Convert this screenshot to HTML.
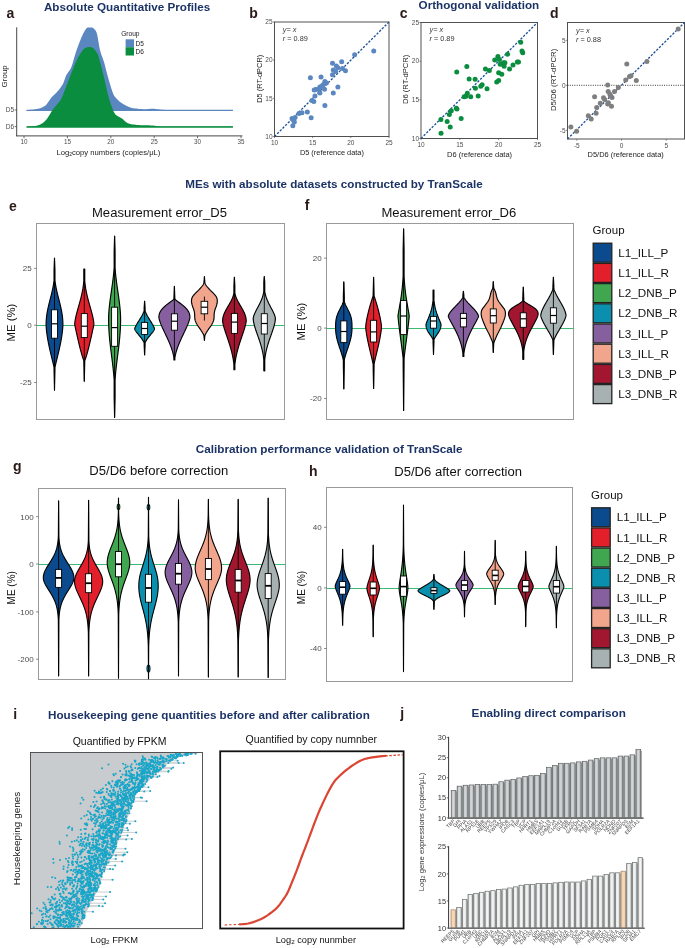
<!DOCTYPE html><html><head><meta charset="utf-8"><style>html,body{margin:0;padding:0;background:#fff;}svg{display:block;font-family:"Liberation Sans", sans-serif;will-change:transform;}</style></head><body><svg width="685" height="948" viewBox="0 0 685 948" font-family='"Liberation Sans", sans-serif'>
<rect x="0.00" y="0.00" width="685.00" height="948.00" fill="#fff" stroke="none" stroke-width="1"/>
<text x="43.90" y="11.00" font-size="11.65" fill="#1c3366" font-weight="bold" textLength="166.40" lengthAdjust="spacingAndGlyphs">Absolute Quantitative Profiles</text>
<text x="6.40" y="18.20" font-size="14.00" fill="#2a1a18" font-weight="bold">a</text>
<polygon points="26.60,110.10 27.51,110.01 28.74,109.92 30.21,109.80 31.83,109.66 33.51,109.50 35.16,109.30 36.68,109.07 38.00,108.80 39.14,108.50 40.19,108.20 41.18,107.86 42.11,107.49 42.99,107.07 43.84,106.59 44.68,106.04 45.50,105.40 46.30,104.64 47.05,103.75 47.77,102.77 48.46,101.74 49.14,100.70 49.82,99.66 50.50,98.69 51.20,97.80 51.91,97.01 52.62,96.29 53.34,95.61 54.05,94.95 54.76,94.29 55.48,93.61 56.19,92.89 56.90,92.10 57.63,91.25 58.37,90.38 59.12,89.47 59.87,88.54 60.60,87.57 61.31,86.58 61.98,85.55 62.60,84.50 63.16,83.39 63.66,82.21 64.12,80.99 64.56,79.75 64.99,78.51 65.42,77.29 65.89,76.11 66.40,75.00 66.95,74.01 67.53,73.14 68.13,72.34 68.74,71.55 69.36,70.72 69.98,69.78 70.60,68.70 71.20,67.40 71.79,65.87 72.36,64.15 72.93,62.29 73.49,60.33 74.07,58.30 74.66,56.26 75.27,54.24 75.90,52.30 76.57,50.36 77.28,48.35 78.01,46.32 78.75,44.29 79.49,42.32 80.22,40.44 80.93,38.68 81.60,37.10 82.25,35.66 82.88,34.31 83.50,33.05 84.11,31.91 84.69,30.87 85.25,29.95 85.79,29.16 86.30,28.50 86.77,28.01 87.20,27.70 87.60,27.54 87.98,27.49 88.34,27.50 88.71,27.55 89.10,27.60 89.50,27.60 89.92,27.55 90.35,27.49 90.78,27.44 91.21,27.41 91.65,27.43 92.10,27.53 92.55,27.71 93.00,28.00 93.46,28.35 93.94,28.71 94.43,29.13 94.92,29.63 95.41,30.26 95.89,31.06 96.35,32.06 96.80,33.30 97.22,34.87 97.62,36.78 98.01,38.93 98.39,41.23 98.77,43.58 99.16,45.89 99.57,48.06 100.00,50.00 100.47,51.74 100.98,53.38 101.50,54.93 102.04,56.42 102.57,57.85 103.08,59.25 103.56,60.63 104.00,62.00 104.39,63.33 104.73,64.58 105.04,65.79 105.33,66.97 105.62,68.15 105.92,69.37 106.24,70.64 106.60,72.00 107.00,73.47 107.42,75.03 107.87,76.66 108.32,78.31 108.78,79.96 109.24,81.56 109.68,83.09 110.10,84.50 110.50,85.82 110.89,87.11 111.27,88.34 111.65,89.51 112.02,90.62 112.38,91.66 112.74,92.62 113.10,93.50 113.43,94.25 113.72,94.88 113.99,95.41 114.26,95.88 114.55,96.31 114.89,96.76 115.30,97.24 115.80,97.80 116.38,98.43 117.02,99.10 117.72,99.79 118.47,100.49 119.27,101.20 120.11,101.89 120.99,102.57 121.90,103.20 122.87,103.82 123.91,104.44 125.01,105.06 126.14,105.66 127.29,106.22 128.44,106.74 129.59,107.21 130.70,107.60 131.81,107.92 132.93,108.17 134.06,108.36 135.19,108.51 136.30,108.62 137.37,108.72 138.41,108.81 139.40,108.90 140.33,108.99 141.20,109.06 142.03,109.12 142.84,109.16 143.62,109.19 144.41,109.20 145.19,109.21 146.00,109.20 146.82,109.17 147.66,109.11 148.49,109.02 149.32,108.93 150.14,108.84 150.95,108.77 151.74,108.72 152.50,108.70 153.24,108.72 153.95,108.78 154.64,108.85 155.31,108.94 155.98,109.03 156.65,109.13 157.32,109.22 158.00,109.30 158.65,109.37 159.23,109.44 159.80,109.51 160.38,109.57 161.00,109.64 161.70,109.70 162.53,109.75 163.50,109.80 164.33,109.84 164.87,109.88 165.33,109.91 165.97,109.93 167.03,109.95 168.72,109.97 171.30,109.99 175.00,110.00 180.41,110.01 187.57,110.01 195.86,110.01 204.67,110.01 213.39,110.01 221.41,110.00 228.12,110.00 232.90,110.00 232.9,110.9 26.6,110.9" fill="#5b87c1"/>
<line x1="26.60" y1="110.30" x2="232.90" y2="110.30" stroke="#5b87c1" stroke-width="1.3"/>
<polygon points="26.60,126.60 27.51,126.52 28.74,126.45 30.21,126.36 31.83,126.24 33.51,126.09 35.16,125.89 36.68,125.63 38.00,125.30 39.12,124.92 40.15,124.52 41.09,124.08 41.99,123.58 42.85,123.00 43.71,122.33 44.58,121.53 45.50,120.60 46.45,119.48 47.39,118.18 48.34,116.73 49.29,115.20 50.25,113.63 51.20,112.07 52.15,110.58 53.10,109.20 54.07,107.93 55.07,106.74 56.07,105.58 57.08,104.45 58.06,103.32 59.00,102.16 59.88,100.97 60.70,99.70 61.42,98.40 62.05,97.12 62.63,95.81 63.16,94.47 63.69,93.08 64.24,91.60 64.83,90.01 65.50,88.30 66.25,86.41 67.04,84.33 67.88,82.13 68.74,79.86 69.61,77.58 70.47,75.33 71.31,73.19 72.10,71.20 72.86,69.33 73.59,67.52 74.30,65.76 75.01,64.07 75.70,62.44 76.40,60.89 77.09,59.40 77.80,58.00 78.52,56.66 79.25,55.38 79.98,54.16 80.71,53.02 81.44,51.96 82.15,51.00 82.84,50.14 83.50,49.40 84.13,48.79 84.74,48.30 85.33,47.93 85.91,47.65 86.47,47.44 87.04,47.30 87.61,47.19 88.20,47.10 88.80,47.03 89.40,47.00 90.00,47.01 90.60,47.08 91.20,47.21 91.80,47.41 92.40,47.71 93.00,48.10 93.61,48.61 94.24,49.23 94.88,49.94 95.51,50.73 96.12,51.56 96.70,52.44 97.23,53.32 97.70,54.20 98.10,55.08 98.44,56.00 98.73,56.94 98.99,57.91 99.23,58.90 99.47,59.91 99.72,60.95 100.00,62.00 100.30,63.06 100.60,64.12 100.90,65.19 101.21,66.29 101.52,67.42 101.84,68.61 102.16,69.87 102.50,71.20 102.85,72.63 103.21,74.15 103.59,75.75 103.97,77.39 104.35,79.06 104.74,80.73 105.12,82.38 105.50,84.00 105.88,85.61 106.25,87.24 106.62,88.88 107.00,90.51 107.38,92.12 107.75,93.68 108.12,95.18 108.50,96.60 108.87,97.94 109.23,99.20 109.59,100.41 109.95,101.57 110.32,102.70 110.69,103.81 111.09,104.90 111.50,106.00 111.92,107.11 112.33,108.23 112.74,109.33 113.17,110.42 113.63,111.46 114.13,112.45 114.69,113.37 115.30,114.20 115.99,114.92 116.75,115.53 117.57,116.07 118.43,116.55 119.30,117.01 120.18,117.47 121.06,117.96 121.90,118.50 122.70,119.11 123.45,119.78 124.19,120.47 124.93,121.17 125.71,121.84 126.55,122.47 127.47,123.03 128.50,123.50 129.69,123.87 131.02,124.17 132.46,124.41 133.95,124.60 135.44,124.75 136.88,124.88 138.21,124.99 139.40,125.10 140.43,125.19 141.35,125.25 142.19,125.28 142.98,125.29 143.72,125.29 144.46,125.28 145.21,125.28 146.00,125.30 146.82,125.32 147.66,125.34 148.49,125.35 149.32,125.37 150.14,125.39 150.95,125.41 151.74,125.45 152.50,125.50 153.22,125.57 153.89,125.65 154.54,125.74 155.17,125.84 155.82,125.94 156.49,126.03 157.21,126.12 158.00,126.20 158.85,126.27 159.73,126.33 160.66,126.39 161.61,126.44 162.60,126.49 163.61,126.54 164.65,126.57 165.70,126.60 166.45,126.62 166.77,126.63 166.93,126.63 167.21,126.62 167.88,126.62 169.22,126.61 171.50,126.60 175.00,126.60 180.31,126.60 187.41,126.60 195.70,126.60 204.53,126.60 213.29,126.60 221.36,126.60 228.10,126.60 232.90,126.60 232.9,127.4 26.6,127.4" fill="#0a8d3e"/>
<line x1="26.60" y1="126.90" x2="232.90" y2="126.90" stroke="#0a8d3e" stroke-width="1.3"/>
<line x1="16.70" y1="27.30" x2="16.70" y2="136.20" stroke="#333" stroke-width="0.9"/>
<line x1="16.20" y1="135.90" x2="242.40" y2="135.90" stroke="#333" stroke-width="0.9"/>
<line x1="24.00" y1="136.00" x2="24.00" y2="138.20" stroke="#333" stroke-width="0.7"/>
<text x="24.00" y="144.30" font-size="6.30" fill="#4d4d4d" text-anchor="middle">10</text>
<line x1="67.40" y1="136.00" x2="67.40" y2="138.20" stroke="#333" stroke-width="0.7"/>
<text x="67.40" y="144.30" font-size="6.30" fill="#4d4d4d" text-anchor="middle">15</text>
<line x1="110.80" y1="136.00" x2="110.80" y2="138.20" stroke="#333" stroke-width="0.7"/>
<text x="110.80" y="144.30" font-size="6.30" fill="#4d4d4d" text-anchor="middle">20</text>
<line x1="154.20" y1="136.00" x2="154.20" y2="138.20" stroke="#333" stroke-width="0.7"/>
<text x="154.20" y="144.30" font-size="6.30" fill="#4d4d4d" text-anchor="middle">25</text>
<line x1="197.60" y1="136.00" x2="197.60" y2="138.20" stroke="#333" stroke-width="0.7"/>
<text x="197.60" y="144.30" font-size="6.30" fill="#4d4d4d" text-anchor="middle">30</text>
<line x1="241.00" y1="136.00" x2="241.00" y2="138.20" stroke="#333" stroke-width="0.7"/>
<text x="241.00" y="144.30" font-size="6.30" fill="#4d4d4d" text-anchor="middle">35</text>
<line x1="14.60" y1="110.00" x2="16.70" y2="110.00" stroke="#333" stroke-width="0.7"/>
<text x="14.00" y="112.20" font-size="6.50" fill="#4d4d4d" text-anchor="end">D5</text>
<line x1="14.60" y1="126.60" x2="16.70" y2="126.60" stroke="#333" stroke-width="0.7"/>
<text x="14.00" y="128.80" font-size="6.50" fill="#4d4d4d" text-anchor="end">D6</text>
<text x="6.60" y="76.30" font-size="8.00" fill="#222" text-anchor="middle" transform="rotate(-90 6.60 76.30)">Group</text>
<text x="56.4" y="154.6" font-size="7.6" fill="#222" textLength="104" lengthAdjust="spacingAndGlyphs">Log<tspan font-size="5" dy="1.5">2</tspan><tspan dy="-1.5">copy numbers (copies/μL)</tspan></text>
<text x="121.20" y="35.80" font-size="6.60" fill="#222">Group</text>
<rect x="125.60" y="39.30" width="8.40" height="7.90" fill="#5b87c1" stroke="none" stroke-width="1"/>
<rect x="125.60" y="47.20" width="8.40" height="8.30" fill="#0a8d3e" stroke="none" stroke-width="1"/>
<text x="135.50" y="45.70" font-size="6.50" fill="#222">D5</text>
<text x="135.50" y="54.00" font-size="6.50" fill="#222">D6</text>
<rect x="274.50" y="22.00" width="114.50" height="114.50" fill="#fff" stroke="#505050" stroke-width="1.0"/>
<line x1="274.50" y1="136.50" x2="274.50" y2="138.10" stroke="#555" stroke-width="0.7"/>
<text x="274.50" y="145.00" font-size="6.50" fill="#4d4d4d" text-anchor="middle">10</text>
<line x1="312.67" y1="136.50" x2="312.67" y2="138.10" stroke="#555" stroke-width="0.7"/>
<text x="312.67" y="145.00" font-size="6.50" fill="#4d4d4d" text-anchor="middle">15</text>
<line x1="350.83" y1="136.50" x2="350.83" y2="138.10" stroke="#555" stroke-width="0.7"/>
<text x="350.83" y="145.00" font-size="6.50" fill="#4d4d4d" text-anchor="middle">20</text>
<line x1="389.00" y1="136.50" x2="389.00" y2="138.10" stroke="#555" stroke-width="0.7"/>
<text x="389.00" y="145.00" font-size="6.50" fill="#4d4d4d" text-anchor="middle">25</text>
<line x1="272.90" y1="136.50" x2="274.50" y2="136.50" stroke="#555" stroke-width="0.7"/>
<text x="272.60" y="138.75" font-size="6.50" fill="#4d4d4d" text-anchor="end">10</text>
<line x1="272.90" y1="98.33" x2="274.50" y2="98.33" stroke="#555" stroke-width="0.7"/>
<text x="272.60" y="100.58" font-size="6.50" fill="#4d4d4d" text-anchor="end">15</text>
<line x1="272.90" y1="60.17" x2="274.50" y2="60.17" stroke="#555" stroke-width="0.7"/>
<text x="272.60" y="62.42" font-size="6.50" fill="#4d4d4d" text-anchor="end">20</text>
<line x1="272.90" y1="22.00" x2="274.50" y2="22.00" stroke="#555" stroke-width="0.7"/>
<text x="272.60" y="24.25" font-size="6.50" fill="#4d4d4d" text-anchor="end">25</text>
<line x1="274.50" y1="136.50" x2="389.00" y2="22.00" stroke="#164d94" stroke-width="1.3" stroke-dasharray="2.3,1.5"/>
<circle cx="373.73" cy="51.01" r="2.5" fill="#5b87c1"/>
<circle cx="354.65" cy="54.82" r="2.5" fill="#5b87c1"/>
<circle cx="341.67" cy="61.69" r="2.5" fill="#5b87c1"/>
<circle cx="332.51" cy="63.22" r="2.5" fill="#5b87c1"/>
<circle cx="336.33" cy="65.89" r="2.5" fill="#5b87c1"/>
<circle cx="337.86" cy="67.80" r="2.5" fill="#5b87c1"/>
<circle cx="333.28" cy="70.09" r="2.5" fill="#5b87c1"/>
<circle cx="335.57" cy="71.62" r="2.5" fill="#5b87c1"/>
<circle cx="342.44" cy="68.56" r="2.5" fill="#5b87c1"/>
<circle cx="345.49" cy="70.85" r="2.5" fill="#5b87c1"/>
<circle cx="332.51" cy="74.67" r="2.5" fill="#5b87c1"/>
<circle cx="310.38" cy="77.72" r="2.5" fill="#5b87c1"/>
<circle cx="321.06" cy="76.96" r="2.5" fill="#5b87c1"/>
<circle cx="324.88" cy="81.54" r="2.5" fill="#5b87c1"/>
<circle cx="323.35" cy="84.59" r="2.5" fill="#5b87c1"/>
<circle cx="319.92" cy="86.88" r="2.5" fill="#5b87c1"/>
<circle cx="318.01" cy="89.17" r="2.5" fill="#5b87c1"/>
<circle cx="314.19" cy="89.94" r="2.5" fill="#5b87c1"/>
<circle cx="315.72" cy="89.56" r="2.5" fill="#5b87c1"/>
<circle cx="324.50" cy="89.17" r="2.5" fill="#5b87c1"/>
<circle cx="337.86" cy="86.88" r="2.5" fill="#5b87c1"/>
<circle cx="319.92" cy="92.99" r="2.5" fill="#5b87c1"/>
<circle cx="333.28" cy="92.99" r="2.5" fill="#5b87c1"/>
<circle cx="314.96" cy="96.04" r="2.5" fill="#5b87c1"/>
<circle cx="311.90" cy="100.62" r="2.5" fill="#5b87c1"/>
<circle cx="313.81" cy="101.39" r="2.5" fill="#5b87c1"/>
<circle cx="324.88" cy="105.58" r="2.5" fill="#5b87c1"/>
<circle cx="307.32" cy="112.07" r="2.5" fill="#5b87c1"/>
<circle cx="301.98" cy="112.84" r="2.5" fill="#5b87c1"/>
<circle cx="298.93" cy="113.60" r="2.5" fill="#5b87c1"/>
<circle cx="295.11" cy="117.42" r="2.5" fill="#5b87c1"/>
<circle cx="292.06" cy="118.56" r="2.5" fill="#5b87c1"/>
<circle cx="293.58" cy="120.47" r="2.5" fill="#5b87c1"/>
<circle cx="294.35" cy="122.00" r="2.5" fill="#5b87c1"/>
<circle cx="292.82" cy="125.81" r="2.5" fill="#5b87c1"/>
<circle cx="311.14" cy="117.80" r="2.5" fill="#5b87c1"/>
<circle cx="326.41" cy="83.07" r="2.5" fill="#5b87c1"/>
<circle cx="321.83" cy="86.12" r="2.5" fill="#5b87c1"/>
<text x="282.80" y="32.00" font-size="7.30" fill="#333" font-style="italic">y= x</text>
<text x="282.8" y="40.8" font-size="7.3" fill="#333"><tspan font-style="italic">r</tspan> = 0.89</text>
<text x="249.30" y="17.80" font-size="14.00" fill="#2a1a18" font-weight="bold">b</text>
<text x="261.70" y="78.80" font-size="7.35" fill="#222" text-anchor="middle" textLength="48.10" lengthAdjust="spacingAndGlyphs" transform="rotate(-90 261.70 78.80)">D5 (RT-dPCR)</text>
<text x="331.90" y="154.90" font-size="7.40" fill="#222" text-anchor="middle" textLength="64.00" lengthAdjust="spacingAndGlyphs">D5 (reference data)</text>
<rect x="421.00" y="22.50" width="116.50" height="116.00" fill="#fff" stroke="#505050" stroke-width="1.0"/>
<line x1="421.00" y1="138.50" x2="421.00" y2="140.10" stroke="#555" stroke-width="0.7"/>
<text x="421.00" y="147.00" font-size="6.50" fill="#4d4d4d" text-anchor="middle">10</text>
<line x1="459.83" y1="138.50" x2="459.83" y2="140.10" stroke="#555" stroke-width="0.7"/>
<text x="459.83" y="147.00" font-size="6.50" fill="#4d4d4d" text-anchor="middle">15</text>
<line x1="498.67" y1="138.50" x2="498.67" y2="140.10" stroke="#555" stroke-width="0.7"/>
<text x="498.67" y="147.00" font-size="6.50" fill="#4d4d4d" text-anchor="middle">20</text>
<line x1="537.50" y1="138.50" x2="537.50" y2="140.10" stroke="#555" stroke-width="0.7"/>
<text x="537.50" y="147.00" font-size="6.50" fill="#4d4d4d" text-anchor="middle">25</text>
<line x1="419.40" y1="138.50" x2="421.00" y2="138.50" stroke="#555" stroke-width="0.7"/>
<text x="419.10" y="140.75" font-size="6.50" fill="#4d4d4d" text-anchor="end">10</text>
<line x1="419.40" y1="99.83" x2="421.00" y2="99.83" stroke="#555" stroke-width="0.7"/>
<text x="419.10" y="102.08" font-size="6.50" fill="#4d4d4d" text-anchor="end">15</text>
<line x1="419.40" y1="61.17" x2="421.00" y2="61.17" stroke="#555" stroke-width="0.7"/>
<text x="419.10" y="63.42" font-size="6.50" fill="#4d4d4d" text-anchor="end">20</text>
<line x1="419.40" y1="22.50" x2="421.00" y2="22.50" stroke="#555" stroke-width="0.7"/>
<text x="419.10" y="24.75" font-size="6.50" fill="#4d4d4d" text-anchor="end">25</text>
<line x1="421.00" y1="138.50" x2="537.50" y2="22.50" stroke="#164d94" stroke-width="1.3" stroke-dasharray="2.3,1.5"/>
<circle cx="520.72" cy="42.14" r="2.5" fill="#0a8d3e"/>
<circle cx="522.74" cy="52.66" r="2.5" fill="#0a8d3e"/>
<circle cx="521.97" cy="51.11" r="2.5" fill="#0a8d3e"/>
<circle cx="507.60" cy="54.21" r="2.5" fill="#0a8d3e"/>
<circle cx="497.89" cy="56.53" r="2.5" fill="#0a8d3e"/>
<circle cx="494.78" cy="60.01" r="2.5" fill="#0a8d3e"/>
<circle cx="499.44" cy="59.62" r="2.5" fill="#0a8d3e"/>
<circle cx="503.33" cy="62.71" r="2.5" fill="#0a8d3e"/>
<circle cx="500.22" cy="64.26" r="2.5" fill="#0a8d3e"/>
<circle cx="504.10" cy="66.19" r="2.5" fill="#0a8d3e"/>
<circle cx="513.03" cy="65.03" r="2.5" fill="#0a8d3e"/>
<circle cx="518.47" cy="61.94" r="2.5" fill="#0a8d3e"/>
<circle cx="517.31" cy="61.94" r="2.5" fill="#0a8d3e"/>
<circle cx="509.54" cy="68.90" r="2.5" fill="#0a8d3e"/>
<circle cx="485.46" cy="68.90" r="2.5" fill="#0a8d3e"/>
<circle cx="489.35" cy="70.45" r="2.5" fill="#0a8d3e"/>
<circle cx="466.82" cy="66.58" r="2.5" fill="#0a8d3e"/>
<circle cx="456.73" cy="71.99" r="2.5" fill="#0a8d3e"/>
<circle cx="498.67" cy="72.77" r="2.5" fill="#0a8d3e"/>
<circle cx="501.77" cy="74.31" r="2.5" fill="#0a8d3e"/>
<circle cx="469.15" cy="78.95" r="2.5" fill="#0a8d3e"/>
<circle cx="475.13" cy="79.19" r="2.5" fill="#0a8d3e"/>
<circle cx="498.67" cy="80.50" r="2.5" fill="#0a8d3e"/>
<circle cx="496.73" cy="82.05" r="2.5" fill="#0a8d3e"/>
<circle cx="482.12" cy="84.68" r="2.5" fill="#0a8d3e"/>
<circle cx="480.80" cy="86.15" r="2.5" fill="#0a8d3e"/>
<circle cx="475.37" cy="88.23" r="2.5" fill="#0a8d3e"/>
<circle cx="487.02" cy="88.77" r="2.5" fill="#0a8d3e"/>
<circle cx="467.29" cy="93.34" r="2.5" fill="#0a8d3e"/>
<circle cx="466.05" cy="96.20" r="2.5" fill="#0a8d3e"/>
<circle cx="464.18" cy="96.66" r="2.5" fill="#0a8d3e"/>
<circle cx="470.71" cy="96.66" r="2.5" fill="#0a8d3e"/>
<circle cx="478.16" cy="95.97" r="2.5" fill="#0a8d3e"/>
<circle cx="456.34" cy="108.34" r="2.5" fill="#0a8d3e"/>
<circle cx="456.96" cy="109.11" r="2.5" fill="#0a8d3e"/>
<circle cx="451.29" cy="110.66" r="2.5" fill="#0a8d3e"/>
<circle cx="449.35" cy="114.53" r="2.5" fill="#0a8d3e"/>
<circle cx="461.15" cy="118.39" r="2.5" fill="#0a8d3e"/>
<circle cx="440.88" cy="119.55" r="2.5" fill="#0a8d3e"/>
<circle cx="447.17" cy="121.49" r="2.5" fill="#0a8d3e"/>
<circle cx="450.20" cy="126.90" r="2.5" fill="#0a8d3e"/>
<circle cx="441.04" cy="133.24" r="2.5" fill="#0a8d3e"/>
<circle cx="504.88" cy="62.71" r="2.5" fill="#0a8d3e"/>
<text x="429.50" y="32.00" font-size="7.30" fill="#333" font-style="italic">y= x</text>
<text x="429.5" y="40.8" font-size="7.3" fill="#333"><tspan font-style="italic">r</tspan> = 0.89</text>
<text x="399.80" y="18.10" font-size="14.00" fill="#2a1a18" font-weight="bold">c</text>
<text x="407.60" y="79.40" font-size="7.35" fill="#222" text-anchor="middle" textLength="49.30" lengthAdjust="spacingAndGlyphs" transform="rotate(-90 407.60 79.40)">D6 (RT-dPCR)</text>
<text x="479.60" y="157.00" font-size="7.40" fill="#222" text-anchor="middle" textLength="65.00" lengthAdjust="spacingAndGlyphs">D6 (reference data)</text>
<text x="418.60" y="8.60" font-size="11.67" fill="#1c3366" font-weight="bold" textLength="120.60" lengthAdjust="spacingAndGlyphs">Orthogonal validation</text>
<rect x="567.50" y="22.50" width="117.00" height="116.50" fill="#fff" stroke="#505050" stroke-width="1.0"/>
<line x1="576.80" y1="139.00" x2="576.80" y2="140.60" stroke="#555" stroke-width="0.7"/>
<text x="576.80" y="147.50" font-size="6.50" fill="#4d4d4d" text-anchor="middle">-5</text>
<line x1="565.90" y1="130.30" x2="567.50" y2="130.30" stroke="#555" stroke-width="0.7"/>
<text x="565.60" y="132.55" font-size="6.50" fill="#4d4d4d" text-anchor="end">-5</text>
<line x1="621.50" y1="139.00" x2="621.50" y2="140.60" stroke="#555" stroke-width="0.7"/>
<text x="621.50" y="147.50" font-size="6.50" fill="#4d4d4d" text-anchor="middle">0</text>
<line x1="565.90" y1="85.30" x2="567.50" y2="85.30" stroke="#555" stroke-width="0.7"/>
<text x="565.60" y="87.55" font-size="6.50" fill="#4d4d4d" text-anchor="end">0</text>
<line x1="666.20" y1="139.00" x2="666.20" y2="140.60" stroke="#555" stroke-width="0.7"/>
<text x="666.20" y="147.50" font-size="6.50" fill="#4d4d4d" text-anchor="middle">5</text>
<line x1="565.90" y1="40.30" x2="567.50" y2="40.30" stroke="#555" stroke-width="0.7"/>
<text x="565.60" y="42.55" font-size="6.50" fill="#4d4d4d" text-anchor="end">5</text>
<line x1="567.50" y1="85.30" x2="684.50" y2="85.30" stroke="#222" stroke-width="0.9" stroke-dasharray="1,1.3"/>
<line x1="567.50" y1="139.00" x2="684.50" y2="22.50" stroke="#164d94" stroke-width="1.3" stroke-dasharray="2.3,1.5"/>
<circle cx="678.20" cy="29.00" r="2.5" fill="#7f7f7f"/>
<circle cx="626.80" cy="64.10" r="2.5" fill="#7f7f7f"/>
<circle cx="646.90" cy="61.40" r="2.5" fill="#7f7f7f"/>
<circle cx="631.00" cy="75.80" r="2.5" fill="#7f7f7f"/>
<circle cx="625.70" cy="80.00" r="2.5" fill="#7f7f7f"/>
<circle cx="636.30" cy="80.40" r="2.5" fill="#7f7f7f"/>
<circle cx="607.70" cy="85.10" r="2.5" fill="#7f7f7f"/>
<circle cx="618.30" cy="87.40" r="2.5" fill="#7f7f7f"/>
<circle cx="614.50" cy="91.40" r="2.5" fill="#7f7f7f"/>
<circle cx="608.20" cy="91.40" r="2.5" fill="#7f7f7f"/>
<circle cx="609.90" cy="94.20" r="2.5" fill="#7f7f7f"/>
<circle cx="612.00" cy="97.40" r="2.5" fill="#7f7f7f"/>
<circle cx="594.60" cy="96.70" r="2.5" fill="#7f7f7f"/>
<circle cx="603.50" cy="97.80" r="2.5" fill="#7f7f7f"/>
<circle cx="604.60" cy="99.50" r="2.5" fill="#7f7f7f"/>
<circle cx="608.40" cy="102.70" r="2.5" fill="#7f7f7f"/>
<circle cx="600.30" cy="103.30" r="2.5" fill="#7f7f7f"/>
<circle cx="607.70" cy="104.10" r="2.5" fill="#7f7f7f"/>
<circle cx="611.50" cy="106.30" r="2.5" fill="#7f7f7f"/>
<circle cx="596.70" cy="107.50" r="2.5" fill="#7f7f7f"/>
<circle cx="596.10" cy="113.30" r="2.5" fill="#7f7f7f"/>
<circle cx="588.30" cy="115.80" r="2.5" fill="#7f7f7f"/>
<circle cx="591.20" cy="119.00" r="2.5" fill="#7f7f7f"/>
<circle cx="570.90" cy="127.00" r="2.5" fill="#7f7f7f"/>
<circle cx="576.60" cy="131.20" r="2.5" fill="#7f7f7f"/>
<circle cx="629.50" cy="76.50" r="2.5" fill="#7f7f7f"/>
<circle cx="610.50" cy="96.00" r="2.5" fill="#7f7f7f"/>
<text x="576.00" y="33.30" font-size="7.30" fill="#333" font-style="italic">y= x</text>
<text x="576.0" y="42.2" font-size="7.3" fill="#333"><tspan font-style="italic">r</tspan> = 0.88</text>
<text x="549.90" y="18.00" font-size="14.00" fill="#2a1a18" font-weight="bold">d</text>
<text x="556.10" y="79.90" font-size="7.50" fill="#222" text-anchor="middle" textLength="62.40" lengthAdjust="spacingAndGlyphs" transform="rotate(-90 556.10 79.90)">D5/D6 (RT-dPCR)</text>
<text x="625.70" y="157.00" font-size="7.45" fill="#222" text-anchor="middle" textLength="76.20" lengthAdjust="spacingAndGlyphs">D5/D6 (reference data)</text>
<text x="185.30" y="187.90" font-size="11.63" fill="#1c3366" font-weight="bold" textLength="297.40" lengthAdjust="spacingAndGlyphs">MEs with absolute datasets constructed by TranScale</text>
<rect x="36.50" y="223.50" width="248.00" height="196.00" fill="#fff" stroke="#9a9a9a" stroke-width="1.0"/>
<line x1="36.50" y1="325.50" x2="285.00" y2="325.50" stroke="#3cb975" stroke-width="1.0"/>
<line x1="34.10" y1="268.40" x2="36.50" y2="268.40" stroke="#555" stroke-width="0.7"/>
<text x="31.60" y="271.20" font-size="8.00" fill="#4d4d4d" text-anchor="end">25</text>
<line x1="34.10" y1="325.20" x2="36.50" y2="325.20" stroke="#555" stroke-width="0.7"/>
<text x="31.60" y="328.00" font-size="8.00" fill="#4d4d4d" text-anchor="end">0</text>
<line x1="34.10" y1="382.50" x2="36.50" y2="382.50" stroke="#555" stroke-width="0.7"/>
<text x="31.60" y="385.30" font-size="8.00" fill="#4d4d4d" text-anchor="end">-25</text>
<polygon points="54.50,258.10 54.53,258.76 54.55,259.42 54.58,260.08 54.60,260.74 54.63,261.41 54.66,262.07 54.68,262.73 54.71,263.39 54.73,264.05 54.76,264.71 54.78,265.37 54.81,266.03 54.84,266.69 54.86,267.35 54.89,268.02 54.91,268.68 54.94,269.34 54.95,270.00 54.95,270.66 54.95,271.32 54.95,271.98 54.95,272.64 54.95,273.30 54.95,273.96 54.95,274.62 54.95,275.29 54.95,275.95 54.95,276.61 54.95,277.27 54.95,277.93 54.95,278.59 54.95,279.25 54.95,279.91 54.98,280.57 55.06,281.24 55.14,281.90 55.22,282.56 55.32,283.22 55.41,283.88 55.52,284.54 55.63,285.20 55.74,285.86 55.86,286.52 55.98,287.18 56.11,287.85 56.24,288.51 56.38,289.17 56.52,289.83 56.67,290.49 56.82,291.15 56.97,291.81 57.12,292.47 57.28,293.13 57.44,293.79 57.60,294.46 57.77,295.12 57.93,295.78 58.10,296.44 58.27,297.10 58.44,297.76 58.61,298.42 58.78,299.08 58.95,299.74 59.12,300.40 59.28,301.07 59.45,301.73 59.62,302.39 59.78,303.05 59.95,303.71 60.11,304.37 60.27,305.03 60.42,305.69 60.58,306.35 60.73,307.01 60.87,307.68 61.02,308.34 61.16,309.00 61.29,309.66 61.42,310.32 61.55,310.98 61.67,311.64 61.79,312.30 61.90,312.96 62.01,313.62 62.11,314.29 62.21,314.95 62.30,315.61 62.38,316.27 62.46,316.93 62.53,317.59 62.60,318.25 62.66,318.91 62.71,319.57 62.76,320.23 62.80,320.89 62.83,321.56 62.86,322.22 62.88,322.88 62.89,323.54 62.90,324.20 62.90,324.86 62.88,325.52 62.85,326.18 62.81,326.84 62.77,327.50 62.72,328.17 62.67,328.83 62.61,329.49 62.54,330.15 62.47,330.81 62.40,331.47 62.32,332.13 62.24,332.79 62.15,333.45 62.07,334.12 61.97,334.78 61.88,335.44 61.78,336.10 61.67,336.76 61.57,337.42 61.46,338.08 61.35,338.74 61.23,339.40 61.11,340.06 60.99,340.73 60.87,341.39 60.75,342.05 60.62,342.71 60.49,343.37 60.36,344.03 60.22,344.69 60.09,345.35 59.95,346.01 59.81,346.67 59.66,347.34 59.52,348.00 59.37,348.66 59.22,349.32 59.08,349.98 58.92,350.64 58.77,351.30 58.62,351.96 58.46,352.62 58.31,353.28 58.15,353.95 57.99,354.61 57.83,355.27 57.67,355.93 57.51,356.59 57.35,357.25 57.19,357.91 57.03,358.57 56.87,359.23 56.70,359.89 56.54,360.56 56.38,361.22 56.22,361.88 56.06,362.54 55.90,363.20 55.74,363.86 55.59,364.52 55.43,365.18 55.28,365.84 55.13,366.50 54.99,367.17 54.95,367.83 54.95,368.49 54.95,369.15 54.95,369.81 54.94,370.47 54.92,371.13 54.91,371.79 54.89,372.45 54.88,373.11 54.86,373.77 54.85,374.44 54.83,375.10 54.82,375.76 54.81,376.42 54.79,377.08 54.78,377.74 54.76,378.40 54.75,379.06 54.73,379.72 54.72,380.38 54.70,381.05 54.69,381.71 54.67,382.37 54.66,383.03 54.65,383.69 54.63,384.35 54.62,385.01 54.60,385.67 54.59,386.33 54.57,387.00 54.56,387.66 54.54,388.32 54.53,388.98 54.51,389.64 54.50,390.30 54.50,390.30 54.49,389.64 54.47,388.98 54.46,388.32 54.44,387.66 54.43,387.00 54.41,386.33 54.40,385.67 54.38,385.01 54.37,384.35 54.35,383.69 54.34,383.03 54.33,382.37 54.31,381.71 54.30,381.05 54.28,380.38 54.27,379.72 54.25,379.06 54.24,378.40 54.22,377.74 54.21,377.08 54.19,376.42 54.18,375.76 54.17,375.10 54.15,374.44 54.14,373.77 54.12,373.11 54.11,372.45 54.09,371.79 54.08,371.13 54.06,370.47 54.05,369.81 54.05,369.15 54.05,368.49 54.05,367.83 54.01,367.17 53.87,366.50 53.72,365.84 53.57,365.18 53.41,364.52 53.26,363.86 53.10,363.20 52.94,362.54 52.78,361.88 52.62,361.22 52.46,360.56 52.30,359.89 52.13,359.23 51.97,358.57 51.81,357.91 51.65,357.25 51.49,356.59 51.33,355.93 51.17,355.27 51.01,354.61 50.85,353.95 50.69,353.28 50.54,352.62 50.38,351.96 50.23,351.30 50.08,350.64 49.92,349.98 49.78,349.32 49.63,348.66 49.48,348.00 49.34,347.34 49.19,346.67 49.05,346.01 48.91,345.35 48.78,344.69 48.64,344.03 48.51,343.37 48.38,342.71 48.25,342.05 48.13,341.39 48.01,340.73 47.89,340.06 47.77,339.40 47.65,338.74 47.54,338.08 47.43,337.42 47.33,336.76 47.22,336.10 47.12,335.44 47.03,334.78 46.93,334.12 46.85,333.45 46.76,332.79 46.68,332.13 46.60,331.47 46.53,330.81 46.46,330.15 46.39,329.49 46.33,328.83 46.28,328.17 46.23,327.50 46.19,326.84 46.15,326.18 46.12,325.52 46.10,324.86 46.10,324.20 46.11,323.54 46.12,322.88 46.14,322.22 46.17,321.56 46.20,320.89 46.24,320.23 46.29,319.57 46.34,318.91 46.40,318.25 46.47,317.59 46.54,316.93 46.62,316.27 46.70,315.61 46.79,314.95 46.89,314.29 46.99,313.62 47.10,312.96 47.21,312.30 47.33,311.64 47.45,310.98 47.58,310.32 47.71,309.66 47.84,309.00 47.98,308.34 48.13,307.68 48.27,307.01 48.42,306.35 48.58,305.69 48.73,305.03 48.89,304.37 49.05,303.71 49.22,303.05 49.38,302.39 49.55,301.73 49.72,301.07 49.88,300.40 50.05,299.74 50.22,299.08 50.39,298.42 50.56,297.76 50.73,297.10 50.90,296.44 51.07,295.78 51.23,295.12 51.40,294.46 51.56,293.79 51.72,293.13 51.88,292.47 52.03,291.81 52.18,291.15 52.33,290.49 52.48,289.83 52.62,289.17 52.76,288.51 52.89,287.85 53.02,287.18 53.14,286.52 53.26,285.86 53.37,285.20 53.48,284.54 53.59,283.88 53.68,283.22 53.78,282.56 53.86,281.90 53.94,281.24 54.02,280.57 54.05,279.91 54.05,279.25 54.05,278.59 54.05,277.93 54.05,277.27 54.05,276.61 54.05,275.95 54.05,275.29 54.05,274.62 54.05,273.96 54.05,273.30 54.05,272.64 54.05,271.98 54.05,271.32 54.05,270.66 54.05,270.00 54.06,269.34 54.09,268.68 54.11,268.02 54.14,267.35 54.16,266.69 54.19,266.03 54.22,265.37 54.24,264.71 54.27,264.05 54.29,263.39 54.32,262.73 54.34,262.07 54.37,261.41 54.40,260.74 54.42,260.08 54.45,259.42 54.47,258.76 54.50,258.10" fill="#0b4a8c" stroke="#000" stroke-width="1.15" stroke-linejoin="round"/>
<line x1="54.50" y1="258.10" x2="54.50" y2="390.30" stroke="#000" stroke-width="0.9"/>
<rect x="51.50" y="309.80" width="6.00" height="28.40" fill="#fff" stroke="#000" stroke-width="0.9"/>
<line x1="51.50" y1="323.80" x2="57.50" y2="323.80" stroke="#000" stroke-width="1.2"/>
<polygon points="84.75,269.10 84.75,269.66 84.75,270.22 84.75,270.78 84.75,271.34 84.75,271.91 84.75,272.47 84.75,273.03 84.75,273.59 84.75,274.15 84.75,274.71 84.75,275.27 84.75,275.83 84.75,276.39 84.75,276.95 84.75,277.52 84.75,278.08 84.75,278.64 84.75,279.20 84.75,279.76 84.75,280.32 84.76,280.88 84.81,281.44 84.86,282.00 84.92,282.56 84.98,283.12 85.04,283.69 85.10,284.25 85.17,284.81 85.24,285.37 85.32,285.93 85.40,286.49 85.48,287.05 85.57,287.61 85.65,288.17 85.75,288.74 85.84,289.30 85.94,289.86 86.04,290.42 86.15,290.98 86.26,291.54 86.37,292.10 86.48,292.66 86.60,293.22 86.72,293.78 86.84,294.35 86.97,294.91 87.10,295.47 87.23,296.03 87.36,296.59 87.50,297.15 87.64,297.71 87.78,298.27 87.92,298.83 88.07,299.39 88.21,299.96 88.36,300.52 88.51,301.08 88.67,301.64 88.82,302.20 88.98,302.76 89.13,303.32 89.29,303.88 89.45,304.44 89.61,305.00 89.77,305.56 89.93,306.13 90.09,306.69 90.25,307.25 90.41,307.81 90.56,308.37 90.72,308.93 90.88,309.49 91.04,310.05 91.19,310.61 91.35,311.18 91.50,311.74 91.65,312.30 91.80,312.86 91.95,313.42 92.09,313.98 92.24,314.54 92.38,315.10 92.51,315.66 92.64,316.22 92.77,316.79 92.89,317.35 93.01,317.91 93.13,318.47 93.24,319.03 93.34,319.59 93.44,320.15 93.53,320.71 93.61,321.27 93.69,321.83 93.75,322.39 93.81,322.96 93.86,323.52 93.89,324.08 93.87,324.64 93.75,325.20 93.64,325.76 93.52,326.32 93.40,326.88 93.28,327.44 93.16,328.00 93.04,328.57 92.92,329.13 92.80,329.69 92.68,330.25 92.56,330.81 92.44,331.37 92.32,331.93 92.20,332.49 92.07,333.05 91.95,333.62 91.83,334.18 91.70,334.74 91.58,335.30 91.45,335.86 91.33,336.42 91.20,336.98 91.07,337.54 90.95,338.10 90.82,338.66 90.69,339.23 90.56,339.79 90.43,340.35 90.30,340.91 90.17,341.47 90.03,342.03 89.90,342.59 89.77,343.15 89.63,343.71 89.50,344.27 89.36,344.84 89.22,345.40 89.09,345.96 88.95,346.52 88.81,347.08 88.66,347.64 88.52,348.20 88.38,348.76 88.23,349.32 88.09,349.88 87.94,350.44 87.79,351.01 87.64,351.57 87.48,352.13 87.33,352.69 87.17,353.25 87.01,353.81 86.85,354.37 86.69,354.93 86.52,355.49 86.35,356.06 86.18,356.62 86.00,357.18 85.82,357.74 85.63,358.30 85.44,358.86 85.23,359.42 85.02,359.98 84.78,360.54 84.75,361.10 84.74,361.67 84.73,362.23 84.72,362.79 84.71,363.35 84.69,363.91 84.68,364.47 84.67,365.03 84.66,365.59 84.64,366.15 84.63,366.71 84.62,367.27 84.60,367.84 84.59,368.40 84.58,368.96 84.57,369.52 84.55,370.08 84.54,370.64 84.53,371.20 84.52,371.76 84.50,372.32 84.49,372.88 84.48,373.45 84.47,374.01 84.45,374.57 84.44,375.13 84.43,375.69 84.41,376.25 84.40,376.81 84.39,377.37 84.38,377.93 84.36,378.50 84.35,379.06 84.34,379.62 84.33,380.18 84.31,380.74 84.30,381.30 84.30,381.30 84.29,380.74 84.27,380.18 84.26,379.62 84.25,379.06 84.24,378.50 84.22,377.93 84.21,377.37 84.20,376.81 84.19,376.25 84.17,375.69 84.16,375.13 84.15,374.57 84.13,374.01 84.12,373.45 84.11,372.88 84.10,372.32 84.08,371.76 84.07,371.20 84.06,370.64 84.05,370.08 84.03,369.52 84.02,368.96 84.01,368.40 84.00,367.84 83.98,367.27 83.97,366.71 83.96,366.15 83.94,365.59 83.93,365.03 83.92,364.47 83.91,363.91 83.89,363.35 83.88,362.79 83.87,362.23 83.86,361.67 83.85,361.10 83.82,360.54 83.58,359.98 83.37,359.42 83.16,358.86 82.97,358.30 82.78,357.74 82.60,357.18 82.42,356.62 82.25,356.06 82.08,355.49 81.91,354.93 81.75,354.37 81.59,353.81 81.43,353.25 81.27,352.69 81.12,352.13 80.96,351.57 80.81,351.01 80.66,350.44 80.51,349.88 80.37,349.32 80.22,348.76 80.08,348.20 79.94,347.64 79.79,347.08 79.65,346.52 79.51,345.96 79.38,345.40 79.24,344.84 79.10,344.27 78.97,343.71 78.83,343.15 78.70,342.59 78.57,342.03 78.43,341.47 78.30,340.91 78.17,340.35 78.04,339.79 77.91,339.23 77.78,338.66 77.65,338.10 77.53,337.54 77.40,336.98 77.27,336.42 77.15,335.86 77.02,335.30 76.90,334.74 76.77,334.18 76.65,333.62 76.53,333.05 76.40,332.49 76.28,331.93 76.16,331.37 76.04,330.81 75.92,330.25 75.80,329.69 75.68,329.13 75.56,328.57 75.44,328.00 75.32,327.44 75.20,326.88 75.08,326.32 74.96,325.76 74.85,325.20 74.73,324.64 74.71,324.08 74.74,323.52 74.79,322.96 74.85,322.39 74.91,321.83 74.99,321.27 75.07,320.71 75.16,320.15 75.26,319.59 75.36,319.03 75.47,318.47 75.59,317.91 75.71,317.35 75.83,316.79 75.96,316.22 76.09,315.66 76.22,315.10 76.36,314.54 76.51,313.98 76.65,313.42 76.80,312.86 76.95,312.30 77.10,311.74 77.25,311.18 77.41,310.61 77.56,310.05 77.72,309.49 77.88,308.93 78.04,308.37 78.19,307.81 78.35,307.25 78.51,306.69 78.67,306.13 78.83,305.56 78.99,305.00 79.15,304.44 79.31,303.88 79.47,303.32 79.62,302.76 79.78,302.20 79.93,301.64 80.09,301.08 80.24,300.52 80.39,299.96 80.53,299.39 80.68,298.83 80.82,298.27 80.96,297.71 81.10,297.15 81.24,296.59 81.37,296.03 81.50,295.47 81.63,294.91 81.76,294.35 81.88,293.78 82.00,293.22 82.12,292.66 82.23,292.10 82.34,291.54 82.45,290.98 82.56,290.42 82.66,289.86 82.76,289.30 82.85,288.74 82.95,288.17 83.03,287.61 83.12,287.05 83.20,286.49 83.28,285.93 83.36,285.37 83.43,284.81 83.50,284.25 83.56,283.69 83.62,283.12 83.68,282.56 83.74,282.00 83.79,281.44 83.84,280.88 83.85,280.32 83.85,279.76 83.85,279.20 83.85,278.64 83.85,278.08 83.85,277.52 83.85,276.95 83.85,276.39 83.85,275.83 83.85,275.27 83.85,274.71 83.85,274.15 83.85,273.59 83.85,273.03 83.85,272.47 83.85,271.91 83.85,271.34 83.85,270.78 83.85,270.22 83.85,269.66 83.85,269.10" fill="#e21f2b" stroke="#000" stroke-width="1.15" stroke-linejoin="round"/>
<line x1="84.30" y1="269.10" x2="84.30" y2="381.30" stroke="#000" stroke-width="0.9"/>
<rect x="81.30" y="313.60" width="6.00" height="24.00" fill="#fff" stroke="#000" stroke-width="0.9"/>
<line x1="81.30" y1="326.20" x2="87.30" y2="326.20" stroke="#000" stroke-width="1.2"/>
<polygon points="114.60,236.00 114.63,236.91 114.65,237.81 114.68,238.72 114.71,239.63 114.74,240.53 114.76,241.44 114.79,242.35 114.82,243.26 114.84,244.16 114.87,245.07 114.90,245.98 114.92,246.88 114.95,247.79 114.98,248.70 115.01,249.60 115.03,250.51 115.05,251.42 115.05,252.33 115.05,253.23 115.05,254.14 115.05,255.05 115.05,255.95 115.05,256.86 115.05,257.77 115.05,258.68 115.05,259.58 115.05,260.49 115.05,261.40 115.05,262.30 115.05,263.21 115.05,264.12 115.05,265.02 115.05,265.93 115.05,266.84 115.05,267.75 115.12,268.65 115.18,269.56 115.26,270.47 115.33,271.37 115.41,272.28 115.50,273.19 115.59,274.09 115.68,275.00 115.78,275.91 115.88,276.81 115.98,277.72 116.09,278.63 116.20,279.54 116.31,280.44 116.43,281.35 116.55,282.26 116.67,283.16 116.79,284.07 116.92,284.98 117.04,285.88 117.17,286.79 117.30,287.70 117.43,288.61 117.56,289.51 117.69,290.42 117.83,291.33 117.96,292.23 118.09,293.14 118.22,294.05 118.35,294.95 118.48,295.86 118.61,296.77 118.74,297.68 118.86,298.58 118.98,299.49 119.11,300.40 119.22,301.30 119.34,302.21 119.45,303.12 119.56,304.02 119.66,304.93 119.76,305.84 119.86,306.75 119.95,307.65 120.04,308.56 120.12,309.47 120.20,310.37 120.27,311.28 120.34,312.19 120.40,313.09 120.45,314.00 120.49,314.91 120.53,315.82 120.56,316.72 120.59,317.63 120.60,318.54 120.60,319.44 120.60,320.35 120.59,321.26 120.57,322.16 120.56,323.07 120.53,323.98 120.51,324.89 120.48,325.79 120.44,326.70 120.40,327.61 120.36,328.51 120.31,329.42 120.26,330.33 120.20,331.24 120.14,332.14 120.08,333.05 120.01,333.96 119.94,334.86 119.87,335.77 119.79,336.68 119.71,337.58 119.63,338.49 119.54,339.40 119.45,340.30 119.36,341.21 119.26,342.12 119.17,343.03 119.07,343.93 118.97,344.84 118.86,345.75 118.75,346.65 118.65,347.56 118.54,348.47 118.43,349.38 118.31,350.28 118.20,351.19 118.09,352.10 117.97,353.00 117.86,353.91 117.74,354.82 117.63,355.72 117.51,356.63 117.39,357.54 117.28,358.44 117.16,359.35 117.05,360.26 116.94,361.17 116.82,362.07 116.71,362.98 116.60,363.89 116.50,364.79 116.39,365.70 116.29,366.61 116.18,367.51 116.08,368.42 115.99,369.33 115.89,370.24 115.80,371.14 115.71,372.05 115.62,372.96 115.54,373.86 115.46,374.77 115.38,375.68 115.31,376.58 115.24,377.49 115.17,378.40 115.11,379.31 115.05,380.21 115.05,381.12 115.05,382.03 115.05,382.93 115.05,383.84 115.05,384.75 115.05,385.65 115.05,386.56 115.05,387.47 115.05,388.38 115.05,389.28 115.05,390.19 115.05,391.10 115.05,392.00 115.05,392.91 115.05,393.82 115.05,394.73 115.05,395.63 115.05,396.54 115.05,397.45 115.04,398.35 115.02,399.26 115.00,400.17 114.98,401.07 114.95,401.98 114.93,402.89 114.91,403.79 114.89,404.70 114.87,405.61 114.85,406.52 114.83,407.42 114.81,408.33 114.79,409.24 114.77,410.14 114.75,411.05 114.73,411.96 114.70,412.86 114.68,413.77 114.66,414.68 114.64,415.59 114.62,416.49 114.60,417.40 114.60,417.40 114.58,416.49 114.56,415.59 114.54,414.68 114.52,413.77 114.50,412.86 114.47,411.96 114.45,411.05 114.43,410.14 114.41,409.24 114.39,408.33 114.37,407.42 114.35,406.52 114.33,405.61 114.31,404.70 114.29,403.79 114.27,402.89 114.25,401.98 114.22,401.07 114.20,400.17 114.18,399.26 114.16,398.35 114.15,397.45 114.15,396.54 114.15,395.63 114.15,394.73 114.15,393.82 114.15,392.91 114.15,392.00 114.15,391.10 114.15,390.19 114.15,389.28 114.15,388.38 114.15,387.47 114.15,386.56 114.15,385.65 114.15,384.75 114.15,383.84 114.15,382.93 114.15,382.03 114.15,381.12 114.15,380.21 114.09,379.31 114.03,378.40 113.96,377.49 113.89,376.58 113.82,375.68 113.74,374.77 113.66,373.86 113.58,372.96 113.49,372.05 113.40,371.14 113.31,370.24 113.21,369.33 113.12,368.42 113.02,367.51 112.91,366.61 112.81,365.70 112.70,364.79 112.60,363.89 112.49,362.98 112.38,362.07 112.26,361.17 112.15,360.26 112.04,359.35 111.92,358.44 111.81,357.54 111.69,356.63 111.57,355.72 111.46,354.82 111.34,353.91 111.23,353.00 111.11,352.10 111.00,351.19 110.89,350.28 110.77,349.38 110.66,348.47 110.55,347.56 110.45,346.65 110.34,345.75 110.23,344.84 110.13,343.93 110.03,343.03 109.94,342.12 109.84,341.21 109.75,340.30 109.66,339.40 109.57,338.49 109.49,337.58 109.41,336.68 109.33,335.77 109.26,334.86 109.19,333.96 109.12,333.05 109.06,332.14 109.00,331.24 108.94,330.33 108.89,329.42 108.84,328.51 108.80,327.61 108.76,326.70 108.72,325.79 108.69,324.89 108.67,323.98 108.64,323.07 108.63,322.16 108.61,321.26 108.60,320.35 108.60,319.44 108.60,318.54 108.61,317.63 108.64,316.72 108.67,315.82 108.71,314.91 108.75,314.00 108.80,313.09 108.86,312.19 108.93,311.28 109.00,310.37 109.08,309.47 109.16,308.56 109.25,307.65 109.34,306.75 109.44,305.84 109.54,304.93 109.64,304.02 109.75,303.12 109.86,302.21 109.98,301.30 110.09,300.40 110.22,299.49 110.34,298.58 110.46,297.68 110.59,296.77 110.72,295.86 110.85,294.95 110.98,294.05 111.11,293.14 111.24,292.23 111.37,291.33 111.51,290.42 111.64,289.51 111.77,288.61 111.90,287.70 112.03,286.79 112.16,285.88 112.28,284.98 112.41,284.07 112.53,283.16 112.65,282.26 112.77,281.35 112.89,280.44 113.00,279.54 113.11,278.63 113.22,277.72 113.32,276.81 113.42,275.91 113.52,275.00 113.61,274.09 113.70,273.19 113.79,272.28 113.87,271.37 113.94,270.47 114.02,269.56 114.08,268.65 114.15,267.75 114.15,266.84 114.15,265.93 114.15,265.02 114.15,264.12 114.15,263.21 114.15,262.30 114.15,261.40 114.15,260.49 114.15,259.58 114.15,258.68 114.15,257.77 114.15,256.86 114.15,255.95 114.15,255.05 114.15,254.14 114.15,253.23 114.15,252.33 114.15,251.42 114.17,250.51 114.19,249.60 114.22,248.70 114.25,247.79 114.28,246.88 114.30,245.98 114.33,245.07 114.36,244.16 114.38,243.26 114.41,242.35 114.44,241.44 114.46,240.53 114.49,239.63 114.52,238.72 114.55,237.81 114.57,236.91 114.60,236.00" fill="#40a64f" stroke="#000" stroke-width="1.15" stroke-linejoin="round"/>
<line x1="114.60" y1="236.00" x2="114.60" y2="417.40" stroke="#000" stroke-width="0.9"/>
<rect x="111.60" y="307.20" width="6.00" height="39.10" fill="#fff" stroke="#000" stroke-width="0.9"/>
<line x1="111.60" y1="327.60" x2="117.60" y2="327.60" stroke="#000" stroke-width="1.2"/>
<polygon points="144.60,301.20 144.62,301.47 144.64,301.74 144.65,302.01 144.67,302.27 144.69,302.54 144.71,302.81 144.73,303.08 144.75,303.35 144.76,303.62 144.78,303.88 144.80,304.15 144.82,304.42 144.84,304.69 144.86,304.96 144.87,305.23 144.89,305.50 144.91,305.76 144.93,306.03 144.95,306.30 144.97,306.57 144.98,306.84 145.00,307.11 145.02,307.38 145.04,307.64 145.05,307.91 145.05,308.18 145.05,308.45 145.05,308.72 145.05,308.99 145.05,309.25 145.05,309.52 145.05,309.79 145.05,310.06 145.05,310.33 145.06,310.60 145.13,310.87 145.22,311.13 145.31,311.40 145.40,311.67 145.50,311.94 145.60,312.21 145.71,312.48 145.82,312.75 145.93,313.01 146.05,313.28 146.17,313.55 146.30,313.82 146.43,314.09 146.56,314.36 146.69,314.62 146.83,314.89 146.97,315.16 147.11,315.43 147.26,315.70 147.41,315.97 147.56,316.24 147.71,316.50 147.86,316.77 148.02,317.04 148.18,317.31 148.34,317.58 148.50,317.85 148.66,318.12 148.82,318.38 148.99,318.65 149.15,318.92 149.32,319.19 149.49,319.46 149.66,319.73 149.83,320.00 150.00,320.26 150.17,320.53 150.34,320.80 150.50,321.07 150.67,321.34 150.84,321.61 151.01,321.87 151.18,322.14 151.35,322.41 151.51,322.68 151.68,322.95 151.84,323.22 152.01,323.49 152.17,323.75 152.33,324.02 152.48,324.29 152.64,324.56 152.79,324.83 152.94,325.10 153.09,325.37 153.23,325.63 153.37,325.90 153.51,326.17 153.64,326.44 153.76,326.71 153.89,326.98 154.00,327.24 154.11,327.51 154.21,327.78 154.30,328.05 154.38,328.32 154.45,328.59 154.50,328.86 154.46,329.12 154.37,329.39 154.25,329.66 154.12,329.93 153.98,330.20 153.83,330.47 153.66,330.74 153.49,331.00 153.31,331.27 153.13,331.54 152.94,331.81 152.74,332.08 152.54,332.35 152.33,332.61 152.12,332.88 151.91,333.15 151.70,333.42 151.48,333.69 151.26,333.96 151.04,334.23 150.82,334.49 150.60,334.76 150.38,335.03 150.15,335.30 149.93,335.57 149.71,335.84 149.49,336.10 149.27,336.37 149.05,336.64 148.83,336.91 148.62,337.18 148.41,337.45 148.20,337.72 147.99,337.98 147.79,338.25 147.59,338.52 147.39,338.79 147.20,339.06 147.01,339.33 146.82,339.60 146.64,339.86 146.47,340.13 146.30,340.40 146.14,340.67 145.98,340.94 145.83,341.21 145.68,341.47 145.55,341.74 145.42,342.01 145.29,342.28 145.18,342.55 145.07,342.82 145.05,343.09 145.05,343.35 145.05,343.62 145.05,343.89 145.05,344.16 145.05,344.43 145.05,344.70 145.05,344.97 145.04,345.23 145.03,345.50 145.02,345.77 145.00,346.04 144.99,346.31 144.98,346.58 144.97,346.84 144.95,347.11 144.94,347.38 144.93,347.65 144.92,347.92 144.91,348.19 144.89,348.46 144.88,348.72 144.87,348.99 144.86,349.26 144.84,349.53 144.83,349.80 144.82,350.07 144.81,350.34 144.80,350.60 144.78,350.87 144.77,351.14 144.76,351.41 144.75,351.68 144.73,351.95 144.72,352.21 144.71,352.48 144.70,352.75 144.69,353.02 144.67,353.29 144.66,353.56 144.65,353.83 144.64,354.09 144.62,354.36 144.61,354.63 144.60,354.90 144.60,354.90 144.59,354.63 144.58,354.36 144.56,354.09 144.55,353.83 144.54,353.56 144.53,353.29 144.51,353.02 144.50,352.75 144.49,352.48 144.48,352.21 144.47,351.95 144.45,351.68 144.44,351.41 144.43,351.14 144.42,350.87 144.40,350.60 144.39,350.34 144.38,350.07 144.37,349.80 144.36,349.53 144.34,349.26 144.33,348.99 144.32,348.72 144.31,348.46 144.29,348.19 144.28,347.92 144.27,347.65 144.26,347.38 144.25,347.11 144.23,346.84 144.22,346.58 144.21,346.31 144.20,346.04 144.18,345.77 144.17,345.50 144.16,345.23 144.15,344.97 144.15,344.70 144.15,344.43 144.15,344.16 144.15,343.89 144.15,343.62 144.15,343.35 144.15,343.09 144.13,342.82 144.02,342.55 143.91,342.28 143.78,342.01 143.65,341.74 143.52,341.47 143.37,341.21 143.22,340.94 143.06,340.67 142.90,340.40 142.73,340.13 142.56,339.86 142.38,339.60 142.19,339.33 142.00,339.06 141.81,338.79 141.61,338.52 141.41,338.25 141.21,337.98 141.00,337.72 140.79,337.45 140.58,337.18 140.37,336.91 140.15,336.64 139.93,336.37 139.71,336.10 139.49,335.84 139.27,335.57 139.05,335.30 138.82,335.03 138.60,334.76 138.38,334.49 138.16,334.23 137.94,333.96 137.72,333.69 137.50,333.42 137.29,333.15 137.08,332.88 136.87,332.61 136.66,332.35 136.46,332.08 136.26,331.81 136.07,331.54 135.89,331.27 135.71,331.00 135.54,330.74 135.37,330.47 135.22,330.20 135.08,329.93 134.95,329.66 134.83,329.39 134.74,329.12 134.70,328.86 134.75,328.59 134.82,328.32 134.90,328.05 134.99,327.78 135.09,327.51 135.20,327.24 135.31,326.98 135.44,326.71 135.56,326.44 135.69,326.17 135.83,325.90 135.97,325.63 136.11,325.37 136.26,325.10 136.41,324.83 136.56,324.56 136.72,324.29 136.87,324.02 137.03,323.75 137.19,323.49 137.36,323.22 137.52,322.95 137.69,322.68 137.85,322.41 138.02,322.14 138.19,321.87 138.36,321.61 138.53,321.34 138.70,321.07 138.86,320.80 139.03,320.53 139.20,320.26 139.37,320.00 139.54,319.73 139.71,319.46 139.88,319.19 140.05,318.92 140.21,318.65 140.38,318.38 140.54,318.12 140.70,317.85 140.86,317.58 141.02,317.31 141.18,317.04 141.34,316.77 141.49,316.50 141.64,316.24 141.79,315.97 141.94,315.70 142.09,315.43 142.23,315.16 142.37,314.89 142.51,314.62 142.64,314.36 142.77,314.09 142.90,313.82 143.03,313.55 143.15,313.28 143.27,313.01 143.38,312.75 143.49,312.48 143.60,312.21 143.70,311.94 143.80,311.67 143.89,311.40 143.98,311.13 144.07,310.87 144.14,310.60 144.15,310.33 144.15,310.06 144.15,309.79 144.15,309.52 144.15,309.25 144.15,308.99 144.15,308.72 144.15,308.45 144.15,308.18 144.15,307.91 144.16,307.64 144.18,307.38 144.20,307.11 144.22,306.84 144.23,306.57 144.25,306.30 144.27,306.03 144.29,305.76 144.31,305.50 144.33,305.23 144.34,304.96 144.36,304.69 144.38,304.42 144.40,304.15 144.42,303.88 144.44,303.62 144.45,303.35 144.47,303.08 144.49,302.81 144.51,302.54 144.53,302.27 144.55,302.01 144.56,301.74 144.58,301.47 144.60,301.20" fill="#0a90ae" stroke="#000" stroke-width="1.15" stroke-linejoin="round"/>
<line x1="144.60" y1="301.20" x2="144.60" y2="354.90" stroke="#000" stroke-width="0.9"/>
<rect x="141.60" y="322.40" width="6.00" height="12.10" fill="#fff" stroke="#000" stroke-width="0.9"/>
<line x1="141.60" y1="328.50" x2="147.60" y2="328.50" stroke="#000" stroke-width="1.2"/>
<polygon points="174.40,286.40 174.41,286.77 174.43,287.13 174.44,287.50 174.46,287.87 174.47,288.24 174.48,288.60 174.50,288.97 174.51,289.34 174.52,289.71 174.54,290.07 174.55,290.44 174.57,290.81 174.58,291.18 174.59,291.54 174.61,291.91 174.62,292.28 174.63,292.65 174.65,293.01 174.66,293.38 174.68,293.75 174.69,294.12 174.70,294.48 174.72,294.85 174.73,295.22 174.74,295.59 174.76,295.95 174.77,296.32 174.79,296.69 174.80,297.06 174.81,297.42 174.83,297.79 174.84,298.16 174.85,298.53 174.85,298.89 175.04,299.26 175.42,299.63 175.84,300.00 176.29,300.36 176.75,300.73 177.23,301.10 177.72,301.47 178.22,301.83 178.71,302.20 179.21,302.57 179.71,302.94 180.20,303.30 180.69,303.67 181.18,304.04 181.65,304.41 182.12,304.77 182.58,305.14 183.03,305.51 183.46,305.88 183.89,306.25 184.30,306.61 184.70,306.98 185.09,307.35 185.46,307.71 185.82,308.08 186.16,308.45 186.49,308.82 186.80,309.19 187.10,309.55 187.38,309.92 187.64,310.29 187.89,310.65 188.13,311.02 188.35,311.39 188.55,311.76 188.74,312.12 188.91,312.49 189.07,312.86 189.21,313.23 189.34,313.59 189.45,313.96 189.55,314.33 189.64,314.70 189.71,315.06 189.77,315.43 189.82,315.80 189.85,316.17 189.88,316.53 189.89,316.90 189.90,317.27 189.89,317.64 189.84,318.00 189.78,318.37 189.70,318.74 189.62,319.11 189.53,319.47 189.43,319.84 189.32,320.21 189.21,320.58 189.09,320.94 188.97,321.31 188.84,321.68 188.72,322.05 188.58,322.41 188.45,322.78 188.31,323.15 188.16,323.52 188.02,323.88 187.87,324.25 187.72,324.62 187.57,324.99 187.41,325.35 187.26,325.72 187.10,326.09 186.94,326.46 186.77,326.82 186.61,327.19 186.45,327.56 186.28,327.93 186.11,328.29 185.94,328.66 185.77,329.03 185.60,329.40 185.43,329.76 185.26,330.13 185.09,330.50 184.92,330.87 184.74,331.23 184.57,331.60 184.39,331.97 184.22,332.34 184.04,332.70 183.87,333.07 183.69,333.44 183.52,333.81 183.35,334.17 183.17,334.54 183.00,334.91 182.82,335.28 182.65,335.64 182.48,336.01 182.30,336.38 182.13,336.75 181.96,337.12 181.79,337.48 181.62,337.85 181.45,338.22 181.28,338.58 181.11,338.95 180.95,339.32 180.78,339.69 180.61,340.05 180.45,340.42 180.29,340.79 180.13,341.16 179.97,341.52 179.81,341.89 179.65,342.26 179.49,342.63 179.34,343.00 179.19,343.36 179.04,343.73 178.89,344.10 178.74,344.46 178.59,344.83 178.45,345.20 178.30,345.57 178.16,345.93 178.02,346.30 177.89,346.67 177.75,347.04 177.62,347.40 177.49,347.77 177.36,348.14 177.23,348.51 177.10,348.88 176.98,349.24 176.86,349.61 176.74,349.98 176.63,350.34 176.52,350.71 176.41,351.08 176.30,351.45 176.19,351.81 176.09,352.18 175.99,352.55 175.89,352.92 175.80,353.28 175.70,353.65 175.61,354.02 175.53,354.39 175.44,354.75 175.36,355.12 175.28,355.49 175.21,355.86 175.14,356.22 175.07,356.59 175.00,356.96 174.94,357.33 174.88,357.69 174.85,358.06 174.85,358.43 174.85,358.80 174.85,359.16 174.85,359.53 174.85,359.90 173.95,359.90 173.95,359.53 173.95,359.16 173.95,358.80 173.95,358.43 173.95,358.06 173.92,357.69 173.86,357.33 173.80,356.96 173.73,356.59 173.66,356.22 173.59,355.86 173.52,355.49 173.44,355.12 173.36,354.75 173.27,354.39 173.19,354.02 173.10,353.65 173.00,353.28 172.91,352.92 172.81,352.55 172.71,352.18 172.61,351.81 172.50,351.45 172.39,351.08 172.28,350.71 172.17,350.34 172.06,349.98 171.94,349.61 171.82,349.24 171.70,348.88 171.57,348.51 171.44,348.14 171.31,347.77 171.18,347.40 171.05,347.04 170.91,346.67 170.78,346.30 170.64,345.93 170.50,345.57 170.35,345.20 170.21,344.83 170.06,344.46 169.91,344.10 169.76,343.73 169.61,343.36 169.46,343.00 169.31,342.63 169.15,342.26 168.99,341.89 168.83,341.52 168.67,341.16 168.51,340.79 168.35,340.42 168.19,340.05 168.02,339.69 167.85,339.32 167.69,338.95 167.52,338.58 167.35,338.22 167.18,337.85 167.01,337.48 166.84,337.12 166.67,336.75 166.50,336.38 166.32,336.01 166.15,335.64 165.98,335.28 165.80,334.91 165.63,334.54 165.45,334.17 165.28,333.81 165.11,333.44 164.93,333.07 164.76,332.70 164.58,332.34 164.41,331.97 164.23,331.60 164.06,331.23 163.88,330.87 163.71,330.50 163.54,330.13 163.37,329.76 163.20,329.40 163.03,329.03 162.86,328.66 162.69,328.29 162.52,327.93 162.35,327.56 162.19,327.19 162.03,326.82 161.86,326.46 161.70,326.09 161.54,325.72 161.39,325.35 161.23,324.99 161.08,324.62 160.93,324.25 160.78,323.88 160.64,323.52 160.49,323.15 160.35,322.78 160.22,322.41 160.08,322.05 159.96,321.68 159.83,321.31 159.71,320.94 159.59,320.58 159.48,320.21 159.37,319.84 159.27,319.47 159.18,319.11 159.10,318.74 159.02,318.37 158.96,318.00 158.91,317.64 158.90,317.27 158.91,316.90 158.92,316.53 158.95,316.17 158.98,315.80 159.03,315.43 159.09,315.06 159.16,314.70 159.25,314.33 159.35,313.96 159.46,313.59 159.59,313.23 159.73,312.86 159.89,312.49 160.06,312.12 160.25,311.76 160.45,311.39 160.67,311.02 160.91,310.65 161.16,310.29 161.42,309.92 161.70,309.55 162.00,309.19 162.31,308.82 162.64,308.45 162.98,308.08 163.34,307.71 163.71,307.35 164.10,306.98 164.50,306.61 164.91,306.25 165.34,305.88 165.77,305.51 166.22,305.14 166.68,304.77 167.15,304.41 167.62,304.04 168.11,303.67 168.60,303.30 169.09,302.94 169.59,302.57 170.09,302.20 170.58,301.83 171.08,301.47 171.57,301.10 172.05,300.73 172.51,300.36 172.96,300.00 173.38,299.63 173.76,299.26 173.95,298.89 173.95,298.53 173.96,298.16 173.97,297.79 173.99,297.42 174.00,297.06 174.01,296.69 174.03,296.32 174.04,295.95 174.06,295.59 174.07,295.22 174.08,294.85 174.10,294.48 174.11,294.12 174.12,293.75 174.14,293.38 174.15,293.01 174.17,292.65 174.18,292.28 174.19,291.91 174.21,291.54 174.22,291.18 174.23,290.81 174.25,290.44 174.26,290.07 174.28,289.71 174.29,289.34 174.30,288.97 174.32,288.60 174.33,288.24 174.34,287.87 174.36,287.50 174.37,287.13 174.39,286.77 174.40,286.40" fill="#86609e" stroke="#000" stroke-width="1.15" stroke-linejoin="round"/>
<line x1="174.40" y1="286.40" x2="174.40" y2="359.90" stroke="#000" stroke-width="0.9"/>
<rect x="171.40" y="313.80" width="6.00" height="16.40" fill="#fff" stroke="#000" stroke-width="0.9"/>
<line x1="171.40" y1="321.20" x2="177.40" y2="321.20" stroke="#000" stroke-width="1.2"/>
<polygon points="204.40,276.60 204.43,276.92 204.45,277.24 204.48,277.56 204.51,277.88 204.53,278.20 204.56,278.52 204.59,278.84 204.61,279.16 204.64,279.48 204.67,279.80 204.69,280.11 204.72,280.43 204.75,280.75 204.77,281.07 204.80,281.39 204.83,281.71 204.85,282.03 204.85,282.35 204.89,282.67 204.98,282.99 205.07,283.31 205.18,283.63 205.30,283.95 205.44,284.27 205.60,284.59 205.79,284.91 205.99,285.23 206.22,285.55 206.46,285.87 206.71,286.19 206.97,286.50 207.23,286.82 207.51,287.14 207.78,287.46 208.06,287.78 208.35,288.10 208.63,288.42 208.92,288.74 209.21,289.06 209.51,289.38 209.80,289.70 210.11,290.02 210.41,290.34 210.73,290.66 211.06,290.98 211.39,291.30 211.72,291.62 212.06,291.94 212.39,292.26 212.72,292.58 213.04,292.89 213.34,293.21 213.64,293.53 213.93,293.85 214.21,294.17 214.49,294.49 214.78,294.81 215.05,295.13 215.32,295.45 215.57,295.77 215.81,296.09 216.03,296.41 216.24,296.73 216.41,297.05 216.58,297.37 216.71,297.69 216.84,298.01 216.94,298.33 217.03,298.65 217.10,298.97 217.16,299.28 217.21,299.60 217.25,299.92 217.27,300.24 217.29,300.56 217.30,300.88 217.30,301.20 217.30,301.52 217.28,301.84 217.25,302.16 217.21,302.48 217.16,302.80 217.11,303.12 217.04,303.44 216.97,303.76 216.89,304.08 216.81,304.40 216.73,304.72 216.64,305.04 216.55,305.36 216.46,305.67 216.37,305.99 216.27,306.31 216.16,306.63 216.04,306.95 215.92,307.27 215.79,307.59 215.66,307.91 215.53,308.23 215.40,308.55 215.28,308.87 215.17,309.19 215.06,309.51 214.97,309.83 214.88,310.15 214.80,310.47 214.72,310.79 214.65,311.11 214.58,311.43 214.51,311.75 214.45,312.06 214.39,312.38 214.34,312.70 214.28,313.02 214.24,313.34 214.19,313.66 214.16,313.98 214.14,314.30 214.13,314.62 214.13,314.94 214.13,315.26 214.14,315.58 214.13,315.90 214.12,316.22 214.10,316.54 214.08,316.86 214.06,317.18 214.04,317.50 214.03,317.82 214.00,318.13 213.98,318.45 213.95,318.77 213.91,319.09 213.85,319.41 213.80,319.73 213.72,320.05 213.63,320.37 213.53,320.69 213.42,321.01 213.30,321.33 213.17,321.65 213.03,321.97 212.89,322.29 212.74,322.61 212.58,322.93 212.42,323.25 212.26,323.57 212.08,323.89 211.91,324.21 211.73,324.52 211.55,324.84 211.36,325.16 211.16,325.48 210.96,325.80 210.75,326.12 210.53,326.44 210.30,326.76 210.07,327.08 209.84,327.40 209.61,327.72 209.38,328.04 209.14,328.36 208.91,328.68 208.68,329.00 208.46,329.32 208.24,329.64 208.03,329.96 207.83,330.28 207.62,330.60 207.42,330.92 207.22,331.23 207.02,331.55 206.82,331.87 206.63,332.19 206.43,332.51 206.24,332.83 206.06,333.15 205.87,333.47 205.70,333.79 205.53,334.11 205.37,334.43 205.21,334.75 205.07,335.07 204.93,335.39 204.85,335.71 204.84,336.03 204.81,336.35 204.78,336.67 204.74,336.99 204.71,337.31 204.68,337.62 204.65,337.94 204.62,338.26 204.59,338.58 204.56,338.90 204.53,339.22 204.49,339.54 204.46,339.86 204.43,340.18 204.40,340.50 204.40,340.50 204.37,340.18 204.34,339.86 204.31,339.54 204.27,339.22 204.24,338.90 204.21,338.58 204.18,338.26 204.15,337.94 204.12,337.62 204.09,337.31 204.06,336.99 204.02,336.67 203.99,336.35 203.96,336.03 203.95,335.71 203.87,335.39 203.73,335.07 203.59,334.75 203.43,334.43 203.27,334.11 203.10,333.79 202.93,333.47 202.74,333.15 202.56,332.83 202.37,332.51 202.17,332.19 201.98,331.87 201.78,331.55 201.58,331.23 201.38,330.92 201.18,330.60 200.97,330.28 200.77,329.96 200.56,329.64 200.34,329.32 200.12,329.00 199.89,328.68 199.66,328.36 199.42,328.04 199.19,327.72 198.96,327.40 198.73,327.08 198.50,326.76 198.27,326.44 198.05,326.12 197.84,325.80 197.64,325.48 197.44,325.16 197.25,324.84 197.07,324.52 196.89,324.21 196.72,323.89 196.54,323.57 196.38,323.25 196.22,322.93 196.06,322.61 195.91,322.29 195.77,321.97 195.63,321.65 195.50,321.33 195.38,321.01 195.27,320.69 195.17,320.37 195.08,320.05 195.00,319.73 194.95,319.41 194.89,319.09 194.85,318.77 194.82,318.45 194.80,318.13 194.77,317.82 194.76,317.50 194.74,317.18 194.72,316.86 194.70,316.54 194.68,316.22 194.67,315.90 194.66,315.58 194.67,315.26 194.67,314.94 194.67,314.62 194.66,314.30 194.64,313.98 194.61,313.66 194.56,313.34 194.52,313.02 194.46,312.70 194.41,312.38 194.35,312.06 194.29,311.75 194.22,311.43 194.15,311.11 194.08,310.79 194.00,310.47 193.92,310.15 193.83,309.83 193.74,309.51 193.63,309.19 193.52,308.87 193.40,308.55 193.27,308.23 193.14,307.91 193.01,307.59 192.88,307.27 192.76,306.95 192.64,306.63 192.53,306.31 192.43,305.99 192.34,305.67 192.25,305.36 192.16,305.04 192.07,304.72 191.99,304.40 191.91,304.08 191.83,303.76 191.76,303.44 191.69,303.12 191.64,302.80 191.59,302.48 191.55,302.16 191.52,301.84 191.50,301.52 191.50,301.20 191.50,300.88 191.51,300.56 191.53,300.24 191.55,299.92 191.59,299.60 191.64,299.28 191.70,298.97 191.77,298.65 191.86,298.33 191.96,298.01 192.09,297.69 192.22,297.37 192.39,297.05 192.56,296.73 192.77,296.41 192.99,296.09 193.23,295.77 193.48,295.45 193.75,295.13 194.02,294.81 194.31,294.49 194.59,294.17 194.87,293.85 195.16,293.53 195.46,293.21 195.76,292.89 196.08,292.58 196.41,292.26 196.74,291.94 197.08,291.62 197.41,291.30 197.74,290.98 198.07,290.66 198.39,290.34 198.69,290.02 199.00,289.70 199.29,289.38 199.59,289.06 199.88,288.74 200.17,288.42 200.45,288.10 200.74,287.78 201.02,287.46 201.29,287.14 201.57,286.82 201.83,286.50 202.09,286.19 202.34,285.87 202.58,285.55 202.81,285.23 203.01,284.91 203.20,284.59 203.36,284.27 203.50,283.95 203.62,283.63 203.73,283.31 203.82,282.99 203.91,282.67 203.95,282.35 203.95,282.03 203.97,281.71 204.00,281.39 204.03,281.07 204.05,280.75 204.08,280.43 204.11,280.11 204.13,279.80 204.16,279.48 204.19,279.16 204.21,278.84 204.24,278.52 204.27,278.20 204.29,277.88 204.32,277.56 204.35,277.24 204.37,276.92 204.40,276.60" fill="#f0a58c" stroke="#000" stroke-width="1.15" stroke-linejoin="round"/>
<line x1="204.40" y1="296.60" x2="204.40" y2="320.60" stroke="#000" stroke-width="0.9"/>
<rect x="201.10" y="301.30" width="6.60" height="12.50" fill="#fff" stroke="#000" stroke-width="0.9"/>
<line x1="201.10" y1="307.20" x2="207.70" y2="307.20" stroke="#000" stroke-width="1.2"/>
<polygon points="234.40,277.20 234.42,277.66 234.45,278.12 234.47,278.59 234.50,279.05 234.52,279.51 234.54,279.97 234.57,280.44 234.59,280.90 234.62,281.36 234.64,281.82 234.66,282.29 234.69,282.75 234.71,283.21 234.74,283.68 234.76,284.14 234.78,284.60 234.81,285.06 234.83,285.52 234.85,285.99 234.85,286.45 234.85,286.91 234.85,287.38 234.85,287.84 234.85,288.30 234.85,288.76 234.85,289.22 234.85,289.69 234.85,290.15 234.85,290.61 234.85,291.07 234.85,291.54 234.85,292.00 234.85,292.46 234.85,292.93 234.94,293.39 235.04,293.85 235.15,294.31 235.27,294.77 235.40,295.24 235.54,295.70 235.69,296.16 235.84,296.62 236.01,297.09 236.19,297.55 236.37,298.01 236.57,298.47 236.77,298.94 236.98,299.40 237.20,299.86 237.43,300.32 237.66,300.79 237.90,301.25 238.15,301.71 238.40,302.18 238.65,302.64 238.91,303.10 239.17,303.56 239.44,304.02 239.71,304.49 239.98,304.95 240.25,305.41 240.52,305.88 240.80,306.34 241.07,306.80 241.34,307.26 241.61,307.72 241.87,308.19 242.14,308.65 242.40,309.11 242.65,309.57 242.90,310.04 243.15,310.50 243.39,310.96 243.62,311.43 243.84,311.89 244.06,312.35 244.27,312.81 244.47,313.27 244.66,313.74 244.84,314.20 245.01,314.66 245.18,315.12 245.33,315.59 245.47,316.05 245.60,316.51 245.71,316.97 245.82,317.44 245.91,317.90 245.99,318.36 246.06,318.82 246.11,319.29 246.15,319.75 246.18,320.21 246.20,320.68 246.19,321.14 246.15,321.60 246.08,322.06 246.01,322.52 245.92,322.99 245.83,323.45 245.73,323.91 245.63,324.38 245.52,324.84 245.40,325.30 245.28,325.76 245.16,326.22 245.03,326.69 244.90,327.15 244.76,327.61 244.63,328.07 244.49,328.54 244.34,329.00 244.20,329.46 244.06,329.93 243.91,330.39 243.76,330.85 243.61,331.31 243.46,331.77 243.30,332.24 243.15,332.70 243.00,333.16 242.84,333.62 242.68,334.09 242.53,334.55 242.37,335.01 242.21,335.47 242.06,335.94 241.90,336.40 241.74,336.86 241.59,337.32 241.43,337.79 241.27,338.25 241.12,338.71 240.96,339.18 240.80,339.64 240.65,340.10 240.50,340.56 240.34,341.02 240.19,341.49 240.04,341.95 239.89,342.41 239.74,342.88 239.59,343.34 239.45,343.80 239.30,344.26 239.16,344.73 239.01,345.19 238.87,345.65 238.73,346.11 238.60,346.57 238.46,347.04 238.32,347.50 238.19,347.96 238.06,348.42 237.93,348.89 237.80,349.35 237.68,349.81 237.55,350.27 237.43,350.74 237.31,351.20 237.19,351.66 237.08,352.12 236.97,352.59 236.85,353.05 236.75,353.51 236.64,353.98 236.54,354.44 236.43,354.90 236.33,355.36 236.24,355.82 236.14,356.29 236.05,356.75 235.96,357.21 235.87,357.67 235.79,358.14 235.71,358.60 235.63,359.06 235.55,359.52 235.47,359.99 235.40,360.45 235.33,360.91 235.26,361.38 235.20,361.84 235.14,362.30 235.08,362.76 235.02,363.23 234.97,363.69 234.92,364.15 234.87,364.61 234.85,365.07 234.85,365.54 234.85,366.00 234.85,366.46 234.85,366.92 234.85,367.39 234.85,367.85 234.85,368.31 234.85,368.77 234.85,369.24 234.85,369.70 233.95,369.70 233.95,369.24 233.95,368.77 233.95,368.31 233.95,367.85 233.95,367.39 233.95,366.92 233.95,366.46 233.95,366.00 233.95,365.54 233.95,365.07 233.93,364.61 233.88,364.15 233.83,363.69 233.78,363.23 233.72,362.76 233.66,362.30 233.60,361.84 233.54,361.38 233.47,360.91 233.40,360.45 233.33,359.99 233.25,359.52 233.17,359.06 233.09,358.60 233.01,358.14 232.93,357.67 232.84,357.21 232.75,356.75 232.66,356.29 232.56,355.82 232.47,355.36 232.37,354.90 232.26,354.44 232.16,353.98 232.05,353.51 231.95,353.05 231.83,352.59 231.72,352.12 231.61,351.66 231.49,351.20 231.37,350.74 231.25,350.27 231.12,349.81 231.00,349.35 230.87,348.89 230.74,348.42 230.61,347.96 230.48,347.50 230.34,347.04 230.20,346.57 230.07,346.11 229.93,345.65 229.79,345.19 229.64,344.73 229.50,344.26 229.35,343.80 229.21,343.34 229.06,342.88 228.91,342.41 228.76,341.95 228.61,341.49 228.46,341.02 228.30,340.56 228.15,340.10 228.00,339.64 227.84,339.18 227.68,338.71 227.53,338.25 227.37,337.79 227.21,337.32 227.06,336.86 226.90,336.40 226.74,335.94 226.59,335.47 226.43,335.01 226.27,334.55 226.12,334.09 225.96,333.62 225.80,333.16 225.65,332.70 225.50,332.24 225.34,331.77 225.19,331.31 225.04,330.85 224.89,330.39 224.74,329.93 224.60,329.46 224.46,329.00 224.31,328.54 224.17,328.07 224.04,327.61 223.90,327.15 223.77,326.69 223.64,326.22 223.52,325.76 223.40,325.30 223.28,324.84 223.17,324.38 223.07,323.91 222.97,323.45 222.88,322.99 222.79,322.52 222.72,322.06 222.65,321.60 222.61,321.14 222.60,320.68 222.62,320.21 222.65,319.75 222.69,319.29 222.74,318.82 222.81,318.36 222.89,317.90 222.98,317.44 223.09,316.97 223.20,316.51 223.33,316.05 223.47,315.59 223.62,315.12 223.79,314.66 223.96,314.20 224.14,313.74 224.33,313.27 224.53,312.81 224.74,312.35 224.96,311.89 225.18,311.43 225.41,310.96 225.65,310.50 225.90,310.04 226.15,309.57 226.40,309.11 226.66,308.65 226.93,308.19 227.19,307.72 227.46,307.26 227.73,306.80 228.00,306.34 228.28,305.88 228.55,305.41 228.82,304.95 229.09,304.49 229.36,304.02 229.63,303.56 229.89,303.10 230.15,302.64 230.40,302.18 230.65,301.71 230.90,301.25 231.14,300.79 231.37,300.32 231.60,299.86 231.82,299.40 232.03,298.94 232.23,298.47 232.43,298.01 232.61,297.55 232.79,297.09 232.96,296.62 233.11,296.16 233.26,295.70 233.40,295.24 233.53,294.77 233.65,294.31 233.76,293.85 233.86,293.39 233.95,292.93 233.95,292.46 233.95,292.00 233.95,291.54 233.95,291.07 233.95,290.61 233.95,290.15 233.95,289.69 233.95,289.22 233.95,288.76 233.95,288.30 233.95,287.84 233.95,287.38 233.95,286.91 233.95,286.45 233.95,285.99 233.97,285.52 233.99,285.06 234.02,284.60 234.04,284.14 234.06,283.68 234.09,283.21 234.11,282.75 234.14,282.29 234.16,281.82 234.18,281.36 234.21,280.90 234.23,280.44 234.26,279.97 234.28,279.51 234.30,279.05 234.33,278.59 234.35,278.12 234.38,277.66 234.40,277.20" fill="#a2172f" stroke="#000" stroke-width="1.15" stroke-linejoin="round"/>
<line x1="234.40" y1="277.20" x2="234.40" y2="369.70" stroke="#000" stroke-width="0.9"/>
<rect x="231.40" y="313.40" width="6.00" height="20.00" fill="#fff" stroke="#000" stroke-width="0.9"/>
<line x1="231.40" y1="322.10" x2="237.40" y2="322.10" stroke="#000" stroke-width="1.2"/>
<polygon points="264.30,276.60 264.34,277.07 264.38,277.54 264.41,278.01 264.45,278.48 264.49,278.96 264.53,279.43 264.57,279.90 264.61,280.37 264.64,280.84 264.68,281.31 264.72,281.78 264.75,282.25 264.75,282.72 264.75,283.19 264.75,283.67 264.75,284.14 264.75,284.61 264.75,285.08 264.75,285.55 264.75,286.02 264.75,286.49 264.75,286.96 264.75,287.43 264.75,287.90 264.75,288.38 264.75,288.85 264.75,289.32 264.75,289.79 264.75,290.26 264.75,290.73 264.75,291.20 264.82,291.67 264.89,292.14 264.98,292.61 265.07,293.09 265.17,293.56 265.27,294.03 265.38,294.50 265.50,294.97 265.63,295.44 265.76,295.91 265.90,296.38 266.05,296.85 266.20,297.32 266.36,297.80 266.53,298.27 266.71,298.74 266.89,299.21 267.08,299.68 267.27,300.15 267.47,300.62 267.68,301.09 267.89,301.56 268.10,302.03 268.32,302.50 268.55,302.98 268.78,303.45 269.01,303.92 269.25,304.39 269.49,304.86 269.74,305.33 269.98,305.80 270.23,306.27 270.48,306.74 270.73,307.22 270.98,307.69 271.23,308.16 271.49,308.63 271.73,309.10 271.98,309.57 272.23,310.04 272.47,310.51 272.71,310.98 272.95,311.45 273.18,311.93 273.40,312.40 273.62,312.87 273.84,313.34 274.04,313.81 274.24,314.28 274.42,314.75 274.60,315.22 274.76,315.69 274.91,316.16 275.05,316.63 275.17,317.11 275.27,317.58 275.34,318.05 275.39,318.52 275.39,318.99 275.36,319.46 275.32,319.93 275.26,320.40 275.20,320.87 275.13,321.35 275.05,321.82 274.96,322.29 274.86,322.76 274.76,323.23 274.65,323.70 274.54,324.17 274.42,324.64 274.30,325.11 274.17,325.58 274.04,326.06 273.91,326.53 273.77,327.00 273.63,327.47 273.48,327.94 273.34,328.41 273.19,328.88 273.03,329.35 272.88,329.82 272.72,330.29 272.56,330.76 272.40,331.24 272.24,331.71 272.08,332.18 271.91,332.65 271.75,333.12 271.58,333.59 271.42,334.06 271.25,334.53 271.08,335.00 270.92,335.48 270.75,335.95 270.58,336.42 270.42,336.89 270.25,337.36 270.09,337.83 269.92,338.30 269.76,338.77 269.60,339.24 269.43,339.71 269.27,340.19 269.12,340.66 268.96,341.13 268.80,341.60 268.65,342.07 268.50,342.54 268.35,343.01 268.20,343.48 268.06,343.95 267.91,344.42 267.77,344.89 267.63,345.37 267.50,345.84 267.36,346.31 267.23,346.78 267.10,347.25 266.98,347.72 266.85,348.19 266.73,348.66 266.62,349.13 266.50,349.61 266.39,350.08 266.28,350.55 266.18,351.02 266.07,351.49 265.97,351.96 265.88,352.43 265.78,352.90 265.69,353.37 265.61,353.84 265.52,354.31 265.44,354.79 265.37,355.26 265.29,355.73 265.22,356.20 265.15,356.67 265.09,357.14 265.02,357.61 264.97,358.08 264.91,358.55 264.86,359.02 264.81,359.50 264.76,359.97 264.75,360.44 264.75,360.91 264.75,361.38 264.75,361.85 264.75,362.32 264.75,362.79 264.75,363.26 264.75,363.74 264.75,364.21 264.75,364.68 264.75,365.15 264.75,365.62 264.75,366.09 264.75,366.56 264.75,367.03 264.75,367.50 264.75,367.97 264.75,368.44 264.75,368.92 264.75,369.39 264.75,369.86 264.75,370.33 264.75,370.80 263.85,370.80 263.85,370.33 263.85,369.86 263.85,369.39 263.85,368.92 263.85,368.44 263.85,367.97 263.85,367.50 263.85,367.03 263.85,366.56 263.85,366.09 263.85,365.62 263.85,365.15 263.85,364.68 263.85,364.21 263.85,363.74 263.85,363.26 263.85,362.79 263.85,362.32 263.85,361.85 263.85,361.38 263.85,360.91 263.85,360.44 263.84,359.97 263.79,359.50 263.74,359.02 263.69,358.55 263.63,358.08 263.58,357.61 263.51,357.14 263.45,356.67 263.38,356.20 263.31,355.73 263.23,355.26 263.16,354.79 263.08,354.31 262.99,353.84 262.91,353.37 262.82,352.90 262.72,352.43 262.63,351.96 262.53,351.49 262.42,351.02 262.32,350.55 262.21,350.08 262.10,349.61 261.98,349.13 261.87,348.66 261.75,348.19 261.62,347.72 261.50,347.25 261.37,346.78 261.24,346.31 261.10,345.84 260.97,345.37 260.83,344.89 260.69,344.42 260.54,343.95 260.40,343.48 260.25,343.01 260.10,342.54 259.95,342.07 259.80,341.60 259.64,341.13 259.48,340.66 259.33,340.19 259.17,339.71 259.00,339.24 258.84,338.77 258.68,338.30 258.51,337.83 258.35,337.36 258.18,336.89 258.02,336.42 257.85,335.95 257.68,335.48 257.52,335.00 257.35,334.53 257.18,334.06 257.02,333.59 256.85,333.12 256.69,332.65 256.52,332.18 256.36,331.71 256.20,331.24 256.04,330.76 255.88,330.29 255.72,329.82 255.57,329.35 255.41,328.88 255.26,328.41 255.12,327.94 254.97,327.47 254.83,327.00 254.69,326.53 254.56,326.06 254.43,325.58 254.30,325.11 254.18,324.64 254.06,324.17 253.95,323.70 253.84,323.23 253.74,322.76 253.64,322.29 253.55,321.82 253.47,321.35 253.40,320.87 253.34,320.40 253.28,319.93 253.24,319.46 253.21,318.99 253.21,318.52 253.26,318.05 253.33,317.58 253.43,317.11 253.55,316.63 253.69,316.16 253.84,315.69 254.00,315.22 254.18,314.75 254.36,314.28 254.56,313.81 254.76,313.34 254.98,312.87 255.20,312.40 255.42,311.93 255.65,311.45 255.89,310.98 256.13,310.51 256.37,310.04 256.62,309.57 256.87,309.10 257.11,308.63 257.37,308.16 257.62,307.69 257.87,307.22 258.12,306.74 258.37,306.27 258.62,305.80 258.86,305.33 259.11,304.86 259.35,304.39 259.59,303.92 259.82,303.45 260.05,302.98 260.28,302.50 260.50,302.03 260.71,301.56 260.92,301.09 261.13,300.62 261.33,300.15 261.52,299.68 261.71,299.21 261.89,298.74 262.07,298.27 262.24,297.80 262.40,297.32 262.55,296.85 262.70,296.38 262.84,295.91 262.97,295.44 263.10,294.97 263.22,294.50 263.33,294.03 263.43,293.56 263.53,293.09 263.62,292.61 263.71,292.14 263.78,291.67 263.85,291.20 263.85,290.73 263.85,290.26 263.85,289.79 263.85,289.32 263.85,288.85 263.85,288.38 263.85,287.90 263.85,287.43 263.85,286.96 263.85,286.49 263.85,286.02 263.85,285.55 263.85,285.08 263.85,284.61 263.85,284.14 263.85,283.67 263.85,283.19 263.85,282.72 263.85,282.25 263.88,281.78 263.92,281.31 263.96,280.84 263.99,280.37 264.03,279.90 264.07,279.43 264.11,278.96 264.15,278.48 264.19,278.01 264.22,277.54 264.26,277.07 264.30,276.60" fill="#a7b1b1" stroke="#000" stroke-width="1.15" stroke-linejoin="round"/>
<line x1="264.30" y1="276.60" x2="264.30" y2="370.80" stroke="#000" stroke-width="0.9"/>
<rect x="261.30" y="313.70" width="6.00" height="20.30" fill="#fff" stroke="#000" stroke-width="0.9"/>
<line x1="261.30" y1="323.50" x2="267.30" y2="323.50" stroke="#000" stroke-width="1.2"/>
<text x="92.00" y="217.10" font-size="13.05" fill="#111" textLength="134.90" lengthAdjust="spacingAndGlyphs">Measurement error_D5</text>
<text x="9.10" y="210.50" font-size="14.00" fill="#2a1a18" font-weight="bold">e</text>
<text x="15.40" y="322.60" font-size="11.70" fill="#111" text-anchor="middle" textLength="37.80" lengthAdjust="spacingAndGlyphs" transform="rotate(-90 15.40 322.60)">ME (%)</text>
<rect x="326.50" y="223.50" width="247.00" height="196.00" fill="#fff" stroke="#9a9a9a" stroke-width="1.0"/>
<line x1="326.50" y1="328.50" x2="573.50" y2="328.50" stroke="#3cb975" stroke-width="1.0"/>
<line x1="324.10" y1="258.10" x2="326.50" y2="258.10" stroke="#555" stroke-width="0.7"/>
<text x="321.60" y="260.90" font-size="8.00" fill="#4d4d4d" text-anchor="end">20</text>
<line x1="324.10" y1="328.10" x2="326.50" y2="328.10" stroke="#555" stroke-width="0.7"/>
<text x="321.60" y="330.90" font-size="8.00" fill="#4d4d4d" text-anchor="end">0</text>
<line x1="324.10" y1="398.50" x2="326.50" y2="398.50" stroke="#555" stroke-width="0.7"/>
<text x="321.60" y="401.30" font-size="8.00" fill="#4d4d4d" text-anchor="end">-20</text>
<polygon points="343.80,281.90 343.82,282.44 343.83,282.97 343.85,283.51 343.87,284.04 343.88,284.58 343.90,285.11 343.92,285.65 343.93,286.18 343.95,286.72 343.97,287.25 343.99,287.79 344.00,288.33 344.02,288.86 344.04,289.40 344.05,289.93 344.07,290.47 344.09,291.00 344.10,291.54 344.12,292.07 344.14,292.61 344.15,293.15 344.17,293.68 344.19,294.22 344.20,294.75 344.22,295.29 344.24,295.82 344.25,296.36 344.25,296.89 344.25,297.43 344.25,297.96 344.25,298.50 344.25,299.04 344.25,299.57 344.25,300.11 344.25,300.64 344.25,301.18 344.37,301.71 344.53,302.25 344.70,302.78 344.89,303.32 345.10,303.86 345.32,304.39 345.56,304.93 345.81,305.46 346.06,306.00 346.33,306.53 346.60,307.07 346.88,307.60 347.16,308.14 347.44,308.67 347.72,309.21 347.99,309.75 348.27,310.28 348.53,310.82 348.80,311.35 349.05,311.89 349.30,312.42 349.53,312.96 349.76,313.49 349.98,314.03 350.18,314.57 350.37,315.10 350.56,315.64 350.72,316.17 350.88,316.71 351.03,317.24 351.16,317.78 351.28,318.31 351.39,318.85 351.49,319.38 351.58,319.92 351.65,320.46 351.72,320.99 351.78,321.53 351.83,322.06 351.87,322.60 351.91,323.13 351.93,323.67 351.96,324.20 351.97,324.74 351.98,325.28 351.99,325.81 352.00,326.35 352.00,326.88 352.00,327.42 352.00,327.95 352.00,328.49 351.99,329.02 351.97,329.56 351.95,330.09 351.92,330.63 351.88,331.17 351.84,331.70 351.79,332.24 351.73,332.77 351.66,333.31 351.59,333.84 351.52,334.38 351.44,334.91 351.35,335.45 351.25,335.99 351.15,336.52 351.04,337.06 350.93,337.59 350.81,338.13 350.69,338.66 350.56,339.20 350.43,339.73 350.29,340.27 350.15,340.81 350.00,341.34 349.85,341.88 349.69,342.41 349.53,342.95 349.37,343.48 349.21,344.02 349.04,344.55 348.86,345.09 348.69,345.62 348.51,346.16 348.34,346.70 348.16,347.23 347.98,347.77 347.79,348.30 347.61,348.84 347.43,349.37 347.24,349.91 347.06,350.44 346.88,350.98 346.70,351.51 346.52,352.05 346.34,352.59 346.17,353.12 346.00,353.66 345.83,354.19 345.66,354.73 345.50,355.26 345.34,355.80 345.19,356.33 345.04,356.87 344.90,357.41 344.76,357.94 344.64,358.48 344.51,359.01 344.40,359.55 344.29,360.08 344.25,360.62 344.25,361.15 344.25,361.69 344.25,362.23 344.25,362.76 344.25,363.30 344.25,363.83 344.25,364.37 344.25,364.90 344.24,365.44 344.23,365.97 344.22,366.51 344.21,367.04 344.20,367.58 344.19,368.12 344.18,368.65 344.17,369.19 344.16,369.72 344.15,370.26 344.14,370.79 344.13,371.33 344.12,371.86 344.11,372.40 344.10,372.94 344.09,373.47 344.08,374.01 344.07,374.54 344.06,375.08 344.05,375.61 344.04,376.15 344.03,376.68 344.02,377.22 344.01,377.75 344.00,378.29 343.99,378.83 343.98,379.36 343.97,379.90 343.96,380.43 343.95,380.97 343.94,381.50 343.93,382.04 343.92,382.57 343.91,383.11 343.90,383.64 343.89,384.18 343.88,384.72 343.87,385.25 343.86,385.79 343.85,386.32 343.84,386.86 343.83,387.39 343.82,387.93 343.81,388.46 343.80,389.00 343.80,389.00 343.79,388.46 343.78,387.93 343.77,387.39 343.76,386.86 343.75,386.32 343.74,385.79 343.73,385.25 343.72,384.72 343.71,384.18 343.70,383.64 343.69,383.11 343.68,382.57 343.67,382.04 343.66,381.50 343.65,380.97 343.64,380.43 343.63,379.90 343.62,379.36 343.61,378.83 343.60,378.29 343.59,377.75 343.58,377.22 343.57,376.68 343.56,376.15 343.55,375.61 343.54,375.08 343.53,374.54 343.52,374.01 343.51,373.47 343.50,372.94 343.49,372.40 343.48,371.86 343.47,371.33 343.46,370.79 343.45,370.26 343.44,369.72 343.43,369.19 343.42,368.65 343.41,368.12 343.40,367.58 343.39,367.04 343.38,366.51 343.37,365.97 343.36,365.44 343.35,364.90 343.35,364.37 343.35,363.83 343.35,363.30 343.35,362.76 343.35,362.23 343.35,361.69 343.35,361.15 343.35,360.62 343.31,360.08 343.20,359.55 343.09,359.01 342.96,358.48 342.84,357.94 342.70,357.41 342.56,356.87 342.41,356.33 342.26,355.80 342.10,355.26 341.94,354.73 341.77,354.19 341.60,353.66 341.43,353.12 341.26,352.59 341.08,352.05 340.90,351.51 340.72,350.98 340.54,350.44 340.36,349.91 340.17,349.37 339.99,348.84 339.81,348.30 339.62,347.77 339.44,347.23 339.26,346.70 339.09,346.16 338.91,345.62 338.74,345.09 338.56,344.55 338.39,344.02 338.23,343.48 338.07,342.95 337.91,342.41 337.75,341.88 337.60,341.34 337.45,340.81 337.31,340.27 337.17,339.73 337.04,339.20 336.91,338.66 336.79,338.13 336.67,337.59 336.56,337.06 336.45,336.52 336.35,335.99 336.25,335.45 336.16,334.91 336.08,334.38 336.01,333.84 335.94,333.31 335.87,332.77 335.81,332.24 335.76,331.70 335.72,331.17 335.68,330.63 335.65,330.09 335.63,329.56 335.61,329.02 335.60,328.49 335.60,327.95 335.60,327.42 335.60,326.88 335.60,326.35 335.61,325.81 335.62,325.28 335.63,324.74 335.64,324.20 335.67,323.67 335.69,323.13 335.73,322.60 335.77,322.06 335.82,321.53 335.88,320.99 335.95,320.46 336.02,319.92 336.11,319.38 336.21,318.85 336.32,318.31 336.44,317.78 336.57,317.24 336.72,316.71 336.88,316.17 337.04,315.64 337.23,315.10 337.42,314.57 337.62,314.03 337.84,313.49 338.07,312.96 338.30,312.42 338.55,311.89 338.80,311.35 339.07,310.82 339.33,310.28 339.61,309.75 339.88,309.21 340.16,308.67 340.44,308.14 340.72,307.60 341.00,307.07 341.27,306.53 341.54,306.00 341.79,305.46 342.04,304.93 342.28,304.39 342.50,303.86 342.71,303.32 342.90,302.78 343.07,302.25 343.23,301.71 343.35,301.18 343.35,300.64 343.35,300.11 343.35,299.57 343.35,299.04 343.35,298.50 343.35,297.96 343.35,297.43 343.35,296.89 343.35,296.36 343.36,295.82 343.38,295.29 343.40,294.75 343.41,294.22 343.43,293.68 343.45,293.15 343.46,292.61 343.48,292.07 343.50,291.54 343.51,291.00 343.53,290.47 343.55,289.93 343.56,289.40 343.58,288.86 343.60,288.33 343.61,287.79 343.63,287.25 343.65,286.72 343.67,286.18 343.68,285.65 343.70,285.11 343.72,284.58 343.73,284.04 343.75,283.51 343.77,282.97 343.78,282.44 343.80,281.90" fill="#0b4a8c" stroke="#000" stroke-width="1.15" stroke-linejoin="round"/>
<line x1="343.80" y1="281.90" x2="343.80" y2="389.00" stroke="#000" stroke-width="0.9"/>
<rect x="340.80" y="320.90" width="6.00" height="21.70" fill="#fff" stroke="#000" stroke-width="0.9"/>
<line x1="340.80" y1="331.50" x2="346.80" y2="331.50" stroke="#000" stroke-width="1.2"/>
<polygon points="373.60,277.30 373.61,277.86 373.63,278.41 373.64,278.97 373.66,279.52 373.67,280.08 373.69,280.63 373.70,281.19 373.72,281.74 373.73,282.30 373.75,282.86 373.76,283.41 373.77,283.97 373.79,284.52 373.80,285.08 373.82,285.63 373.83,286.19 373.85,286.74 373.86,287.30 373.88,287.85 373.89,288.41 373.91,288.97 373.92,289.52 373.94,290.08 373.95,290.63 373.96,291.19 373.98,291.74 373.99,292.30 374.01,292.85 374.02,293.41 374.04,293.97 374.05,294.52 374.05,295.08 374.05,295.63 374.18,296.19 374.37,296.74 374.55,297.30 374.73,297.85 374.91,298.41 375.09,298.96 375.27,299.52 375.44,300.08 375.62,300.63 375.79,301.19 375.96,301.74 376.13,302.30 376.30,302.85 376.46,303.41 376.63,303.96 376.79,304.52 376.96,305.07 377.12,305.63 377.27,306.19 377.43,306.74 377.59,307.30 377.74,307.85 377.89,308.41 378.04,308.96 378.19,309.52 378.34,310.07 378.48,310.63 378.62,311.19 378.76,311.74 378.90,312.30 379.04,312.85 379.17,313.41 379.30,313.96 379.43,314.52 379.56,315.07 379.69,315.63 379.81,316.19 379.93,316.74 380.05,317.30 380.16,317.85 380.28,318.41 380.38,318.96 380.49,319.52 380.59,320.07 380.69,320.63 380.79,321.18 380.88,321.74 380.97,322.30 381.06,322.85 381.14,323.41 381.21,323.96 381.28,324.52 381.35,325.07 381.41,325.63 381.45,326.18 381.49,326.74 381.49,327.30 381.46,327.85 381.41,328.41 381.36,328.96 381.30,329.52 381.24,330.07 381.17,330.63 381.10,331.18 381.02,331.74 380.94,332.29 380.86,332.85 380.77,333.41 380.68,333.96 380.59,334.52 380.50,335.07 380.40,335.63 380.30,336.18 380.20,336.74 380.10,337.29 379.99,337.85 379.89,338.40 379.78,338.96 379.67,339.52 379.55,340.07 379.44,340.63 379.32,341.18 379.21,341.74 379.09,342.29 378.97,342.85 378.85,343.40 378.73,343.96 378.61,344.52 378.48,345.07 378.36,345.63 378.23,346.18 378.10,346.74 377.98,347.29 377.85,347.85 377.72,348.40 377.59,348.96 377.46,349.51 377.33,350.07 377.20,350.63 377.07,351.18 376.93,351.74 376.80,352.29 376.67,352.85 376.53,353.40 376.40,353.96 376.27,354.51 376.14,355.07 376.00,355.63 375.87,356.18 375.74,356.74 375.61,357.29 375.47,357.85 375.34,358.40 375.21,358.96 375.08,359.51 374.95,360.07 374.83,360.62 374.70,361.18 374.58,361.74 374.45,362.29 374.33,362.85 374.22,363.40 374.10,363.96 374.05,364.51 374.05,365.07 374.05,365.62 374.05,366.18 374.05,366.74 374.04,367.29 374.03,367.85 374.02,368.40 374.01,368.96 373.99,369.51 373.98,370.07 373.97,370.62 373.96,371.18 373.95,371.73 373.94,372.29 373.92,372.85 373.91,373.40 373.90,373.96 373.89,374.51 373.88,375.07 373.87,375.62 373.86,376.18 373.84,376.73 373.83,377.29 373.82,377.85 373.81,378.40 373.80,378.96 373.79,379.51 373.77,380.07 373.76,380.62 373.75,381.18 373.74,381.73 373.73,382.29 373.72,382.84 373.70,383.40 373.69,383.96 373.68,384.51 373.67,385.07 373.66,385.62 373.65,386.18 373.63,386.73 373.62,387.29 373.61,387.84 373.60,388.40 373.60,388.40 373.59,387.84 373.58,387.29 373.57,386.73 373.55,386.18 373.54,385.62 373.53,385.07 373.52,384.51 373.51,383.96 373.50,383.40 373.48,382.84 373.47,382.29 373.46,381.73 373.45,381.18 373.44,380.62 373.43,380.07 373.41,379.51 373.40,378.96 373.39,378.40 373.38,377.85 373.37,377.29 373.36,376.73 373.34,376.18 373.33,375.62 373.32,375.07 373.31,374.51 373.30,373.96 373.29,373.40 373.28,372.85 373.26,372.29 373.25,371.73 373.24,371.18 373.23,370.62 373.22,370.07 373.21,369.51 373.19,368.96 373.18,368.40 373.17,367.85 373.16,367.29 373.15,366.74 373.15,366.18 373.15,365.62 373.15,365.07 373.15,364.51 373.10,363.96 372.98,363.40 372.87,362.85 372.75,362.29 372.62,361.74 372.50,361.18 372.37,360.62 372.25,360.07 372.12,359.51 371.99,358.96 371.86,358.40 371.73,357.85 371.59,357.29 371.46,356.74 371.33,356.18 371.20,355.63 371.06,355.07 370.93,354.51 370.80,353.96 370.67,353.40 370.53,352.85 370.40,352.29 370.27,351.74 370.13,351.18 370.00,350.63 369.87,350.07 369.74,349.51 369.61,348.96 369.48,348.40 369.35,347.85 369.22,347.29 369.10,346.74 368.97,346.18 368.84,345.63 368.72,345.07 368.59,344.52 368.47,343.96 368.35,343.40 368.23,342.85 368.11,342.29 367.99,341.74 367.88,341.18 367.76,340.63 367.65,340.07 367.53,339.52 367.42,338.96 367.31,338.40 367.21,337.85 367.10,337.29 367.00,336.74 366.90,336.18 366.80,335.63 366.70,335.07 366.61,334.52 366.52,333.96 366.43,333.41 366.34,332.85 366.26,332.29 366.18,331.74 366.10,331.18 366.03,330.63 365.96,330.07 365.90,329.52 365.84,328.96 365.79,328.41 365.74,327.85 365.71,327.30 365.71,326.74 365.75,326.18 365.79,325.63 365.85,325.07 365.92,324.52 365.99,323.96 366.06,323.41 366.14,322.85 366.23,322.30 366.32,321.74 366.41,321.18 366.51,320.63 366.61,320.07 366.71,319.52 366.82,318.96 366.92,318.41 367.04,317.85 367.15,317.30 367.27,316.74 367.39,316.19 367.51,315.63 367.64,315.07 367.77,314.52 367.90,313.96 368.03,313.41 368.16,312.85 368.30,312.30 368.44,311.74 368.58,311.19 368.72,310.63 368.86,310.07 369.01,309.52 369.16,308.96 369.31,308.41 369.46,307.85 369.61,307.30 369.77,306.74 369.93,306.19 370.08,305.63 370.24,305.07 370.41,304.52 370.57,303.96 370.74,303.41 370.90,302.85 371.07,302.30 371.24,301.74 371.41,301.19 371.58,300.63 371.76,300.08 371.93,299.52 372.11,298.96 372.29,298.41 372.47,297.85 372.65,297.30 372.83,296.74 373.02,296.19 373.15,295.63 373.15,295.08 373.15,294.52 373.16,293.97 373.18,293.41 373.19,292.85 373.21,292.30 373.22,291.74 373.24,291.19 373.25,290.63 373.26,290.08 373.28,289.52 373.29,288.97 373.31,288.41 373.32,287.85 373.34,287.30 373.35,286.74 373.37,286.19 373.38,285.63 373.40,285.08 373.41,284.52 373.43,283.97 373.44,283.41 373.45,282.86 373.47,282.30 373.48,281.74 373.50,281.19 373.51,280.63 373.53,280.08 373.54,279.52 373.56,278.97 373.57,278.41 373.59,277.86 373.60,277.30" fill="#e21f2b" stroke="#000" stroke-width="1.15" stroke-linejoin="round"/>
<line x1="373.60" y1="277.30" x2="373.60" y2="388.40" stroke="#000" stroke-width="0.9"/>
<rect x="370.60" y="320.30" width="6.00" height="21.70" fill="#fff" stroke="#000" stroke-width="0.9"/>
<line x1="370.60" y1="331.90" x2="376.60" y2="331.90" stroke="#000" stroke-width="1.2"/>
<polygon points="403.60,228.80 403.62,229.71 403.64,230.62 403.66,231.53 403.68,232.43 403.70,233.34 403.72,234.25 403.74,235.16 403.76,236.07 403.78,236.98 403.80,237.89 403.82,238.79 403.83,239.70 403.85,240.61 403.87,241.52 403.89,242.43 403.91,243.34 403.93,244.24 403.95,245.15 403.97,246.06 403.99,246.97 404.01,247.88 404.03,248.79 404.05,249.70 404.05,250.60 404.05,251.51 404.05,252.42 404.05,253.33 404.05,254.24 404.05,255.15 404.05,256.06 404.05,256.96 404.05,257.87 404.05,258.78 404.05,259.69 404.05,260.60 404.05,261.51 404.05,262.41 404.05,263.32 404.05,264.23 404.05,265.14 404.05,266.05 404.05,266.96 404.05,267.87 404.05,268.77 404.05,269.68 404.05,270.59 404.05,271.50 404.05,272.41 404.05,273.32 404.05,274.23 404.05,275.13 404.05,276.04 404.10,276.95 404.15,277.86 404.21,278.77 404.27,279.68 404.33,280.58 404.39,281.49 404.46,282.40 404.54,283.31 404.61,284.22 404.69,285.13 404.78,286.04 404.87,286.94 404.96,287.85 405.05,288.76 405.15,289.67 405.26,290.58 405.36,291.49 405.48,292.39 405.59,293.30 405.71,294.21 405.83,295.12 405.96,296.03 406.09,296.94 406.22,297.85 406.36,298.75 406.50,299.66 406.64,300.57 406.79,301.48 406.93,302.39 407.09,303.30 407.24,304.21 407.40,305.11 407.55,306.02 407.71,306.93 407.87,307.84 408.04,308.75 408.20,309.66 408.36,310.56 408.52,311.47 408.67,312.38 408.82,313.29 408.97,314.20 409.10,315.11 409.20,316.02 409.14,316.92 409.06,317.83 408.98,318.74 408.89,319.65 408.80,320.56 408.70,321.47 408.60,322.38 408.50,323.28 408.39,324.19 408.29,325.10 408.18,326.01 408.07,326.92 407.95,327.83 407.84,328.74 407.73,329.64 407.61,330.55 407.50,331.46 407.38,332.37 407.26,333.28 407.14,334.19 407.03,335.09 406.91,336.00 406.79,336.91 406.67,337.82 406.55,338.73 406.43,339.64 406.31,340.55 406.19,341.45 406.07,342.36 405.95,343.27 405.83,344.18 405.71,345.09 405.59,346.00 405.47,346.91 405.35,347.81 405.24,348.72 405.12,349.63 405.00,350.54 404.89,351.45 404.78,352.36 404.66,353.26 404.55,354.17 404.44,355.08 404.34,355.99 404.23,356.90 404.13,357.81 404.05,358.72 404.05,359.62 404.05,360.53 404.05,361.44 404.05,362.35 404.05,363.26 404.04,364.17 404.03,365.08 404.03,365.98 404.02,366.89 404.01,367.80 404.00,368.71 403.99,369.62 403.98,370.53 403.97,371.43 403.96,372.34 403.96,373.25 403.95,374.16 403.94,375.07 403.93,375.98 403.92,376.89 403.91,377.79 403.90,378.70 403.90,379.61 403.89,380.52 403.88,381.43 403.87,382.34 403.86,383.25 403.85,384.15 403.84,385.06 403.83,385.97 403.83,386.88 403.82,387.79 403.81,388.70 403.80,389.60 403.79,390.51 403.78,391.42 403.77,392.33 403.76,393.24 403.76,394.15 403.75,395.06 403.74,395.96 403.73,396.87 403.72,397.78 403.71,398.69 403.70,399.60 403.70,400.51 403.69,401.42 403.68,402.32 403.67,403.23 403.66,404.14 403.65,405.05 403.64,405.96 403.63,406.87 403.63,407.77 403.62,408.68 403.61,409.59 403.60,410.50 403.60,410.50 403.59,409.59 403.58,408.68 403.57,407.77 403.57,406.87 403.56,405.96 403.55,405.05 403.54,404.14 403.53,403.23 403.52,402.32 403.51,401.42 403.50,400.51 403.50,399.60 403.49,398.69 403.48,397.78 403.47,396.87 403.46,395.96 403.45,395.06 403.44,394.15 403.44,393.24 403.43,392.33 403.42,391.42 403.41,390.51 403.40,389.60 403.39,388.70 403.38,387.79 403.37,386.88 403.37,385.97 403.36,385.06 403.35,384.15 403.34,383.25 403.33,382.34 403.32,381.43 403.31,380.52 403.30,379.61 403.30,378.70 403.29,377.79 403.28,376.89 403.27,375.98 403.26,375.07 403.25,374.16 403.24,373.25 403.24,372.34 403.23,371.43 403.22,370.53 403.21,369.62 403.20,368.71 403.19,367.80 403.18,366.89 403.17,365.98 403.17,365.08 403.16,364.17 403.15,363.26 403.15,362.35 403.15,361.44 403.15,360.53 403.15,359.62 403.15,358.72 403.07,357.81 402.97,356.90 402.86,355.99 402.76,355.08 402.65,354.17 402.54,353.26 402.42,352.36 402.31,351.45 402.20,350.54 402.08,349.63 401.96,348.72 401.85,347.81 401.73,346.91 401.61,346.00 401.49,345.09 401.37,344.18 401.25,343.27 401.13,342.36 401.01,341.45 400.89,340.55 400.77,339.64 400.65,338.73 400.53,337.82 400.41,336.91 400.29,336.00 400.17,335.09 400.06,334.19 399.94,333.28 399.82,332.37 399.70,331.46 399.59,330.55 399.47,329.64 399.36,328.74 399.25,327.83 399.13,326.92 399.02,326.01 398.91,325.10 398.81,324.19 398.70,323.28 398.60,322.38 398.50,321.47 398.40,320.56 398.31,319.65 398.22,318.74 398.14,317.83 398.06,316.92 398.00,316.02 398.10,315.11 398.23,314.20 398.38,313.29 398.53,312.38 398.68,311.47 398.84,310.56 399.00,309.66 399.16,308.75 399.33,307.84 399.49,306.93 399.65,306.02 399.80,305.11 399.96,304.21 400.11,303.30 400.27,302.39 400.41,301.48 400.56,300.57 400.70,299.66 400.84,298.75 400.98,297.85 401.11,296.94 401.24,296.03 401.37,295.12 401.49,294.21 401.61,293.30 401.72,292.39 401.84,291.49 401.94,290.58 402.05,289.67 402.15,288.76 402.24,287.85 402.33,286.94 402.42,286.04 402.51,285.13 402.59,284.22 402.66,283.31 402.74,282.40 402.81,281.49 402.87,280.58 402.93,279.68 402.99,278.77 403.05,277.86 403.10,276.95 403.15,276.04 403.15,275.13 403.15,274.23 403.15,273.32 403.15,272.41 403.15,271.50 403.15,270.59 403.15,269.68 403.15,268.77 403.15,267.87 403.15,266.96 403.15,266.05 403.15,265.14 403.15,264.23 403.15,263.32 403.15,262.41 403.15,261.51 403.15,260.60 403.15,259.69 403.15,258.78 403.15,257.87 403.15,256.96 403.15,256.06 403.15,255.15 403.15,254.24 403.15,253.33 403.15,252.42 403.15,251.51 403.15,250.60 403.15,249.70 403.17,248.79 403.19,247.88 403.21,246.97 403.23,246.06 403.25,245.15 403.27,244.24 403.29,243.34 403.31,242.43 403.33,241.52 403.35,240.61 403.37,239.70 403.38,238.79 403.40,237.89 403.42,236.98 403.44,236.07 403.46,235.16 403.48,234.25 403.50,233.34 403.52,232.43 403.54,231.53 403.56,230.62 403.58,229.71 403.60,228.80" fill="#40a64f" stroke="#000" stroke-width="1.15" stroke-linejoin="round"/>
<line x1="403.60" y1="228.80" x2="403.60" y2="410.50" stroke="#000" stroke-width="0.9"/>
<rect x="400.60" y="300.50" width="6.00" height="34.10" fill="#fff" stroke="#000" stroke-width="0.9"/>
<line x1="400.60" y1="316.00" x2="406.60" y2="316.00" stroke="#000" stroke-width="1.2"/>
<polygon points="433.95,290.10 433.95,290.42 433.95,290.74 433.95,291.07 433.95,291.39 433.95,291.71 433.95,292.03 433.95,292.35 433.95,292.68 433.95,293.00 433.95,293.32 433.95,293.64 433.95,293.96 433.95,294.29 433.95,294.61 433.95,294.93 433.95,295.25 433.95,295.57 433.95,295.90 433.95,296.22 433.95,296.54 433.95,296.86 433.95,297.18 433.95,297.51 433.95,297.83 433.95,298.15 433.95,298.47 433.95,298.79 433.95,299.12 433.95,299.44 433.95,299.76 433.95,300.08 433.97,300.40 434.01,300.73 434.04,301.05 434.08,301.37 434.12,301.69 434.16,302.01 434.20,302.34 434.25,302.66 434.29,302.98 434.34,303.30 434.39,303.62 434.44,303.95 434.50,304.27 434.55,304.59 434.61,304.91 434.67,305.23 434.73,305.56 434.79,305.88 434.85,306.20 434.92,306.52 434.99,306.84 435.06,307.17 435.13,307.49 435.21,307.81 435.28,308.13 435.36,308.45 435.44,308.78 435.52,309.10 435.61,309.42 435.69,309.74 435.78,310.06 435.87,310.39 435.96,310.71 436.06,311.03 436.15,311.35 436.25,311.67 436.35,312.00 436.45,312.32 436.56,312.64 436.66,312.96 436.77,313.28 436.88,313.61 436.99,313.93 437.11,314.25 437.22,314.57 437.34,314.89 437.46,315.22 437.58,315.54 437.70,315.86 437.82,316.18 437.95,316.50 438.07,316.83 438.20,317.15 438.33,317.47 438.46,317.79 438.59,318.11 438.72,318.44 438.85,318.76 438.98,319.08 439.12,319.40 439.25,319.72 439.39,320.05 439.52,320.37 439.66,320.69 439.79,321.01 439.92,321.33 440.06,321.66 440.19,321.98 440.32,322.30 440.44,322.62 440.57,322.94 440.68,323.27 440.80,323.59 440.90,323.91 440.99,324.23 441.00,324.55 440.99,324.88 440.98,325.20 440.96,325.52 440.94,325.84 440.90,326.16 440.86,326.49 440.81,326.81 440.75,327.13 440.68,327.45 440.60,327.77 440.52,328.10 440.42,328.42 440.31,328.74 440.19,329.06 440.07,329.38 439.93,329.71 439.79,330.03 439.64,330.35 439.47,330.67 439.31,330.99 439.13,331.32 438.94,331.64 438.75,331.96 438.55,332.28 438.35,332.60 438.14,332.93 437.93,333.25 437.71,333.57 437.49,333.89 437.26,334.21 437.04,334.54 436.81,334.86 436.58,335.18 436.36,335.50 436.14,335.82 435.92,336.15 435.70,336.47 435.49,336.79 435.28,337.11 435.08,337.43 434.89,337.76 434.71,338.08 434.54,338.40 434.37,338.72 434.22,339.04 434.09,339.37 433.96,339.69 433.95,340.01 433.95,340.33 433.95,340.65 433.95,340.98 433.95,341.30 433.95,341.62 433.95,341.94 433.95,342.26 433.94,342.59 433.93,342.91 433.92,343.23 433.91,343.55 433.90,343.87 433.88,344.20 433.87,344.52 433.86,344.84 433.85,345.16 433.84,345.48 433.82,345.81 433.81,346.13 433.80,346.45 433.79,346.77 433.78,347.09 433.76,347.42 433.75,347.74 433.74,348.06 433.73,348.38 433.72,348.70 433.70,349.03 433.69,349.35 433.68,349.67 433.67,349.99 433.66,350.31 433.64,350.64 433.63,350.96 433.62,351.28 433.61,351.60 433.60,351.92 433.58,352.25 433.57,352.57 433.56,352.89 433.55,353.21 433.54,353.53 433.52,353.86 433.51,354.18 433.50,354.50 433.50,354.50 433.49,354.18 433.48,353.86 433.46,353.53 433.45,353.21 433.44,352.89 433.43,352.57 433.42,352.25 433.40,351.92 433.39,351.60 433.38,351.28 433.37,350.96 433.36,350.64 433.34,350.31 433.33,349.99 433.32,349.67 433.31,349.35 433.30,349.03 433.28,348.70 433.27,348.38 433.26,348.06 433.25,347.74 433.24,347.42 433.22,347.09 433.21,346.77 433.20,346.45 433.19,346.13 433.18,345.81 433.16,345.48 433.15,345.16 433.14,344.84 433.13,344.52 433.12,344.20 433.10,343.87 433.09,343.55 433.08,343.23 433.07,342.91 433.06,342.59 433.05,342.26 433.05,341.94 433.05,341.62 433.05,341.30 433.05,340.98 433.05,340.65 433.05,340.33 433.05,340.01 433.04,339.69 432.91,339.37 432.78,339.04 432.63,338.72 432.46,338.40 432.29,338.08 432.11,337.76 431.92,337.43 431.72,337.11 431.51,336.79 431.30,336.47 431.08,336.15 430.86,335.82 430.64,335.50 430.42,335.18 430.19,334.86 429.96,334.54 429.74,334.21 429.51,333.89 429.29,333.57 429.07,333.25 428.86,332.93 428.65,332.60 428.45,332.28 428.25,331.96 428.06,331.64 427.87,331.32 427.69,330.99 427.53,330.67 427.36,330.35 427.21,330.03 427.07,329.71 426.93,329.38 426.81,329.06 426.69,328.74 426.58,328.42 426.48,328.10 426.40,327.77 426.32,327.45 426.25,327.13 426.19,326.81 426.14,326.49 426.10,326.16 426.06,325.84 426.04,325.52 426.02,325.20 426.01,324.88 426.00,324.55 426.01,324.23 426.10,323.91 426.20,323.59 426.32,323.27 426.43,322.94 426.56,322.62 426.68,322.30 426.81,321.98 426.94,321.66 427.08,321.33 427.21,321.01 427.34,320.69 427.48,320.37 427.61,320.05 427.75,319.72 427.88,319.40 428.02,319.08 428.15,318.76 428.28,318.44 428.41,318.11 428.54,317.79 428.67,317.47 428.80,317.15 428.93,316.83 429.05,316.50 429.18,316.18 429.30,315.86 429.42,315.54 429.54,315.22 429.66,314.89 429.78,314.57 429.89,314.25 430.01,313.93 430.12,313.61 430.23,313.28 430.34,312.96 430.44,312.64 430.55,312.32 430.65,312.00 430.75,311.67 430.85,311.35 430.94,311.03 431.04,310.71 431.13,310.39 431.22,310.06 431.31,309.74 431.39,309.42 431.48,309.10 431.56,308.78 431.64,308.45 431.72,308.13 431.79,307.81 431.87,307.49 431.94,307.17 432.01,306.84 432.08,306.52 432.15,306.20 432.21,305.88 432.27,305.56 432.33,305.23 432.39,304.91 432.45,304.59 432.50,304.27 432.56,303.95 432.61,303.62 432.66,303.30 432.71,302.98 432.75,302.66 432.80,302.34 432.84,302.01 432.88,301.69 432.92,301.37 432.96,301.05 432.99,300.73 433.03,300.40 433.05,300.08 433.05,299.76 433.05,299.44 433.05,299.12 433.05,298.79 433.05,298.47 433.05,298.15 433.05,297.83 433.05,297.51 433.05,297.18 433.05,296.86 433.05,296.54 433.05,296.22 433.05,295.90 433.05,295.57 433.05,295.25 433.05,294.93 433.05,294.61 433.05,294.29 433.05,293.96 433.05,293.64 433.05,293.32 433.05,293.00 433.05,292.68 433.05,292.35 433.05,292.03 433.05,291.71 433.05,291.39 433.05,291.07 433.05,290.74 433.05,290.42 433.05,290.10" fill="#0a90ae" stroke="#000" stroke-width="1.15" stroke-linejoin="round"/>
<line x1="433.50" y1="290.10" x2="433.50" y2="354.50" stroke="#000" stroke-width="0.9"/>
<rect x="430.50" y="316.40" width="6.00" height="11.80" fill="#fff" stroke="#000" stroke-width="0.9"/>
<line x1="430.50" y1="321.00" x2="436.50" y2="321.00" stroke="#000" stroke-width="1.2"/>
<polygon points="463.40,291.40 463.44,291.73 463.48,292.05 463.52,292.38 463.56,292.70 463.60,293.03 463.64,293.35 463.68,293.68 463.72,294.00 463.77,294.33 463.81,294.65 463.85,294.98 463.85,295.31 463.85,295.63 463.85,295.96 463.85,296.28 463.85,296.61 463.85,296.93 463.98,297.26 464.13,297.58 464.29,297.91 464.47,298.24 464.67,298.56 464.87,298.89 465.08,299.21 465.31,299.54 465.54,299.86 465.78,300.19 466.03,300.51 466.29,300.84 466.56,301.16 466.83,301.49 467.11,301.82 467.39,302.14 467.68,302.47 467.98,302.79 468.27,303.12 468.58,303.44 468.88,303.77 469.19,304.09 469.50,304.42 469.82,304.75 470.13,305.07 470.45,305.40 470.76,305.72 471.08,306.05 471.40,306.37 471.71,306.70 472.03,307.02 472.34,307.35 472.65,307.67 472.96,308.00 473.27,308.33 473.57,308.65 473.87,308.98 474.17,309.30 474.46,309.63 474.75,309.95 475.03,310.28 475.30,310.60 475.57,310.93 475.83,311.26 476.09,311.58 476.34,311.91 476.57,312.23 476.80,312.56 477.02,312.88 477.23,313.21 477.43,313.53 477.61,313.86 477.79,314.19 477.94,314.51 478.09,314.84 478.22,315.16 478.33,315.49 478.41,315.81 478.48,316.14 478.49,316.46 478.38,316.79 478.26,317.11 478.12,317.44 477.98,317.77 477.83,318.09 477.68,318.42 477.52,318.74 477.36,319.07 477.19,319.39 477.02,319.72 476.85,320.04 476.68,320.37 476.51,320.69 476.34,321.02 476.16,321.35 475.99,321.67 475.81,322.00 475.63,322.32 475.45,322.65 475.27,322.97 475.10,323.30 474.92,323.62 474.74,323.95 474.56,324.28 474.38,324.60 474.20,324.93 474.03,325.25 473.85,325.58 473.67,325.90 473.50,326.23 473.32,326.55 473.15,326.88 472.97,327.20 472.80,327.53 472.63,327.86 472.46,328.18 472.29,328.51 472.12,328.83 471.95,329.16 471.78,329.48 471.61,329.81 471.45,330.13 471.28,330.46 471.12,330.79 470.96,331.11 470.80,331.44 470.64,331.76 470.48,332.09 470.33,332.41 470.17,332.74 470.02,333.06 469.87,333.39 469.72,333.71 469.57,334.04 469.42,334.37 469.27,334.69 469.13,335.02 468.99,335.34 468.84,335.67 468.71,335.99 468.57,336.32 468.43,336.64 468.30,336.97 468.16,337.30 468.03,337.62 467.90,337.95 467.78,338.27 467.65,338.60 467.53,338.92 467.40,339.25 467.28,339.57 467.16,339.90 467.05,340.23 466.93,340.55 466.82,340.88 466.71,341.20 466.60,341.53 466.49,341.85 466.39,342.18 466.28,342.50 466.18,342.83 466.08,343.15 465.98,343.48 465.89,343.81 465.79,344.13 465.70,344.46 465.61,344.78 465.52,345.11 465.43,345.43 465.35,345.76 465.27,346.08 465.18,346.41 465.11,346.74 465.03,347.06 464.95,347.39 464.88,347.71 464.81,348.04 464.74,348.36 464.67,348.69 464.61,349.01 464.54,349.34 464.48,349.66 464.42,349.99 464.36,350.32 464.31,350.64 464.25,350.97 464.20,351.29 464.15,351.62 464.10,351.94 464.05,352.27 464.01,352.59 463.96,352.92 463.92,353.25 463.88,353.57 463.85,353.90 463.85,354.22 463.85,354.55 463.85,354.87 463.85,355.20 463.85,355.52 463.85,355.85 463.85,356.17 463.85,356.50 462.95,356.50 462.95,356.17 462.95,355.85 462.95,355.52 462.95,355.20 462.95,354.87 462.95,354.55 462.95,354.22 462.95,353.90 462.92,353.57 462.88,353.25 462.84,352.92 462.79,352.59 462.75,352.27 462.70,351.94 462.65,351.62 462.60,351.29 462.55,350.97 462.49,350.64 462.44,350.32 462.38,349.99 462.32,349.66 462.26,349.34 462.19,349.01 462.13,348.69 462.06,348.36 461.99,348.04 461.92,347.71 461.85,347.39 461.77,347.06 461.69,346.74 461.62,346.41 461.53,346.08 461.45,345.76 461.37,345.43 461.28,345.11 461.19,344.78 461.10,344.46 461.01,344.13 460.91,343.81 460.82,343.48 460.72,343.15 460.62,342.83 460.52,342.50 460.41,342.18 460.31,341.85 460.20,341.53 460.09,341.20 459.98,340.88 459.87,340.55 459.75,340.23 459.64,339.90 459.52,339.57 459.40,339.25 459.27,338.92 459.15,338.60 459.02,338.27 458.90,337.95 458.77,337.62 458.64,337.30 458.50,336.97 458.37,336.64 458.23,336.32 458.09,335.99 457.96,335.67 457.81,335.34 457.67,335.02 457.53,334.69 457.38,334.37 457.23,334.04 457.08,333.71 456.93,333.39 456.78,333.06 456.63,332.74 456.47,332.41 456.32,332.09 456.16,331.76 456.00,331.44 455.84,331.11 455.68,330.79 455.52,330.46 455.35,330.13 455.19,329.81 455.02,329.48 454.85,329.16 454.68,328.83 454.51,328.51 454.34,328.18 454.17,327.86 454.00,327.53 453.83,327.20 453.65,326.88 453.48,326.55 453.30,326.23 453.13,325.90 452.95,325.58 452.77,325.25 452.60,324.93 452.42,324.60 452.24,324.28 452.06,323.95 451.88,323.62 451.70,323.30 451.53,322.97 451.35,322.65 451.17,322.32 450.99,322.00 450.81,321.67 450.64,321.35 450.46,321.02 450.29,320.69 450.12,320.37 449.95,320.04 449.78,319.72 449.61,319.39 449.44,319.07 449.28,318.74 449.12,318.42 448.97,318.09 448.82,317.77 448.68,317.44 448.54,317.11 448.42,316.79 448.31,316.46 448.32,316.14 448.39,315.81 448.47,315.49 448.58,315.16 448.71,314.84 448.86,314.51 449.01,314.19 449.19,313.86 449.37,313.53 449.57,313.21 449.78,312.88 450.00,312.56 450.23,312.23 450.46,311.91 450.71,311.58 450.97,311.26 451.23,310.93 451.50,310.60 451.77,310.28 452.05,309.95 452.34,309.63 452.63,309.30 452.93,308.98 453.23,308.65 453.53,308.33 453.84,308.00 454.15,307.67 454.46,307.35 454.77,307.02 455.09,306.70 455.40,306.37 455.72,306.05 456.04,305.72 456.35,305.40 456.67,305.07 456.98,304.75 457.30,304.42 457.61,304.09 457.92,303.77 458.22,303.44 458.53,303.12 458.82,302.79 459.12,302.47 459.41,302.14 459.69,301.82 459.97,301.49 460.24,301.16 460.51,300.84 460.77,300.51 461.02,300.19 461.26,299.86 461.49,299.54 461.72,299.21 461.93,298.89 462.13,298.56 462.33,298.24 462.51,297.91 462.67,297.58 462.82,297.26 462.95,296.93 462.95,296.61 462.95,296.28 462.95,295.96 462.95,295.63 462.95,295.31 462.95,294.98 462.99,294.65 463.03,294.33 463.08,294.00 463.12,293.68 463.16,293.35 463.20,293.03 463.24,292.70 463.28,292.38 463.32,292.05 463.36,291.73 463.40,291.40" fill="#86609e" stroke="#000" stroke-width="1.15" stroke-linejoin="round"/>
<line x1="463.40" y1="291.40" x2="463.40" y2="356.50" stroke="#000" stroke-width="0.9"/>
<rect x="460.40" y="313.40" width="6.00" height="13.50" fill="#fff" stroke="#000" stroke-width="0.9"/>
<line x1="460.40" y1="318.40" x2="466.40" y2="318.40" stroke="#000" stroke-width="1.2"/>
<polygon points="493.30,281.60 493.32,281.95 493.35,282.31 493.37,282.66 493.40,283.02 493.42,283.37 493.45,283.73 493.47,284.08 493.50,284.44 493.52,284.79 493.55,285.15 493.57,285.50 493.59,285.85 493.62,286.21 493.64,286.56 493.67,286.92 493.69,287.27 493.72,287.63 493.74,287.98 493.91,288.34 494.07,288.69 494.24,289.04 494.41,289.40 494.57,289.75 494.73,290.11 494.88,290.46 495.02,290.82 495.17,291.17 495.30,291.53 495.42,291.88 495.54,292.24 495.64,292.59 495.74,292.94 495.83,293.30 495.92,293.65 496.00,294.01 496.09,294.36 496.17,294.72 496.25,295.07 496.33,295.43 496.41,295.78 496.50,296.13 496.59,296.49 496.67,296.84 496.78,297.20 496.88,297.55 496.99,297.91 497.10,298.26 497.24,298.62 497.37,298.97 497.51,299.33 497.69,299.68 497.87,300.03 498.06,300.39 498.27,300.74 498.49,301.10 498.71,301.45 498.95,301.81 499.20,302.16 499.44,302.52 499.70,302.87 499.96,303.22 500.22,303.58 500.49,303.93 500.75,304.29 501.00,304.64 501.26,305.00 501.51,305.35 501.77,305.71 502.03,306.06 502.31,306.42 502.59,306.77 502.88,307.12 503.17,307.48 503.44,307.83 503.72,308.19 503.97,308.54 504.21,308.90 504.41,309.25 504.60,309.61 504.76,309.96 504.90,310.31 505.02,310.67 505.12,311.02 505.21,311.38 505.28,311.73 505.34,312.09 505.37,312.44 505.41,312.80 505.42,313.15 505.43,313.50 505.42,313.86 505.41,314.21 505.38,314.57 505.35,314.92 505.31,315.28 505.25,315.63 505.19,315.99 505.12,316.34 505.03,316.70 504.94,317.05 504.84,317.40 504.74,317.76 504.63,318.11 504.52,318.47 504.40,318.82 504.28,319.18 504.16,319.53 504.03,319.89 503.90,320.24 503.77,320.60 503.64,320.95 503.50,321.30 503.36,321.66 503.22,322.01 503.08,322.37 502.93,322.72 502.78,323.08 502.63,323.43 502.48,323.79 502.33,324.14 502.18,324.49 502.03,324.85 501.87,325.20 501.72,325.56 501.56,325.91 501.40,326.27 501.24,326.62 501.08,326.98 500.92,327.33 500.76,327.69 500.59,328.04 500.42,328.39 500.25,328.75 500.07,329.10 499.89,329.46 499.71,329.81 499.53,330.17 499.34,330.52 499.16,330.88 498.97,331.23 498.78,331.58 498.60,331.94 498.41,332.29 498.23,332.65 498.04,333.00 497.87,333.36 497.69,333.71 497.52,334.07 497.35,334.42 497.18,334.77 497.02,335.13 496.86,335.48 496.70,335.84 496.54,336.19 496.38,336.55 496.22,336.90 496.07,337.26 495.91,337.61 495.76,337.97 495.61,338.32 495.46,338.67 495.31,339.03 495.16,339.38 495.01,339.74 494.86,340.09 494.72,340.45 494.58,340.80 494.45,341.16 494.32,341.51 494.19,341.87 494.07,342.22 493.95,342.57 493.83,342.93 493.75,343.28 493.73,343.64 493.72,343.99 493.70,344.35 493.68,344.70 493.66,345.06 493.65,345.41 493.63,345.76 493.61,346.12 493.59,346.47 493.58,346.83 493.56,347.18 493.54,347.54 493.53,347.89 493.51,348.25 493.49,348.60 493.47,348.95 493.46,349.31 493.44,349.66 493.42,350.02 493.40,350.37 493.39,350.73 493.37,351.08 493.35,351.44 493.33,351.79 493.32,352.15 493.30,352.50 493.30,352.50 493.28,352.15 493.27,351.79 493.25,351.44 493.23,351.08 493.21,350.73 493.20,350.37 493.18,350.02 493.16,349.66 493.14,349.31 493.13,348.95 493.11,348.60 493.09,348.25 493.07,347.89 493.06,347.54 493.04,347.18 493.02,346.83 493.01,346.47 492.99,346.12 492.97,345.76 492.95,345.41 492.94,345.06 492.92,344.70 492.90,344.35 492.88,343.99 492.87,343.64 492.85,343.28 492.77,342.93 492.65,342.57 492.53,342.22 492.41,341.87 492.28,341.51 492.15,341.16 492.02,340.80 491.88,340.45 491.74,340.09 491.59,339.74 491.44,339.38 491.29,339.03 491.14,338.67 490.99,338.32 490.84,337.97 490.69,337.61 490.53,337.26 490.38,336.90 490.22,336.55 490.06,336.19 489.90,335.84 489.74,335.48 489.58,335.13 489.42,334.77 489.25,334.42 489.08,334.07 488.91,333.71 488.73,333.36 488.56,333.00 488.37,332.65 488.19,332.29 488.00,331.94 487.82,331.58 487.63,331.23 487.44,330.88 487.26,330.52 487.07,330.17 486.89,329.81 486.71,329.46 486.53,329.10 486.35,328.75 486.18,328.39 486.01,328.04 485.84,327.69 485.68,327.33 485.52,326.98 485.36,326.62 485.20,326.27 485.04,325.91 484.88,325.56 484.73,325.20 484.57,324.85 484.42,324.49 484.27,324.14 484.12,323.79 483.97,323.43 483.82,323.08 483.67,322.72 483.52,322.37 483.38,322.01 483.24,321.66 483.10,321.30 482.96,320.95 482.83,320.60 482.70,320.24 482.57,319.89 482.44,319.53 482.32,319.18 482.20,318.82 482.08,318.47 481.97,318.11 481.86,317.76 481.76,317.40 481.66,317.05 481.57,316.70 481.48,316.34 481.41,315.99 481.35,315.63 481.29,315.28 481.25,314.92 481.22,314.57 481.19,314.21 481.18,313.86 481.17,313.50 481.18,313.15 481.19,312.80 481.23,312.44 481.26,312.09 481.32,311.73 481.39,311.38 481.48,311.02 481.58,310.67 481.70,310.31 481.84,309.96 482.00,309.61 482.19,309.25 482.39,308.90 482.63,308.54 482.88,308.19 483.16,307.83 483.43,307.48 483.72,307.12 484.01,306.77 484.29,306.42 484.57,306.06 484.83,305.71 485.09,305.35 485.34,305.00 485.60,304.64 485.85,304.29 486.11,303.93 486.38,303.58 486.64,303.22 486.90,302.87 487.16,302.52 487.40,302.16 487.65,301.81 487.89,301.45 488.11,301.10 488.33,300.74 488.54,300.39 488.73,300.03 488.91,299.68 489.09,299.33 489.23,298.97 489.36,298.62 489.50,298.26 489.61,297.91 489.72,297.55 489.82,297.20 489.93,296.84 490.01,296.49 490.10,296.13 490.19,295.78 490.27,295.43 490.35,295.07 490.43,294.72 490.51,294.36 490.60,294.01 490.68,293.65 490.77,293.30 490.86,292.94 490.96,292.59 491.06,292.24 491.18,291.88 491.30,291.53 491.43,291.17 491.58,290.82 491.72,290.46 491.87,290.11 492.03,289.75 492.19,289.40 492.36,289.04 492.53,288.69 492.69,288.34 492.86,287.98 492.88,287.63 492.91,287.27 492.93,286.92 492.96,286.56 492.98,286.21 493.01,285.85 493.03,285.50 493.05,285.15 493.08,284.79 493.10,284.44 493.13,284.08 493.15,283.73 493.18,283.37 493.20,283.02 493.23,282.66 493.25,282.31 493.28,281.95 493.30,281.60" fill="#f0a58c" stroke="#000" stroke-width="1.15" stroke-linejoin="round"/>
<line x1="493.30" y1="281.60" x2="493.30" y2="352.50" stroke="#000" stroke-width="0.9"/>
<rect x="490.30" y="308.90" width="6.00" height="14.10" fill="#fff" stroke="#000" stroke-width="0.9"/>
<line x1="490.30" y1="315.70" x2="496.30" y2="315.70" stroke="#000" stroke-width="1.2"/>
<polygon points="523.30,287.00 523.31,287.36 523.33,287.72 523.34,288.08 523.36,288.45 523.37,288.81 523.39,289.17 523.40,289.53 523.42,289.89 523.43,290.25 523.45,290.62 523.46,290.98 523.48,291.34 523.49,291.70 523.51,292.06 523.52,292.42 523.54,292.78 523.55,293.15 523.57,293.51 523.58,293.87 523.60,294.23 523.61,294.59 523.63,294.95 523.64,295.31 523.66,295.68 523.67,296.04 523.69,296.40 523.70,296.76 523.72,297.12 523.73,297.48 523.75,297.85 523.75,298.21 523.75,298.57 523.75,298.93 523.75,299.29 523.75,299.65 523.75,300.01 523.76,300.38 523.98,300.74 524.25,301.10 524.56,301.46 524.93,301.82 525.33,302.18 525.79,302.54 526.27,302.91 526.80,303.27 527.35,303.63 527.92,303.99 528.52,304.35 529.13,304.71 529.74,305.07 530.36,305.44 530.97,305.80 531.58,306.16 532.17,306.52 532.75,306.88 533.31,307.24 533.84,307.61 534.35,307.97 534.83,308.33 535.28,308.69 535.69,309.05 536.07,309.41 536.42,309.77 536.73,310.14 537.00,310.50 537.24,310.86 537.45,311.22 537.62,311.58 537.76,311.94 537.88,312.31 537.96,312.67 538.03,313.03 538.07,313.39 538.09,313.75 538.10,314.11 538.09,314.47 538.04,314.84 537.96,315.20 537.86,315.56 537.75,315.92 537.62,316.28 537.49,316.64 537.35,317.00 537.21,317.37 537.05,317.73 536.90,318.09 536.73,318.45 536.57,318.81 536.40,319.17 536.22,319.54 536.04,319.90 535.86,320.26 535.68,320.62 535.49,320.98 535.30,321.34 535.11,321.70 534.92,322.07 534.73,322.43 534.53,322.79 534.34,323.15 534.14,323.51 533.94,323.87 533.75,324.23 533.55,324.60 533.35,324.96 533.15,325.32 532.95,325.68 532.76,326.04 532.56,326.40 532.36,326.76 532.16,327.13 531.97,327.49 531.77,327.85 531.58,328.21 531.39,328.57 531.20,328.93 531.01,329.30 530.82,329.66 530.63,330.02 530.44,330.38 530.26,330.74 530.08,331.10 529.90,331.46 529.72,331.83 529.54,332.19 529.37,332.55 529.19,332.91 529.02,333.27 528.85,333.63 528.69,334.00 528.52,334.36 528.36,334.72 528.20,335.08 528.04,335.44 527.89,335.80 527.74,336.16 527.59,336.53 527.44,336.89 527.30,337.25 527.15,337.61 527.02,337.97 526.88,338.33 526.74,338.69 526.61,339.06 526.49,339.42 526.36,339.78 526.24,340.14 526.12,340.50 526.00,340.86 525.88,341.23 525.77,341.59 525.66,341.95 525.56,342.31 525.45,342.67 525.35,343.03 525.26,343.39 525.16,343.76 525.07,344.12 524.98,344.48 524.89,344.84 524.81,345.20 524.73,345.56 524.65,345.92 524.57,346.29 524.50,346.65 524.43,347.01 524.36,347.37 524.30,347.73 524.23,348.09 524.17,348.46 524.12,348.82 524.06,349.18 524.01,349.54 523.96,349.90 523.91,350.26 523.86,350.62 523.82,350.99 523.78,351.35 523.75,351.71 523.75,352.07 523.75,352.43 523.75,352.79 523.75,353.15 523.75,353.52 523.75,353.88 523.75,354.24 523.75,354.60 523.75,354.96 523.75,355.32 523.75,355.69 523.75,356.05 523.75,356.41 523.75,356.77 523.75,357.13 523.75,357.49 523.75,357.85 523.75,358.22 523.75,358.58 523.75,358.94 523.75,359.30 522.85,359.30 522.85,358.94 522.85,358.58 522.85,358.22 522.85,357.85 522.85,357.49 522.85,357.13 522.85,356.77 522.85,356.41 522.85,356.05 522.85,355.69 522.85,355.32 522.85,354.96 522.85,354.60 522.85,354.24 522.85,353.88 522.85,353.52 522.85,353.15 522.85,352.79 522.85,352.43 522.85,352.07 522.85,351.71 522.82,351.35 522.78,350.99 522.74,350.62 522.69,350.26 522.64,349.90 522.59,349.54 522.54,349.18 522.48,348.82 522.43,348.46 522.37,348.09 522.30,347.73 522.24,347.37 522.17,347.01 522.10,346.65 522.03,346.29 521.95,345.92 521.87,345.56 521.79,345.20 521.71,344.84 521.62,344.48 521.53,344.12 521.44,343.76 521.34,343.39 521.25,343.03 521.15,342.67 521.04,342.31 520.94,341.95 520.83,341.59 520.72,341.23 520.60,340.86 520.48,340.50 520.36,340.14 520.24,339.78 520.11,339.42 519.99,339.06 519.86,338.69 519.72,338.33 519.58,337.97 519.45,337.61 519.30,337.25 519.16,336.89 519.01,336.53 518.86,336.16 518.71,335.80 518.56,335.44 518.40,335.08 518.24,334.72 518.08,334.36 517.91,334.00 517.75,333.63 517.58,333.27 517.41,332.91 517.23,332.55 517.06,332.19 516.88,331.83 516.70,331.46 516.52,331.10 516.34,330.74 516.16,330.38 515.97,330.02 515.78,329.66 515.59,329.30 515.40,328.93 515.21,328.57 515.02,328.21 514.83,327.85 514.63,327.49 514.44,327.13 514.24,326.76 514.04,326.40 513.84,326.04 513.65,325.68 513.45,325.32 513.25,324.96 513.05,324.60 512.85,324.23 512.66,323.87 512.46,323.51 512.26,323.15 512.07,322.79 511.87,322.43 511.68,322.07 511.49,321.70 511.30,321.34 511.11,320.98 510.92,320.62 510.74,320.26 510.56,319.90 510.38,319.54 510.20,319.17 510.03,318.81 509.87,318.45 509.70,318.09 509.55,317.73 509.39,317.37 509.25,317.00 509.11,316.64 508.98,316.28 508.85,315.92 508.74,315.56 508.64,315.20 508.56,314.84 508.51,314.47 508.50,314.11 508.51,313.75 508.53,313.39 508.57,313.03 508.64,312.67 508.72,312.31 508.84,311.94 508.98,311.58 509.15,311.22 509.36,310.86 509.60,310.50 509.87,310.14 510.18,309.77 510.53,309.41 510.91,309.05 511.32,308.69 511.77,308.33 512.25,307.97 512.76,307.61 513.29,307.24 513.85,306.88 514.43,306.52 515.02,306.16 515.63,305.80 516.24,305.44 516.86,305.07 517.47,304.71 518.08,304.35 518.68,303.99 519.25,303.63 519.80,303.27 520.33,302.91 520.81,302.54 521.27,302.18 521.67,301.82 522.04,301.46 522.35,301.10 522.62,300.74 522.84,300.38 522.85,300.01 522.85,299.65 522.85,299.29 522.85,298.93 522.85,298.57 522.85,298.21 522.85,297.85 522.87,297.48 522.88,297.12 522.90,296.76 522.91,296.40 522.93,296.04 522.94,295.68 522.96,295.31 522.97,294.95 522.99,294.59 523.00,294.23 523.02,293.87 523.03,293.51 523.05,293.15 523.06,292.78 523.08,292.42 523.09,292.06 523.11,291.70 523.12,291.34 523.14,290.98 523.15,290.62 523.17,290.25 523.18,289.89 523.20,289.53 523.21,289.17 523.23,288.81 523.24,288.45 523.26,288.08 523.27,287.72 523.29,287.36 523.30,287.00" fill="#a2172f" stroke="#000" stroke-width="1.15" stroke-linejoin="round"/>
<line x1="523.30" y1="287.00" x2="523.30" y2="359.30" stroke="#000" stroke-width="0.9"/>
<rect x="520.30" y="312.80" width="6.00" height="14.50" fill="#fff" stroke="#000" stroke-width="0.9"/>
<line x1="520.30" y1="318.80" x2="526.30" y2="318.80" stroke="#000" stroke-width="1.2"/>
<polygon points="553.40,277.20 553.42,277.59 553.44,277.97 553.46,278.36 553.48,278.74 553.50,279.13 553.53,279.52 553.55,279.90 553.57,280.29 553.59,280.67 553.61,281.06 553.63,281.45 553.65,281.83 553.67,282.22 553.69,282.60 553.71,282.99 553.73,283.38 553.76,283.76 553.78,284.15 553.80,284.53 553.82,284.92 553.84,285.31 553.85,285.69 553.85,286.08 553.85,286.46 553.85,286.85 553.85,287.24 553.85,287.62 553.85,288.01 553.85,288.39 553.91,288.78 554.02,289.17 554.14,289.55 554.26,289.94 554.39,290.32 554.53,290.71 554.68,291.10 554.83,291.48 554.99,291.87 555.15,292.25 555.32,292.64 555.50,293.03 555.68,293.41 555.86,293.80 556.05,294.18 556.24,294.57 556.44,294.96 556.64,295.34 556.84,295.73 557.05,296.11 557.26,296.50 557.47,296.89 557.68,297.27 557.90,297.66 558.11,298.04 558.33,298.43 558.55,298.82 558.77,299.20 559.00,299.59 559.22,299.97 559.44,300.36 559.67,300.75 559.89,301.13 560.11,301.52 560.34,301.90 560.56,302.29 560.78,302.68 561.00,303.06 561.22,303.45 561.44,303.83 561.66,304.22 561.87,304.61 562.08,304.99 562.29,305.38 562.50,305.76 562.70,306.15 562.91,306.54 563.10,306.92 563.30,307.31 563.49,307.69 563.68,308.08 563.86,308.47 564.04,308.85 564.21,309.24 564.38,309.62 564.54,310.01 564.70,310.40 564.85,310.78 564.99,311.17 565.13,311.55 565.26,311.94 565.38,312.33 565.50,312.71 565.60,313.10 565.70,313.48 565.79,313.87 565.86,314.26 565.92,314.64 565.97,315.03 566.00,315.41 565.97,315.80 565.89,316.19 565.80,316.57 565.70,316.96 565.58,317.34 565.45,317.73 565.32,318.12 565.17,318.50 565.02,318.89 564.86,319.27 564.70,319.66 564.53,320.05 564.36,320.43 564.18,320.82 564.00,321.20 563.81,321.59 563.62,321.98 563.42,322.36 563.23,322.75 563.02,323.13 562.82,323.52 562.61,323.91 562.41,324.29 562.19,324.68 561.98,325.06 561.77,325.45 561.55,325.84 561.33,326.22 561.11,326.61 560.89,326.99 560.67,327.38 560.44,327.77 560.22,328.15 559.99,328.54 559.77,328.92 559.54,329.31 559.32,329.70 559.09,330.08 558.87,330.47 558.64,330.85 558.42,331.24 558.19,331.63 557.97,332.01 557.75,332.40 557.53,332.78 557.31,333.17 557.09,333.56 556.87,333.94 556.66,334.33 556.45,334.71 556.24,335.10 556.03,335.49 555.83,335.87 555.63,336.26 555.43,336.64 555.24,337.03 555.05,337.42 554.86,337.80 554.69,338.19 554.51,338.57 554.35,338.96 554.19,339.35 554.03,339.73 553.89,340.12 553.85,340.50 553.85,340.89 553.85,341.28 553.85,341.66 553.85,342.05 553.83,342.43 553.82,342.82 553.81,343.21 553.79,343.59 553.78,343.98 553.76,344.36 553.75,344.75 553.74,345.14 553.72,345.52 553.71,345.91 553.69,346.29 553.68,346.68 553.67,347.07 553.65,347.45 553.64,347.84 553.62,348.22 553.61,348.61 553.60,349.00 553.58,349.38 553.57,349.77 553.55,350.15 553.54,350.54 553.53,350.93 553.51,351.31 553.50,351.70 553.48,352.08 553.47,352.47 553.46,352.86 553.44,353.24 553.43,353.63 553.41,354.01 553.40,354.40 553.40,354.40 553.39,354.01 553.37,353.63 553.36,353.24 553.34,352.86 553.33,352.47 553.32,352.08 553.30,351.70 553.29,351.31 553.27,350.93 553.26,350.54 553.25,350.15 553.23,349.77 553.22,349.38 553.20,349.00 553.19,348.61 553.18,348.22 553.16,347.84 553.15,347.45 553.13,347.07 553.12,346.68 553.11,346.29 553.09,345.91 553.08,345.52 553.06,345.14 553.05,344.75 553.04,344.36 553.02,343.98 553.01,343.59 552.99,343.21 552.98,342.82 552.97,342.43 552.95,342.05 552.95,341.66 552.95,341.28 552.95,340.89 552.95,340.50 552.91,340.12 552.77,339.73 552.61,339.35 552.45,338.96 552.29,338.57 552.11,338.19 551.94,337.80 551.75,337.42 551.56,337.03 551.37,336.64 551.17,336.26 550.97,335.87 550.77,335.49 550.56,335.10 550.35,334.71 550.14,334.33 549.93,333.94 549.71,333.56 549.49,333.17 549.27,332.78 549.05,332.40 548.83,332.01 548.61,331.63 548.38,331.24 548.16,330.85 547.93,330.47 547.71,330.08 547.48,329.70 547.26,329.31 547.03,328.92 546.81,328.54 546.58,328.15 546.36,327.77 546.13,327.38 545.91,326.99 545.69,326.61 545.47,326.22 545.25,325.84 545.03,325.45 544.82,325.06 544.61,324.68 544.39,324.29 544.19,323.91 543.98,323.52 543.78,323.13 543.57,322.75 543.38,322.36 543.18,321.98 542.99,321.59 542.80,321.20 542.62,320.82 542.44,320.43 542.27,320.05 542.10,319.66 541.94,319.27 541.78,318.89 541.63,318.50 541.48,318.12 541.35,317.73 541.22,317.34 541.10,316.96 541.00,316.57 540.91,316.19 540.83,315.80 540.80,315.41 540.83,315.03 540.88,314.64 540.94,314.26 541.01,313.87 541.10,313.48 541.20,313.10 541.30,312.71 541.42,312.33 541.54,311.94 541.67,311.55 541.81,311.17 541.95,310.78 542.10,310.40 542.26,310.01 542.42,309.62 542.59,309.24 542.76,308.85 542.94,308.47 543.12,308.08 543.31,307.69 543.50,307.31 543.70,306.92 543.89,306.54 544.10,306.15 544.30,305.76 544.51,305.38 544.72,304.99 544.93,304.61 545.14,304.22 545.36,303.83 545.58,303.45 545.80,303.06 546.02,302.68 546.24,302.29 546.46,301.90 546.69,301.52 546.91,301.13 547.13,300.75 547.36,300.36 547.58,299.97 547.80,299.59 548.03,299.20 548.25,298.82 548.47,298.43 548.69,298.04 548.90,297.66 549.12,297.27 549.33,296.89 549.54,296.50 549.75,296.11 549.96,295.73 550.16,295.34 550.36,294.96 550.56,294.57 550.75,294.18 550.94,293.80 551.12,293.41 551.30,293.03 551.48,292.64 551.65,292.25 551.81,291.87 551.97,291.48 552.12,291.10 552.27,290.71 552.41,290.32 552.54,289.94 552.66,289.55 552.78,289.17 552.89,288.78 552.95,288.39 552.95,288.01 552.95,287.62 552.95,287.24 552.95,286.85 552.95,286.46 552.95,286.08 552.95,285.69 552.96,285.31 552.98,284.92 553.00,284.53 553.02,284.15 553.04,283.76 553.07,283.38 553.09,282.99 553.11,282.60 553.13,282.22 553.15,281.83 553.17,281.45 553.19,281.06 553.21,280.67 553.23,280.29 553.25,279.90 553.27,279.52 553.30,279.13 553.32,278.74 553.34,278.36 553.36,277.97 553.38,277.59 553.40,277.20" fill="#a7b1b1" stroke="#000" stroke-width="1.15" stroke-linejoin="round"/>
<line x1="553.40" y1="277.20" x2="553.40" y2="354.40" stroke="#000" stroke-width="0.9"/>
<rect x="550.40" y="307.80" width="6.00" height="15.40" fill="#fff" stroke="#000" stroke-width="0.9"/>
<line x1="550.40" y1="315.50" x2="556.40" y2="315.50" stroke="#000" stroke-width="1.2"/>
<text x="381.40" y="217.10" font-size="13.05" fill="#111" textLength="134.90" lengthAdjust="spacingAndGlyphs">Measurement error_D6</text>
<text x="304.80" y="210.30" font-size="14.00" fill="#2a1a18" font-weight="bold">f</text>
<text x="304.90" y="321.50" font-size="11.70" fill="#111" text-anchor="middle" textLength="37.80" lengthAdjust="spacingAndGlyphs" transform="rotate(-90 304.90 321.50)">ME (%)</text>
<text x="592.60" y="233.70" font-size="11.50" fill="#111">Group</text>
<rect x="593.20" y="243.20" width="18.60" height="19.00" fill="#0b4a8c" stroke="#222" stroke-width="1.3"/>
<text x="618.30" y="256.80" font-size="11.70" fill="#111">L1_ILL_P</text>
<rect x="593.20" y="263.40" width="18.60" height="19.00" fill="#e21f2b" stroke="#222" stroke-width="1.3"/>
<text x="618.30" y="277.00" font-size="11.70" fill="#111">L1_ILL_R</text>
<rect x="593.20" y="283.60" width="18.60" height="19.00" fill="#40a64f" stroke="#222" stroke-width="1.3"/>
<text x="618.30" y="297.20" font-size="11.70" fill="#111">L2_DNB_P</text>
<rect x="593.20" y="303.80" width="18.60" height="19.00" fill="#0a90ae" stroke="#222" stroke-width="1.3"/>
<text x="618.30" y="317.40" font-size="11.70" fill="#111">L2_DNB_R</text>
<rect x="593.20" y="324.00" width="18.60" height="19.00" fill="#86609e" stroke="#222" stroke-width="1.3"/>
<text x="618.30" y="337.60" font-size="11.70" fill="#111">L3_ILL_P</text>
<rect x="593.20" y="344.20" width="18.60" height="19.00" fill="#f0a58c" stroke="#222" stroke-width="1.3"/>
<text x="618.30" y="357.80" font-size="11.70" fill="#111">L3_ILL_R</text>
<rect x="593.20" y="364.40" width="18.60" height="19.00" fill="#a2172f" stroke="#222" stroke-width="1.3"/>
<text x="618.30" y="378.00" font-size="11.70" fill="#111">L3_DNB_P</text>
<rect x="593.20" y="384.60" width="18.60" height="19.00" fill="#a7b1b1" stroke="#222" stroke-width="1.3"/>
<text x="618.30" y="398.20" font-size="11.70" fill="#111">L3_DNB_R</text>
<text x="195.80" y="453.30" font-size="11.71" fill="#1c3366" font-weight="bold" textLength="266.80" lengthAdjust="spacingAndGlyphs">Calibration performance validation of TranScale</text>
<rect x="38.50" y="488.50" width="247.00" height="191.00" fill="#fff" stroke="#9a9a9a" stroke-width="1.0"/>
<line x1="38.50" y1="564.50" x2="286.00" y2="564.50" stroke="#3cb975" stroke-width="1.0"/>
<line x1="36.10" y1="516.70" x2="38.50" y2="516.70" stroke="#555" stroke-width="0.7"/>
<text x="33.60" y="519.50" font-size="8.00" fill="#4d4d4d" text-anchor="end">100</text>
<line x1="36.10" y1="564.00" x2="38.50" y2="564.00" stroke="#555" stroke-width="0.7"/>
<text x="33.60" y="566.80" font-size="8.00" fill="#4d4d4d" text-anchor="end">0</text>
<line x1="36.10" y1="611.90" x2="38.50" y2="611.90" stroke="#555" stroke-width="0.7"/>
<text x="33.60" y="614.70" font-size="8.00" fill="#4d4d4d" text-anchor="end">-100</text>
<line x1="36.10" y1="659.20" x2="38.50" y2="659.20" stroke="#555" stroke-width="0.7"/>
<text x="33.60" y="662.00" font-size="8.00" fill="#4d4d4d" text-anchor="end">-200</text>
<polygon points="58.60,500.80 58.61,501.68 58.61,502.55 58.62,503.43 58.62,504.30 58.63,505.18 58.64,506.06 58.64,506.93 58.65,507.81 58.65,508.68 58.66,509.56 58.67,510.44 58.67,511.31 58.68,512.19 58.69,513.06 58.69,513.94 58.70,514.82 58.70,515.69 58.71,516.57 58.72,517.44 58.72,518.32 58.73,519.20 58.73,520.07 58.74,520.95 58.75,521.82 58.75,522.70 58.76,523.58 58.76,524.45 58.77,525.33 58.78,526.20 58.78,527.08 58.79,527.96 58.79,528.83 58.80,529.71 58.81,530.58 58.81,531.46 58.82,532.34 58.83,533.21 58.83,534.09 58.84,534.96 58.84,535.84 58.87,536.72 58.92,537.59 58.98,538.47 59.05,539.34 59.13,540.22 59.21,541.10 59.31,541.97 59.43,542.85 59.56,543.72 59.70,544.60 59.86,545.48 60.04,546.35 60.24,547.23 60.46,548.10 60.70,548.98 60.97,549.86 61.25,550.73 61.57,551.61 61.90,552.48 62.26,553.36 62.65,554.24 63.06,555.11 63.49,555.99 63.95,556.86 64.43,557.74 64.93,558.62 65.45,559.49 65.98,560.37 66.52,561.24 67.07,562.12 67.63,563.00 68.19,563.87 68.75,564.75 69.30,565.62 69.84,566.50 70.36,567.38 70.87,568.25 71.35,569.13 71.80,570.00 72.21,570.88 72.59,571.76 72.92,572.63 73.22,573.51 73.46,574.38 73.65,575.26 73.79,576.14 73.87,577.01 73.90,577.89 73.84,578.76 73.70,579.64 73.49,580.52 73.21,581.39 72.89,582.27 72.51,583.14 72.09,584.02 71.64,584.90 71.15,585.77 70.64,586.65 70.11,587.52 69.57,588.40 69.02,589.28 68.46,590.15 67.91,591.03 67.35,591.90 66.81,592.78 66.27,593.66 65.75,594.53 65.24,595.41 64.75,596.28 64.28,597.16 63.83,598.04 63.40,598.91 62.99,599.79 62.61,600.66 62.25,601.54 61.91,602.42 61.60,603.29 61.30,604.17 61.03,605.04 60.78,605.92 60.56,606.80 60.35,607.67 60.15,608.55 59.98,609.42 59.82,610.30 59.68,611.18 59.55,612.05 59.43,612.93 59.33,613.80 59.24,614.68 59.16,615.56 59.08,616.43 59.02,617.31 58.96,618.18 58.91,619.06 58.87,619.94 58.86,620.81 58.85,621.69 58.85,622.56 58.85,623.44 58.84,624.32 58.84,625.19 58.83,626.07 58.83,626.94 58.82,627.82 58.82,628.70 58.82,629.57 58.81,630.45 58.81,631.32 58.80,632.20 58.80,633.08 58.80,633.95 58.79,634.83 58.79,635.70 58.78,636.58 58.78,637.46 58.78,638.33 58.77,639.21 58.77,640.08 58.76,640.96 58.76,641.84 58.76,642.71 58.75,643.59 58.75,644.46 58.74,645.34 58.74,646.22 58.73,647.09 58.73,647.97 58.73,648.84 58.72,649.72 58.72,650.60 58.71,651.47 58.71,652.35 58.71,653.22 58.70,654.10 58.70,654.98 58.69,655.85 58.69,656.73 58.69,657.60 58.68,658.48 58.68,659.36 58.67,660.23 58.67,661.11 58.67,661.98 58.66,662.86 58.66,663.74 58.65,664.61 58.65,665.49 58.64,666.36 58.64,667.24 58.64,668.12 58.63,668.99 58.63,669.87 58.62,670.74 58.62,671.62 58.62,672.50 58.61,673.37 58.61,674.25 58.60,675.12 58.60,676.00 58.60,676.00 58.60,675.12 58.59,674.25 58.59,673.37 58.58,672.50 58.58,671.62 58.58,670.74 58.57,669.87 58.57,668.99 58.56,668.12 58.56,667.24 58.56,666.36 58.55,665.49 58.55,664.61 58.54,663.74 58.54,662.86 58.53,661.98 58.53,661.11 58.53,660.23 58.52,659.36 58.52,658.48 58.51,657.60 58.51,656.73 58.51,655.85 58.50,654.98 58.50,654.10 58.49,653.22 58.49,652.35 58.49,651.47 58.48,650.60 58.48,649.72 58.47,648.84 58.47,647.97 58.47,647.09 58.46,646.22 58.46,645.34 58.45,644.46 58.45,643.59 58.44,642.71 58.44,641.84 58.44,640.96 58.43,640.08 58.43,639.21 58.42,638.33 58.42,637.46 58.42,636.58 58.41,635.70 58.41,634.83 58.40,633.95 58.40,633.08 58.40,632.20 58.39,631.32 58.39,630.45 58.38,629.57 58.38,628.70 58.38,627.82 58.37,626.94 58.37,626.07 58.36,625.19 58.36,624.32 58.35,623.44 58.35,622.56 58.35,621.69 58.34,620.81 58.33,619.94 58.29,619.06 58.24,618.18 58.18,617.31 58.12,616.43 58.04,615.56 57.96,614.68 57.87,613.80 57.77,612.93 57.65,612.05 57.52,611.18 57.38,610.30 57.22,609.42 57.05,608.55 56.85,607.67 56.64,606.80 56.42,605.92 56.17,605.04 55.90,604.17 55.60,603.29 55.29,602.42 54.95,601.54 54.59,600.66 54.21,599.79 53.80,598.91 53.37,598.04 52.92,597.16 52.45,596.28 51.96,595.41 51.45,594.53 50.93,593.66 50.39,592.78 49.85,591.90 49.29,591.03 48.74,590.15 48.18,589.28 47.63,588.40 47.09,587.52 46.56,586.65 46.05,585.77 45.56,584.90 45.11,584.02 44.69,583.14 44.31,582.27 43.99,581.39 43.71,580.52 43.50,579.64 43.36,578.76 43.30,577.89 43.33,577.01 43.41,576.14 43.55,575.26 43.74,574.38 43.98,573.51 44.28,572.63 44.61,571.76 44.99,570.88 45.40,570.00 45.85,569.13 46.33,568.25 46.84,567.38 47.36,566.50 47.90,565.62 48.45,564.75 49.01,563.87 49.57,563.00 50.13,562.12 50.68,561.24 51.22,560.37 51.75,559.49 52.27,558.62 52.77,557.74 53.25,556.86 53.71,555.99 54.14,555.11 54.55,554.24 54.94,553.36 55.30,552.48 55.63,551.61 55.95,550.73 56.23,549.86 56.50,548.98 56.74,548.10 56.96,547.23 57.16,546.35 57.34,545.48 57.50,544.60 57.64,543.72 57.77,542.85 57.89,541.97 57.99,541.10 58.07,540.22 58.15,539.34 58.22,538.47 58.28,537.59 58.33,536.72 58.36,535.84 58.36,534.96 58.37,534.09 58.37,533.21 58.38,532.34 58.39,531.46 58.39,530.58 58.40,529.71 58.41,528.83 58.41,527.96 58.42,527.08 58.42,526.20 58.43,525.33 58.44,524.45 58.44,523.58 58.45,522.70 58.45,521.82 58.46,520.95 58.47,520.07 58.47,519.20 58.48,518.32 58.48,517.44 58.49,516.57 58.50,515.69 58.50,514.82 58.51,513.94 58.51,513.06 58.52,512.19 58.53,511.31 58.53,510.44 58.54,509.56 58.55,508.68 58.55,507.81 58.56,506.93 58.56,506.06 58.57,505.18 58.58,504.30 58.58,503.43 58.59,502.55 58.59,501.68 58.60,500.80" fill="#0b4a8c" stroke="#000" stroke-width="1.1" stroke-linejoin="round"/>
<line x1="58.60" y1="500.80" x2="58.60" y2="676.00" stroke="#000" stroke-width="0.9"/>
<rect x="55.60" y="569.40" width="6.00" height="18.00" fill="#fff" stroke="#000" stroke-width="0.9"/>
<line x1="55.60" y1="577.90" x2="61.60" y2="577.90" stroke="#000" stroke-width="1.8"/>
<polygon points="88.60,500.20 88.61,501.08 88.61,501.96 88.62,502.84 88.62,503.72 88.63,504.59 88.63,505.47 88.64,506.35 88.64,507.23 88.65,508.11 88.65,508.99 88.66,509.87 88.67,510.75 88.67,511.63 88.68,512.51 88.68,513.38 88.69,514.26 88.69,515.14 88.70,516.02 88.70,516.90 88.71,517.78 88.72,518.66 88.72,519.54 88.73,520.42 88.73,521.30 88.74,522.17 88.74,523.05 88.75,523.93 88.75,524.81 88.76,525.69 88.76,526.57 88.77,527.45 88.78,528.33 88.78,529.21 88.79,530.09 88.79,530.97 88.80,531.84 88.80,532.72 88.81,533.60 88.81,534.48 88.82,535.36 88.82,536.24 88.83,537.12 88.84,538.00 88.84,538.88 88.85,539.75 88.86,540.63 88.91,541.51 88.96,542.39 89.02,543.27 89.10,544.15 89.18,545.03 89.28,545.91 89.38,546.79 89.50,547.67 89.64,548.54 89.79,549.42 89.96,550.30 90.15,551.18 90.35,552.06 90.58,552.94 90.83,553.82 91.10,554.70 91.39,555.58 91.71,556.46 92.05,557.34 92.41,558.21 92.79,559.09 93.20,559.97 93.63,560.85 94.08,561.73 94.54,562.61 95.02,563.49 95.51,564.37 96.02,565.25 96.53,566.12 97.05,567.00 97.56,567.88 98.08,568.76 98.59,569.64 99.08,570.52 99.56,571.40 100.02,572.28 100.46,573.16 100.87,574.04 101.24,574.91 101.58,575.79 101.88,576.67 102.14,577.55 102.35,578.43 102.51,579.31 102.62,580.19 102.69,581.07 102.70,581.95 102.64,582.83 102.53,583.70 102.38,584.58 102.19,585.46 101.96,586.34 101.70,587.22 101.41,588.10 101.10,588.98 100.76,589.86 100.40,590.74 100.03,591.62 99.64,592.50 99.24,593.37 98.83,594.25 98.41,595.13 97.99,596.01 97.56,596.89 97.14,597.77 96.72,598.65 96.31,599.53 95.90,600.41 95.49,601.28 95.10,602.16 94.72,603.04 94.34,603.92 93.98,604.80 93.63,605.68 93.30,606.56 92.98,607.44 92.67,608.32 92.37,609.20 92.10,610.08 91.83,610.95 91.58,611.83 91.34,612.71 91.12,613.59 90.91,614.47 90.72,615.35 90.54,616.23 90.37,617.11 90.21,617.99 90.06,618.87 89.93,619.74 89.80,620.62 89.68,621.50 89.58,622.38 89.48,623.26 89.39,624.14 89.31,625.02 89.24,625.90 89.17,626.78 89.11,627.65 89.05,628.53 89.00,629.41 88.96,630.29 88.92,631.17 88.88,632.05 88.85,632.93 88.84,633.81 88.83,634.69 88.83,635.57 88.82,636.44 88.82,637.32 88.81,638.20 88.81,639.08 88.80,639.96 88.80,640.84 88.79,641.72 88.79,642.60 88.78,643.48 88.78,644.36 88.77,645.24 88.77,646.11 88.76,646.99 88.76,647.87 88.75,648.75 88.75,649.63 88.74,650.51 88.74,651.39 88.73,652.27 88.73,653.15 88.72,654.02 88.72,654.90 88.71,655.78 88.71,656.66 88.70,657.54 88.70,658.42 88.69,659.30 88.69,660.18 88.68,661.06 88.68,661.94 88.67,662.82 88.67,663.69 88.66,664.57 88.66,665.45 88.65,666.33 88.65,667.21 88.64,668.09 88.64,668.97 88.63,669.85 88.63,670.73 88.62,671.61 88.62,672.48 88.61,673.36 88.61,674.24 88.60,675.12 88.60,676.00 88.60,676.00 88.60,675.12 88.59,674.24 88.59,673.36 88.58,672.48 88.58,671.61 88.57,670.73 88.57,669.85 88.56,668.97 88.56,668.09 88.55,667.21 88.55,666.33 88.54,665.45 88.54,664.57 88.53,663.69 88.53,662.82 88.52,661.94 88.52,661.06 88.51,660.18 88.51,659.30 88.50,658.42 88.50,657.54 88.49,656.66 88.49,655.78 88.48,654.90 88.48,654.02 88.47,653.15 88.47,652.27 88.46,651.39 88.46,650.51 88.45,649.63 88.45,648.75 88.44,647.87 88.44,646.99 88.43,646.11 88.43,645.24 88.42,644.36 88.42,643.48 88.41,642.60 88.41,641.72 88.40,640.84 88.40,639.96 88.39,639.08 88.39,638.20 88.38,637.32 88.38,636.44 88.37,635.57 88.37,634.69 88.36,633.81 88.35,632.93 88.32,632.05 88.28,631.17 88.24,630.29 88.20,629.41 88.15,628.53 88.09,627.65 88.03,626.78 87.96,625.90 87.89,625.02 87.81,624.14 87.72,623.26 87.62,622.38 87.52,621.50 87.40,620.62 87.27,619.74 87.14,618.87 86.99,617.99 86.83,617.11 86.66,616.23 86.48,615.35 86.29,614.47 86.08,613.59 85.86,612.71 85.62,611.83 85.37,610.95 85.10,610.08 84.83,609.20 84.53,608.32 84.22,607.44 83.90,606.56 83.57,605.68 83.22,604.80 82.86,603.92 82.48,603.04 82.10,602.16 81.71,601.28 81.30,600.41 80.89,599.53 80.48,598.65 80.06,597.77 79.64,596.89 79.21,596.01 78.79,595.13 78.37,594.25 77.96,593.37 77.56,592.50 77.17,591.62 76.80,590.74 76.44,589.86 76.10,588.98 75.79,588.10 75.50,587.22 75.24,586.34 75.01,585.46 74.82,584.58 74.67,583.70 74.56,582.83 74.50,581.95 74.51,581.07 74.58,580.19 74.69,579.31 74.85,578.43 75.06,577.55 75.32,576.67 75.62,575.79 75.96,574.91 76.33,574.04 76.74,573.16 77.18,572.28 77.64,571.40 78.12,570.52 78.61,569.64 79.12,568.76 79.64,567.88 80.15,567.00 80.67,566.12 81.18,565.25 81.69,564.37 82.18,563.49 82.66,562.61 83.12,561.73 83.57,560.85 84.00,559.97 84.41,559.09 84.79,558.21 85.15,557.34 85.49,556.46 85.81,555.58 86.10,554.70 86.37,553.82 86.62,552.94 86.85,552.06 87.05,551.18 87.24,550.30 87.41,549.42 87.56,548.54 87.70,547.67 87.82,546.79 87.92,545.91 88.02,545.03 88.10,544.15 88.18,543.27 88.24,542.39 88.29,541.51 88.34,540.63 88.35,539.75 88.36,538.88 88.36,538.00 88.37,537.12 88.38,536.24 88.38,535.36 88.39,534.48 88.39,533.60 88.40,532.72 88.40,531.84 88.41,530.97 88.41,530.09 88.42,529.21 88.42,528.33 88.43,527.45 88.44,526.57 88.44,525.69 88.45,524.81 88.45,523.93 88.46,523.05 88.46,522.17 88.47,521.30 88.47,520.42 88.48,519.54 88.48,518.66 88.49,517.78 88.50,516.90 88.50,516.02 88.51,515.14 88.51,514.26 88.52,513.38 88.52,512.51 88.53,511.63 88.53,510.75 88.54,509.87 88.55,508.99 88.55,508.11 88.56,507.23 88.56,506.35 88.57,505.47 88.57,504.59 88.58,503.72 88.58,502.84 88.59,501.96 88.59,501.08 88.60,500.20" fill="#e21f2b" stroke="#000" stroke-width="1.1" stroke-linejoin="round"/>
<line x1="88.60" y1="500.20" x2="88.60" y2="676.00" stroke="#000" stroke-width="0.9"/>
<rect x="85.60" y="573.70" width="6.00" height="19.00" fill="#fff" stroke="#000" stroke-width="0.9"/>
<line x1="85.60" y1="583.20" x2="91.60" y2="583.20" stroke="#000" stroke-width="1.8"/>
<polygon points="118.51,498.10 118.51,499.00 118.52,499.90 118.53,500.80 118.54,501.70 118.55,502.60 118.56,503.50 118.57,504.40 118.58,505.30 118.59,506.20 118.60,507.11 118.61,508.01 118.62,508.91 118.63,509.81 118.64,510.71 118.65,511.61 118.66,512.51 118.68,513.41 118.71,514.31 118.74,515.21 118.78,516.11 118.82,517.01 118.87,517.91 118.92,518.81 118.98,519.71 119.05,520.61 119.12,521.51 119.20,522.41 119.29,523.31 119.39,524.21 119.50,525.12 119.62,526.02 119.75,526.92 119.90,527.82 120.05,528.72 120.22,529.62 120.40,530.52 120.59,531.42 120.80,532.32 121.02,533.22 121.26,534.12 121.51,535.02 121.77,535.92 122.04,536.82 122.33,537.72 122.63,538.62 122.94,539.52 123.27,540.42 123.60,541.32 123.94,542.22 124.28,543.12 124.63,544.03 124.99,544.93 125.35,545.83 125.70,546.73 126.06,547.63 126.41,548.53 126.76,549.43 127.09,550.33 127.42,551.23 127.73,552.13 128.03,553.03 128.31,553.93 128.57,554.83 128.82,555.73 129.03,556.63 129.23,557.53 129.39,558.43 129.53,559.33 129.65,560.23 129.73,561.13 129.78,562.04 129.80,562.94 129.78,563.84 129.71,564.74 129.61,565.64 129.48,566.54 129.31,567.44 129.12,568.34 128.90,569.24 128.67,570.14 128.41,571.04 128.13,571.94 127.85,572.84 127.54,573.74 127.23,574.64 126.91,575.54 126.59,576.44 126.26,577.34 125.92,578.24 125.59,579.14 125.26,580.05 124.92,580.95 124.60,581.85 124.27,582.75 123.96,583.65 123.65,584.55 123.35,585.45 123.05,586.35 122.77,587.25 122.50,588.15 122.23,589.05 121.98,589.95 121.74,590.85 121.51,591.75 121.29,592.65 121.08,593.55 120.88,594.45 120.70,595.35 120.52,596.25 120.35,597.16 120.20,598.06 120.06,598.96 119.92,599.86 119.80,600.76 119.68,601.66 119.57,602.56 119.47,603.46 119.38,604.36 119.30,605.26 119.22,606.16 119.15,607.06 119.08,607.96 119.02,608.86 118.97,609.76 118.92,610.66 118.87,611.56 118.83,612.46 118.80,613.36 118.76,614.26 118.75,615.17 118.75,616.07 118.74,616.97 118.74,617.87 118.74,618.77 118.73,619.67 118.73,620.57 118.73,621.47 118.72,622.37 118.72,623.27 118.72,624.17 118.71,625.07 118.71,625.97 118.71,626.87 118.70,627.77 118.70,628.67 118.69,629.57 118.69,630.47 118.69,631.37 118.68,632.27 118.68,633.18 118.68,634.08 118.67,634.98 118.67,635.88 118.67,636.78 118.66,637.68 118.66,638.58 118.65,639.48 118.65,640.38 118.65,641.28 118.64,642.18 118.64,643.08 118.64,643.98 118.63,644.88 118.63,645.78 118.63,646.68 118.62,647.58 118.62,648.48 118.62,649.38 118.61,650.28 118.61,651.19 118.60,652.09 118.60,652.99 118.60,653.89 118.59,654.79 118.59,655.69 118.59,656.59 118.58,657.49 118.58,658.39 118.58,659.29 118.57,660.19 118.57,661.09 118.56,661.99 118.56,662.89 118.56,663.79 118.55,664.69 118.55,665.59 118.55,666.49 118.54,667.39 118.54,668.29 118.54,669.20 118.53,670.10 118.53,671.00 118.53,671.90 118.52,672.80 118.52,673.70 118.51,674.60 118.51,675.50 118.51,676.40 118.50,677.30 118.50,678.20 118.50,678.20 118.50,677.30 118.49,676.40 118.49,675.50 118.49,674.60 118.48,673.70 118.48,672.80 118.47,671.90 118.47,671.00 118.47,670.10 118.46,669.20 118.46,668.29 118.46,667.39 118.45,666.49 118.45,665.59 118.45,664.69 118.44,663.79 118.44,662.89 118.44,661.99 118.43,661.09 118.43,660.19 118.42,659.29 118.42,658.39 118.42,657.49 118.41,656.59 118.41,655.69 118.41,654.79 118.40,653.89 118.40,652.99 118.40,652.09 118.39,651.19 118.39,650.28 118.38,649.38 118.38,648.48 118.38,647.58 118.37,646.68 118.37,645.78 118.37,644.88 118.36,643.98 118.36,643.08 118.36,642.18 118.35,641.28 118.35,640.38 118.35,639.48 118.34,638.58 118.34,637.68 118.33,636.78 118.33,635.88 118.33,634.98 118.32,634.08 118.32,633.18 118.32,632.27 118.31,631.37 118.31,630.47 118.31,629.57 118.30,628.67 118.30,627.77 118.29,626.87 118.29,625.97 118.29,625.07 118.28,624.17 118.28,623.27 118.28,622.37 118.27,621.47 118.27,620.57 118.27,619.67 118.26,618.77 118.26,617.87 118.26,616.97 118.25,616.07 118.25,615.17 118.24,614.26 118.20,613.36 118.17,612.46 118.13,611.56 118.08,610.66 118.03,609.76 117.98,608.86 117.92,607.96 117.85,607.06 117.78,606.16 117.70,605.26 117.62,604.36 117.53,603.46 117.43,602.56 117.32,601.66 117.20,600.76 117.08,599.86 116.94,598.96 116.80,598.06 116.65,597.16 116.48,596.25 116.30,595.35 116.12,594.45 115.92,593.55 115.71,592.65 115.49,591.75 115.26,590.85 115.02,589.95 114.77,589.05 114.50,588.15 114.23,587.25 113.95,586.35 113.65,585.45 113.35,584.55 113.04,583.65 112.73,582.75 112.40,581.85 112.08,580.95 111.74,580.05 111.41,579.14 111.08,578.24 110.74,577.34 110.41,576.44 110.09,575.54 109.77,574.64 109.46,573.74 109.15,572.84 108.87,571.94 108.59,571.04 108.33,570.14 108.10,569.24 107.88,568.34 107.69,567.44 107.52,566.54 107.39,565.64 107.29,564.74 107.22,563.84 107.20,562.94 107.22,562.04 107.27,561.13 107.35,560.23 107.47,559.33 107.61,558.43 107.77,557.53 107.97,556.63 108.18,555.73 108.43,554.83 108.69,553.93 108.97,553.03 109.27,552.13 109.58,551.23 109.91,550.33 110.24,549.43 110.59,548.53 110.94,547.63 111.30,546.73 111.65,545.83 112.01,544.93 112.37,544.03 112.72,543.12 113.06,542.22 113.40,541.32 113.73,540.42 114.06,539.52 114.37,538.62 114.67,537.72 114.96,536.82 115.23,535.92 115.49,535.02 115.74,534.12 115.98,533.22 116.20,532.32 116.41,531.42 116.60,530.52 116.78,529.62 116.95,528.72 117.10,527.82 117.25,526.92 117.38,526.02 117.50,525.12 117.61,524.21 117.71,523.31 117.80,522.41 117.88,521.51 117.95,520.61 118.02,519.71 118.08,518.81 118.13,517.91 118.18,517.01 118.22,516.11 118.26,515.21 118.29,514.31 118.32,513.41 118.34,512.51 118.35,511.61 118.36,510.71 118.37,509.81 118.38,508.91 118.39,508.01 118.40,507.11 118.41,506.20 118.42,505.30 118.43,504.40 118.44,503.50 118.45,502.60 118.46,501.70 118.47,500.80 118.48,499.90 118.49,499.00 118.49,498.10" fill="#40a64f" stroke="#000" stroke-width="1.1" stroke-linejoin="round"/>
<ellipse cx="118.50" cy="506.90" rx="1.4" ry="3.2" fill="#40a64f" stroke="#000" stroke-width="0.9"/>
<line x1="118.50" y1="498.10" x2="118.50" y2="678.20" stroke="#000" stroke-width="0.9"/>
<rect x="115.50" y="551.50" width="6.00" height="25.30" fill="#fff" stroke="#000" stroke-width="0.9"/>
<line x1="115.50" y1="564.20" x2="121.50" y2="564.20" stroke="#000" stroke-width="1.8"/>
<polygon points="148.50,497.20 148.51,498.11 148.51,499.02 148.52,499.92 148.52,500.83 148.53,501.74 148.53,502.65 148.54,503.56 148.54,504.46 148.55,505.37 148.56,506.28 148.56,507.19 148.57,508.10 148.57,509.00 148.58,509.91 148.58,510.82 148.59,511.73 148.59,512.64 148.60,513.54 148.61,514.45 148.61,515.36 148.62,516.27 148.62,517.18 148.63,518.08 148.63,518.99 148.64,519.90 148.64,520.81 148.65,521.72 148.66,522.62 148.66,523.53 148.67,524.44 148.67,525.35 148.68,526.26 148.68,527.16 148.69,528.07 148.69,528.98 148.70,529.89 148.71,530.80 148.71,531.70 148.72,532.61 148.72,533.52 148.73,534.43 148.73,535.34 148.74,536.24 148.78,537.15 148.82,538.06 148.87,538.97 148.92,539.88 148.98,540.78 149.05,541.69 149.12,542.60 149.21,543.51 149.30,544.42 149.40,545.32 149.50,546.23 149.62,547.14 149.75,548.05 149.89,548.96 150.04,549.86 150.20,550.77 150.37,551.68 150.56,552.59 150.75,553.50 150.96,554.40 151.17,555.31 151.40,556.22 151.64,557.13 151.89,558.04 152.14,558.94 152.41,559.85 152.68,560.76 152.96,561.67 153.24,562.58 153.53,563.48 153.82,564.39 154.11,565.30 154.40,566.21 154.69,567.12 154.98,568.02 155.26,568.93 155.54,569.84 155.81,570.75 156.07,571.66 156.32,572.56 156.56,573.47 156.79,574.38 157.00,575.29 157.19,576.20 157.37,577.10 157.54,578.01 157.68,578.92 157.81,579.83 157.92,580.74 158.01,581.64 158.08,582.55 158.14,583.46 158.17,584.37 158.19,585.28 158.20,586.18 158.19,587.09 158.17,588.00 158.13,588.91 158.07,589.82 158.00,590.72 157.91,591.63 157.81,592.54 157.69,593.45 157.56,594.36 157.41,595.26 157.26,596.17 157.08,597.08 156.90,597.99 156.71,598.90 156.51,599.80 156.30,600.71 156.08,601.62 155.86,602.53 155.62,603.44 155.39,604.34 155.15,605.25 154.91,606.16 154.67,607.07 154.42,607.98 154.18,608.88 153.93,609.79 153.69,610.70 153.45,611.61 153.21,612.52 152.98,613.42 152.75,614.33 152.52,615.24 152.30,616.15 152.09,617.06 151.88,617.96 151.68,618.87 151.49,619.78 151.30,620.69 151.12,621.60 150.95,622.50 150.78,623.41 150.62,624.32 150.47,625.23 150.33,626.14 150.20,627.04 150.07,627.95 149.95,628.86 149.83,629.77 149.72,630.68 149.62,631.58 149.53,632.49 149.44,633.40 149.36,634.31 149.28,635.22 149.21,636.12 149.15,637.03 149.09,637.94 149.03,638.85 148.98,639.76 148.93,640.66 148.89,641.57 148.85,642.48 148.82,643.39 148.78,644.30 148.75,645.20 148.73,646.11 148.71,647.02 148.70,647.93 148.70,648.84 148.69,649.74 148.68,650.65 148.68,651.56 148.67,652.47 148.67,653.38 148.66,654.28 148.65,655.19 148.65,656.10 148.64,657.01 148.64,657.92 148.63,658.82 148.62,659.73 148.62,660.64 148.61,661.55 148.61,662.46 148.60,663.36 148.59,664.27 148.59,665.18 148.58,666.09 148.58,667.00 148.57,667.90 148.57,668.81 148.56,669.72 148.55,670.63 148.55,671.54 148.54,672.44 148.54,673.35 148.53,674.26 148.52,675.17 148.52,676.08 148.51,676.98 148.51,677.89 148.50,678.80 148.50,678.80 148.49,677.89 148.49,676.98 148.48,676.08 148.48,675.17 148.47,674.26 148.46,673.35 148.46,672.44 148.45,671.54 148.45,670.63 148.44,669.72 148.43,668.81 148.43,667.90 148.42,667.00 148.42,666.09 148.41,665.18 148.41,664.27 148.40,663.36 148.39,662.46 148.39,661.55 148.38,660.64 148.38,659.73 148.37,658.82 148.36,657.92 148.36,657.01 148.35,656.10 148.35,655.19 148.34,654.28 148.33,653.38 148.33,652.47 148.32,651.56 148.32,650.65 148.31,649.74 148.30,648.84 148.30,647.93 148.29,647.02 148.27,646.11 148.25,645.20 148.22,644.30 148.18,643.39 148.15,642.48 148.11,641.57 148.07,640.66 148.02,639.76 147.97,638.85 147.91,637.94 147.85,637.03 147.79,636.12 147.72,635.22 147.64,634.31 147.56,633.40 147.47,632.49 147.38,631.58 147.28,630.68 147.17,629.77 147.05,628.86 146.93,627.95 146.80,627.04 146.67,626.14 146.53,625.23 146.38,624.32 146.22,623.41 146.05,622.50 145.88,621.60 145.70,620.69 145.51,619.78 145.32,618.87 145.12,617.96 144.91,617.06 144.70,616.15 144.48,615.24 144.25,614.33 144.02,613.42 143.79,612.52 143.55,611.61 143.31,610.70 143.07,609.79 142.82,608.88 142.58,607.98 142.33,607.07 142.09,606.16 141.85,605.25 141.61,604.34 141.38,603.44 141.14,602.53 140.92,601.62 140.70,600.71 140.49,599.80 140.29,598.90 140.10,597.99 139.92,597.08 139.74,596.17 139.59,595.26 139.44,594.36 139.31,593.45 139.19,592.54 139.09,591.63 139.00,590.72 138.93,589.82 138.87,588.91 138.83,588.00 138.81,587.09 138.80,586.18 138.81,585.28 138.83,584.37 138.86,583.46 138.92,582.55 138.99,581.64 139.08,580.74 139.19,579.83 139.32,578.92 139.46,578.01 139.63,577.10 139.81,576.20 140.00,575.29 140.21,574.38 140.44,573.47 140.68,572.56 140.93,571.66 141.19,570.75 141.46,569.84 141.74,568.93 142.02,568.02 142.31,567.12 142.60,566.21 142.89,565.30 143.18,564.39 143.47,563.48 143.76,562.58 144.04,561.67 144.32,560.76 144.59,559.85 144.86,558.94 145.11,558.04 145.36,557.13 145.60,556.22 145.83,555.31 146.04,554.40 146.25,553.50 146.44,552.59 146.63,551.68 146.80,550.77 146.96,549.86 147.11,548.96 147.25,548.05 147.38,547.14 147.50,546.23 147.60,545.32 147.70,544.42 147.79,543.51 147.88,542.60 147.95,541.69 148.02,540.78 148.08,539.88 148.13,538.97 148.18,538.06 148.22,537.15 148.26,536.24 148.27,535.34 148.27,534.43 148.28,533.52 148.28,532.61 148.29,531.70 148.29,530.80 148.30,529.89 148.31,528.98 148.31,528.07 148.32,527.16 148.32,526.26 148.33,525.35 148.33,524.44 148.34,523.53 148.34,522.62 148.35,521.72 148.36,520.81 148.36,519.90 148.37,518.99 148.37,518.08 148.38,517.18 148.38,516.27 148.39,515.36 148.39,514.45 148.40,513.54 148.41,512.64 148.41,511.73 148.42,510.82 148.42,509.91 148.43,509.00 148.43,508.10 148.44,507.19 148.44,506.28 148.45,505.37 148.46,504.46 148.46,503.56 148.47,502.65 148.47,501.74 148.48,500.83 148.48,499.92 148.49,499.02 148.49,498.11 148.50,497.20" fill="#0a90ae" stroke="#000" stroke-width="1.1" stroke-linejoin="round"/>
<ellipse cx="148.50" cy="507.30" rx="1.4" ry="3.2" fill="#0a90ae" stroke="#000" stroke-width="0.9"/>
<ellipse cx="148.50" cy="668.60" rx="1.6" ry="4.0" fill="#0a90ae" stroke="#000" stroke-width="0.9"/>
<line x1="148.50" y1="497.20" x2="148.50" y2="678.80" stroke="#000" stroke-width="0.9"/>
<rect x="145.50" y="574.30" width="6.00" height="27.90" fill="#fff" stroke="#000" stroke-width="0.9"/>
<line x1="145.50" y1="588.00" x2="151.50" y2="588.00" stroke="#000" stroke-width="1.8"/>
<polygon points="178.50,499.80 178.51,500.68 178.51,501.56 178.52,502.44 178.53,503.32 178.53,504.20 178.54,505.09 178.55,505.97 178.56,506.85 178.56,507.73 178.57,508.61 178.58,509.49 178.58,510.37 178.59,511.25 178.60,512.13 178.60,513.01 178.61,513.90 178.62,514.78 178.63,515.66 178.63,516.54 178.64,517.42 178.65,518.30 178.65,519.18 178.66,520.06 178.67,520.94 178.67,521.83 178.68,522.71 178.69,523.59 178.69,524.47 178.70,525.35 178.71,526.23 178.72,527.11 178.72,527.99 178.73,528.87 178.76,529.75 178.81,530.63 178.86,531.52 178.92,532.40 178.99,533.28 179.06,534.16 179.15,535.04 179.25,535.92 179.36,536.80 179.48,537.68 179.62,538.56 179.77,539.45 179.94,540.33 180.12,541.21 180.32,542.09 180.54,542.97 180.78,543.85 181.04,544.73 181.31,545.61 181.61,546.49 181.93,547.37 182.26,548.25 182.62,549.14 182.99,550.02 183.38,550.90 183.79,551.78 184.22,552.66 184.65,553.54 185.10,554.42 185.56,555.30 186.02,556.18 186.49,557.07 186.96,557.95 187.42,558.83 187.88,559.71 188.34,560.59 188.78,561.47 189.20,562.35 189.60,563.23 189.98,564.11 190.34,564.99 190.66,565.88 190.95,566.76 191.21,567.64 191.43,568.52 191.61,569.40 191.75,570.28 191.84,571.16 191.89,572.04 191.89,572.92 191.83,573.80 191.72,574.68 191.57,575.57 191.38,576.45 191.15,577.33 190.89,578.21 190.60,579.09 190.28,579.97 189.94,580.85 189.59,581.73 189.22,582.61 188.83,583.50 188.43,584.38 188.03,585.26 187.62,586.14 187.21,587.02 186.80,587.90 186.39,588.78 185.98,589.66 185.58,590.54 185.18,591.42 184.79,592.31 184.41,593.19 184.05,594.07 183.69,594.95 183.35,595.83 183.02,596.71 182.70,597.59 182.40,598.47 182.11,599.35 181.84,600.23 181.58,601.12 181.34,602.00 181.11,602.88 180.89,603.76 180.69,604.64 180.50,605.52 180.32,606.40 180.15,607.28 180.00,608.16 179.86,609.04 179.73,609.92 179.61,610.81 179.50,611.69 179.40,612.57 179.31,613.45 179.22,614.33 179.15,615.21 179.08,616.09 179.01,616.97 178.96,617.85 178.91,618.74 178.86,619.62 178.82,620.50 178.78,621.38 178.75,622.26 178.75,623.14 178.74,624.02 178.74,624.90 178.73,625.78 178.73,626.66 178.73,627.55 178.72,628.43 178.72,629.31 178.71,630.19 178.71,631.07 178.71,631.95 178.70,632.83 178.70,633.71 178.69,634.59 178.69,635.47 178.68,636.36 178.68,637.24 178.68,638.12 178.67,639.00 178.67,639.88 178.66,640.76 178.66,641.64 178.66,642.52 178.65,643.40 178.65,644.28 178.64,645.16 178.64,646.05 178.64,646.93 178.63,647.81 178.63,648.69 178.62,649.57 178.62,650.45 178.62,651.33 178.61,652.21 178.61,653.09 178.60,653.98 178.60,654.86 178.59,655.74 178.59,656.62 178.59,657.50 178.58,658.38 178.58,659.26 178.57,660.14 178.57,661.02 178.57,661.90 178.56,662.78 178.56,663.67 178.55,664.55 178.55,665.43 178.55,666.31 178.54,667.19 178.54,668.07 178.53,668.95 178.53,669.83 178.52,670.71 178.52,671.60 178.52,672.48 178.51,673.36 178.51,674.24 178.50,675.12 178.50,676.00 178.50,676.00 178.50,675.12 178.49,674.24 178.49,673.36 178.48,672.48 178.48,671.60 178.48,670.71 178.47,669.83 178.47,668.95 178.46,668.07 178.46,667.19 178.45,666.31 178.45,665.43 178.45,664.55 178.44,663.67 178.44,662.78 178.43,661.90 178.43,661.02 178.43,660.14 178.42,659.26 178.42,658.38 178.41,657.50 178.41,656.62 178.41,655.74 178.40,654.86 178.40,653.98 178.39,653.09 178.39,652.21 178.38,651.33 178.38,650.45 178.38,649.57 178.37,648.69 178.37,647.81 178.36,646.93 178.36,646.05 178.36,645.16 178.35,644.28 178.35,643.40 178.34,642.52 178.34,641.64 178.34,640.76 178.33,639.88 178.33,639.00 178.32,638.12 178.32,637.24 178.32,636.36 178.31,635.47 178.31,634.59 178.30,633.71 178.30,632.83 178.29,631.95 178.29,631.07 178.29,630.19 178.28,629.31 178.28,628.43 178.27,627.55 178.27,626.66 178.27,625.78 178.26,624.90 178.26,624.02 178.25,623.14 178.25,622.26 178.22,621.38 178.18,620.50 178.14,619.62 178.09,618.74 178.04,617.85 177.99,616.97 177.92,616.09 177.85,615.21 177.78,614.33 177.69,613.45 177.60,612.57 177.50,611.69 177.39,610.81 177.27,609.92 177.14,609.04 177.00,608.16 176.85,607.28 176.68,606.40 176.50,605.52 176.31,604.64 176.11,603.76 175.89,602.88 175.66,602.00 175.42,601.12 175.16,600.23 174.89,599.35 174.60,598.47 174.30,597.59 173.98,596.71 173.65,595.83 173.31,594.95 172.95,594.07 172.59,593.19 172.21,592.31 171.82,591.42 171.42,590.54 171.02,589.66 170.61,588.78 170.20,587.90 169.79,587.02 169.38,586.14 168.97,585.26 168.57,584.38 168.17,583.50 167.78,582.61 167.41,581.73 167.06,580.85 166.72,579.97 166.40,579.09 166.11,578.21 165.85,577.33 165.62,576.45 165.43,575.57 165.28,574.68 165.17,573.80 165.11,572.92 165.11,572.04 165.16,571.16 165.25,570.28 165.39,569.40 165.57,568.52 165.79,567.64 166.05,566.76 166.34,565.88 166.66,564.99 167.02,564.11 167.40,563.23 167.80,562.35 168.22,561.47 168.66,560.59 169.12,559.71 169.58,558.83 170.04,557.95 170.51,557.07 170.98,556.18 171.44,555.30 171.90,554.42 172.35,553.54 172.78,552.66 173.21,551.78 173.62,550.90 174.01,550.02 174.38,549.14 174.74,548.25 175.07,547.37 175.39,546.49 175.69,545.61 175.96,544.73 176.22,543.85 176.46,542.97 176.68,542.09 176.88,541.21 177.06,540.33 177.23,539.45 177.38,538.56 177.52,537.68 177.64,536.80 177.75,535.92 177.85,535.04 177.94,534.16 178.01,533.28 178.08,532.40 178.14,531.52 178.19,530.63 178.24,529.75 178.27,528.87 178.28,527.99 178.28,527.11 178.29,526.23 178.30,525.35 178.31,524.47 178.31,523.59 178.32,522.71 178.33,521.83 178.33,520.94 178.34,520.06 178.35,519.18 178.35,518.30 178.36,517.42 178.37,516.54 178.37,515.66 178.38,514.78 178.39,513.90 178.40,513.01 178.40,512.13 178.41,511.25 178.42,510.37 178.42,509.49 178.43,508.61 178.44,507.73 178.44,506.85 178.45,505.97 178.46,505.09 178.47,504.20 178.47,503.32 178.48,502.44 178.49,501.56 178.49,500.68 178.50,499.80" fill="#86609e" stroke="#000" stroke-width="1.1" stroke-linejoin="round"/>
<line x1="178.50" y1="499.80" x2="178.50" y2="676.00" stroke="#000" stroke-width="0.9"/>
<rect x="175.50" y="563.50" width="6.00" height="20.70" fill="#fff" stroke="#000" stroke-width="0.9"/>
<line x1="175.50" y1="573.70" x2="181.50" y2="573.70" stroke="#000" stroke-width="1.8"/>
<polygon points="208.41,499.40 208.41,500.29 208.42,501.18 208.43,502.07 208.44,502.95 208.45,503.84 208.46,504.73 208.47,505.62 208.48,506.51 208.49,507.40 208.50,508.28 208.51,509.17 208.52,510.06 208.52,510.95 208.53,511.84 208.54,512.73 208.55,513.62 208.56,514.50 208.58,515.39 208.61,516.28 208.64,517.17 208.68,518.06 208.72,518.95 208.77,519.84 208.82,520.72 208.87,521.61 208.94,522.50 209.01,523.39 209.08,524.28 209.17,525.17 209.26,526.05 209.37,526.94 209.48,527.83 209.61,528.72 209.74,529.61 209.89,530.50 210.04,531.39 210.22,532.27 210.40,533.16 210.60,534.05 210.81,534.94 211.03,535.83 211.27,536.72 211.52,537.61 211.79,538.49 212.07,539.38 212.36,540.27 212.67,541.16 212.99,542.05 213.33,542.94 213.67,543.83 214.03,544.71 214.39,545.60 214.76,546.49 215.14,547.38 215.53,548.27 215.92,549.16 216.31,550.04 216.70,550.93 217.09,551.82 217.48,552.71 217.86,553.60 218.24,554.49 218.60,555.38 218.95,556.26 219.29,557.15 219.61,558.04 219.92,558.93 220.20,559.82 220.46,560.71 220.70,561.60 220.92,562.48 221.10,563.37 221.26,564.26 221.39,565.15 221.49,566.04 221.56,566.93 221.59,567.81 221.60,568.70 221.54,569.59 221.44,570.48 221.30,571.37 221.13,572.26 220.92,573.15 220.69,574.03 220.42,574.92 220.13,575.81 219.83,576.70 219.50,577.59 219.16,578.48 218.80,579.37 218.44,580.25 218.06,581.14 217.68,582.03 217.29,582.92 216.91,583.81 216.52,584.70 216.13,585.58 215.75,586.47 215.37,587.36 215.00,588.25 214.64,589.14 214.28,590.03 213.93,590.92 213.60,591.80 213.27,592.69 212.96,593.58 212.66,594.47 212.37,595.36 212.09,596.25 211.83,597.13 211.58,598.02 211.34,598.91 211.11,599.80 210.90,600.69 210.70,601.58 210.51,602.47 210.34,603.35 210.17,604.24 210.02,605.13 209.88,606.02 209.74,606.91 209.62,607.80 209.51,608.69 209.40,609.57 209.31,610.46 209.22,611.35 209.14,612.24 209.06,613.13 209.00,614.02 208.93,614.90 208.88,615.79 208.83,616.68 208.78,617.57 208.74,618.46 208.70,619.35 208.67,620.24 208.65,621.12 208.64,622.01 208.64,622.90 208.64,623.79 208.63,624.68 208.63,625.57 208.63,626.46 208.62,627.34 208.62,628.23 208.61,629.12 208.61,630.01 208.61,630.90 208.60,631.79 208.60,632.67 208.59,633.56 208.59,634.45 208.59,635.34 208.58,636.23 208.58,637.12 208.57,638.01 208.57,638.89 208.57,639.78 208.56,640.67 208.56,641.56 208.55,642.45 208.55,643.34 208.55,644.23 208.54,645.11 208.54,646.00 208.53,646.89 208.53,647.78 208.53,648.67 208.52,649.56 208.52,650.45 208.51,651.33 208.51,652.22 208.51,653.11 208.50,654.00 208.50,654.89 208.49,655.78 208.49,656.66 208.49,657.55 208.48,658.44 208.48,659.33 208.48,660.22 208.47,661.11 208.47,662.00 208.46,662.88 208.46,663.77 208.46,664.66 208.45,665.55 208.45,666.44 208.44,667.33 208.44,668.22 208.44,669.10 208.43,669.99 208.43,670.88 208.42,671.77 208.42,672.66 208.42,673.55 208.41,674.43 208.41,675.32 208.40,676.21 208.40,677.10 208.40,677.10 208.40,676.21 208.39,675.32 208.39,674.43 208.38,673.55 208.38,672.66 208.38,671.77 208.37,670.88 208.37,669.99 208.36,669.10 208.36,668.22 208.36,667.33 208.35,666.44 208.35,665.55 208.34,664.66 208.34,663.77 208.34,662.88 208.33,662.00 208.33,661.11 208.32,660.22 208.32,659.33 208.32,658.44 208.31,657.55 208.31,656.66 208.31,655.78 208.30,654.89 208.30,654.00 208.29,653.11 208.29,652.22 208.29,651.33 208.28,650.45 208.28,649.56 208.27,648.67 208.27,647.78 208.27,646.89 208.26,646.00 208.26,645.11 208.25,644.23 208.25,643.34 208.25,642.45 208.24,641.56 208.24,640.67 208.23,639.78 208.23,638.89 208.23,638.01 208.22,637.12 208.22,636.23 208.21,635.34 208.21,634.45 208.21,633.56 208.20,632.67 208.20,631.79 208.19,630.90 208.19,630.01 208.19,629.12 208.18,628.23 208.18,627.34 208.17,626.46 208.17,625.57 208.17,624.68 208.16,623.79 208.16,622.90 208.16,622.01 208.15,621.12 208.13,620.24 208.10,619.35 208.06,618.46 208.02,617.57 207.97,616.68 207.92,615.79 207.87,614.90 207.80,614.02 207.74,613.13 207.66,612.24 207.58,611.35 207.49,610.46 207.40,609.57 207.29,608.69 207.18,607.80 207.06,606.91 206.92,606.02 206.78,605.13 206.63,604.24 206.46,603.35 206.29,602.47 206.10,601.58 205.90,600.69 205.69,599.80 205.46,598.91 205.22,598.02 204.97,597.13 204.71,596.25 204.43,595.36 204.14,594.47 203.84,593.58 203.53,592.69 203.20,591.80 202.87,590.92 202.52,590.03 202.16,589.14 201.80,588.25 201.43,587.36 201.05,586.47 200.67,585.58 200.28,584.70 199.89,583.81 199.51,582.92 199.12,582.03 198.74,581.14 198.36,580.25 198.00,579.37 197.64,578.48 197.30,577.59 196.97,576.70 196.67,575.81 196.38,574.92 196.11,574.03 195.88,573.15 195.67,572.26 195.50,571.37 195.36,570.48 195.26,569.59 195.20,568.70 195.21,567.81 195.24,566.93 195.31,566.04 195.41,565.15 195.54,564.26 195.70,563.37 195.88,562.48 196.10,561.60 196.34,560.71 196.60,559.82 196.88,558.93 197.19,558.04 197.51,557.15 197.85,556.26 198.20,555.38 198.56,554.49 198.94,553.60 199.32,552.71 199.71,551.82 200.10,550.93 200.49,550.04 200.88,549.16 201.27,548.27 201.66,547.38 202.04,546.49 202.41,545.60 202.77,544.71 203.13,543.83 203.47,542.94 203.81,542.05 204.13,541.16 204.44,540.27 204.73,539.38 205.01,538.49 205.28,537.61 205.53,536.72 205.77,535.83 205.99,534.94 206.20,534.05 206.40,533.16 206.58,532.27 206.76,531.39 206.91,530.50 207.06,529.61 207.19,528.72 207.32,527.83 207.43,526.94 207.54,526.05 207.63,525.17 207.72,524.28 207.79,523.39 207.86,522.50 207.93,521.61 207.98,520.72 208.03,519.84 208.08,518.95 208.12,518.06 208.16,517.17 208.19,516.28 208.22,515.39 208.24,514.50 208.25,513.62 208.26,512.73 208.27,511.84 208.28,510.95 208.28,510.06 208.29,509.17 208.30,508.28 208.31,507.40 208.32,506.51 208.33,505.62 208.34,504.73 208.35,503.84 208.36,502.95 208.37,502.07 208.38,501.18 208.39,500.29 208.39,499.40" fill="#f0a58c" stroke="#000" stroke-width="1.1" stroke-linejoin="round"/>
<line x1="208.40" y1="499.40" x2="208.40" y2="677.10" stroke="#000" stroke-width="0.9"/>
<rect x="205.40" y="558.50" width="6.00" height="21.10" fill="#fff" stroke="#000" stroke-width="0.9"/>
<line x1="205.40" y1="569.00" x2="211.40" y2="569.00" stroke="#000" stroke-width="1.8"/>
<polygon points="238.20,499.30 238.21,500.19 238.21,501.08 238.22,501.97 238.23,502.85 238.23,503.74 238.24,504.63 238.25,505.52 238.25,506.41 238.26,507.30 238.27,508.19 238.27,509.07 238.28,509.96 238.29,510.85 238.29,511.74 238.30,512.63 238.31,513.52 238.31,514.40 238.32,515.29 238.33,516.18 238.33,517.07 238.34,517.96 238.34,518.85 238.35,519.74 238.36,520.62 238.36,521.51 238.37,522.40 238.38,523.29 238.38,524.18 238.39,525.07 238.40,525.96 238.40,526.84 238.41,527.73 238.42,528.62 238.44,529.51 238.47,530.40 238.51,531.29 238.56,532.17 238.61,533.06 238.66,533.95 238.72,534.84 238.79,535.73 238.86,536.62 238.95,537.51 239.04,538.39 239.14,539.28 239.25,540.17 239.37,541.06 239.49,541.95 239.63,542.84 239.79,543.73 239.95,544.61 240.12,545.50 240.31,546.39 240.51,547.28 240.72,548.17 240.95,549.06 241.19,549.94 241.44,550.83 241.70,551.72 241.98,552.61 242.27,553.50 242.57,554.39 242.88,555.28 243.20,556.16 243.53,557.05 243.86,557.94 244.21,558.83 244.55,559.72 244.91,560.61 245.26,561.50 245.62,562.38 245.97,563.27 246.33,564.16 246.67,565.05 247.01,565.94 247.35,566.83 247.67,567.71 247.98,568.60 248.27,569.49 248.55,570.38 248.81,571.27 249.05,572.16 249.27,573.05 249.47,573.93 249.64,574.82 249.78,575.71 249.90,576.60 249.99,577.49 250.06,578.38 250.09,579.26 250.10,580.15 250.07,581.04 250.00,581.93 249.91,582.82 249.80,583.71 249.67,584.60 249.51,585.48 249.34,586.37 249.15,587.26 248.94,588.15 248.73,589.04 248.49,589.93 248.25,590.82 248.00,591.70 247.73,592.59 247.46,593.48 247.19,594.37 246.91,595.26 246.62,596.15 246.33,597.03 246.04,597.92 245.75,598.81 245.46,599.70 245.17,600.59 244.89,601.48 244.60,602.37 244.32,603.25 244.05,604.14 243.77,605.03 243.51,605.92 243.25,606.81 242.99,607.70 242.75,608.59 242.51,609.47 242.27,610.36 242.05,611.25 241.83,612.14 241.62,613.03 241.42,613.92 241.22,614.81 241.04,615.69 240.86,616.58 240.69,617.47 240.53,618.36 240.37,619.25 240.23,620.14 240.09,621.02 239.96,621.91 239.83,622.80 239.72,623.69 239.61,624.58 239.50,625.47 239.40,626.36 239.31,627.24 239.22,628.13 239.14,629.02 239.07,629.91 239.00,630.80 238.93,631.69 238.87,632.58 238.82,633.46 238.76,634.35 238.71,635.24 238.67,636.13 238.63,637.02 238.59,637.91 238.55,638.79 238.52,639.68 238.49,640.57 238.47,641.46 238.44,642.35 238.42,643.24 238.40,644.13 238.40,645.01 238.39,645.90 238.39,646.79 238.38,647.68 238.38,648.57 238.37,649.46 238.36,650.35 238.36,651.23 238.35,652.12 238.35,653.01 238.34,653.90 238.34,654.79 238.33,655.68 238.33,656.56 238.32,657.45 238.32,658.34 238.31,659.23 238.30,660.12 238.30,661.01 238.29,661.90 238.29,662.78 238.28,663.67 238.28,664.56 238.27,665.45 238.27,666.34 238.26,667.23 238.25,668.12 238.25,669.00 238.24,669.89 238.24,670.78 238.23,671.67 238.23,672.56 238.22,673.45 238.22,674.33 238.21,675.22 238.21,676.11 238.20,677.00 238.20,677.00 238.19,676.11 238.19,675.22 238.18,674.33 238.18,673.45 238.17,672.56 238.17,671.67 238.16,670.78 238.16,669.89 238.15,669.00 238.15,668.12 238.14,667.23 238.13,666.34 238.13,665.45 238.12,664.56 238.12,663.67 238.11,662.78 238.11,661.90 238.10,661.01 238.10,660.12 238.09,659.23 238.08,658.34 238.08,657.45 238.07,656.56 238.07,655.68 238.06,654.79 238.06,653.90 238.05,653.01 238.05,652.12 238.04,651.23 238.04,650.35 238.03,649.46 238.02,648.57 238.02,647.68 238.01,646.79 238.01,645.90 238.00,645.01 238.00,644.13 237.98,643.24 237.96,642.35 237.93,641.46 237.91,640.57 237.88,639.68 237.85,638.79 237.81,637.91 237.77,637.02 237.73,636.13 237.69,635.24 237.64,634.35 237.58,633.46 237.53,632.58 237.47,631.69 237.40,630.80 237.33,629.91 237.26,629.02 237.18,628.13 237.09,627.24 237.00,626.36 236.90,625.47 236.79,624.58 236.68,623.69 236.57,622.80 236.44,621.91 236.31,621.02 236.17,620.14 236.03,619.25 235.87,618.36 235.71,617.47 235.54,616.58 235.36,615.69 235.18,614.81 234.98,613.92 234.78,613.03 234.57,612.14 234.35,611.25 234.13,610.36 233.89,609.47 233.65,608.59 233.41,607.70 233.15,606.81 232.89,605.92 232.63,605.03 232.35,604.14 232.08,603.25 231.80,602.37 231.51,601.48 231.23,600.59 230.94,599.70 230.65,598.81 230.36,597.92 230.07,597.03 229.78,596.15 229.49,595.26 229.21,594.37 228.94,593.48 228.67,592.59 228.40,591.70 228.15,590.82 227.91,589.93 227.67,589.04 227.46,588.15 227.25,587.26 227.06,586.37 226.89,585.48 226.73,584.60 226.60,583.71 226.49,582.82 226.40,581.93 226.33,581.04 226.30,580.15 226.31,579.26 226.34,578.38 226.41,577.49 226.50,576.60 226.62,575.71 226.76,574.82 226.93,573.93 227.13,573.05 227.35,572.16 227.59,571.27 227.85,570.38 228.13,569.49 228.42,568.60 228.73,567.71 229.05,566.83 229.39,565.94 229.73,565.05 230.07,564.16 230.43,563.27 230.78,562.38 231.14,561.50 231.49,560.61 231.85,559.72 232.19,558.83 232.54,557.94 232.87,557.05 233.20,556.16 233.52,555.28 233.83,554.39 234.13,553.50 234.42,552.61 234.70,551.72 234.96,550.83 235.21,549.94 235.45,549.06 235.68,548.17 235.89,547.28 236.09,546.39 236.28,545.50 236.45,544.61 236.61,543.73 236.77,542.84 236.91,541.95 237.03,541.06 237.15,540.17 237.26,539.28 237.36,538.39 237.45,537.51 237.54,536.62 237.61,535.73 237.68,534.84 237.74,533.95 237.79,533.06 237.84,532.17 237.89,531.29 237.93,530.40 237.96,529.51 237.98,528.62 237.99,527.73 238.00,526.84 238.00,525.96 238.01,525.07 238.02,524.18 238.02,523.29 238.03,522.40 238.04,521.51 238.04,520.62 238.05,519.74 238.06,518.85 238.06,517.96 238.07,517.07 238.07,516.18 238.08,515.29 238.09,514.40 238.09,513.52 238.10,512.63 238.11,511.74 238.11,510.85 238.12,509.96 238.13,509.07 238.13,508.19 238.14,507.30 238.15,506.41 238.15,505.52 238.16,504.63 238.17,503.74 238.17,502.85 238.18,501.97 238.19,501.08 238.19,500.19 238.20,499.30" fill="#a2172f" stroke="#000" stroke-width="1.1" stroke-linejoin="round"/>
<line x1="238.20" y1="499.30" x2="238.20" y2="677.00" stroke="#000" stroke-width="0.9"/>
<rect x="235.20" y="569.40" width="6.00" height="22.80" fill="#fff" stroke="#000" stroke-width="0.9"/>
<line x1="235.20" y1="580.50" x2="241.20" y2="580.50" stroke="#000" stroke-width="1.8"/>
<polygon points="268.20,498.10 268.21,499.00 268.21,499.89 268.22,500.79 268.22,501.69 268.23,502.58 268.24,503.48 268.24,504.38 268.25,505.27 268.25,506.17 268.26,507.06 268.26,507.96 268.27,508.86 268.28,509.75 268.28,510.65 268.29,511.55 268.29,512.44 268.30,513.34 268.31,514.24 268.31,515.13 268.32,516.03 268.32,516.93 268.33,517.82 268.33,518.72 268.34,519.62 268.35,520.51 268.35,521.41 268.36,522.31 268.36,523.20 268.37,524.10 268.38,525.00 268.38,525.89 268.39,526.79 268.39,527.68 268.40,528.58 268.40,529.48 268.41,530.37 268.42,531.27 268.42,532.17 268.43,533.06 268.46,533.96 268.50,534.86 268.54,535.75 268.59,536.65 268.64,537.55 268.69,538.44 268.75,539.34 268.82,540.24 268.90,541.13 268.98,542.03 269.07,542.92 269.17,543.82 269.27,544.72 269.39,545.61 269.52,546.51 269.65,547.41 269.80,548.30 269.95,549.20 270.12,550.10 270.30,550.99 270.48,551.89 270.68,552.79 270.90,553.68 271.12,554.58 271.35,555.48 271.60,556.37 271.85,557.27 272.12,558.17 272.39,559.06 272.68,559.96 272.97,560.86 273.27,561.75 273.58,562.65 273.89,563.54 274.21,564.44 274.53,565.34 274.85,566.23 275.17,567.13 275.49,568.03 275.81,568.92 276.12,569.82 276.43,570.72 276.73,571.61 277.02,572.51 277.30,573.41 277.57,574.30 277.83,575.20 278.06,576.10 278.28,576.99 278.49,577.89 278.67,578.78 278.83,579.68 278.97,580.58 279.08,581.47 279.17,582.37 279.24,583.27 279.28,584.16 279.30,585.06 279.28,585.96 279.23,586.85 279.14,587.75 279.02,588.65 278.88,589.54 278.72,590.44 278.53,591.34 278.33,592.23 278.11,593.13 277.87,594.03 277.62,594.92 277.36,595.82 277.08,596.72 276.80,597.61 276.51,598.51 276.22,599.40 275.92,600.30 275.62,601.20 275.32,602.09 275.02,602.99 274.72,603.89 274.42,604.78 274.12,605.68 273.83,606.58 273.55,607.47 273.27,608.37 272.99,609.27 272.73,610.16 272.47,611.06 272.22,611.96 271.98,612.85 271.74,613.75 271.52,614.64 271.30,615.54 271.10,616.44 270.90,617.33 270.71,618.23 270.54,619.13 270.37,620.02 270.21,620.92 270.06,621.82 269.92,622.71 269.78,623.61 269.66,624.51 269.54,625.40 269.43,626.30 269.33,627.20 269.23,628.09 269.14,628.99 269.06,629.89 268.98,630.78 268.91,631.68 268.85,632.58 268.79,633.47 268.73,634.37 268.68,635.26 268.63,636.16 268.59,637.06 268.55,637.95 268.52,638.85 268.48,639.75 268.46,640.64 268.43,641.54 268.41,642.44 268.41,643.33 268.40,644.23 268.40,645.13 268.39,646.02 268.39,646.92 268.38,647.82 268.38,648.71 268.37,649.61 268.36,650.50 268.36,651.40 268.35,652.30 268.35,653.19 268.34,654.09 268.34,654.99 268.33,655.88 268.33,656.78 268.32,657.68 268.32,658.57 268.31,659.47 268.30,660.37 268.30,661.26 268.29,662.16 268.29,663.06 268.28,663.95 268.28,664.85 268.27,665.75 268.27,666.64 268.26,667.54 268.25,668.43 268.25,669.33 268.24,670.23 268.24,671.12 268.23,672.02 268.23,672.92 268.22,673.81 268.22,674.71 268.21,675.61 268.21,676.50 268.20,677.40 268.20,677.40 268.19,676.50 268.19,675.61 268.18,674.71 268.18,673.81 268.17,672.92 268.17,672.02 268.16,671.12 268.16,670.23 268.15,669.33 268.15,668.43 268.14,667.54 268.13,666.64 268.13,665.75 268.12,664.85 268.12,663.95 268.11,663.06 268.11,662.16 268.10,661.26 268.10,660.37 268.09,659.47 268.08,658.57 268.08,657.68 268.07,656.78 268.07,655.88 268.06,654.99 268.06,654.09 268.05,653.19 268.05,652.30 268.04,651.40 268.04,650.50 268.03,649.61 268.02,648.71 268.02,647.82 268.01,646.92 268.01,646.02 268.00,645.13 268.00,644.23 267.99,643.33 267.99,642.44 267.97,641.54 267.94,640.64 267.92,639.75 267.88,638.85 267.85,637.95 267.81,637.06 267.77,636.16 267.72,635.26 267.67,634.37 267.61,633.47 267.55,632.58 267.49,631.68 267.42,630.78 267.34,629.89 267.26,628.99 267.17,628.09 267.07,627.20 266.97,626.30 266.86,625.40 266.74,624.51 266.62,623.61 266.48,622.71 266.34,621.82 266.19,620.92 266.03,620.02 265.86,619.13 265.69,618.23 265.50,617.33 265.30,616.44 265.10,615.54 264.88,614.64 264.66,613.75 264.42,612.85 264.18,611.96 263.93,611.06 263.67,610.16 263.41,609.27 263.13,608.37 262.85,607.47 262.57,606.58 262.28,605.68 261.98,604.78 261.68,603.89 261.38,602.99 261.08,602.09 260.78,601.20 260.48,600.30 260.18,599.40 259.89,598.51 259.60,597.61 259.32,596.72 259.04,595.82 258.78,594.92 258.53,594.03 258.29,593.13 258.07,592.23 257.87,591.34 257.68,590.44 257.52,589.54 257.38,588.65 257.26,587.75 257.17,586.85 257.12,585.96 257.10,585.06 257.12,584.16 257.16,583.27 257.23,582.37 257.32,581.47 257.43,580.58 257.57,579.68 257.73,578.78 257.91,577.89 258.12,576.99 258.34,576.10 258.57,575.20 258.83,574.30 259.10,573.41 259.38,572.51 259.67,571.61 259.97,570.72 260.28,569.82 260.59,568.92 260.91,568.03 261.23,567.13 261.55,566.23 261.87,565.34 262.19,564.44 262.51,563.54 262.82,562.65 263.13,561.75 263.43,560.86 263.72,559.96 264.01,559.06 264.28,558.17 264.55,557.27 264.80,556.37 265.05,555.48 265.28,554.58 265.50,553.68 265.72,552.79 265.92,551.89 266.10,550.99 266.28,550.10 266.45,549.20 266.60,548.30 266.75,547.41 266.88,546.51 267.01,545.61 267.13,544.72 267.23,543.82 267.33,542.92 267.42,542.03 267.50,541.13 267.58,540.24 267.65,539.34 267.71,538.44 267.76,537.55 267.81,536.65 267.86,535.75 267.90,534.86 267.94,533.96 267.97,533.06 267.98,532.17 267.98,531.27 267.99,530.37 268.00,529.48 268.00,528.58 268.01,527.68 268.01,526.79 268.02,525.89 268.02,525.00 268.03,524.10 268.04,523.20 268.04,522.31 268.05,521.41 268.05,520.51 268.06,519.62 268.07,518.72 268.07,517.82 268.08,516.93 268.08,516.03 268.09,515.13 268.09,514.24 268.10,513.34 268.11,512.44 268.11,511.55 268.12,510.65 268.12,509.75 268.13,508.86 268.14,507.96 268.14,507.06 268.15,506.17 268.15,505.27 268.16,504.38 268.16,503.48 268.17,502.58 268.18,501.69 268.18,500.79 268.19,499.89 268.19,499.00 268.20,498.10" fill="#a7b1b1" stroke="#000" stroke-width="1.1" stroke-linejoin="round"/>
<line x1="268.20" y1="498.10" x2="268.20" y2="677.40" stroke="#000" stroke-width="0.9"/>
<rect x="265.20" y="573.60" width="6.00" height="24.90" fill="#fff" stroke="#000" stroke-width="0.9"/>
<line x1="265.20" y1="585.80" x2="271.20" y2="585.80" stroke="#000" stroke-width="1.8"/>
<text x="89.30" y="475.10" font-size="13.08" fill="#111" textLength="138.90" lengthAdjust="spacingAndGlyphs">D5/D6 before correction</text>
<text x="13.00" y="470.60" font-size="14.00" fill="#2a1a18" font-weight="bold">g</text>
<text x="14.70" y="587.80" font-size="10.30" fill="#111" text-anchor="middle" textLength="33.30" lengthAdjust="spacingAndGlyphs" transform="rotate(-90 14.70 587.80)">ME (%)</text>
<rect x="326.50" y="487.50" width="246.00" height="194.00" fill="#fff" stroke="#9a9a9a" stroke-width="1.0"/>
<line x1="326.50" y1="588.50" x2="572.50" y2="588.50" stroke="#3cb975" stroke-width="1.0"/>
<line x1="324.10" y1="527.30" x2="326.50" y2="527.30" stroke="#555" stroke-width="0.7"/>
<text x="321.60" y="530.10" font-size="8.00" fill="#4d4d4d" text-anchor="end">40</text>
<line x1="324.10" y1="587.90" x2="326.50" y2="587.90" stroke="#555" stroke-width="0.7"/>
<text x="321.60" y="590.70" font-size="8.00" fill="#4d4d4d" text-anchor="end">0</text>
<line x1="324.10" y1="648.50" x2="326.50" y2="648.50" stroke="#555" stroke-width="0.7"/>
<text x="321.60" y="651.30" font-size="8.00" fill="#4d4d4d" text-anchor="end">-40</text>
<polygon points="342.63,549.30 342.64,549.68 342.64,550.06 342.64,550.44 342.65,550.82 342.65,551.20 342.65,551.58 342.66,551.96 342.66,552.34 342.67,552.72 342.67,553.09 342.68,553.47 342.69,553.85 342.69,554.23 342.70,554.61 342.71,554.99 342.72,555.37 342.73,555.75 342.74,556.13 342.75,556.51 342.76,556.89 342.77,557.27 342.79,557.65 342.80,558.03 342.81,558.41 342.83,558.79 342.85,559.17 342.87,559.55 342.89,559.93 342.91,560.31 342.93,560.68 342.95,561.06 342.98,561.44 343.00,561.82 343.03,562.20 343.06,562.58 343.09,562.96 343.13,563.34 343.16,563.72 343.20,564.10 343.24,564.48 343.28,564.86 343.33,565.24 343.37,565.62 343.42,566.00 343.48,566.38 343.53,566.76 343.59,567.14 343.65,567.52 343.72,567.90 343.78,568.27 343.85,568.65 343.93,569.03 344.00,569.41 344.08,569.79 344.17,570.17 344.26,570.55 344.35,570.93 344.45,571.31 344.55,571.69 344.65,572.07 344.76,572.45 344.87,572.83 344.99,573.21 345.11,573.59 345.23,573.97 345.36,574.35 345.49,574.73 345.63,575.11 345.77,575.49 345.92,575.87 346.06,576.24 346.22,576.62 346.37,577.00 346.53,577.38 346.69,577.76 346.86,578.14 347.03,578.52 347.19,578.90 347.37,579.28 347.54,579.66 347.71,580.04 347.89,580.42 348.06,580.80 348.24,581.18 348.41,581.56 348.58,581.94 348.75,582.32 348.92,582.70 349.08,583.08 349.23,583.46 349.38,583.83 349.52,584.21 349.64,584.59 349.76,584.97 349.86,585.35 349.94,585.73 350.00,586.11 349.98,586.49 349.92,586.87 349.84,587.25 349.74,587.63 349.64,588.01 349.52,588.39 349.40,588.77 349.27,589.15 349.13,589.53 348.99,589.91 348.84,590.29 348.69,590.67 348.54,591.04 348.38,591.42 348.23,591.80 348.07,592.18 347.91,592.56 347.75,592.94 347.60,593.32 347.44,593.70 347.29,594.08 347.13,594.46 346.98,594.84 346.83,595.22 346.68,595.60 346.54,595.98 346.39,596.36 346.25,596.74 346.11,597.12 345.98,597.50 345.85,597.88 345.72,598.26 345.59,598.63 345.47,599.01 345.35,599.39 345.23,599.77 345.12,600.15 345.01,600.53 344.91,600.91 344.81,601.29 344.71,601.67 344.61,602.05 344.52,602.43 344.43,602.81 344.34,603.19 344.26,603.57 344.18,603.95 344.10,604.33 344.03,604.71 343.96,605.09 343.89,605.47 343.83,605.85 343.76,606.23 343.70,606.60 343.65,606.98 343.59,607.36 343.54,607.74 343.49,608.12 343.44,608.50 343.40,608.88 343.35,609.26 343.31,609.64 343.27,610.02 343.23,610.40 343.20,610.78 343.16,611.16 343.13,611.54 343.10,611.92 343.07,612.30 343.04,612.68 343.02,613.06 342.99,613.44 342.97,613.82 342.95,614.19 342.93,614.57 342.91,614.95 342.89,615.33 342.87,615.71 342.85,616.09 342.84,616.47 342.82,616.85 342.81,617.23 342.80,617.61 342.78,617.99 342.77,618.37 342.76,618.75 342.75,619.13 342.74,619.51 342.73,619.89 342.72,620.27 342.71,620.65 342.71,621.03 342.70,621.41 342.69,621.78 342.69,622.16 342.68,622.54 342.67,622.92 342.67,623.30 342.66,623.68 342.66,624.06 342.66,624.44 342.65,624.82 342.65,625.20 342.55,625.20 342.55,624.82 342.54,624.44 342.54,624.06 342.54,623.68 342.53,623.30 342.53,622.92 342.52,622.54 342.51,622.16 342.51,621.78 342.50,621.41 342.49,621.03 342.49,620.65 342.48,620.27 342.47,619.89 342.46,619.51 342.45,619.13 342.44,618.75 342.43,618.37 342.42,617.99 342.40,617.61 342.39,617.23 342.38,616.85 342.36,616.47 342.35,616.09 342.33,615.71 342.31,615.33 342.29,614.95 342.27,614.57 342.25,614.19 342.23,613.82 342.21,613.44 342.18,613.06 342.16,612.68 342.13,612.30 342.10,611.92 342.07,611.54 342.04,611.16 342.00,610.78 341.97,610.40 341.93,610.02 341.89,609.64 341.85,609.26 341.80,608.88 341.76,608.50 341.71,608.12 341.66,607.74 341.61,607.36 341.55,606.98 341.50,606.60 341.44,606.23 341.37,605.85 341.31,605.47 341.24,605.09 341.17,604.71 341.10,604.33 341.02,603.95 340.94,603.57 340.86,603.19 340.77,602.81 340.68,602.43 340.59,602.05 340.49,601.67 340.39,601.29 340.29,600.91 340.19,600.53 340.08,600.15 339.97,599.77 339.85,599.39 339.73,599.01 339.61,598.63 339.48,598.26 339.35,597.88 339.22,597.50 339.09,597.12 338.95,596.74 338.81,596.36 338.66,595.98 338.52,595.60 338.37,595.22 338.22,594.84 338.07,594.46 337.91,594.08 337.76,593.70 337.60,593.32 337.45,592.94 337.29,592.56 337.13,592.18 336.97,591.80 336.82,591.42 336.66,591.04 336.51,590.67 336.36,590.29 336.21,589.91 336.07,589.53 335.93,589.15 335.80,588.77 335.68,588.39 335.56,588.01 335.46,587.63 335.36,587.25 335.28,586.87 335.22,586.49 335.20,586.11 335.26,585.73 335.34,585.35 335.44,584.97 335.56,584.59 335.68,584.21 335.82,583.83 335.97,583.46 336.12,583.08 336.28,582.70 336.45,582.32 336.62,581.94 336.79,581.56 336.96,581.18 337.14,580.80 337.31,580.42 337.49,580.04 337.66,579.66 337.83,579.28 338.01,578.90 338.17,578.52 338.34,578.14 338.51,577.76 338.67,577.38 338.83,577.00 338.98,576.62 339.14,576.24 339.28,575.87 339.43,575.49 339.57,575.11 339.71,574.73 339.84,574.35 339.97,573.97 340.09,573.59 340.21,573.21 340.33,572.83 340.44,572.45 340.55,572.07 340.65,571.69 340.75,571.31 340.85,570.93 340.94,570.55 341.03,570.17 341.12,569.79 341.20,569.41 341.27,569.03 341.35,568.65 341.42,568.27 341.48,567.90 341.55,567.52 341.61,567.14 341.67,566.76 341.72,566.38 341.78,566.00 341.83,565.62 341.87,565.24 341.92,564.86 341.96,564.48 342.00,564.10 342.04,563.72 342.07,563.34 342.11,562.96 342.14,562.58 342.17,562.20 342.20,561.82 342.22,561.44 342.25,561.06 342.27,560.68 342.29,560.31 342.31,559.93 342.33,559.55 342.35,559.17 342.37,558.79 342.39,558.41 342.40,558.03 342.41,557.65 342.43,557.27 342.44,556.89 342.45,556.51 342.46,556.13 342.47,555.75 342.48,555.37 342.49,554.99 342.50,554.61 342.51,554.23 342.51,553.85 342.52,553.47 342.53,553.09 342.53,552.72 342.54,552.34 342.54,551.96 342.55,551.58 342.55,551.20 342.55,550.82 342.56,550.44 342.56,550.06 342.56,549.68 342.57,549.30" fill="#0b4a8c" stroke="#000" stroke-width="1.1" stroke-linejoin="round"/>
<line x1="342.60" y1="549.30" x2="342.60" y2="625.20" stroke="#000" stroke-width="0.9"/>
<rect x="339.60" y="581.50" width="6.00" height="12.70" fill="#fff" stroke="#000" stroke-width="0.9"/>
<line x1="339.60" y1="587.20" x2="345.60" y2="587.20" stroke="#000" stroke-width="1.6"/>
<polygon points="373.22,545.10 373.22,545.56 373.22,546.02 373.23,546.48 373.23,546.93 373.23,547.39 373.24,547.85 373.24,548.31 373.25,548.77 373.26,549.23 373.26,549.69 373.27,550.14 373.27,550.60 373.28,551.06 373.29,551.52 373.29,551.98 373.30,552.44 373.31,552.89 373.31,553.35 373.32,553.81 373.32,554.27 373.33,554.73 373.34,555.19 373.36,555.65 373.37,556.10 373.38,556.56 373.40,557.02 373.42,557.48 373.43,557.94 373.45,558.40 373.47,558.86 373.50,559.31 373.52,559.77 373.54,560.23 373.57,560.69 373.60,561.15 373.63,561.61 373.66,562.06 373.70,562.52 373.74,562.98 373.78,563.44 373.82,563.90 373.86,564.36 373.91,564.82 373.96,565.27 374.01,565.73 374.07,566.19 374.13,566.65 374.19,567.11 374.25,567.57 374.32,568.02 374.39,568.48 374.47,568.94 374.55,569.40 374.63,569.86 374.72,570.32 374.80,570.78 374.90,571.23 375.00,571.69 375.10,572.15 375.20,572.61 375.31,573.07 375.43,573.53 375.54,573.99 375.66,574.44 375.79,574.90 375.92,575.36 376.05,575.82 376.18,576.28 376.32,576.74 376.46,577.20 376.60,577.65 376.75,578.11 376.90,578.57 377.05,579.03 377.20,579.49 377.35,579.95 377.50,580.40 377.65,580.86 377.80,581.32 377.96,581.78 378.11,582.24 378.25,582.70 378.40,583.16 378.54,583.61 378.67,584.07 378.80,584.53 378.93,584.99 379.05,585.45 379.15,585.91 379.25,586.37 379.34,586.82 379.41,587.28 379.47,587.74 379.50,588.20 379.48,588.66 379.44,589.12 379.37,589.57 379.29,590.03 379.20,590.49 379.09,590.95 378.98,591.41 378.86,591.87 378.73,592.33 378.60,592.78 378.46,593.24 378.32,593.70 378.17,594.16 378.02,594.62 377.87,595.08 377.72,595.53 377.57,595.99 377.41,596.45 377.26,596.91 377.11,597.37 376.96,597.83 376.81,598.29 376.67,598.74 376.52,599.20 376.38,599.66 376.24,600.12 376.11,600.58 375.97,601.04 375.84,601.50 375.72,601.95 375.60,602.41 375.48,602.87 375.36,603.33 375.25,603.79 375.14,604.25 375.04,604.70 374.94,605.16 374.85,605.62 374.75,606.08 374.67,606.54 374.58,607.00 374.50,607.46 374.42,607.91 374.35,608.37 374.28,608.83 374.22,609.29 374.15,609.75 374.09,610.21 374.04,610.67 373.98,611.12 373.93,611.58 373.88,612.04 373.84,612.50 373.79,612.96 373.75,613.42 373.72,613.88 373.68,614.33 373.65,614.79 373.61,615.25 373.58,615.71 373.56,616.17 373.53,616.63 373.51,617.08 373.48,617.54 373.46,618.00 373.44,618.46 373.42,618.92 373.41,619.38 373.39,619.84 373.38,620.29 373.38,620.75 373.37,621.21 373.37,621.67 373.36,622.13 373.36,622.59 373.35,623.04 373.35,623.50 373.34,623.96 373.34,624.42 373.33,624.88 373.33,625.34 373.32,625.80 373.32,626.25 373.31,626.71 373.31,627.17 373.30,627.63 373.30,628.09 373.29,628.55 373.29,629.01 373.28,629.46 373.28,629.92 373.27,630.38 373.27,630.84 373.26,631.30 373.26,631.76 373.25,632.21 373.25,632.67 373.24,633.13 373.24,633.59 373.23,634.05 373.23,634.51 373.22,634.97 373.22,635.42 373.21,635.88 373.21,636.34 373.21,636.80 373.19,636.80 373.19,636.34 373.19,635.88 373.18,635.42 373.18,634.97 373.17,634.51 373.17,634.05 373.16,633.59 373.16,633.13 373.15,632.67 373.15,632.21 373.14,631.76 373.14,631.30 373.13,630.84 373.13,630.38 373.12,629.92 373.12,629.46 373.11,629.01 373.11,628.55 373.10,628.09 373.10,627.63 373.09,627.17 373.09,626.71 373.08,626.25 373.08,625.80 373.07,625.34 373.07,624.88 373.06,624.42 373.06,623.96 373.05,623.50 373.05,623.04 373.04,622.59 373.04,622.13 373.03,621.67 373.03,621.21 373.02,620.75 373.02,620.29 373.01,619.84 372.99,619.38 372.98,618.92 372.96,618.46 372.94,618.00 372.92,617.54 372.89,617.08 372.87,616.63 372.84,616.17 372.82,615.71 372.79,615.25 372.75,614.79 372.72,614.33 372.68,613.88 372.65,613.42 372.61,612.96 372.56,612.50 372.52,612.04 372.47,611.58 372.42,611.12 372.36,610.67 372.31,610.21 372.25,609.75 372.18,609.29 372.12,608.83 372.05,608.37 371.98,607.91 371.90,607.46 371.82,607.00 371.73,606.54 371.65,606.08 371.55,605.62 371.46,605.16 371.36,604.70 371.26,604.25 371.15,603.79 371.04,603.33 370.92,602.87 370.80,602.41 370.68,601.95 370.56,601.50 370.43,601.04 370.29,600.58 370.16,600.12 370.02,599.66 369.88,599.20 369.73,598.74 369.59,598.29 369.44,597.83 369.29,597.37 369.14,596.91 368.99,596.45 368.83,595.99 368.68,595.53 368.53,595.08 368.38,594.62 368.23,594.16 368.08,593.70 367.94,593.24 367.80,592.78 367.67,592.33 367.54,591.87 367.42,591.41 367.31,590.95 367.20,590.49 367.11,590.03 367.03,589.57 366.96,589.12 366.92,588.66 366.90,588.20 366.93,587.74 366.99,587.28 367.06,586.82 367.15,586.37 367.25,585.91 367.35,585.45 367.47,584.99 367.60,584.53 367.73,584.07 367.86,583.61 368.00,583.16 368.15,582.70 368.29,582.24 368.44,581.78 368.60,581.32 368.75,580.86 368.90,580.40 369.05,579.95 369.20,579.49 369.35,579.03 369.50,578.57 369.65,578.11 369.80,577.65 369.94,577.20 370.08,576.74 370.22,576.28 370.35,575.82 370.48,575.36 370.61,574.90 370.74,574.44 370.86,573.99 370.97,573.53 371.09,573.07 371.20,572.61 371.30,572.15 371.40,571.69 371.50,571.23 371.60,570.78 371.68,570.32 371.77,569.86 371.85,569.40 371.93,568.94 372.01,568.48 372.08,568.02 372.15,567.57 372.21,567.11 372.27,566.65 372.33,566.19 372.39,565.73 372.44,565.27 372.49,564.82 372.54,564.36 372.58,563.90 372.62,563.44 372.66,562.98 372.70,562.52 372.74,562.06 372.77,561.61 372.80,561.15 372.83,560.69 372.86,560.23 372.88,559.77 372.90,559.31 372.93,558.86 372.95,558.40 372.97,557.94 372.98,557.48 373.00,557.02 373.02,556.56 373.03,556.10 373.04,555.65 373.06,555.19 373.07,554.73 373.08,554.27 373.08,553.81 373.09,553.35 373.09,552.89 373.10,552.44 373.11,551.98 373.11,551.52 373.12,551.06 373.13,550.60 373.13,550.14 373.14,549.69 373.14,549.23 373.15,548.77 373.16,548.31 373.16,547.85 373.17,547.39 373.17,546.93 373.17,546.48 373.18,546.02 373.18,545.56 373.18,545.10" fill="#e21f2b" stroke="#000" stroke-width="1.1" stroke-linejoin="round"/>
<line x1="373.20" y1="545.10" x2="373.20" y2="636.80" stroke="#000" stroke-width="0.9"/>
<rect x="370.20" y="582.00" width="6.00" height="13.00" fill="#fff" stroke="#000" stroke-width="0.9"/>
<line x1="370.20" y1="588.30" x2="376.20" y2="588.30" stroke="#000" stroke-width="1.6"/>
<polygon points="403.50,505.00 403.50,505.83 403.51,506.67 403.51,507.50 403.52,508.33 403.52,509.17 403.53,510.00 403.53,510.83 403.54,511.66 403.54,512.50 403.54,513.33 403.55,514.16 403.55,515.00 403.56,515.83 403.56,516.66 403.57,517.50 403.57,518.33 403.58,519.16 403.58,519.99 403.58,520.83 403.59,521.66 403.59,522.49 403.60,523.33 403.60,524.16 403.61,524.99 403.61,525.83 403.62,526.66 403.62,527.49 403.63,528.32 403.63,529.16 403.63,529.99 403.64,530.82 403.64,531.66 403.65,532.49 403.65,533.32 403.66,534.15 403.66,534.99 403.67,535.82 403.67,536.65 403.67,537.49 403.68,538.32 403.68,539.15 403.69,539.99 403.69,540.82 403.70,541.65 403.70,542.49 403.71,543.32 403.71,544.15 403.71,544.98 403.72,545.82 403.74,546.65 403.77,547.48 403.79,548.32 403.82,549.15 403.85,549.98 403.88,550.82 403.92,551.65 403.95,552.48 403.99,553.31 404.03,554.15 404.08,554.98 404.13,555.81 404.18,556.65 404.24,557.48 404.29,558.31 404.36,559.14 404.42,559.98 404.49,560.81 404.57,561.64 404.64,562.48 404.72,563.31 404.81,564.14 404.90,564.98 404.99,565.81 405.09,566.64 405.19,567.48 405.30,568.31 405.41,569.14 405.52,569.97 405.64,570.81 405.76,571.64 405.88,572.47 406.00,573.31 406.13,574.14 406.26,574.97 406.39,575.81 406.52,576.64 406.65,577.47 406.78,578.30 406.90,579.14 407.03,579.97 407.15,580.80 407.27,581.64 407.38,582.47 407.49,583.30 407.59,584.13 407.68,584.97 407.76,585.80 407.83,586.63 407.88,587.47 407.90,588.30 407.87,589.13 407.80,589.97 407.72,590.80 407.62,591.63 407.50,592.47 407.37,593.30 407.24,594.13 407.10,594.96 406.95,595.80 406.80,596.63 406.65,597.46 406.49,598.30 406.34,599.13 406.19,599.96 406.04,600.80 405.89,601.63 405.75,602.46 405.61,603.29 405.47,604.13 405.34,604.96 405.21,605.79 405.09,606.63 404.98,607.46 404.87,608.29 404.77,609.12 404.67,609.96 404.57,610.79 404.49,611.62 404.41,612.46 404.33,613.29 404.26,614.12 404.19,614.96 404.13,615.79 404.07,616.62 404.02,617.46 403.97,618.29 403.93,619.12 403.89,619.95 403.85,620.79 403.81,621.62 403.78,622.45 403.75,623.29 403.74,624.12 403.73,624.95 403.73,625.79 403.72,626.62 403.72,627.45 403.72,628.28 403.71,629.12 403.71,629.95 403.70,630.78 403.70,631.62 403.70,632.45 403.69,633.28 403.69,634.12 403.68,634.95 403.68,635.78 403.67,636.61 403.67,637.45 403.67,638.28 403.66,639.11 403.66,639.95 403.65,640.78 403.65,641.61 403.65,642.45 403.64,643.28 403.64,644.11 403.63,644.94 403.63,645.78 403.62,646.61 403.62,647.44 403.62,648.28 403.61,649.11 403.61,649.94 403.60,650.77 403.60,651.61 403.60,652.44 403.59,653.27 403.59,654.11 403.58,654.94 403.58,655.77 403.57,656.61 403.57,657.44 403.57,658.27 403.56,659.11 403.56,659.94 403.55,660.77 403.55,661.60 403.55,662.44 403.54,663.27 403.54,664.10 403.53,664.94 403.53,665.77 403.52,666.60 403.52,667.44 403.52,668.27 403.51,669.10 403.51,669.93 403.50,670.77 403.50,671.60 403.50,671.60 403.50,670.77 403.49,669.93 403.49,669.10 403.48,668.27 403.48,667.44 403.48,666.60 403.47,665.77 403.47,664.94 403.46,664.10 403.46,663.27 403.45,662.44 403.45,661.60 403.45,660.77 403.44,659.94 403.44,659.11 403.43,658.27 403.43,657.44 403.43,656.61 403.42,655.77 403.42,654.94 403.41,654.11 403.41,653.27 403.40,652.44 403.40,651.61 403.40,650.77 403.39,649.94 403.39,649.11 403.38,648.28 403.38,647.44 403.38,646.61 403.37,645.78 403.37,644.94 403.36,644.11 403.36,643.28 403.35,642.45 403.35,641.61 403.35,640.78 403.34,639.95 403.34,639.11 403.33,638.28 403.33,637.45 403.33,636.61 403.32,635.78 403.32,634.95 403.31,634.12 403.31,633.28 403.30,632.45 403.30,631.62 403.30,630.78 403.29,629.95 403.29,629.12 403.28,628.28 403.28,627.45 403.28,626.62 403.27,625.79 403.27,624.95 403.26,624.12 403.25,623.29 403.22,622.45 403.19,621.62 403.15,620.79 403.11,619.95 403.07,619.12 403.03,618.29 402.98,617.46 402.93,616.62 402.87,615.79 402.81,614.96 402.74,614.12 402.67,613.29 402.59,612.46 402.51,611.62 402.43,610.79 402.33,609.96 402.23,609.12 402.13,608.29 402.02,607.46 401.91,606.63 401.79,605.79 401.66,604.96 401.53,604.13 401.39,603.29 401.25,602.46 401.11,601.63 400.96,600.80 400.81,599.96 400.66,599.13 400.51,598.30 400.35,597.46 400.20,596.63 400.05,595.80 399.90,594.96 399.76,594.13 399.63,593.30 399.50,592.47 399.38,591.63 399.28,590.80 399.20,589.97 399.13,589.13 399.10,588.30 399.12,587.47 399.17,586.63 399.24,585.80 399.32,584.97 399.41,584.13 399.51,583.30 399.62,582.47 399.73,581.64 399.85,580.80 399.97,579.97 400.10,579.14 400.22,578.30 400.35,577.47 400.48,576.64 400.61,575.81 400.74,574.97 400.87,574.14 401.00,573.31 401.12,572.47 401.24,571.64 401.36,570.81 401.48,569.97 401.59,569.14 401.70,568.31 401.81,567.48 401.91,566.64 402.01,565.81 402.10,564.98 402.19,564.14 402.28,563.31 402.36,562.48 402.43,561.64 402.51,560.81 402.58,559.98 402.64,559.14 402.71,558.31 402.76,557.48 402.82,556.65 402.87,555.81 402.92,554.98 402.97,554.15 403.01,553.31 403.05,552.48 403.08,551.65 403.12,550.82 403.15,549.98 403.18,549.15 403.21,548.32 403.23,547.48 403.26,546.65 403.28,545.82 403.29,544.98 403.29,544.15 403.29,543.32 403.30,542.49 403.30,541.65 403.31,540.82 403.31,539.99 403.32,539.15 403.32,538.32 403.33,537.49 403.33,536.65 403.33,535.82 403.34,534.99 403.34,534.15 403.35,533.32 403.35,532.49 403.36,531.66 403.36,530.82 403.37,529.99 403.37,529.16 403.37,528.32 403.38,527.49 403.38,526.66 403.39,525.83 403.39,524.99 403.40,524.16 403.40,523.33 403.41,522.49 403.41,521.66 403.42,520.83 403.42,519.99 403.42,519.16 403.43,518.33 403.43,517.50 403.44,516.66 403.44,515.83 403.45,515.00 403.45,514.16 403.46,513.33 403.46,512.50 403.46,511.66 403.47,510.83 403.47,510.00 403.48,509.17 403.48,508.33 403.49,507.50 403.49,506.67 403.50,505.83 403.50,505.00" fill="#40a64f" stroke="#000" stroke-width="1.1" stroke-linejoin="round"/>
<line x1="403.50" y1="505.00" x2="403.50" y2="671.60" stroke="#000" stroke-width="0.9"/>
<rect x="400.50" y="576.00" width="6.00" height="20.30" fill="#fff" stroke="#000" stroke-width="0.9"/>
<line x1="400.50" y1="586.60" x2="406.50" y2="586.60" stroke="#000" stroke-width="1.6"/>
<polygon points="433.90,574.40 433.92,574.57 433.93,574.75 433.95,574.92 433.97,575.10 433.98,575.27 434.00,575.45 434.02,575.62 434.04,575.80 434.05,575.98 434.07,576.15 434.09,576.32 434.10,576.50 434.12,576.67 434.14,576.85 434.15,577.02 434.17,577.20 434.19,577.38 434.20,577.55 434.20,577.73 434.20,577.90 434.20,578.07 434.20,578.25 434.20,578.42 434.20,578.60 434.20,578.77 434.26,578.95 434.35,579.12 434.45,579.30 434.56,579.48 434.68,579.65 434.81,579.82 434.95,580.00 435.09,580.17 435.24,580.35 435.40,580.52 435.57,580.70 435.75,580.88 435.93,581.05 436.12,581.23 436.32,581.40 436.53,581.57 436.74,581.75 436.95,581.92 437.18,582.10 437.41,582.27 437.65,582.45 437.89,582.62 438.13,582.80 438.39,582.98 438.64,583.15 438.90,583.32 439.17,583.50 439.44,583.67 439.71,583.85 439.99,584.02 440.27,584.20 440.56,584.38 440.84,584.55 441.13,584.73 441.43,584.90 441.72,585.07 442.02,585.25 442.31,585.42 442.61,585.60 442.91,585.77 443.21,585.95 443.52,586.12 443.82,586.30 444.12,586.48 444.42,586.65 444.72,586.82 445.01,587.00 445.31,587.17 445.60,587.35 445.89,587.52 446.18,587.70 446.47,587.88 446.75,588.05 447.02,588.23 447.29,588.40 447.56,588.57 447.81,588.75 448.06,588.92 448.31,589.10 448.54,589.27 448.76,589.45 448.97,589.62 449.17,589.80 449.35,589.98 449.52,590.15 449.66,590.32 449.77,590.50 449.80,590.67 449.76,590.85 449.70,591.02 449.61,591.20 449.50,591.38 449.36,591.55 449.21,591.73 449.04,591.90 448.85,592.07 448.64,592.25 448.42,592.42 448.18,592.60 447.93,592.77 447.66,592.95 447.39,593.12 447.10,593.30 446.79,593.48 446.48,593.65 446.16,593.82 445.84,594.00 445.50,594.17 445.16,594.35 444.81,594.52 444.46,594.70 444.10,594.88 443.74,595.05 443.38,595.23 443.02,595.40 442.66,595.57 442.29,595.75 441.93,595.92 441.57,596.10 441.21,596.27 440.86,596.45 440.51,596.62 440.16,596.80 439.82,596.98 439.48,597.15 439.15,597.32 438.83,597.50 438.52,597.67 438.21,597.85 437.91,598.02 437.63,598.20 437.35,598.38 437.08,598.55 436.82,598.73 436.57,598.90 436.34,599.07 436.11,599.25 435.90,599.42 435.69,599.60 435.50,599.77 435.32,599.95 435.16,600.12 435.00,600.30 434.86,600.48 434.73,600.65 434.61,600.82 434.50,601.00 434.40,601.17 434.31,601.35 434.23,601.52 434.20,601.70 434.20,601.88 434.20,602.05 434.20,602.23 434.20,602.40 434.20,602.57 434.20,602.75 434.20,602.92 434.20,603.10 434.20,603.27 434.20,603.45 434.20,603.62 434.20,603.80 434.20,603.98 434.19,604.15 434.18,604.32 434.17,604.50 434.16,604.67 434.15,604.85 434.14,605.02 434.13,605.20 434.12,605.38 434.11,605.55 434.10,605.73 434.09,605.90 434.08,606.07 434.07,606.25 434.06,606.42 434.05,606.60 434.04,606.77 434.03,606.95 434.02,607.12 434.01,607.30 434.01,607.48 434.00,607.65 433.99,607.82 433.98,608.00 433.97,608.17 433.96,608.35 433.95,608.52 433.94,608.70 433.93,608.88 433.92,609.05 433.91,609.23 433.90,609.40 433.90,609.40 433.89,609.23 433.88,609.05 433.87,608.88 433.86,608.70 433.85,608.52 433.84,608.35 433.83,608.17 433.82,608.00 433.81,607.82 433.80,607.65 433.79,607.48 433.79,607.30 433.78,607.12 433.77,606.95 433.76,606.77 433.75,606.60 433.74,606.42 433.73,606.25 433.72,606.07 433.71,605.90 433.70,605.73 433.69,605.55 433.68,605.38 433.67,605.20 433.66,605.02 433.65,604.85 433.64,604.67 433.63,604.50 433.62,604.32 433.61,604.15 433.60,603.98 433.60,603.80 433.60,603.62 433.60,603.45 433.60,603.27 433.60,603.10 433.60,602.92 433.60,602.75 433.60,602.57 433.60,602.40 433.60,602.23 433.60,602.05 433.60,601.88 433.60,601.70 433.57,601.52 433.49,601.35 433.40,601.17 433.30,601.00 433.19,600.82 433.07,600.65 432.94,600.48 432.80,600.30 432.64,600.12 432.48,599.95 432.30,599.77 432.11,599.60 431.90,599.42 431.69,599.25 431.46,599.07 431.23,598.90 430.98,598.73 430.72,598.55 430.45,598.38 430.17,598.20 429.89,598.02 429.59,597.85 429.28,597.67 428.97,597.50 428.65,597.32 428.32,597.15 427.98,596.98 427.64,596.80 427.29,596.62 426.94,596.45 426.59,596.27 426.23,596.10 425.87,595.92 425.51,595.75 425.14,595.57 424.78,595.40 424.42,595.23 424.06,595.05 423.70,594.88 423.34,594.70 422.99,594.52 422.64,594.35 422.30,594.17 421.96,594.00 421.64,593.82 421.32,593.65 421.01,593.48 420.70,593.30 420.41,593.12 420.14,592.95 419.87,592.77 419.62,592.60 419.38,592.42 419.16,592.25 418.95,592.07 418.76,591.90 418.59,591.73 418.44,591.55 418.30,591.38 418.19,591.20 418.10,591.02 418.04,590.85 418.00,590.67 418.03,590.50 418.14,590.32 418.28,590.15 418.45,589.98 418.63,589.80 418.83,589.62 419.04,589.45 419.26,589.27 419.49,589.10 419.74,588.92 419.99,588.75 420.24,588.57 420.51,588.40 420.78,588.23 421.05,588.05 421.33,587.88 421.62,587.70 421.91,587.52 422.20,587.35 422.49,587.17 422.79,587.00 423.08,586.82 423.38,586.65 423.68,586.48 423.98,586.30 424.28,586.12 424.59,585.95 424.89,585.77 425.19,585.60 425.49,585.42 425.78,585.25 426.08,585.07 426.37,584.90 426.67,584.73 426.96,584.55 427.24,584.38 427.53,584.20 427.81,584.02 428.09,583.85 428.36,583.67 428.63,583.50 428.90,583.32 429.16,583.15 429.41,582.98 429.67,582.80 429.91,582.62 430.15,582.45 430.39,582.27 430.62,582.10 430.85,581.92 431.06,581.75 431.27,581.57 431.48,581.40 431.68,581.23 431.87,581.05 432.05,580.88 432.23,580.70 432.40,580.52 432.56,580.35 432.71,580.17 432.85,580.00 432.99,579.82 433.12,579.65 433.24,579.48 433.35,579.30 433.45,579.12 433.54,578.95 433.60,578.77 433.60,578.60 433.60,578.42 433.60,578.25 433.60,578.07 433.60,577.90 433.60,577.73 433.60,577.55 433.61,577.38 433.63,577.20 433.65,577.02 433.66,576.85 433.68,576.67 433.70,576.50 433.71,576.32 433.73,576.15 433.75,575.98 433.76,575.80 433.78,575.62 433.80,575.45 433.82,575.27 433.83,575.10 433.85,574.92 433.87,574.75 433.88,574.57 433.90,574.40" fill="#0a90ae" stroke="#000" stroke-width="1.1" stroke-linejoin="round"/>
<line x1="433.90" y1="574.40" x2="433.90" y2="609.40" stroke="#000" stroke-width="0.9"/>
<rect x="430.90" y="587.70" width="6.00" height="5.70" fill="#fff" stroke="#000" stroke-width="0.9"/>
<line x1="430.90" y1="590.60" x2="436.90" y2="590.60" stroke="#000" stroke-width="1.6"/>
<polygon points="464.50,551.30 464.51,551.63 464.51,551.95 464.52,552.28 464.52,552.61 464.53,552.94 464.53,553.26 464.54,553.59 464.54,553.92 464.55,554.25 464.55,554.57 464.56,554.90 464.56,555.23 464.57,555.56 464.57,555.88 464.58,556.21 464.58,556.54 464.59,556.87 464.59,557.19 464.60,557.52 464.60,557.85 464.61,558.18 464.61,558.50 464.62,558.83 464.62,559.16 464.63,559.49 464.64,559.81 464.64,560.14 464.65,560.47 464.65,560.80 464.66,561.12 464.66,561.45 464.67,561.78 464.67,562.11 464.68,562.43 464.68,562.76 464.69,563.09 464.69,563.42 464.70,563.75 464.70,564.07 464.72,564.40 464.74,564.73 464.77,565.05 464.79,565.38 464.82,565.71 464.85,566.04 464.88,566.37 464.92,566.69 464.96,567.02 465.00,567.35 465.04,567.67 465.09,568.00 465.14,568.33 465.19,568.66 465.25,568.98 465.31,569.31 465.38,569.64 465.45,569.97 465.52,570.29 465.60,570.62 465.69,570.95 465.78,571.28 465.87,571.60 465.97,571.93 466.08,572.26 466.20,572.59 466.31,572.91 466.44,573.24 466.57,573.57 466.71,573.90 466.86,574.22 467.01,574.55 467.17,574.88 467.33,575.21 467.50,575.53 467.68,575.86 467.87,576.19 468.06,576.52 468.25,576.84 468.46,577.17 468.66,577.50 468.88,577.83 469.10,578.15 469.32,578.48 469.54,578.81 469.77,579.14 470.01,579.46 470.24,579.79 470.47,580.12 470.71,580.45 470.94,580.77 471.17,581.10 471.39,581.43 471.61,581.76 471.83,582.08 472.04,582.41 472.23,582.74 472.42,583.07 472.59,583.39 472.74,583.72 472.87,584.05 472.98,584.38 473.06,584.70 473.10,585.03 473.06,585.36 472.98,585.69 472.88,586.01 472.77,586.34 472.63,586.67 472.48,587.00 472.32,587.32 472.14,587.65 471.96,587.98 471.77,588.31 471.58,588.63 471.37,588.96 471.17,589.29 470.96,589.62 470.75,589.94 470.54,590.27 470.33,590.60 470.11,590.93 469.90,591.25 469.69,591.58 469.49,591.91 469.28,592.24 469.08,592.56 468.88,592.89 468.69,593.22 468.50,593.55 468.31,593.88 468.13,594.20 467.96,594.53 467.79,594.86 467.62,595.18 467.46,595.51 467.31,595.84 467.16,596.17 467.01,596.50 466.87,596.82 466.74,597.15 466.61,597.48 466.49,597.80 466.38,598.13 466.26,598.46 466.16,598.79 466.06,599.12 465.96,599.44 465.87,599.77 465.78,600.10 465.70,600.42 465.62,600.75 465.55,601.08 465.48,601.41 465.41,601.73 465.35,602.06 465.29,602.39 465.24,602.72 465.18,603.04 465.13,603.37 465.09,603.70 465.05,604.03 465.01,604.35 464.97,604.68 464.93,605.01 464.90,605.34 464.87,605.66 464.84,605.99 464.82,606.32 464.79,606.65 464.77,606.97 464.75,607.30 464.73,607.63 464.71,607.96 464.69,608.28 464.68,608.61 464.66,608.94 464.65,609.27 464.64,609.59 464.63,609.92 464.63,610.25 464.62,610.58 464.61,610.90 464.61,611.23 464.60,611.56 464.60,611.89 464.59,612.21 464.58,612.54 464.58,612.87 464.57,613.20 464.56,613.52 464.56,613.85 464.55,614.18 464.54,614.51 464.54,614.83 464.53,615.16 464.53,615.49 464.52,615.82 464.52,616.14 464.52,616.47 464.52,616.80 464.48,616.80 464.48,616.47 464.48,616.14 464.48,615.82 464.47,615.49 464.47,615.16 464.46,614.83 464.46,614.51 464.45,614.18 464.44,613.85 464.44,613.52 464.43,613.20 464.42,612.87 464.42,612.54 464.41,612.21 464.40,611.89 464.40,611.56 464.39,611.23 464.39,610.90 464.38,610.58 464.37,610.25 464.37,609.92 464.36,609.59 464.35,609.27 464.34,608.94 464.32,608.61 464.31,608.28 464.29,607.96 464.27,607.63 464.25,607.30 464.23,606.97 464.21,606.65 464.18,606.32 464.16,605.99 464.13,605.66 464.10,605.34 464.07,605.01 464.03,604.68 463.99,604.35 463.95,604.03 463.91,603.70 463.87,603.37 463.82,603.04 463.76,602.72 463.71,602.39 463.65,602.06 463.59,601.73 463.52,601.41 463.45,601.08 463.38,600.75 463.30,600.42 463.22,600.10 463.13,599.77 463.04,599.44 462.94,599.12 462.84,598.79 462.74,598.46 462.62,598.13 462.51,597.80 462.39,597.48 462.26,597.15 462.13,596.82 461.99,596.50 461.84,596.17 461.69,595.84 461.54,595.51 461.38,595.18 461.21,594.86 461.04,594.53 460.87,594.20 460.69,593.88 460.50,593.55 460.31,593.22 460.12,592.89 459.92,592.56 459.72,592.24 459.51,591.91 459.31,591.58 459.10,591.25 458.89,590.93 458.67,590.60 458.46,590.27 458.25,589.94 458.04,589.62 457.83,589.29 457.63,588.96 457.42,588.63 457.23,588.31 457.04,587.98 456.86,587.65 456.68,587.32 456.52,587.00 456.37,586.67 456.23,586.34 456.12,586.01 456.02,585.69 455.94,585.36 455.90,585.03 455.94,584.70 456.02,584.38 456.13,584.05 456.26,583.72 456.41,583.39 456.58,583.07 456.77,582.74 456.96,582.41 457.17,582.08 457.39,581.76 457.61,581.43 457.83,581.10 458.06,580.77 458.29,580.45 458.53,580.12 458.76,579.79 458.99,579.46 459.23,579.14 459.46,578.81 459.68,578.48 459.90,578.15 460.12,577.83 460.34,577.50 460.54,577.17 460.75,576.84 460.94,576.52 461.13,576.19 461.32,575.86 461.50,575.53 461.67,575.21 461.83,574.88 461.99,574.55 462.14,574.22 462.29,573.90 462.43,573.57 462.56,573.24 462.69,572.91 462.80,572.59 462.92,572.26 463.03,571.93 463.13,571.60 463.22,571.28 463.31,570.95 463.40,570.62 463.48,570.29 463.55,569.97 463.62,569.64 463.69,569.31 463.75,568.98 463.81,568.66 463.86,568.33 463.91,568.00 463.96,567.67 464.00,567.35 464.04,567.02 464.08,566.69 464.12,566.37 464.15,566.04 464.18,565.71 464.21,565.38 464.23,565.05 464.26,564.73 464.28,564.40 464.30,564.07 464.30,563.75 464.31,563.42 464.31,563.09 464.32,562.76 464.32,562.43 464.33,562.11 464.33,561.78 464.34,561.45 464.34,561.12 464.35,560.80 464.35,560.47 464.36,560.14 464.36,559.81 464.37,559.49 464.38,559.16 464.38,558.83 464.39,558.50 464.39,558.18 464.40,557.85 464.40,557.52 464.41,557.19 464.41,556.87 464.42,556.54 464.42,556.21 464.43,555.88 464.43,555.56 464.44,555.23 464.44,554.90 464.45,554.57 464.45,554.25 464.46,553.92 464.46,553.59 464.47,553.26 464.47,552.94 464.48,552.61 464.48,552.28 464.49,551.95 464.49,551.63 464.50,551.30" fill="#86609e" stroke="#000" stroke-width="1.1" stroke-linejoin="round"/>
<line x1="464.50" y1="551.30" x2="464.50" y2="616.80" stroke="#000" stroke-width="0.9"/>
<rect x="461.50" y="580.60" width="6.00" height="10.00" fill="#fff" stroke="#000" stroke-width="0.9"/>
<line x1="461.50" y1="585.00" x2="467.50" y2="585.00" stroke="#000" stroke-width="1.6"/>
<polygon points="495.20,540.40 495.21,540.72 495.21,541.04 495.22,541.36 495.22,541.68 495.23,542.00 495.23,542.32 495.24,542.64 495.24,542.96 495.25,543.28 495.25,543.61 495.26,543.93 495.26,544.25 495.27,544.57 495.27,544.89 495.28,545.21 495.28,545.53 495.29,545.85 495.29,546.17 495.30,546.49 495.30,546.81 495.31,547.13 495.31,547.45 495.32,547.77 495.32,548.09 495.33,548.41 495.33,548.73 495.34,549.05 495.34,549.37 495.35,549.69 495.35,550.01 495.36,550.34 495.36,550.66 495.37,550.98 495.37,551.30 495.38,551.62 495.38,551.94 495.39,552.26 495.39,552.58 495.40,552.90 495.40,553.22 495.41,553.54 495.43,553.86 495.45,554.18 495.48,554.50 495.50,554.82 495.53,555.14 495.57,555.46 495.60,555.78 495.64,556.10 495.68,556.42 495.73,556.75 495.77,557.07 495.83,557.39 495.88,557.71 495.94,558.03 496.01,558.35 496.08,558.67 496.15,558.99 496.23,559.31 496.31,559.63 496.40,559.95 496.49,560.27 496.59,560.59 496.70,560.91 496.81,561.23 496.93,561.55 497.06,561.87 497.19,562.19 497.33,562.51 497.47,562.84 497.62,563.16 497.78,563.48 497.94,563.80 498.11,564.12 498.29,564.44 498.47,564.76 498.66,565.08 498.86,565.40 499.06,565.72 499.26,566.04 499.47,566.36 499.69,566.68 499.91,567.00 500.13,567.32 500.35,567.64 500.58,567.96 500.80,568.28 501.03,568.60 501.25,568.92 501.48,569.25 501.70,569.57 501.92,569.89 502.13,570.21 502.33,570.53 502.53,570.85 502.72,571.17 502.90,571.49 503.06,571.81 503.22,572.13 503.35,572.45 503.47,572.77 503.57,573.09 503.64,573.41 503.69,573.73 503.69,574.05 503.64,574.37 503.57,574.69 503.47,575.01 503.36,575.33 503.23,575.65 503.09,575.98 502.94,576.30 502.79,576.62 502.62,576.94 502.45,577.26 502.27,577.58 502.08,577.90 501.89,578.22 501.70,578.54 501.51,578.86 501.31,579.18 501.12,579.50 500.92,579.82 500.73,580.14 500.53,580.46 500.34,580.78 500.14,581.10 499.96,581.42 499.77,581.74 499.58,582.07 499.40,582.39 499.23,582.71 499.05,583.03 498.88,583.35 498.72,583.67 498.56,583.99 498.40,584.31 498.25,584.63 498.10,584.95 497.96,585.27 497.82,585.59 497.69,585.91 497.56,586.23 497.44,586.55 497.32,586.87 497.21,587.19 497.10,587.51 496.99,587.83 496.89,588.15 496.80,588.48 496.70,588.80 496.62,589.12 496.53,589.44 496.45,589.76 496.38,590.08 496.31,590.40 496.24,590.72 496.17,591.04 496.11,591.36 496.05,591.68 496.00,592.00 495.95,592.32 495.90,592.64 495.85,592.96 495.81,593.28 495.77,593.60 495.73,593.92 495.69,594.24 495.66,594.56 495.62,594.88 495.59,595.21 495.57,595.53 495.54,595.85 495.51,596.17 495.49,596.49 495.47,596.81 495.45,597.13 495.43,597.45 495.41,597.77 495.40,598.09 495.38,598.41 495.37,598.73 495.35,599.05 495.34,599.37 495.33,599.69 495.32,600.01 495.31,600.33 495.30,600.65 495.29,600.97 495.29,601.29 495.28,601.62 495.27,601.94 495.27,602.26 495.26,602.58 495.26,602.90 495.25,603.22 495.25,603.54 495.24,603.86 495.24,604.18 495.24,604.50 495.16,604.50 495.16,604.18 495.16,603.86 495.15,603.54 495.15,603.22 495.14,602.90 495.14,602.58 495.13,602.26 495.13,601.94 495.12,601.62 495.11,601.29 495.11,600.97 495.10,600.65 495.09,600.33 495.08,600.01 495.07,599.69 495.06,599.37 495.05,599.05 495.03,598.73 495.02,598.41 495.00,598.09 494.99,597.77 494.97,597.45 494.95,597.13 494.93,596.81 494.91,596.49 494.89,596.17 494.86,595.85 494.83,595.53 494.81,595.21 494.78,594.88 494.74,594.56 494.71,594.24 494.67,593.92 494.63,593.60 494.59,593.28 494.55,592.96 494.50,592.64 494.45,592.32 494.40,592.00 494.35,591.68 494.29,591.36 494.23,591.04 494.16,590.72 494.09,590.40 494.02,590.08 493.95,589.76 493.87,589.44 493.78,589.12 493.70,588.80 493.60,588.48 493.51,588.15 493.41,587.83 493.30,587.51 493.19,587.19 493.08,586.87 492.96,586.55 492.84,586.23 492.71,585.91 492.58,585.59 492.44,585.27 492.30,584.95 492.15,584.63 492.00,584.31 491.84,583.99 491.68,583.67 491.52,583.35 491.35,583.03 491.17,582.71 491.00,582.39 490.82,582.07 490.63,581.74 490.44,581.42 490.26,581.10 490.06,580.78 489.87,580.46 489.67,580.14 489.48,579.82 489.28,579.50 489.09,579.18 488.89,578.86 488.70,578.54 488.51,578.22 488.32,577.90 488.13,577.58 487.95,577.26 487.78,576.94 487.61,576.62 487.46,576.30 487.31,575.98 487.17,575.65 487.04,575.33 486.93,575.01 486.83,574.69 486.76,574.37 486.71,574.05 486.71,573.73 486.76,573.41 486.83,573.09 486.93,572.77 487.05,572.45 487.18,572.13 487.34,571.81 487.50,571.49 487.68,571.17 487.87,570.85 488.07,570.53 488.27,570.21 488.48,569.89 488.70,569.57 488.92,569.25 489.15,568.92 489.37,568.60 489.60,568.28 489.82,567.96 490.05,567.64 490.27,567.32 490.49,567.00 490.71,566.68 490.93,566.36 491.14,566.04 491.34,565.72 491.54,565.40 491.74,565.08 491.93,564.76 492.11,564.44 492.29,564.12 492.46,563.80 492.62,563.48 492.78,563.16 492.93,562.84 493.07,562.51 493.21,562.19 493.34,561.87 493.47,561.55 493.59,561.23 493.70,560.91 493.81,560.59 493.91,560.27 494.00,559.95 494.09,559.63 494.17,559.31 494.25,558.99 494.32,558.67 494.39,558.35 494.46,558.03 494.52,557.71 494.57,557.39 494.63,557.07 494.67,556.75 494.72,556.42 494.76,556.10 494.80,555.78 494.83,555.46 494.87,555.14 494.90,554.82 494.92,554.50 494.95,554.18 494.97,553.86 494.99,553.54 495.00,553.22 495.00,552.90 495.01,552.58 495.01,552.26 495.02,551.94 495.02,551.62 495.03,551.30 495.03,550.98 495.04,550.66 495.04,550.34 495.05,550.01 495.05,549.69 495.06,549.37 495.06,549.05 495.07,548.73 495.07,548.41 495.08,548.09 495.08,547.77 495.09,547.45 495.09,547.13 495.10,546.81 495.10,546.49 495.11,546.17 495.11,545.85 495.12,545.53 495.12,545.21 495.13,544.89 495.13,544.57 495.14,544.25 495.14,543.93 495.15,543.61 495.15,543.28 495.16,542.96 495.16,542.64 495.17,542.32 495.17,542.00 495.18,541.68 495.18,541.36 495.19,541.04 495.19,540.72 495.20,540.40" fill="#f0a58c" stroke="#000" stroke-width="1.1" stroke-linejoin="round"/>
<line x1="495.20" y1="540.40" x2="495.20" y2="604.50" stroke="#000" stroke-width="0.9"/>
<rect x="492.20" y="570.20" width="6.00" height="10.10" fill="#fff" stroke="#000" stroke-width="0.9"/>
<line x1="492.20" y1="575.40" x2="498.20" y2="575.40" stroke="#000" stroke-width="1.6"/>
<polygon points="525.72,551.30 525.72,551.68 525.72,552.05 525.72,552.43 525.73,552.81 525.73,553.18 525.74,553.56 525.75,553.94 525.75,554.31 525.76,554.69 525.76,555.06 525.77,555.44 525.78,555.82 525.78,556.19 525.79,556.57 525.80,556.95 525.80,557.32 525.81,557.70 525.82,558.08 525.82,558.45 525.83,558.83 525.84,559.21 525.85,559.58 525.86,559.96 525.88,560.34 525.89,560.71 525.91,561.09 525.93,561.47 525.95,561.84 525.97,562.22 525.99,562.59 526.02,562.97 526.05,563.35 526.08,563.72 526.11,564.10 526.14,564.48 526.17,564.85 526.21,565.23 526.25,565.61 526.30,565.98 526.34,566.36 526.39,566.74 526.44,567.11 526.50,567.49 526.56,567.87 526.62,568.24 526.69,568.62 526.76,569.00 526.83,569.37 526.91,569.75 526.99,570.12 527.07,570.50 527.16,570.88 527.26,571.25 527.36,571.63 527.46,572.01 527.57,572.38 527.69,572.76 527.81,573.14 527.93,573.51 528.06,573.89 528.19,574.27 528.33,574.64 528.48,575.02 528.62,575.40 528.78,575.77 528.94,576.15 529.10,576.53 529.26,576.90 529.43,577.28 529.61,577.65 529.78,578.03 529.96,578.41 530.15,578.78 530.33,579.16 530.52,579.54 530.71,579.91 530.89,580.29 531.08,580.67 531.27,581.04 531.45,581.42 531.64,581.80 531.82,582.17 531.99,582.55 532.16,582.93 532.33,583.30 532.48,583.68 532.63,584.06 532.76,584.43 532.89,584.81 532.99,585.18 533.09,585.56 533.16,585.94 533.20,586.31 533.18,586.69 533.12,587.07 533.04,587.44 532.94,587.82 532.82,588.20 532.69,588.57 532.55,588.95 532.40,589.33 532.24,589.70 532.07,590.08 531.90,590.46 531.72,590.83 531.54,591.21 531.35,591.59 531.17,591.96 530.98,592.34 530.79,592.72 530.60,593.09 530.42,593.47 530.23,593.84 530.05,594.22 529.87,594.60 529.69,594.97 529.51,595.35 529.34,595.73 529.17,596.10 529.01,596.48 528.85,596.86 528.69,597.23 528.54,597.61 528.40,597.99 528.26,598.36 528.12,598.74 527.99,599.12 527.86,599.49 527.74,599.87 527.62,600.25 527.51,600.62 527.41,601.00 527.30,601.37 527.21,601.75 527.11,602.13 527.03,602.50 526.94,602.88 526.86,603.26 526.79,603.63 526.72,604.01 526.65,604.39 526.59,604.76 526.52,605.14 526.47,605.52 526.41,605.89 526.36,606.27 526.32,606.65 526.27,607.02 526.23,607.40 526.19,607.77 526.16,608.15 526.12,608.53 526.09,608.90 526.06,609.28 526.03,609.66 526.01,610.03 525.98,610.41 525.96,610.79 525.94,611.16 525.92,611.54 525.90,611.92 525.89,612.29 525.89,612.67 525.88,613.05 525.88,613.42 525.87,613.80 525.87,614.18 525.86,614.55 525.86,614.93 525.85,615.31 525.85,615.68 525.84,616.06 525.84,616.43 525.83,616.81 525.83,617.19 525.82,617.56 525.82,617.94 525.81,618.32 525.81,618.69 525.80,619.07 525.80,619.45 525.79,619.82 525.79,620.20 525.78,620.58 525.78,620.95 525.77,621.33 525.77,621.71 525.76,622.08 525.76,622.46 525.75,622.84 525.75,623.21 525.74,623.59 525.74,623.96 525.73,624.34 525.73,624.72 525.72,625.09 525.72,625.47 525.71,625.85 525.71,626.22 525.70,626.60 525.70,626.60 525.69,626.22 525.69,625.85 525.68,625.47 525.68,625.09 525.67,624.72 525.67,624.34 525.66,623.96 525.66,623.59 525.65,623.21 525.65,622.84 525.64,622.46 525.64,622.08 525.63,621.71 525.63,621.33 525.62,620.95 525.62,620.58 525.61,620.20 525.61,619.82 525.60,619.45 525.60,619.07 525.59,618.69 525.59,618.32 525.58,617.94 525.58,617.56 525.57,617.19 525.57,616.81 525.56,616.43 525.56,616.06 525.55,615.68 525.55,615.31 525.54,614.93 525.54,614.55 525.53,614.18 525.53,613.80 525.52,613.42 525.52,613.05 525.51,612.67 525.51,612.29 525.50,611.92 525.48,611.54 525.46,611.16 525.44,610.79 525.42,610.41 525.39,610.03 525.37,609.66 525.34,609.28 525.31,608.90 525.28,608.53 525.24,608.15 525.21,607.77 525.17,607.40 525.13,607.02 525.08,606.65 525.04,606.27 524.99,605.89 524.93,605.52 524.88,605.14 524.81,604.76 524.75,604.39 524.68,604.01 524.61,603.63 524.54,603.26 524.46,602.88 524.37,602.50 524.29,602.13 524.19,601.75 524.10,601.37 523.99,601.00 523.89,600.62 523.78,600.25 523.66,599.87 523.54,599.49 523.41,599.12 523.28,598.74 523.14,598.36 523.00,597.99 522.86,597.61 522.71,597.23 522.55,596.86 522.39,596.48 522.23,596.10 522.06,595.73 521.89,595.35 521.71,594.97 521.53,594.60 521.35,594.22 521.17,593.84 520.98,593.47 520.80,593.09 520.61,592.72 520.42,592.34 520.23,591.96 520.05,591.59 519.86,591.21 519.68,590.83 519.50,590.46 519.33,590.08 519.16,589.70 519.00,589.33 518.85,588.95 518.71,588.57 518.58,588.20 518.46,587.82 518.36,587.44 518.28,587.07 518.22,586.69 518.20,586.31 518.24,585.94 518.31,585.56 518.41,585.18 518.51,584.81 518.64,584.43 518.77,584.06 518.92,583.68 519.07,583.30 519.24,582.93 519.41,582.55 519.58,582.17 519.76,581.80 519.95,581.42 520.13,581.04 520.32,580.67 520.51,580.29 520.69,579.91 520.88,579.54 521.07,579.16 521.25,578.78 521.44,578.41 521.62,578.03 521.79,577.65 521.97,577.28 522.14,576.90 522.30,576.53 522.46,576.15 522.62,575.77 522.78,575.40 522.92,575.02 523.07,574.64 523.21,574.27 523.34,573.89 523.47,573.51 523.59,573.14 523.71,572.76 523.83,572.38 523.94,572.01 524.04,571.63 524.14,571.25 524.24,570.88 524.33,570.50 524.41,570.12 524.49,569.75 524.57,569.37 524.64,569.00 524.71,568.62 524.78,568.24 524.84,567.87 524.90,567.49 524.96,567.11 525.01,566.74 525.06,566.36 525.10,565.98 525.15,565.61 525.19,565.23 525.23,564.85 525.26,564.48 525.29,564.10 525.32,563.72 525.35,563.35 525.38,562.97 525.41,562.59 525.43,562.22 525.45,561.84 525.47,561.47 525.49,561.09 525.51,560.71 525.52,560.34 525.54,559.96 525.55,559.58 525.56,559.21 525.57,558.83 525.58,558.45 525.58,558.08 525.59,557.70 525.60,557.32 525.60,556.95 525.61,556.57 525.62,556.19 525.62,555.82 525.63,555.44 525.64,555.06 525.64,554.69 525.65,554.31 525.65,553.94 525.66,553.56 525.67,553.18 525.67,552.81 525.68,552.43 525.68,552.05 525.68,551.68 525.68,551.30" fill="#a2172f" stroke="#000" stroke-width="1.1" stroke-linejoin="round"/>
<line x1="525.70" y1="551.30" x2="525.70" y2="626.60" stroke="#000" stroke-width="0.9"/>
<rect x="522.50" y="580.50" width="6.40" height="11.50" fill="#fff" stroke="#000" stroke-width="0.9"/>
<line x1="522.50" y1="586.40" x2="528.90" y2="586.40" stroke="#000" stroke-width="1.6"/>
<polygon points="556.42,546.30 556.42,546.71 556.42,547.11 556.42,547.52 556.42,547.93 556.43,548.33 556.44,548.74 556.44,549.15 556.45,549.56 556.45,549.96 556.46,550.37 556.46,550.78 556.47,551.18 556.48,551.59 556.48,552.00 556.49,552.40 556.49,552.81 556.50,553.22 556.51,553.63 556.51,554.03 556.52,554.44 556.52,554.85 556.53,555.25 556.53,555.66 556.54,556.07 556.55,556.47 556.56,556.88 556.57,557.29 556.59,557.70 556.60,558.10 556.62,558.51 556.64,558.92 556.66,559.32 556.68,559.73 556.70,560.14 556.72,560.54 556.75,560.95 556.77,561.36 556.80,561.77 556.83,562.17 556.86,562.58 556.90,562.99 556.93,563.39 556.97,563.80 557.01,564.21 557.06,564.62 557.10,565.02 557.15,565.43 557.20,565.84 557.26,566.24 557.32,566.65 557.38,567.06 557.44,567.46 557.51,567.87 557.58,568.28 557.66,568.68 557.74,569.09 557.82,569.50 557.91,569.91 558.00,570.31 558.10,570.72 558.20,571.13 558.30,571.53 558.41,571.94 558.52,572.35 558.64,572.75 558.77,573.16 558.89,573.57 559.03,573.98 559.17,574.38 559.31,574.79 559.46,575.20 559.61,575.60 559.76,576.01 559.92,576.42 560.09,576.83 560.26,577.23 560.43,577.64 560.61,578.05 560.79,578.45 560.97,578.86 561.15,579.27 561.34,579.67 561.53,580.08 561.72,580.49 561.90,580.89 562.09,581.30 562.28,581.71 562.47,582.12 562.65,582.52 562.82,582.93 563.00,583.34 563.16,583.74 563.32,584.15 563.46,584.56 563.60,584.97 563.72,585.37 563.81,585.78 563.88,586.19 563.89,586.59 563.82,587.00 563.73,587.41 563.62,587.81 563.49,588.22 563.35,588.63 563.21,589.03 563.05,589.44 562.89,589.85 562.72,590.26 562.54,590.66 562.36,591.07 562.18,591.48 562.00,591.88 561.82,592.29 561.64,592.70 561.46,593.11 561.28,593.51 561.10,593.92 560.92,594.33 560.74,594.73 560.57,595.14 560.40,595.55 560.24,595.95 560.07,596.36 559.92,596.77 559.76,597.17 559.61,597.58 559.46,597.99 559.32,598.40 559.18,598.80 559.05,599.21 558.92,599.62 558.80,600.02 558.68,600.43 558.56,600.84 558.45,601.25 558.34,601.65 558.24,602.06 558.14,602.47 558.04,602.87 557.95,603.28 557.87,603.69 557.78,604.09 557.71,604.50 557.63,604.91 557.56,605.32 557.49,605.72 557.43,606.13 557.36,606.54 557.31,606.94 557.25,607.35 557.20,607.76 557.15,608.16 557.10,608.57 557.06,608.98 557.01,609.38 556.98,609.79 556.94,610.20 556.90,610.61 556.87,611.01 556.84,611.42 556.81,611.83 556.78,612.23 556.75,612.64 556.73,613.05 556.71,613.46 556.69,613.86 556.67,614.27 556.65,614.68 556.63,615.08 556.61,615.49 556.60,615.90 556.58,616.30 556.57,616.71 556.56,617.12 556.55,617.53 556.54,617.93 556.53,618.34 556.53,618.75 556.52,619.15 556.51,619.56 556.51,619.97 556.50,620.37 556.50,620.78 556.49,621.19 556.49,621.60 556.48,622.00 556.47,622.41 556.47,622.82 556.46,623.22 556.46,623.63 556.45,624.04 556.45,624.44 556.44,624.85 556.43,625.26 556.43,625.67 556.43,626.07 556.42,626.48 556.42,626.89 556.42,627.29 556.42,627.70 556.38,627.70 556.38,627.29 556.38,626.89 556.38,626.48 556.37,626.07 556.37,625.67 556.37,625.26 556.36,624.85 556.35,624.44 556.35,624.04 556.34,623.63 556.34,623.22 556.33,622.82 556.33,622.41 556.32,622.00 556.31,621.60 556.31,621.19 556.30,620.78 556.30,620.37 556.29,619.97 556.29,619.56 556.28,619.15 556.27,618.75 556.27,618.34 556.26,617.93 556.25,617.53 556.24,617.12 556.23,616.71 556.22,616.30 556.20,615.90 556.19,615.49 556.17,615.08 556.15,614.68 556.13,614.27 556.11,613.86 556.09,613.46 556.07,613.05 556.05,612.64 556.02,612.23 555.99,611.83 555.96,611.42 555.93,611.01 555.90,610.61 555.86,610.20 555.82,609.79 555.79,609.38 555.74,608.98 555.70,608.57 555.65,608.16 555.60,607.76 555.55,607.35 555.49,606.94 555.44,606.54 555.37,606.13 555.31,605.72 555.24,605.32 555.17,604.91 555.09,604.50 555.02,604.09 554.93,603.69 554.85,603.28 554.76,602.87 554.66,602.47 554.56,602.06 554.46,601.65 554.35,601.25 554.24,600.84 554.12,600.43 554.00,600.02 553.88,599.62 553.75,599.21 553.62,598.80 553.48,598.40 553.34,597.99 553.19,597.58 553.04,597.17 552.88,596.77 552.73,596.36 552.56,595.95 552.40,595.55 552.23,595.14 552.06,594.73 551.88,594.33 551.70,593.92 551.52,593.51 551.34,593.11 551.16,592.70 550.98,592.29 550.80,591.88 550.62,591.48 550.44,591.07 550.26,590.66 550.08,590.26 549.91,589.85 549.75,589.44 549.59,589.03 549.45,588.63 549.31,588.22 549.18,587.81 549.07,587.41 548.98,587.00 548.91,586.59 548.92,586.19 548.99,585.78 549.08,585.37 549.20,584.97 549.34,584.56 549.48,584.15 549.64,583.74 549.80,583.34 549.98,582.93 550.15,582.52 550.33,582.12 550.52,581.71 550.71,581.30 550.90,580.89 551.08,580.49 551.27,580.08 551.46,579.67 551.65,579.27 551.83,578.86 552.01,578.45 552.19,578.05 552.37,577.64 552.54,577.23 552.71,576.83 552.88,576.42 553.04,576.01 553.19,575.60 553.34,575.20 553.49,574.79 553.63,574.38 553.77,573.98 553.91,573.57 554.03,573.16 554.16,572.75 554.28,572.35 554.39,571.94 554.50,571.53 554.60,571.13 554.70,570.72 554.80,570.31 554.89,569.91 554.98,569.50 555.06,569.09 555.14,568.68 555.22,568.28 555.29,567.87 555.36,567.46 555.42,567.06 555.48,566.65 555.54,566.24 555.60,565.84 555.65,565.43 555.70,565.02 555.74,564.62 555.79,564.21 555.83,563.80 555.87,563.39 555.90,562.99 555.94,562.58 555.97,562.17 556.00,561.77 556.03,561.36 556.05,560.95 556.08,560.54 556.10,560.14 556.12,559.73 556.14,559.32 556.16,558.92 556.18,558.51 556.20,558.10 556.21,557.70 556.23,557.29 556.24,556.88 556.25,556.47 556.26,556.07 556.27,555.66 556.27,555.25 556.28,554.85 556.28,554.44 556.29,554.03 556.29,553.63 556.30,553.22 556.31,552.81 556.31,552.40 556.32,552.00 556.32,551.59 556.33,551.18 556.34,550.78 556.34,550.37 556.35,549.96 556.35,549.56 556.36,549.15 556.36,548.74 556.37,548.33 556.38,547.93 556.38,547.52 556.38,547.11 556.38,546.71 556.38,546.30" fill="#a7b1b1" stroke="#000" stroke-width="1.1" stroke-linejoin="round"/>
<line x1="556.40" y1="546.30" x2="556.40" y2="627.70" stroke="#000" stroke-width="0.9"/>
<rect x="553.30" y="580.50" width="6.20" height="12.60" fill="#fff" stroke="#000" stroke-width="0.9"/>
<line x1="553.30" y1="586.70" x2="559.50" y2="586.70" stroke="#000" stroke-width="1.6"/>
<text x="394.30" y="475.60" font-size="13.05" fill="#111" textLength="127.70" lengthAdjust="spacingAndGlyphs">D5/D6 after correction</text>
<text x="309.00" y="475.60" font-size="14.00" fill="#2a1a18" font-weight="bold">h</text>
<text x="304.60" y="587.50" font-size="10.30" fill="#111" text-anchor="middle" textLength="33.30" lengthAdjust="spacingAndGlyphs" transform="rotate(-90 304.60 587.50)">ME (%)</text>
<text x="591.00" y="498.80" font-size="11.50" fill="#111">Group</text>
<rect x="591.60" y="507.80" width="18.60" height="18.95" fill="#0b4a8c" stroke="#222" stroke-width="1.3"/>
<text x="616.70" y="521.38" font-size="11.70" fill="#111">L1_ILL_P</text>
<rect x="591.60" y="527.95" width="18.60" height="18.95" fill="#e21f2b" stroke="#222" stroke-width="1.3"/>
<text x="616.70" y="541.53" font-size="11.70" fill="#111">L1_ILL_R</text>
<rect x="591.60" y="548.10" width="18.60" height="18.95" fill="#40a64f" stroke="#222" stroke-width="1.3"/>
<text x="616.70" y="561.68" font-size="11.70" fill="#111">L2_DNB_P</text>
<rect x="591.60" y="568.25" width="18.60" height="18.95" fill="#0a90ae" stroke="#222" stroke-width="1.3"/>
<text x="616.70" y="581.83" font-size="11.70" fill="#111">L2_DNB_R</text>
<rect x="591.60" y="588.40" width="18.60" height="18.95" fill="#86609e" stroke="#222" stroke-width="1.3"/>
<text x="616.70" y="601.98" font-size="11.70" fill="#111">L3_ILL_P</text>
<rect x="591.60" y="608.55" width="18.60" height="18.95" fill="#f0a58c" stroke="#222" stroke-width="1.3"/>
<text x="616.70" y="622.13" font-size="11.70" fill="#111">L3_ILL_R</text>
<rect x="591.60" y="628.70" width="18.60" height="18.95" fill="#a2172f" stroke="#222" stroke-width="1.3"/>
<text x="616.70" y="642.28" font-size="11.70" fill="#111">L3_DNB_P</text>
<rect x="591.60" y="648.85" width="18.60" height="18.95" fill="#a7b1b1" stroke="#222" stroke-width="1.3"/>
<text x="616.70" y="662.43" font-size="11.70" fill="#111">L3_DNB_R</text>
<text x="13.20" y="719.00" font-size="14.00" fill="#2a1a18" font-weight="bold">i</text>
<text x="48.10" y="719.00" font-size="11.65" fill="#1c3366" font-weight="bold" textLength="321.70" lengthAdjust="spacingAndGlyphs">Housekeeping gene quantities before and after calibration</text>
<text x="72.70" y="745.40" font-size="10.48" fill="#111" textLength="93.80" lengthAdjust="spacingAndGlyphs">Quantified by FPKM</text>
<text x="245.60" y="743.10" font-size="10.51" fill="#111" textLength="131.40" lengthAdjust="spacingAndGlyphs">Quantified by copy numnber</text>
<text x="90.6" y="943.0" font-size="8.9" fill="#111" textLength="47.4" lengthAdjust="spacingAndGlyphs">Log<tspan font-size="6" dy="1">2</tspan><tspan dy="-1"> FPKM</tspan></text>
<text x="275.7" y="942.6" font-size="8.9" fill="#111" textLength="80.3" lengthAdjust="spacingAndGlyphs">Log<tspan font-size="6" dy="1">2</tspan><tspan dy="-1"> copy nunmber</tspan></text>
<text x="19.60" y="838.50" font-size="9.80" fill="#111" text-anchor="middle" textLength="93.50" lengthAdjust="spacingAndGlyphs" transform="rotate(-90 19.60 838.50)">Housekeeping genes</text>
<polygon points="30.5,752.5 202.5,752.5 201.70,752.60 197.10,753.42 190.42,754.59 183.48,755.91 178.10,757.20 175.01,758.31 173.17,759.38 171.71,760.61 169.80,762.20 167.22,764.29 164.43,766.76 161.54,769.36 158.70,771.90 155.92,774.26 153.15,776.57 150.37,778.98 147.60,781.60 144.69,784.46 141.70,787.51 138.88,790.72 136.50,794.10 134.73,797.74 133.41,801.61 132.25,805.53 131.00,809.30 129.60,812.87 128.20,816.33 126.80,819.76 125.40,823.20 124.02,826.68 122.65,830.15 121.28,833.63 119.90,837.10 118.50,840.64 117.10,844.23 115.70,847.72 114.30,851.00 112.92,853.97 111.55,856.73 110.18,859.40 108.80,862.10 107.37,864.79 105.91,867.42 104.50,870.15 103.20,873.10 102.14,876.37 101.24,879.87 100.29,883.46 99.10,887.00 97.52,890.54 95.69,894.12 93.81,897.62 92.10,900.90 90.59,903.87 89.17,906.62 87.85,909.29 86.60,912.00 85.43,914.91 84.33,917.90 83.32,920.72 82.40,923.10 81.54,925.00 80.74,926.54 80.07,927.74 79.60,928.60 30.5,928.6" fill="#c9ccce"/>
<line x1="150.0" y1="776.0" x2="159.5" y2="776.0" stroke="#c9ccce" stroke-width="1.0"/>
<line x1="97.2" y1="879.8" x2="112.6" y2="879.8" stroke="#c9ccce" stroke-width="1.0"/>
<line x1="155.6" y1="771.1" x2="168.7" y2="771.1" stroke="#c9ccce" stroke-width="1.0"/>
<line x1="85.7" y1="905.8" x2="99.0" y2="905.8" stroke="#c9ccce" stroke-width="1.0"/>
<line x1="101.2" y1="869.2" x2="112.9" y2="869.2" stroke="#c9ccce" stroke-width="1.0"/>
<line x1="88.9" y1="899.4" x2="103.3" y2="899.4" stroke="#c9ccce" stroke-width="1.0"/>
<line x1="135.2" y1="791.0" x2="150.2" y2="791.0" stroke="#c9ccce" stroke-width="1.0"/>
<line x1="117.7" y1="832.4" x2="136.2" y2="832.4" stroke="#c9ccce" stroke-width="1.0"/>
<line x1="131.2" y1="797.8" x2="142.0" y2="797.8" stroke="#c9ccce" stroke-width="1.0"/>
<line x1="119.4" y1="828.1" x2="127.2" y2="828.1" stroke="#c9ccce" stroke-width="1.0"/>
<line x1="108.5" y1="854.6" x2="123.8" y2="854.6" stroke="#c9ccce" stroke-width="1.0"/>
<line x1="164.9" y1="763.0" x2="183.7" y2="763.0" stroke="#c9ccce" stroke-width="1.0"/>
<line x1="106.4" y1="858.9" x2="115.8" y2="858.9" stroke="#c9ccce" stroke-width="1.0"/>
<line x1="168.1" y1="760.8" x2="177.7" y2="760.8" stroke="#c9ccce" stroke-width="1.0"/>
<line x1="103.0" y1="865.5" x2="115.2" y2="865.5" stroke="#c9ccce" stroke-width="1.0"/>
<line x1="129.9" y1="801.2" x2="146.6" y2="801.2" stroke="#c9ccce" stroke-width="1.0"/>
<line x1="90.4" y1="896.4" x2="106.0" y2="896.4" stroke="#c9ccce" stroke-width="1.0"/>
<line x1="92.6" y1="892.0" x2="110.1" y2="892.0" stroke="#c9ccce" stroke-width="1.0"/>
<line x1="108.0" y1="855.6" x2="123.2" y2="855.6" stroke="#c9ccce" stroke-width="1.0"/>
<line x1="134.9" y1="791.4" x2="144.3" y2="791.4" stroke="#c9ccce" stroke-width="1.0"/>
<line x1="115.2" y1="838.9" x2="131.9" y2="838.9" stroke="#c9ccce" stroke-width="1.0"/>
<line x1="131.3" y1="797.5" x2="140.8" y2="797.5" stroke="#c9ccce" stroke-width="1.0"/>
<line x1="116.6" y1="835.4" x2="127.6" y2="835.4" stroke="#c9ccce" stroke-width="1.0"/>
<line x1="154.9" y1="771.8" x2="168.3" y2="771.8" stroke="#c9ccce" stroke-width="1.0"/>
<line x1="108.1" y1="855.4" x2="115.9" y2="855.4" stroke="#c9ccce" stroke-width="1.0"/>
<line x1="86.9" y1="903.2" x2="105.1" y2="903.2" stroke="#c9ccce" stroke-width="1.0"/>
<line x1="121.2" y1="823.7" x2="129.9" y2="823.7" stroke="#c9ccce" stroke-width="1.0"/>
<line x1="158.4" y1="768.7" x2="171.4" y2="768.7" stroke="#c9ccce" stroke-width="1.0"/>
<line x1="148.7" y1="777.1" x2="157.5" y2="777.1" stroke="#c9ccce" stroke-width="1.0"/>
<line x1="122.2" y1="821.2" x2="135.4" y2="821.2" stroke="#c9ccce" stroke-width="1.0"/>
<line x1="108.6" y1="854.4" x2="124.9" y2="854.4" stroke="#c9ccce" stroke-width="1.0"/>
<line x1="118.6" y1="830.3" x2="128.0" y2="830.3" stroke="#c9ccce" stroke-width="1.0"/>
<line x1="109.7" y1="852.2" x2="127.3" y2="852.2" stroke="#c9ccce" stroke-width="1.0"/>
<line x1="114.9" y1="839.6" x2="126.2" y2="839.6" stroke="#c9ccce" stroke-width="1.0"/>
<line x1="105.1" y1="861.6" x2="122.1" y2="861.6" stroke="#c9ccce" stroke-width="1.0"/>
<line x1="159.6" y1="767.6" x2="173.2" y2="767.6" stroke="#c9ccce" stroke-width="1.0"/>
<line x1="101.3" y1="869.0" x2="110.1" y2="869.0" stroke="#c9ccce" stroke-width="1.0"/>
<line x1="82.7" y1="911.7" x2="93.0" y2="911.7" stroke="#c9ccce" stroke-width="1.0"/>
<line x1="111.2" y1="848.8" x2="125.5" y2="848.8" stroke="#c9ccce" stroke-width="1.0"/>
<line x1="138.6" y1="787.2" x2="148.5" y2="787.2" stroke="#c9ccce" stroke-width="1.0"/>
<line x1="165.0" y1="762.9" x2="178.7" y2="762.9" stroke="#c9ccce" stroke-width="1.0"/>
<line x1="85.5" y1="906.2" x2="102.7" y2="906.2" stroke="#c9ccce" stroke-width="1.0"/>
<g fill="#18a6c9"><circle cx="188.0" cy="753.5" r="1.02"/><circle cx="186.4" cy="753.6" r="1.02"/><circle cx="195.6" cy="753.7" r="1.02"/><circle cx="191.6" cy="753.8" r="1.02"/><circle cx="179.3" cy="753.8" r="1.02"/><circle cx="175.7" cy="753.9" r="1.02"/><circle cx="185.8" cy="754.0" r="1.02"/><circle cx="190.4" cy="754.0" r="1.02"/><circle cx="176.7" cy="754.1" r="1.02"/><circle cx="179.9" cy="754.3" r="1.02"/><circle cx="186.5" cy="754.3" r="1.02"/><circle cx="180.2" cy="754.3" r="1.02"/><circle cx="185.4" cy="754.4" r="1.02"/><circle cx="184.4" cy="754.5" r="1.02"/><circle cx="178.8" cy="754.6" r="1.02"/><circle cx="170.9" cy="754.7" r="1.02"/><circle cx="186.9" cy="754.7" r="1.02"/><circle cx="177.4" cy="754.8" r="1.02"/><circle cx="187.4" cy="754.9" r="1.02"/><circle cx="170.8" cy="755.0" r="1.02"/><circle cx="187.8" cy="755.1" r="1.02"/><circle cx="173.9" cy="755.1" r="1.02"/><circle cx="181.0" cy="755.2" r="1.02"/><circle cx="172.2" cy="755.3" r="1.02"/><circle cx="178.0" cy="755.4" r="1.02"/><circle cx="176.9" cy="755.5" r="1.02"/><circle cx="160.8" cy="755.5" r="1.02"/><circle cx="186.2" cy="755.6" r="1.02"/><circle cx="168.1" cy="755.7" r="1.02"/><circle cx="170.9" cy="755.8" r="1.02"/><circle cx="177.7" cy="755.8" r="1.02"/><circle cx="176.8" cy="755.9" r="1.02"/><circle cx="180.1" cy="755.9" r="1.02"/><circle cx="167.5" cy="756.0" r="1.02"/><circle cx="182.2" cy="756.1" r="1.02"/><circle cx="177.2" cy="756.2" r="1.02"/><circle cx="173.4" cy="756.2" r="1.02"/><circle cx="142.7" cy="756.3" r="1.02"/><circle cx="170.3" cy="756.4" r="1.02"/><circle cx="160.9" cy="756.5" r="1.02"/><circle cx="151.7" cy="756.6" r="1.02"/><circle cx="170.1" cy="756.7" r="1.02"/><circle cx="177.3" cy="756.7" r="1.02"/><circle cx="177.5" cy="756.8" r="1.02"/><circle cx="152.2" cy="756.9" r="1.02"/><circle cx="155.6" cy="756.9" r="1.02"/><circle cx="173.7" cy="757.0" r="1.02"/><circle cx="173.0" cy="757.1" r="1.02"/><circle cx="168.9" cy="757.2" r="1.02"/><circle cx="175.7" cy="757.3" r="1.02"/><circle cx="162.9" cy="757.3" r="1.02"/><circle cx="170.4" cy="757.4" r="1.02"/><circle cx="168.9" cy="757.5" r="1.02"/><circle cx="154.7" cy="757.5" r="1.02"/><circle cx="157.1" cy="757.6" r="1.02"/><circle cx="163.5" cy="757.7" r="1.02"/><circle cx="143.0" cy="757.8" r="1.02"/><circle cx="174.6" cy="757.8" r="1.02"/><circle cx="154.2" cy="758.0" r="1.02"/><circle cx="174.8" cy="758.0" r="1.02"/><circle cx="154.3" cy="758.1" r="1.02"/><circle cx="175.4" cy="758.1" r="1.02"/><circle cx="162.2" cy="758.2" r="1.02"/><circle cx="160.7" cy="758.3" r="1.02"/><circle cx="160.4" cy="758.4" r="1.02"/><circle cx="175.9" cy="758.5" r="1.02"/><circle cx="163.8" cy="758.5" r="1.02"/><circle cx="144.6" cy="758.6" r="1.02"/><circle cx="145.0" cy="758.7" r="1.02"/><circle cx="157.9" cy="758.7" r="1.02"/><circle cx="166.3" cy="758.8" r="1.02"/><circle cx="159.9" cy="759.0" r="1.02"/><circle cx="155.4" cy="759.0" r="1.02"/><circle cx="160.3" cy="759.0" r="1.02"/><circle cx="172.2" cy="759.2" r="1.02"/><circle cx="172.5" cy="759.2" r="1.02"/><circle cx="166.7" cy="759.3" r="1.02"/><circle cx="172.1" cy="759.4" r="1.02"/><circle cx="172.6" cy="759.4" r="1.02"/><circle cx="165.6" cy="759.5" r="1.02"/><circle cx="142.0" cy="759.6" r="1.02"/><circle cx="143.5" cy="759.7" r="1.02"/><circle cx="149.1" cy="759.8" r="1.02"/><circle cx="145.5" cy="759.8" r="1.02"/><circle cx="141.9" cy="759.9" r="1.02"/><circle cx="171.0" cy="760.0" r="1.02"/><circle cx="152.1" cy="760.1" r="1.02"/><circle cx="151.8" cy="760.1" r="1.02"/><circle cx="162.6" cy="760.2" r="1.02"/><circle cx="150.9" cy="760.3" r="1.02"/><circle cx="170.0" cy="760.3" r="1.02"/><circle cx="170.8" cy="760.4" r="1.02"/><circle cx="134.8" cy="760.5" r="1.02"/><circle cx="169.0" cy="760.6" r="1.02"/><circle cx="153.1" cy="760.7" r="1.02"/><circle cx="157.6" cy="760.8" r="1.02"/><circle cx="153.3" cy="760.8" r="1.02"/><circle cx="135.5" cy="760.9" r="1.02"/><circle cx="155.5" cy="761.0" r="1.02"/><circle cx="169.6" cy="761.0" r="1.02"/><circle cx="166.8" cy="761.1" r="1.02"/><circle cx="163.2" cy="761.2" r="1.02"/><circle cx="141.8" cy="761.3" r="1.02"/><circle cx="151.2" cy="761.4" r="1.02"/><circle cx="141.8" cy="761.4" r="1.02"/><circle cx="164.7" cy="761.5" r="1.02"/><circle cx="163.1" cy="761.5" r="1.02"/><circle cx="142.4" cy="761.6" r="1.02"/><circle cx="135.0" cy="761.7" r="1.02"/><circle cx="151.1" cy="761.8" r="1.02"/><circle cx="153.0" cy="761.9" r="1.02"/><circle cx="157.9" cy="762.0" r="1.02"/><circle cx="160.5" cy="762.0" r="1.02"/><circle cx="162.0" cy="762.1" r="1.02"/><circle cx="159.2" cy="762.2" r="1.02"/><circle cx="150.5" cy="762.2" r="1.02"/><circle cx="143.8" cy="762.4" r="1.02"/><circle cx="163.9" cy="762.4" r="1.02"/><circle cx="155.9" cy="762.4" r="1.02"/><circle cx="154.1" cy="762.5" r="1.02"/><circle cx="146.2" cy="762.6" r="1.02"/><circle cx="146.7" cy="762.7" r="1.02"/><circle cx="160.5" cy="762.8" r="1.02"/><circle cx="146.1" cy="762.9" r="1.02"/><circle cx="157.6" cy="762.9" r="1.02"/><circle cx="157.1" cy="763.0" r="1.02"/><circle cx="154.3" cy="763.1" r="1.02"/><circle cx="168.4" cy="763.1" r="1.02"/><circle cx="160.3" cy="763.2" r="1.02"/><circle cx="139.7" cy="763.3" r="1.02"/><circle cx="149.7" cy="763.4" r="1.02"/><circle cx="142.2" cy="763.5" r="1.02"/><circle cx="141.3" cy="763.5" r="1.02"/><circle cx="142.5" cy="763.6" r="1.02"/><circle cx="148.7" cy="763.7" r="1.02"/><circle cx="159.9" cy="763.8" r="1.02"/><circle cx="123.1" cy="763.8" r="1.02"/><circle cx="146.9" cy="763.9" r="1.02"/><circle cx="138.7" cy="764.0" r="1.02"/><circle cx="144.3" cy="764.1" r="1.02"/><circle cx="136.6" cy="764.2" r="1.02"/><circle cx="131.7" cy="764.2" r="1.02"/><circle cx="141.2" cy="764.3" r="1.02"/><circle cx="150.5" cy="764.3" r="1.02"/><circle cx="158.2" cy="764.4" r="1.02"/><circle cx="108.5" cy="764.5" r="1.02"/><circle cx="162.9" cy="764.6" r="1.02"/><circle cx="125.5" cy="764.7" r="1.02"/><circle cx="146.3" cy="764.7" r="1.02"/><circle cx="159.5" cy="764.8" r="1.02"/><circle cx="148.1" cy="764.9" r="1.02"/><circle cx="139.4" cy="765.0" r="1.02"/><circle cx="162.3" cy="765.0" r="1.02"/><circle cx="155.8" cy="765.1" r="1.02"/><circle cx="152.6" cy="765.2" r="1.02"/><circle cx="147.6" cy="765.3" r="1.02"/><circle cx="150.9" cy="765.3" r="1.02"/><circle cx="148.5" cy="765.4" r="1.02"/><circle cx="143.6" cy="765.5" r="1.02"/><circle cx="153.1" cy="765.6" r="1.02"/><circle cx="143.1" cy="765.6" r="1.02"/><circle cx="153.5" cy="765.7" r="1.02"/><circle cx="146.7" cy="765.8" r="1.02"/><circle cx="164.9" cy="765.8" r="1.02"/><circle cx="163.3" cy="766.0" r="1.02"/><circle cx="149.3" cy="766.0" r="1.02"/><circle cx="146.0" cy="766.1" r="1.02"/><circle cx="162.8" cy="766.2" r="1.02"/><circle cx="153.4" cy="766.2" r="1.02"/><circle cx="130.6" cy="766.3" r="1.02"/><circle cx="151.0" cy="766.4" r="1.02"/><circle cx="127.7" cy="766.5" r="1.02"/><circle cx="146.7" cy="766.5" r="1.02"/><circle cx="163.7" cy="766.6" r="1.02"/><circle cx="149.7" cy="766.7" r="1.02"/><circle cx="153.2" cy="766.8" r="1.02"/><circle cx="152.8" cy="766.9" r="1.02"/><circle cx="157.4" cy="766.9" r="1.02"/><circle cx="157.1" cy="767.0" r="1.02"/><circle cx="141.5" cy="767.1" r="1.02"/><circle cx="144.3" cy="767.2" r="1.02"/><circle cx="154.9" cy="767.2" r="1.02"/><circle cx="125.9" cy="767.3" r="1.02"/><circle cx="146.3" cy="767.4" r="1.02"/><circle cx="163.1" cy="767.4" r="1.02"/><circle cx="131.2" cy="767.5" r="1.02"/><circle cx="139.5" cy="767.7" r="1.02"/><circle cx="148.9" cy="767.7" r="1.02"/><circle cx="154.8" cy="767.8" r="1.02"/><circle cx="160.1" cy="767.8" r="1.02"/><circle cx="135.2" cy="767.9" r="1.02"/><circle cx="138.6" cy="768.0" r="1.02"/><circle cx="148.7" cy="768.1" r="1.02"/><circle cx="153.6" cy="768.2" r="1.02"/><circle cx="145.9" cy="768.2" r="1.02"/><circle cx="102.1" cy="768.3" r="1.02"/><circle cx="157.0" cy="768.4" r="1.02"/><circle cx="124.4" cy="768.5" r="1.02"/><circle cx="141.0" cy="768.5" r="1.02"/><circle cx="142.4" cy="768.6" r="1.02"/><circle cx="137.9" cy="768.7" r="1.02"/><circle cx="147.3" cy="768.8" r="1.02"/><circle cx="160.4" cy="768.9" r="1.02"/><circle cx="151.6" cy="768.9" r="1.02"/><circle cx="150.8" cy="769.0" r="1.02"/><circle cx="144.0" cy="769.0" r="1.02"/><circle cx="156.9" cy="769.1" r="1.02"/><circle cx="160.9" cy="769.2" r="1.02"/><circle cx="160.8" cy="769.3" r="1.02"/><circle cx="153.8" cy="769.4" r="1.02"/><circle cx="132.3" cy="769.4" r="1.02"/><circle cx="145.0" cy="769.5" r="1.02"/><circle cx="154.4" cy="769.6" r="1.02"/><circle cx="158.1" cy="769.7" r="1.02"/><circle cx="145.9" cy="769.7" r="1.02"/><circle cx="148.3" cy="769.8" r="1.02"/><circle cx="159.6" cy="769.9" r="1.02"/><circle cx="131.8" cy="769.9" r="1.02"/><circle cx="142.0" cy="770.1" r="1.02"/><circle cx="156.8" cy="770.2" r="1.02"/><circle cx="159.1" cy="770.2" r="1.02"/><circle cx="132.2" cy="770.3" r="1.02"/><circle cx="143.8" cy="770.3" r="1.02"/><circle cx="155.2" cy="770.4" r="1.02"/><circle cx="148.8" cy="770.5" r="1.02"/><circle cx="131.2" cy="770.6" r="1.02"/><circle cx="154.3" cy="770.7" r="1.02"/><circle cx="139.9" cy="770.7" r="1.02"/><circle cx="143.7" cy="770.8" r="1.02"/><circle cx="120.1" cy="770.9" r="1.02"/><circle cx="128.8" cy="771.0" r="1.02"/><circle cx="144.7" cy="771.0" r="1.02"/><circle cx="126.1" cy="771.1" r="1.02"/><circle cx="142.1" cy="771.2" r="1.02"/><circle cx="154.7" cy="771.3" r="1.02"/><circle cx="149.7" cy="771.3" r="1.02"/><circle cx="152.9" cy="771.4" r="1.02"/><circle cx="156.6" cy="771.4" r="1.02"/><circle cx="143.0" cy="771.5" r="1.02"/><circle cx="158.2" cy="771.6" r="1.02"/><circle cx="154.6" cy="771.7" r="1.02"/><circle cx="129.1" cy="771.8" r="1.02"/><circle cx="145.9" cy="771.9" r="1.02"/><circle cx="148.0" cy="771.9" r="1.02"/><circle cx="141.7" cy="772.0" r="1.02"/><circle cx="155.2" cy="772.1" r="1.02"/><circle cx="126.3" cy="772.1" r="1.02"/><circle cx="148.2" cy="772.3" r="1.02"/><circle cx="136.9" cy="772.3" r="1.02"/><circle cx="149.5" cy="772.4" r="1.02"/><circle cx="149.8" cy="772.5" r="1.02"/><circle cx="148.1" cy="772.6" r="1.02"/><circle cx="146.2" cy="772.6" r="1.02"/><circle cx="144.4" cy="772.7" r="1.02"/><circle cx="141.3" cy="772.7" r="1.02"/><circle cx="150.1" cy="772.9" r="1.02"/><circle cx="147.2" cy="772.9" r="1.02"/><circle cx="142.5" cy="773.0" r="1.02"/><circle cx="143.6" cy="773.1" r="1.02"/><circle cx="142.2" cy="773.1" r="1.02"/><circle cx="152.5" cy="773.2" r="1.02"/><circle cx="130.1" cy="773.3" r="1.02"/><circle cx="152.9" cy="773.3" r="1.02"/><circle cx="149.8" cy="773.4" r="1.02"/><circle cx="143.2" cy="773.5" r="1.02"/><circle cx="144.8" cy="773.6" r="1.02"/><circle cx="137.2" cy="773.6" r="1.02"/><circle cx="141.6" cy="773.7" r="1.02"/><circle cx="115.7" cy="773.8" r="1.02"/><circle cx="131.1" cy="773.9" r="1.02"/><circle cx="126.6" cy="774.0" r="1.02"/><circle cx="140.9" cy="774.1" r="1.02"/><circle cx="150.8" cy="774.1" r="1.02"/><circle cx="113.4" cy="774.2" r="1.02"/><circle cx="155.8" cy="774.3" r="1.02"/><circle cx="153.1" cy="774.4" r="1.02"/><circle cx="138.2" cy="774.4" r="1.02"/><circle cx="125.5" cy="774.5" r="1.02"/><circle cx="122.6" cy="774.6" r="1.02"/><circle cx="137.4" cy="774.7" r="1.02"/><circle cx="142.1" cy="774.7" r="1.02"/><circle cx="132.9" cy="774.8" r="1.02"/><circle cx="139.8" cy="774.9" r="1.02"/><circle cx="132.3" cy="775.0" r="1.02"/><circle cx="134.1" cy="775.1" r="1.02"/><circle cx="131.4" cy="775.1" r="1.02"/><circle cx="113.9" cy="775.2" r="1.02"/><circle cx="125.5" cy="775.2" r="1.02"/><circle cx="147.0" cy="775.4" r="1.02"/><circle cx="126.5" cy="775.4" r="1.02"/><circle cx="146.7" cy="775.5" r="1.02"/><circle cx="128.3" cy="775.5" r="1.02"/><circle cx="137.5" cy="775.6" r="1.02"/><circle cx="144.4" cy="775.7" r="1.02"/><circle cx="129.9" cy="775.8" r="1.02"/><circle cx="148.8" cy="775.9" r="1.02"/><circle cx="139.5" cy="776.0" r="1.02"/><circle cx="149.0" cy="776.0" r="1.02"/><circle cx="146.9" cy="776.1" r="1.02"/><circle cx="137.0" cy="776.2" r="1.02"/><circle cx="142.4" cy="776.2" r="1.02"/><circle cx="141.9" cy="776.3" r="1.02"/><circle cx="146.5" cy="776.4" r="1.02"/><circle cx="152.8" cy="776.4" r="1.02"/><circle cx="150.7" cy="776.6" r="1.02"/><circle cx="129.9" cy="776.6" r="1.02"/><circle cx="148.4" cy="776.7" r="1.02"/><circle cx="131.2" cy="776.8" r="1.02"/><circle cx="143.7" cy="776.8" r="1.02"/><circle cx="141.3" cy="776.9" r="1.02"/><circle cx="132.6" cy="777.0" r="1.02"/><circle cx="147.2" cy="777.1" r="1.02"/><circle cx="121.0" cy="777.1" r="1.02"/><circle cx="121.0" cy="777.2" r="1.02"/><circle cx="134.7" cy="777.3" r="1.02"/><circle cx="145.3" cy="777.4" r="1.02"/><circle cx="136.9" cy="777.4" r="1.02"/><circle cx="144.4" cy="777.6" r="1.02"/><circle cx="132.2" cy="777.6" r="1.02"/><circle cx="131.2" cy="777.7" r="1.02"/><circle cx="151.0" cy="777.8" r="1.02"/><circle cx="151.7" cy="777.8" r="1.02"/><circle cx="142.1" cy="777.9" r="1.02"/><circle cx="142.2" cy="778.0" r="1.02"/><circle cx="136.2" cy="778.1" r="1.02"/><circle cx="142.0" cy="778.2" r="1.02"/><circle cx="144.3" cy="778.2" r="1.02"/><circle cx="133.2" cy="778.3" r="1.02"/><circle cx="136.9" cy="778.4" r="1.02"/><circle cx="131.7" cy="778.5" r="1.02"/><circle cx="137.7" cy="778.5" r="1.02"/><circle cx="134.7" cy="778.6" r="1.02"/><circle cx="129.4" cy="778.7" r="1.02"/><circle cx="141.9" cy="778.8" r="1.02"/><circle cx="144.1" cy="778.8" r="1.02"/><circle cx="138.5" cy="778.9" r="1.02"/><circle cx="131.9" cy="779.0" r="1.02"/><circle cx="146.5" cy="779.1" r="1.02"/><circle cx="144.1" cy="779.1" r="1.02"/><circle cx="143.2" cy="779.2" r="1.02"/><circle cx="141.8" cy="779.3" r="1.02"/><circle cx="129.5" cy="779.4" r="1.02"/><circle cx="125.2" cy="779.4" r="1.02"/><circle cx="126.2" cy="779.5" r="1.02"/><circle cx="147.3" cy="779.6" r="1.02"/><circle cx="136.7" cy="779.7" r="1.02"/><circle cx="136.9" cy="779.7" r="1.02"/><circle cx="126.8" cy="779.8" r="1.02"/><circle cx="140.7" cy="779.9" r="1.02"/><circle cx="126.4" cy="780.0" r="1.02"/><circle cx="147.2" cy="780.0" r="1.02"/><circle cx="125.3" cy="780.1" r="1.02"/><circle cx="141.8" cy="780.2" r="1.02"/><circle cx="131.9" cy="780.2" r="1.02"/><circle cx="120.0" cy="780.3" r="1.02"/><circle cx="118.1" cy="780.4" r="1.02"/><circle cx="142.3" cy="780.5" r="1.02"/><circle cx="118.5" cy="780.5" r="1.02"/><circle cx="143.0" cy="780.6" r="1.02"/><circle cx="135.6" cy="780.7" r="1.02"/><circle cx="125.1" cy="780.8" r="1.02"/><circle cx="139.7" cy="780.9" r="1.02"/><circle cx="131.6" cy="780.9" r="1.02"/><circle cx="143.6" cy="781.0" r="1.02"/><circle cx="141.8" cy="781.1" r="1.02"/><circle cx="117.1" cy="781.1" r="1.02"/><circle cx="132.0" cy="781.2" r="1.02"/><circle cx="112.4" cy="781.3" r="1.02"/><circle cx="119.4" cy="781.4" r="1.02"/><circle cx="142.7" cy="781.5" r="1.02"/><circle cx="142.3" cy="781.6" r="1.02"/><circle cx="140.3" cy="781.6" r="1.02"/><circle cx="131.0" cy="781.7" r="1.02"/><circle cx="142.0" cy="781.8" r="1.02"/><circle cx="146.5" cy="781.8" r="1.02"/><circle cx="122.6" cy="781.9" r="1.02"/><circle cx="132.6" cy="782.0" r="1.02"/><circle cx="115.8" cy="782.1" r="1.02"/><circle cx="141.3" cy="782.2" r="1.02"/><circle cx="129.2" cy="782.2" r="1.02"/><circle cx="108.8" cy="782.3" r="1.02"/><circle cx="117.9" cy="782.4" r="1.02"/><circle cx="122.0" cy="782.5" r="1.02"/><circle cx="140.0" cy="782.6" r="1.02"/><circle cx="115.9" cy="782.6" r="1.02"/><circle cx="124.0" cy="782.7" r="1.02"/><circle cx="121.0" cy="782.8" r="1.02"/><circle cx="122.4" cy="782.9" r="1.02"/><circle cx="135.5" cy="782.9" r="1.02"/><circle cx="141.4" cy="783.0" r="1.02"/><circle cx="138.6" cy="783.1" r="1.02"/><circle cx="108.5" cy="783.1" r="1.02"/><circle cx="133.0" cy="783.2" r="1.02"/><circle cx="140.0" cy="783.3" r="1.02"/><circle cx="140.0" cy="783.3" r="1.02"/><circle cx="134.4" cy="783.4" r="1.02"/><circle cx="109.0" cy="783.5" r="1.02"/><circle cx="141.4" cy="783.6" r="1.02"/><circle cx="133.3" cy="783.7" r="1.02"/><circle cx="109.7" cy="783.7" r="1.02"/><circle cx="117.7" cy="783.8" r="1.02"/><circle cx="127.8" cy="783.9" r="1.02"/><circle cx="139.2" cy="783.9" r="1.02"/><circle cx="116.2" cy="784.0" r="1.02"/><circle cx="145.2" cy="784.1" r="1.02"/><circle cx="142.6" cy="784.2" r="1.02"/><circle cx="143.1" cy="784.3" r="1.02"/><circle cx="135.1" cy="784.4" r="1.02"/><circle cx="117.5" cy="784.4" r="1.02"/><circle cx="123.0" cy="784.5" r="1.02"/><circle cx="138.1" cy="784.6" r="1.02"/><circle cx="127.0" cy="784.7" r="1.02"/><circle cx="121.6" cy="784.7" r="1.02"/><circle cx="114.9" cy="784.8" r="1.02"/><circle cx="121.0" cy="784.9" r="1.02"/><circle cx="105.9" cy="784.9" r="1.02"/><circle cx="125.4" cy="785.0" r="1.02"/><circle cx="129.4" cy="785.1" r="1.02"/><circle cx="139.5" cy="785.2" r="1.02"/><circle cx="142.1" cy="785.2" r="1.02"/><circle cx="115.2" cy="785.3" r="1.02"/><circle cx="125.0" cy="785.4" r="1.02"/><circle cx="128.6" cy="785.5" r="1.02"/><circle cx="129.4" cy="785.6" r="1.02"/><circle cx="138.5" cy="785.6" r="1.02"/><circle cx="111.2" cy="785.7" r="1.02"/><circle cx="143.6" cy="785.8" r="1.02"/><circle cx="119.7" cy="785.9" r="1.02"/><circle cx="116.6" cy="786.0" r="1.02"/><circle cx="142.1" cy="786.0" r="1.02"/><circle cx="128.7" cy="786.1" r="1.02"/><circle cx="128.9" cy="786.1" r="1.02"/><circle cx="116.7" cy="786.2" r="1.02"/><circle cx="134.7" cy="786.3" r="1.02"/><circle cx="138.3" cy="786.4" r="1.02"/><circle cx="139.0" cy="786.5" r="1.02"/><circle cx="125.7" cy="786.5" r="1.02"/><circle cx="119.5" cy="786.6" r="1.02"/><circle cx="137.1" cy="786.7" r="1.02"/><circle cx="117.1" cy="786.8" r="1.02"/><circle cx="124.7" cy="786.9" r="1.02"/><circle cx="141.4" cy="786.9" r="1.02"/><circle cx="123.6" cy="787.0" r="1.02"/><circle cx="142.3" cy="787.1" r="1.02"/><circle cx="140.7" cy="787.1" r="1.02"/><circle cx="138.0" cy="787.2" r="1.02"/><circle cx="111.5" cy="787.3" r="1.02"/><circle cx="127.2" cy="787.4" r="1.02"/><circle cx="136.9" cy="787.5" r="1.02"/><circle cx="113.7" cy="787.5" r="1.02"/><circle cx="132.6" cy="787.6" r="1.02"/><circle cx="133.1" cy="787.7" r="1.02"/><circle cx="135.4" cy="787.7" r="1.02"/><circle cx="132.8" cy="787.8" r="1.02"/><circle cx="134.8" cy="787.9" r="1.02"/><circle cx="139.2" cy="788.0" r="1.02"/><circle cx="140.2" cy="788.0" r="1.02"/><circle cx="133.6" cy="788.1" r="1.02"/><circle cx="125.2" cy="788.2" r="1.02"/><circle cx="123.7" cy="788.3" r="1.02"/><circle cx="125.0" cy="788.3" r="1.02"/><circle cx="119.8" cy="788.4" r="1.02"/><circle cx="103.0" cy="788.5" r="1.02"/><circle cx="127.1" cy="788.6" r="1.02"/><circle cx="132.2" cy="788.7" r="1.02"/><circle cx="131.2" cy="788.7" r="1.02"/><circle cx="120.3" cy="788.8" r="1.02"/><circle cx="106.9" cy="788.9" r="1.02"/><circle cx="139.6" cy="789.0" r="1.02"/><circle cx="140.2" cy="789.0" r="1.02"/><circle cx="138.4" cy="789.1" r="1.02"/><circle cx="140.0" cy="789.2" r="1.02"/><circle cx="138.0" cy="789.2" r="1.02"/><circle cx="132.2" cy="789.4" r="1.02"/><circle cx="128.1" cy="789.4" r="1.02"/><circle cx="139.3" cy="789.5" r="1.02"/><circle cx="127.3" cy="789.5" r="1.02"/><circle cx="107.3" cy="789.6" r="1.02"/><circle cx="101.0" cy="789.7" r="1.02"/><circle cx="113.4" cy="789.8" r="1.02"/><circle cx="129.9" cy="789.8" r="1.02"/><circle cx="127.6" cy="789.9" r="1.02"/><circle cx="134.5" cy="790.1" r="1.02"/><circle cx="138.3" cy="790.1" r="1.02"/><circle cx="123.9" cy="790.2" r="1.02"/><circle cx="130.6" cy="790.3" r="1.02"/><circle cx="121.0" cy="790.3" r="1.02"/><circle cx="136.6" cy="790.4" r="1.02"/><circle cx="138.7" cy="790.5" r="1.02"/><circle cx="126.0" cy="790.5" r="1.02"/><circle cx="114.0" cy="790.6" r="1.02"/><circle cx="113.3" cy="790.7" r="1.02"/><circle cx="94.6" cy="790.8" r="1.02"/><circle cx="134.8" cy="790.8" r="1.02"/><circle cx="110.0" cy="790.9" r="1.02"/><circle cx="137.9" cy="791.0" r="1.02"/><circle cx="138.9" cy="791.1" r="1.02"/><circle cx="139.1" cy="791.1" r="1.02"/><circle cx="110.1" cy="791.3" r="1.02"/><circle cx="125.3" cy="791.3" r="1.02"/><circle cx="128.8" cy="791.4" r="1.02"/><circle cx="99.0" cy="791.4" r="1.02"/><circle cx="118.3" cy="791.5" r="1.02"/><circle cx="133.7" cy="791.6" r="1.02"/><circle cx="136.8" cy="791.7" r="1.02"/><circle cx="122.9" cy="791.7" r="1.02"/><circle cx="129.0" cy="791.8" r="1.02"/><circle cx="133.1" cy="791.9" r="1.02"/><circle cx="106.7" cy="792.0" r="1.02"/><circle cx="102.7" cy="792.1" r="1.02"/><circle cx="135.9" cy="792.1" r="1.02"/><circle cx="121.0" cy="792.2" r="1.02"/><circle cx="136.9" cy="792.3" r="1.02"/><circle cx="115.5" cy="792.3" r="1.02"/><circle cx="101.4" cy="792.4" r="1.02"/><circle cx="100.0" cy="792.5" r="1.02"/><circle cx="135.3" cy="792.6" r="1.02"/><circle cx="133.0" cy="792.7" r="1.02"/><circle cx="127.6" cy="792.8" r="1.02"/><circle cx="96.3" cy="792.8" r="1.02"/><circle cx="130.8" cy="792.9" r="1.02"/><circle cx="98.0" cy="792.9" r="1.02"/><circle cx="101.2" cy="793.1" r="1.02"/><circle cx="125.6" cy="793.1" r="1.02"/><circle cx="111.2" cy="793.2" r="1.02"/><circle cx="99.1" cy="793.2" r="1.02"/><circle cx="118.0" cy="793.4" r="1.02"/><circle cx="113.0" cy="793.5" r="1.02"/><circle cx="122.9" cy="793.5" r="1.02"/><circle cx="128.7" cy="793.5" r="1.02"/><circle cx="135.4" cy="793.7" r="1.02"/><circle cx="131.1" cy="793.7" r="1.02"/><circle cx="114.0" cy="793.8" r="1.02"/><circle cx="134.0" cy="793.9" r="1.02"/><circle cx="134.9" cy="793.9" r="1.02"/><circle cx="108.5" cy="794.0" r="1.02"/><circle cx="123.1" cy="794.1" r="1.02"/><circle cx="126.2" cy="794.2" r="1.02"/><circle cx="130.9" cy="794.3" r="1.02"/><circle cx="115.3" cy="794.3" r="1.02"/><circle cx="131.0" cy="794.4" r="1.02"/><circle cx="120.4" cy="794.5" r="1.02"/><circle cx="124.6" cy="794.5" r="1.02"/><circle cx="124.9" cy="794.6" r="1.02"/><circle cx="132.1" cy="794.7" r="1.02"/><circle cx="130.1" cy="794.8" r="1.02"/><circle cx="114.1" cy="794.9" r="1.02"/><circle cx="123.5" cy="795.0" r="1.02"/><circle cx="120.0" cy="795.0" r="1.02"/><circle cx="118.0" cy="795.1" r="1.02"/><circle cx="112.0" cy="795.1" r="1.02"/><circle cx="111.3" cy="795.2" r="1.02"/><circle cx="130.6" cy="795.3" r="1.02"/><circle cx="126.3" cy="795.4" r="1.02"/><circle cx="111.2" cy="795.5" r="1.02"/><circle cx="109.4" cy="795.5" r="1.02"/><circle cx="118.5" cy="795.6" r="1.02"/><circle cx="129.2" cy="795.7" r="1.02"/><circle cx="124.5" cy="795.8" r="1.02"/><circle cx="133.2" cy="795.9" r="1.02"/><circle cx="134.1" cy="795.9" r="1.02"/><circle cx="120.9" cy="796.0" r="1.02"/><circle cx="132.4" cy="796.1" r="1.02"/><circle cx="117.6" cy="796.2" r="1.02"/><circle cx="117.3" cy="796.2" r="1.02"/><circle cx="125.3" cy="796.3" r="1.02"/><circle cx="115.6" cy="796.4" r="1.02"/><circle cx="125.5" cy="796.5" r="1.02"/><circle cx="126.4" cy="796.5" r="1.02"/><circle cx="121.3" cy="796.6" r="1.02"/><circle cx="104.1" cy="796.7" r="1.02"/><circle cx="130.3" cy="796.8" r="1.02"/><circle cx="111.1" cy="796.8" r="1.02"/><circle cx="127.4" cy="796.9" r="1.02"/><circle cx="118.1" cy="797.0" r="1.02"/><circle cx="111.5" cy="797.1" r="1.02"/><circle cx="94.5" cy="797.1" r="1.02"/><circle cx="100.7" cy="797.2" r="1.02"/><circle cx="104.1" cy="797.3" r="1.02"/><circle cx="122.7" cy="797.4" r="1.02"/><circle cx="124.6" cy="797.5" r="1.02"/><circle cx="130.1" cy="797.5" r="1.02"/><circle cx="118.3" cy="797.6" r="1.02"/><circle cx="125.0" cy="797.7" r="1.02"/><circle cx="104.0" cy="797.8" r="1.02"/><circle cx="82.0" cy="797.8" r="1.02"/><circle cx="104.7" cy="797.9" r="1.02"/><circle cx="134.1" cy="798.0" r="1.02"/><circle cx="132.2" cy="798.0" r="1.02"/><circle cx="122.0" cy="798.1" r="1.02"/><circle cx="126.4" cy="798.2" r="1.02"/><circle cx="127.8" cy="798.2" r="1.02"/><circle cx="130.2" cy="798.3" r="1.02"/><circle cx="117.6" cy="798.4" r="1.02"/><circle cx="116.6" cy="798.5" r="1.02"/><circle cx="124.2" cy="798.6" r="1.02"/><circle cx="117.7" cy="798.7" r="1.02"/><circle cx="117.3" cy="798.7" r="1.02"/><circle cx="123.2" cy="798.8" r="1.02"/><circle cx="104.6" cy="798.9" r="1.02"/><circle cx="128.2" cy="798.9" r="1.02"/><circle cx="126.8" cy="799.0" r="1.02"/><circle cx="123.2" cy="799.1" r="1.02"/><circle cx="125.0" cy="799.2" r="1.02"/><circle cx="122.1" cy="799.2" r="1.02"/><circle cx="126.1" cy="799.3" r="1.02"/><circle cx="106.7" cy="799.4" r="1.02"/><circle cx="111.8" cy="799.5" r="1.02"/><circle cx="134.0" cy="799.5" r="1.02"/><circle cx="106.0" cy="799.7" r="1.02"/><circle cx="130.8" cy="799.7" r="1.02"/><circle cx="83.4" cy="799.8" r="1.02"/><circle cx="118.4" cy="799.8" r="1.02"/><circle cx="118.2" cy="799.9" r="1.02"/><circle cx="120.0" cy="800.0" r="1.02"/><circle cx="131.2" cy="800.1" r="1.02"/><circle cx="102.4" cy="800.2" r="1.02"/><circle cx="109.0" cy="800.2" r="1.02"/><circle cx="117.5" cy="800.3" r="1.02"/><circle cx="120.7" cy="800.4" r="1.02"/><circle cx="109.4" cy="800.4" r="1.02"/><circle cx="133.3" cy="800.5" r="1.02"/><circle cx="123.2" cy="800.6" r="1.02"/><circle cx="128.2" cy="800.7" r="1.02"/><circle cx="108.1" cy="800.7" r="1.02"/><circle cx="124.0" cy="800.9" r="1.02"/><circle cx="125.7" cy="800.9" r="1.02"/><circle cx="102.6" cy="801.0" r="1.02"/><circle cx="132.0" cy="801.1" r="1.02"/><circle cx="125.8" cy="801.2" r="1.02"/><circle cx="119.8" cy="801.2" r="1.02"/><circle cx="115.8" cy="801.3" r="1.02"/><circle cx="114.8" cy="801.4" r="1.02"/><circle cx="96.6" cy="801.4" r="1.02"/><circle cx="115.3" cy="801.5" r="1.02"/><circle cx="117.3" cy="801.6" r="1.02"/><circle cx="113.8" cy="801.7" r="1.02"/><circle cx="121.8" cy="801.7" r="1.02"/><circle cx="117.8" cy="801.9" r="1.02"/><circle cx="127.2" cy="801.9" r="1.02"/><circle cx="133.4" cy="802.0" r="1.02"/><circle cx="131.9" cy="802.1" r="1.02"/><circle cx="93.4" cy="802.1" r="1.02"/><circle cx="103.5" cy="802.2" r="1.02"/><circle cx="110.5" cy="802.3" r="1.02"/><circle cx="112.2" cy="802.3" r="1.02"/><circle cx="121.2" cy="802.5" r="1.02"/><circle cx="108.4" cy="802.5" r="1.02"/><circle cx="110.5" cy="802.6" r="1.02"/><circle cx="131.5" cy="802.7" r="1.02"/><circle cx="128.2" cy="802.7" r="1.02"/><circle cx="129.3" cy="802.8" r="1.02"/><circle cx="117.9" cy="802.9" r="1.02"/><circle cx="116.9" cy="803.0" r="1.02"/><circle cx="124.0" cy="803.0" r="1.02"/><circle cx="118.1" cy="803.2" r="1.02"/><circle cx="113.4" cy="803.2" r="1.02"/><circle cx="103.0" cy="803.3" r="1.02"/><circle cx="124.4" cy="803.3" r="1.02"/><circle cx="119.1" cy="803.4" r="1.02"/><circle cx="112.0" cy="803.5" r="1.02"/><circle cx="80.6" cy="803.5" r="1.02"/><circle cx="120.7" cy="803.7" r="1.02"/><circle cx="130.7" cy="803.8" r="1.02"/><circle cx="122.9" cy="803.8" r="1.02"/><circle cx="129.8" cy="803.8" r="1.02"/><circle cx="116.8" cy="804.0" r="1.02"/><circle cx="106.9" cy="804.0" r="1.02"/><circle cx="104.6" cy="804.1" r="1.02"/><circle cx="129.3" cy="804.2" r="1.02"/><circle cx="101.1" cy="804.3" r="1.02"/><circle cx="127.8" cy="804.3" r="1.02"/><circle cx="118.2" cy="804.4" r="1.02"/><circle cx="114.7" cy="804.5" r="1.02"/><circle cx="123.5" cy="804.6" r="1.02"/><circle cx="121.5" cy="804.7" r="1.02"/><circle cx="111.6" cy="804.7" r="1.02"/><circle cx="113.2" cy="804.8" r="1.02"/><circle cx="112.1" cy="804.9" r="1.02"/><circle cx="125.4" cy="804.9" r="1.02"/><circle cx="112.5" cy="805.0" r="1.02"/><circle cx="114.2" cy="805.1" r="1.02"/><circle cx="130.3" cy="805.2" r="1.02"/><circle cx="127.0" cy="805.3" r="1.02"/><circle cx="95.4" cy="805.3" r="1.02"/><circle cx="120.8" cy="805.4" r="1.02"/><circle cx="128.3" cy="805.5" r="1.02"/><circle cx="94.9" cy="805.6" r="1.02"/><circle cx="126.5" cy="805.6" r="1.02"/><circle cx="110.3" cy="805.7" r="1.02"/><circle cx="112.6" cy="805.8" r="1.02"/><circle cx="112.1" cy="805.8" r="1.02"/><circle cx="108.9" cy="805.9" r="1.02"/><circle cx="114.7" cy="806.0" r="1.02"/><circle cx="122.1" cy="806.1" r="1.02"/><circle cx="104.8" cy="806.2" r="1.02"/><circle cx="90.9" cy="806.2" r="1.02"/><circle cx="131.8" cy="806.3" r="1.02"/><circle cx="106.1" cy="806.4" r="1.02"/><circle cx="123.7" cy="806.5" r="1.02"/><circle cx="108.2" cy="806.6" r="1.02"/><circle cx="128.4" cy="806.6" r="1.02"/><circle cx="108.6" cy="806.7" r="1.02"/><circle cx="131.1" cy="806.8" r="1.02"/><circle cx="112.6" cy="806.8" r="1.02"/><circle cx="109.5" cy="806.9" r="1.02"/><circle cx="93.9" cy="807.0" r="1.02"/><circle cx="121.7" cy="807.0" r="1.02"/><circle cx="110.1" cy="807.1" r="1.02"/><circle cx="97.8" cy="807.2" r="1.02"/><circle cx="101.9" cy="807.3" r="1.02"/><circle cx="109.2" cy="807.4" r="1.02"/><circle cx="102.8" cy="807.4" r="1.02"/><circle cx="111.0" cy="807.5" r="1.02"/><circle cx="115.3" cy="807.6" r="1.02"/><circle cx="109.5" cy="807.7" r="1.02"/><circle cx="103.6" cy="807.7" r="1.02"/><circle cx="123.2" cy="807.8" r="1.02"/><circle cx="128.7" cy="807.9" r="1.02"/><circle cx="109.4" cy="808.0" r="1.02"/><circle cx="112.1" cy="808.1" r="1.02"/><circle cx="122.4" cy="808.1" r="1.02"/><circle cx="97.0" cy="808.2" r="1.02"/><circle cx="121.8" cy="808.3" r="1.02"/><circle cx="131.0" cy="808.4" r="1.02"/><circle cx="99.6" cy="808.4" r="1.02"/><circle cx="105.2" cy="808.5" r="1.02"/><circle cx="101.7" cy="808.6" r="1.02"/><circle cx="110.9" cy="808.6" r="1.02"/><circle cx="112.1" cy="808.7" r="1.02"/><circle cx="119.4" cy="808.8" r="1.02"/><circle cx="122.4" cy="808.9" r="1.02"/><circle cx="120.2" cy="809.0" r="1.02"/><circle cx="98.9" cy="809.0" r="1.02"/><circle cx="119.2" cy="809.1" r="1.02"/><circle cx="112.7" cy="809.2" r="1.02"/><circle cx="117.0" cy="809.2" r="1.02"/><circle cx="114.9" cy="809.3" r="1.02"/><circle cx="128.2" cy="809.4" r="1.02"/><circle cx="98.7" cy="809.5" r="1.02"/><circle cx="121.1" cy="809.5" r="1.02"/><circle cx="118.2" cy="809.6" r="1.02"/><circle cx="122.0" cy="809.7" r="1.02"/><circle cx="122.0" cy="809.8" r="1.02"/><circle cx="121.4" cy="809.9" r="1.02"/><circle cx="122.3" cy="810.0" r="1.02"/><circle cx="114.1" cy="810.0" r="1.02"/><circle cx="107.3" cy="810.1" r="1.02"/><circle cx="117.9" cy="810.1" r="1.02"/><circle cx="126.9" cy="810.2" r="1.02"/><circle cx="121.4" cy="810.3" r="1.02"/><circle cx="125.3" cy="810.4" r="1.02"/><circle cx="116.2" cy="810.5" r="1.02"/><circle cx="95.5" cy="810.6" r="1.02"/><circle cx="109.3" cy="810.6" r="1.02"/><circle cx="126.0" cy="810.7" r="1.02"/><circle cx="120.1" cy="810.8" r="1.02"/><circle cx="97.2" cy="810.9" r="1.02"/><circle cx="128.7" cy="810.9" r="1.02"/><circle cx="107.5" cy="811.0" r="1.02"/><circle cx="96.7" cy="811.1" r="1.02"/><circle cx="110.9" cy="811.1" r="1.02"/><circle cx="108.9" cy="811.2" r="1.02"/><circle cx="88.0" cy="811.3" r="1.02"/><circle cx="124.2" cy="811.4" r="1.02"/><circle cx="118.0" cy="811.5" r="1.02"/><circle cx="114.8" cy="811.5" r="1.02"/><circle cx="97.5" cy="811.6" r="1.02"/><circle cx="121.9" cy="811.7" r="1.02"/><circle cx="116.7" cy="811.7" r="1.02"/><circle cx="107.3" cy="811.8" r="1.02"/><circle cx="111.4" cy="811.9" r="1.02"/><circle cx="98.7" cy="812.0" r="1.02"/><circle cx="115.4" cy="812.0" r="1.02"/><circle cx="108.2" cy="812.1" r="1.02"/><circle cx="121.8" cy="812.2" r="1.02"/><circle cx="109.3" cy="812.3" r="1.02"/><circle cx="115.7" cy="812.3" r="1.02"/><circle cx="113.4" cy="812.4" r="1.02"/><circle cx="102.1" cy="812.5" r="1.02"/><circle cx="125.4" cy="812.6" r="1.02"/><circle cx="89.8" cy="812.6" r="1.02"/><circle cx="108.6" cy="812.7" r="1.02"/><circle cx="120.2" cy="812.8" r="1.02"/><circle cx="115.2" cy="812.9" r="1.02"/><circle cx="110.6" cy="812.9" r="1.02"/><circle cx="109.6" cy="813.0" r="1.02"/><circle cx="123.6" cy="813.1" r="1.02"/><circle cx="124.8" cy="813.2" r="1.02"/><circle cx="129.4" cy="813.3" r="1.02"/><circle cx="127.2" cy="813.3" r="1.02"/><circle cx="119.6" cy="813.4" r="1.02"/><circle cx="90.3" cy="813.5" r="1.02"/><circle cx="122.6" cy="813.5" r="1.02"/><circle cx="106.5" cy="813.6" r="1.02"/><circle cx="115.3" cy="813.7" r="1.02"/><circle cx="114.6" cy="813.8" r="1.02"/><circle cx="120.5" cy="813.8" r="1.02"/><circle cx="124.9" cy="814.0" r="1.02"/><circle cx="113.5" cy="814.0" r="1.02"/><circle cx="111.1" cy="814.1" r="1.02"/><circle cx="121.0" cy="814.2" r="1.02"/><circle cx="108.8" cy="814.2" r="1.02"/><circle cx="112.3" cy="814.3" r="1.02"/><circle cx="91.0" cy="814.4" r="1.02"/><circle cx="99.6" cy="814.5" r="1.02"/><circle cx="94.9" cy="814.6" r="1.02"/><circle cx="118.9" cy="814.6" r="1.02"/><circle cx="113.2" cy="814.7" r="1.02"/><circle cx="113.6" cy="814.8" r="1.02"/><circle cx="124.7" cy="814.8" r="1.02"/><circle cx="86.8" cy="815.0" r="1.02"/><circle cx="122.6" cy="815.0" r="1.02"/><circle cx="93.4" cy="815.1" r="1.02"/><circle cx="107.4" cy="815.1" r="1.02"/><circle cx="94.4" cy="815.3" r="1.02"/><circle cx="109.0" cy="815.3" r="1.02"/><circle cx="111.0" cy="815.4" r="1.02"/><circle cx="120.0" cy="815.5" r="1.02"/><circle cx="123.3" cy="815.6" r="1.02"/><circle cx="105.9" cy="815.6" r="1.02"/><circle cx="103.5" cy="815.7" r="1.02"/><circle cx="119.7" cy="815.8" r="1.02"/><circle cx="115.6" cy="815.9" r="1.02"/><circle cx="84.4" cy="815.9" r="1.02"/><circle cx="119.4" cy="816.0" r="1.02"/><circle cx="101.5" cy="816.1" r="1.02"/><circle cx="105.0" cy="816.1" r="1.02"/><circle cx="119.3" cy="816.2" r="1.02"/><circle cx="95.9" cy="816.3" r="1.02"/><circle cx="126.3" cy="816.3" r="1.02"/><circle cx="115.2" cy="816.4" r="1.02"/><circle cx="114.0" cy="816.5" r="1.02"/><circle cx="122.8" cy="816.6" r="1.02"/><circle cx="98.7" cy="816.6" r="1.02"/><circle cx="115.4" cy="816.8" r="1.02"/><circle cx="120.9" cy="816.8" r="1.02"/><circle cx="125.9" cy="816.9" r="1.02"/><circle cx="94.7" cy="817.0" r="1.02"/><circle cx="111.2" cy="817.0" r="1.02"/><circle cx="91.1" cy="817.1" r="1.02"/><circle cx="112.2" cy="817.2" r="1.02"/><circle cx="119.6" cy="817.3" r="1.02"/><circle cx="99.4" cy="817.3" r="1.02"/><circle cx="112.9" cy="817.4" r="1.02"/><circle cx="110.4" cy="817.5" r="1.02"/><circle cx="103.2" cy="817.6" r="1.02"/><circle cx="100.7" cy="817.7" r="1.02"/><circle cx="122.1" cy="817.7" r="1.02"/><circle cx="114.7" cy="817.8" r="1.02"/><circle cx="107.5" cy="817.9" r="1.02"/><circle cx="98.2" cy="817.9" r="1.02"/><circle cx="103.9" cy="818.0" r="1.02"/><circle cx="113.2" cy="818.1" r="1.02"/><circle cx="122.7" cy="818.2" r="1.02"/><circle cx="114.3" cy="818.2" r="1.02"/><circle cx="115.5" cy="818.3" r="1.02"/><circle cx="123.1" cy="818.4" r="1.02"/><circle cx="81.2" cy="818.5" r="1.02"/><circle cx="118.0" cy="818.6" r="1.02"/><circle cx="93.2" cy="818.7" r="1.02"/><circle cx="116.7" cy="818.7" r="1.02"/><circle cx="124.6" cy="818.8" r="1.02"/><circle cx="92.5" cy="818.9" r="1.02"/><circle cx="123.9" cy="818.9" r="1.02"/><circle cx="96.4" cy="819.0" r="1.02"/><circle cx="112.0" cy="819.1" r="1.02"/><circle cx="90.9" cy="819.2" r="1.02"/><circle cx="114.1" cy="819.3" r="1.02"/><circle cx="119.3" cy="819.3" r="1.02"/><circle cx="109.2" cy="819.4" r="1.02"/><circle cx="88.4" cy="819.4" r="1.02"/><circle cx="109.6" cy="819.6" r="1.02"/><circle cx="102.5" cy="819.6" r="1.02"/><circle cx="107.1" cy="819.7" r="1.02"/><circle cx="123.5" cy="819.8" r="1.02"/><circle cx="121.0" cy="819.8" r="1.02"/><circle cx="126.5" cy="819.9" r="1.02"/><circle cx="122.2" cy="820.0" r="1.02"/><circle cx="121.5" cy="820.1" r="1.02"/><circle cx="124.1" cy="820.1" r="1.02"/><circle cx="124.3" cy="820.3" r="1.02"/><circle cx="97.2" cy="820.3" r="1.02"/><circle cx="107.4" cy="820.4" r="1.02"/><circle cx="113.9" cy="820.5" r="1.02"/><circle cx="95.1" cy="820.5" r="1.02"/><circle cx="107.9" cy="820.6" r="1.02"/><circle cx="108.3" cy="820.7" r="1.02"/><circle cx="91.7" cy="820.8" r="1.02"/><circle cx="112.3" cy="820.8" r="1.02"/><circle cx="119.0" cy="820.9" r="1.02"/><circle cx="119.2" cy="821.0" r="1.02"/><circle cx="126.3" cy="821.1" r="1.02"/><circle cx="97.6" cy="821.1" r="1.02"/><circle cx="109.0" cy="821.2" r="1.02"/><circle cx="125.9" cy="821.3" r="1.02"/><circle cx="123.9" cy="821.4" r="1.02"/><circle cx="119.6" cy="821.4" r="1.02"/><circle cx="116.4" cy="821.5" r="1.02"/><circle cx="101.7" cy="821.6" r="1.02"/><circle cx="116.6" cy="821.7" r="1.02"/><circle cx="111.2" cy="821.8" r="1.02"/><circle cx="115.5" cy="821.8" r="1.02"/><circle cx="117.6" cy="821.9" r="1.02"/><circle cx="107.7" cy="822.0" r="1.02"/><circle cx="96.9" cy="822.0" r="1.02"/><circle cx="105.8" cy="822.1" r="1.02"/><circle cx="110.6" cy="822.2" r="1.02"/><circle cx="116.9" cy="822.3" r="1.02"/><circle cx="105.3" cy="822.4" r="1.02"/><circle cx="109.2" cy="822.4" r="1.02"/><circle cx="96.2" cy="822.5" r="1.02"/><circle cx="111.8" cy="822.5" r="1.02"/><circle cx="113.1" cy="822.7" r="1.02"/><circle cx="116.2" cy="822.7" r="1.02"/><circle cx="109.2" cy="822.8" r="1.02"/><circle cx="109.9" cy="822.9" r="1.02"/><circle cx="122.7" cy="822.9" r="1.02"/><circle cx="100.1" cy="823.0" r="1.02"/><circle cx="125.5" cy="823.1" r="1.02"/><circle cx="121.6" cy="823.2" r="1.02"/><circle cx="94.1" cy="823.2" r="1.02"/><circle cx="86.5" cy="823.3" r="1.02"/><circle cx="103.5" cy="823.4" r="1.02"/><circle cx="118.2" cy="823.5" r="1.02"/><circle cx="122.1" cy="823.5" r="1.02"/><circle cx="103.2" cy="823.6" r="1.02"/><circle cx="119.3" cy="823.7" r="1.02"/><circle cx="84.8" cy="823.8" r="1.02"/><circle cx="103.3" cy="823.8" r="1.02"/><circle cx="108.5" cy="824.0" r="1.02"/><circle cx="123.8" cy="824.0" r="1.02"/><circle cx="95.7" cy="824.1" r="1.02"/><circle cx="102.2" cy="824.2" r="1.02"/><circle cx="121.7" cy="824.2" r="1.02"/><circle cx="105.8" cy="824.3" r="1.02"/><circle cx="87.3" cy="824.4" r="1.02"/><circle cx="85.9" cy="824.5" r="1.02"/><circle cx="119.5" cy="824.5" r="1.02"/><circle cx="107.3" cy="824.6" r="1.02"/><circle cx="100.3" cy="824.7" r="1.02"/><circle cx="117.0" cy="824.7" r="1.02"/><circle cx="123.1" cy="824.8" r="1.02"/><circle cx="122.9" cy="824.9" r="1.02"/><circle cx="108.9" cy="825.0" r="1.02"/><circle cx="115.4" cy="825.0" r="1.02"/><circle cx="108.1" cy="825.1" r="1.02"/><circle cx="115.0" cy="825.2" r="1.02"/><circle cx="87.0" cy="825.3" r="1.02"/><circle cx="103.4" cy="825.4" r="1.02"/><circle cx="121.7" cy="825.5" r="1.02"/><circle cx="102.3" cy="825.5" r="1.02"/><circle cx="118.5" cy="825.6" r="1.02"/><circle cx="98.5" cy="825.7" r="1.02"/><circle cx="118.6" cy="825.8" r="1.02"/><circle cx="106.3" cy="825.8" r="1.02"/><circle cx="103.1" cy="825.9" r="1.02"/><circle cx="104.6" cy="826.0" r="1.02"/><circle cx="99.8" cy="826.0" r="1.02"/><circle cx="95.2" cy="826.2" r="1.02"/><circle cx="110.7" cy="826.2" r="1.02"/><circle cx="102.1" cy="826.3" r="1.02"/><circle cx="101.2" cy="826.4" r="1.02"/><circle cx="106.3" cy="826.4" r="1.02"/><circle cx="106.0" cy="826.5" r="1.02"/><circle cx="119.8" cy="826.5" r="1.02"/><circle cx="69.3" cy="826.7" r="1.02"/><circle cx="112.1" cy="826.8" r="1.02"/><circle cx="104.2" cy="826.8" r="1.02"/><circle cx="106.4" cy="826.9" r="1.02"/><circle cx="122.6" cy="827.0" r="1.02"/><circle cx="111.4" cy="827.0" r="1.02"/><circle cx="121.6" cy="827.1" r="1.02"/><circle cx="118.5" cy="827.2" r="1.02"/><circle cx="114.7" cy="827.2" r="1.02"/><circle cx="100.9" cy="827.3" r="1.02"/><circle cx="110.5" cy="827.4" r="1.02"/><circle cx="102.9" cy="827.5" r="1.02"/><circle cx="116.6" cy="827.6" r="1.02"/><circle cx="103.4" cy="827.7" r="1.02"/><circle cx="102.0" cy="827.7" r="1.02"/><circle cx="110.0" cy="827.8" r="1.02"/><circle cx="68.1" cy="827.9" r="1.02"/><circle cx="106.1" cy="828.0" r="1.02"/><circle cx="104.6" cy="828.0" r="1.02"/><circle cx="111.0" cy="828.1" r="1.02"/><circle cx="105.3" cy="828.2" r="1.02"/><circle cx="72.1" cy="828.2" r="1.02"/><circle cx="109.9" cy="828.4" r="1.02"/><circle cx="101.3" cy="828.4" r="1.02"/><circle cx="116.1" cy="828.5" r="1.02"/><circle cx="117.8" cy="828.6" r="1.02"/><circle cx="109.0" cy="828.6" r="1.02"/><circle cx="113.5" cy="828.7" r="1.02"/><circle cx="105.5" cy="828.8" r="1.02"/><circle cx="108.6" cy="828.8" r="1.02"/><circle cx="84.5" cy="828.9" r="1.02"/><circle cx="115.5" cy="829.0" r="1.02"/><circle cx="86.0" cy="829.1" r="1.02"/><circle cx="92.6" cy="829.2" r="1.02"/><circle cx="116.9" cy="829.2" r="1.02"/><circle cx="107.8" cy="829.3" r="1.02"/><circle cx="99.2" cy="829.4" r="1.02"/><circle cx="117.4" cy="829.5" r="1.02"/><circle cx="108.7" cy="829.5" r="1.02"/><circle cx="108.0" cy="829.6" r="1.02"/><circle cx="108.8" cy="829.7" r="1.02"/><circle cx="122.3" cy="829.8" r="1.02"/><circle cx="80.7" cy="829.8" r="1.02"/><circle cx="72.1" cy="829.9" r="1.02"/><circle cx="117.7" cy="830.0" r="1.02"/><circle cx="109.2" cy="830.0" r="1.02"/><circle cx="99.2" cy="830.2" r="1.02"/><circle cx="120.4" cy="830.2" r="1.02"/><circle cx="99.8" cy="830.3" r="1.02"/><circle cx="114.2" cy="830.4" r="1.02"/><circle cx="116.3" cy="830.4" r="1.02"/><circle cx="103.8" cy="830.5" r="1.02"/><circle cx="103.4" cy="830.6" r="1.02"/><circle cx="113.7" cy="830.7" r="1.02"/><circle cx="98.7" cy="830.8" r="1.02"/><circle cx="110.4" cy="830.8" r="1.02"/><circle cx="108.4" cy="830.9" r="1.02"/><circle cx="110.2" cy="831.0" r="1.02"/><circle cx="121.8" cy="831.1" r="1.02"/><circle cx="112.9" cy="831.1" r="1.02"/><circle cx="106.5" cy="831.2" r="1.02"/><circle cx="111.9" cy="831.3" r="1.02"/><circle cx="106.6" cy="831.3" r="1.02"/><circle cx="111.9" cy="831.4" r="1.02"/><circle cx="114.4" cy="831.5" r="1.02"/><circle cx="97.1" cy="831.6" r="1.02"/><circle cx="98.8" cy="831.6" r="1.02"/><circle cx="115.6" cy="831.7" r="1.02"/><circle cx="99.5" cy="831.8" r="1.02"/><circle cx="111.1" cy="831.9" r="1.02"/><circle cx="118.5" cy="831.9" r="1.02"/><circle cx="111.9" cy="832.0" r="1.02"/><circle cx="108.8" cy="832.1" r="1.02"/><circle cx="96.5" cy="832.2" r="1.02"/><circle cx="113.1" cy="832.2" r="1.02"/><circle cx="118.9" cy="832.3" r="1.02"/><circle cx="109.6" cy="832.4" r="1.02"/><circle cx="111.0" cy="832.5" r="1.02"/><circle cx="114.9" cy="832.6" r="1.02"/><circle cx="110.5" cy="832.6" r="1.02"/><circle cx="121.3" cy="832.7" r="1.02"/><circle cx="115.7" cy="832.8" r="1.02"/><circle cx="96.5" cy="832.9" r="1.02"/><circle cx="118.3" cy="833.0" r="1.02"/><circle cx="111.0" cy="833.0" r="1.02"/><circle cx="106.1" cy="833.1" r="1.02"/><circle cx="107.5" cy="833.2" r="1.02"/><circle cx="111.8" cy="833.2" r="1.02"/><circle cx="102.4" cy="833.3" r="1.02"/><circle cx="103.4" cy="833.4" r="1.02"/><circle cx="105.6" cy="833.5" r="1.02"/><circle cx="112.1" cy="833.6" r="1.02"/><circle cx="85.5" cy="833.6" r="1.02"/><circle cx="116.4" cy="833.7" r="1.02"/><circle cx="85.0" cy="833.8" r="1.02"/><circle cx="81.3" cy="833.9" r="1.02"/><circle cx="99.3" cy="834.0" r="1.02"/><circle cx="93.2" cy="834.0" r="1.02"/><circle cx="106.7" cy="834.1" r="1.02"/><circle cx="117.2" cy="834.2" r="1.02"/><circle cx="116.9" cy="834.2" r="1.02"/><circle cx="117.8" cy="834.3" r="1.02"/><circle cx="106.9" cy="834.4" r="1.02"/><circle cx="117.3" cy="834.4" r="1.02"/><circle cx="112.1" cy="834.6" r="1.02"/><circle cx="88.8" cy="834.6" r="1.02"/><circle cx="99.1" cy="834.6" r="1.02"/><circle cx="105.3" cy="834.8" r="1.02"/><circle cx="105.3" cy="834.8" r="1.02"/><circle cx="116.3" cy="834.9" r="1.02"/><circle cx="98.2" cy="835.0" r="1.02"/><circle cx="111.3" cy="835.1" r="1.02"/><circle cx="99.9" cy="835.2" r="1.02"/><circle cx="107.0" cy="835.2" r="1.02"/><circle cx="110.4" cy="835.3" r="1.02"/><circle cx="97.1" cy="835.4" r="1.02"/><circle cx="66.9" cy="835.5" r="1.02"/><circle cx="105.5" cy="835.6" r="1.02"/><circle cx="108.1" cy="835.6" r="1.02"/><circle cx="96.3" cy="835.7" r="1.02"/><circle cx="97.2" cy="835.7" r="1.02"/><circle cx="107.7" cy="835.8" r="1.02"/><circle cx="118.0" cy="835.9" r="1.02"/><circle cx="93.9" cy="836.0" r="1.02"/><circle cx="88.9" cy="836.1" r="1.02"/><circle cx="100.6" cy="836.2" r="1.02"/><circle cx="109.7" cy="836.2" r="1.02"/><circle cx="111.0" cy="836.2" r="1.02"/><circle cx="91.4" cy="836.3" r="1.02"/><circle cx="95.5" cy="836.4" r="1.02"/><circle cx="104.7" cy="836.5" r="1.02"/><circle cx="120.2" cy="836.6" r="1.02"/><circle cx="93.5" cy="836.7" r="1.02"/><circle cx="98.5" cy="836.7" r="1.02"/><circle cx="119.1" cy="836.8" r="1.02"/><circle cx="115.9" cy="836.9" r="1.02"/><circle cx="102.5" cy="836.9" r="1.02"/><circle cx="111.3" cy="837.0" r="1.02"/><circle cx="81.0" cy="837.1" r="1.02"/><circle cx="78.2" cy="837.2" r="1.02"/><circle cx="111.8" cy="837.3" r="1.02"/><circle cx="103.6" cy="837.4" r="1.02"/><circle cx="85.7" cy="837.4" r="1.02"/><circle cx="100.7" cy="837.5" r="1.02"/><circle cx="103.0" cy="837.5" r="1.02"/><circle cx="105.6" cy="837.6" r="1.02"/><circle cx="105.2" cy="837.7" r="1.02"/><circle cx="88.0" cy="837.8" r="1.02"/><circle cx="107.2" cy="837.8" r="1.02"/><circle cx="118.0" cy="837.9" r="1.02"/><circle cx="85.2" cy="838.0" r="1.02"/><circle cx="102.3" cy="838.1" r="1.02"/><circle cx="100.2" cy="838.2" r="1.02"/><circle cx="111.5" cy="838.2" r="1.02"/><circle cx="99.3" cy="838.3" r="1.02"/><circle cx="110.5" cy="838.4" r="1.02"/><circle cx="103.7" cy="838.4" r="1.02"/><circle cx="114.0" cy="838.6" r="1.02"/><circle cx="115.9" cy="838.7" r="1.02"/><circle cx="93.6" cy="838.7" r="1.02"/><circle cx="112.8" cy="838.8" r="1.02"/><circle cx="114.2" cy="838.8" r="1.02"/><circle cx="84.8" cy="838.9" r="1.02"/><circle cx="103.6" cy="839.0" r="1.02"/><circle cx="101.3" cy="839.1" r="1.02"/><circle cx="82.5" cy="839.1" r="1.02"/><circle cx="117.9" cy="839.3" r="1.02"/><circle cx="91.8" cy="839.3" r="1.02"/><circle cx="93.5" cy="839.4" r="1.02"/><circle cx="102.7" cy="839.4" r="1.02"/><circle cx="111.9" cy="839.6" r="1.02"/><circle cx="96.0" cy="839.6" r="1.02"/><circle cx="114.3" cy="839.7" r="1.02"/><circle cx="87.8" cy="839.8" r="1.02"/><circle cx="114.7" cy="839.8" r="1.02"/><circle cx="80.8" cy="839.9" r="1.02"/><circle cx="93.2" cy="840.0" r="1.02"/><circle cx="98.5" cy="840.1" r="1.02"/><circle cx="96.2" cy="840.1" r="1.02"/><circle cx="76.8" cy="840.2" r="1.02"/><circle cx="87.9" cy="840.3" r="1.02"/><circle cx="107.6" cy="840.4" r="1.02"/><circle cx="113.1" cy="840.5" r="1.02"/><circle cx="115.4" cy="840.5" r="1.02"/><circle cx="112.2" cy="840.6" r="1.02"/><circle cx="96.4" cy="840.6" r="1.02"/><circle cx="116.0" cy="840.7" r="1.02"/><circle cx="111.5" cy="840.8" r="1.02"/><circle cx="98.0" cy="840.9" r="1.02"/><circle cx="74.6" cy="840.9" r="1.02"/><circle cx="104.3" cy="841.1" r="1.02"/><circle cx="81.2" cy="841.1" r="1.02"/><circle cx="103.9" cy="841.2" r="1.02"/><circle cx="105.7" cy="841.3" r="1.02"/><circle cx="105.0" cy="841.3" r="1.02"/><circle cx="98.3" cy="841.4" r="1.02"/><circle cx="108.3" cy="841.5" r="1.02"/><circle cx="111.1" cy="841.6" r="1.02"/><circle cx="71.8" cy="841.7" r="1.02"/><circle cx="78.6" cy="841.7" r="1.02"/><circle cx="59.5" cy="841.8" r="1.02"/><circle cx="115.6" cy="841.9" r="1.02"/><circle cx="83.6" cy="842.0" r="1.02"/><circle cx="104.6" cy="842.1" r="1.02"/><circle cx="112.1" cy="842.1" r="1.02"/><circle cx="102.3" cy="842.2" r="1.02"/><circle cx="95.9" cy="842.3" r="1.02"/><circle cx="113.3" cy="842.3" r="1.02"/><circle cx="106.1" cy="842.4" r="1.02"/><circle cx="93.0" cy="842.5" r="1.02"/><circle cx="113.5" cy="842.5" r="1.02"/><circle cx="112.9" cy="842.7" r="1.02"/><circle cx="104.2" cy="842.7" r="1.02"/><circle cx="111.7" cy="842.7" r="1.02"/><circle cx="89.8" cy="842.8" r="1.02"/><circle cx="113.6" cy="842.9" r="1.02"/><circle cx="103.6" cy="843.0" r="1.02"/><circle cx="107.5" cy="843.1" r="1.02"/><circle cx="116.0" cy="843.1" r="1.02"/><circle cx="96.8" cy="843.3" r="1.02"/><circle cx="86.5" cy="843.3" r="1.02"/><circle cx="80.6" cy="843.4" r="1.02"/><circle cx="88.3" cy="843.5" r="1.02"/><circle cx="82.2" cy="843.5" r="1.02"/><circle cx="107.2" cy="843.6" r="1.02"/><circle cx="59.8" cy="843.7" r="1.02"/><circle cx="116.2" cy="843.8" r="1.02"/><circle cx="89.2" cy="843.8" r="1.02"/><circle cx="83.0" cy="843.9" r="1.02"/><circle cx="96.8" cy="844.0" r="1.02"/><circle cx="99.6" cy="844.1" r="1.02"/><circle cx="115.0" cy="844.2" r="1.02"/><circle cx="110.0" cy="844.2" r="1.02"/><circle cx="115.2" cy="844.3" r="1.02"/><circle cx="89.4" cy="844.4" r="1.02"/><circle cx="107.5" cy="844.4" r="1.02"/><circle cx="80.2" cy="844.5" r="1.02"/><circle cx="96.9" cy="844.6" r="1.02"/><circle cx="86.0" cy="844.6" r="1.02"/><circle cx="96.4" cy="844.8" r="1.02"/><circle cx="102.0" cy="844.8" r="1.02"/><circle cx="99.0" cy="844.9" r="1.02"/><circle cx="93.1" cy="845.0" r="1.02"/><circle cx="86.7" cy="845.1" r="1.02"/><circle cx="92.4" cy="845.1" r="1.02"/><circle cx="113.6" cy="845.2" r="1.02"/><circle cx="79.6" cy="845.3" r="1.02"/><circle cx="93.8" cy="845.4" r="1.02"/><circle cx="84.3" cy="845.5" r="1.02"/><circle cx="113.2" cy="845.5" r="1.02"/><circle cx="103.1" cy="845.6" r="1.02"/><circle cx="106.4" cy="845.7" r="1.02"/><circle cx="111.5" cy="845.8" r="1.02"/><circle cx="96.2" cy="845.8" r="1.02"/><circle cx="86.8" cy="845.9" r="1.02"/><circle cx="89.3" cy="846.0" r="1.02"/><circle cx="114.1" cy="846.1" r="1.02"/><circle cx="81.9" cy="846.1" r="1.02"/><circle cx="84.5" cy="846.2" r="1.02"/><circle cx="96.5" cy="846.3" r="1.02"/><circle cx="113.0" cy="846.3" r="1.02"/><circle cx="102.7" cy="846.4" r="1.02"/><circle cx="116.2" cy="846.5" r="1.02"/><circle cx="70.1" cy="846.6" r="1.02"/><circle cx="102.4" cy="846.7" r="1.02"/><circle cx="94.2" cy="846.8" r="1.02"/><circle cx="95.0" cy="846.8" r="1.02"/><circle cx="105.6" cy="846.9" r="1.02"/><circle cx="113.2" cy="846.9" r="1.02"/><circle cx="107.3" cy="847.0" r="1.02"/><circle cx="115.0" cy="847.1" r="1.02"/><circle cx="91.9" cy="847.2" r="1.02"/><circle cx="96.5" cy="847.3" r="1.02"/><circle cx="96.0" cy="847.3" r="1.02"/><circle cx="110.4" cy="847.4" r="1.02"/><circle cx="93.2" cy="847.4" r="1.02"/><circle cx="108.5" cy="847.6" r="1.02"/><circle cx="72.7" cy="847.6" r="1.02"/><circle cx="98.1" cy="847.7" r="1.02"/><circle cx="89.9" cy="847.8" r="1.02"/><circle cx="97.9" cy="847.9" r="1.02"/><circle cx="86.0" cy="847.9" r="1.02"/><circle cx="95.5" cy="848.0" r="1.02"/><circle cx="112.1" cy="848.1" r="1.02"/><circle cx="92.3" cy="848.2" r="1.02"/><circle cx="99.4" cy="848.2" r="1.02"/><circle cx="105.3" cy="848.3" r="1.02"/><circle cx="105.8" cy="848.4" r="1.02"/><circle cx="115.3" cy="848.5" r="1.02"/><circle cx="96.1" cy="848.5" r="1.02"/><circle cx="97.9" cy="848.6" r="1.02"/><circle cx="91.1" cy="848.7" r="1.02"/><circle cx="110.2" cy="848.7" r="1.02"/><circle cx="105.2" cy="848.8" r="1.02"/><circle cx="73.4" cy="848.9" r="1.02"/><circle cx="110.7" cy="849.0" r="1.02"/><circle cx="105.0" cy="849.0" r="1.02"/><circle cx="99.9" cy="849.1" r="1.02"/><circle cx="82.8" cy="849.2" r="1.02"/><circle cx="111.9" cy="849.3" r="1.02"/><circle cx="105.7" cy="849.4" r="1.02"/><circle cx="103.6" cy="849.5" r="1.02"/><circle cx="101.5" cy="849.5" r="1.02"/><circle cx="95.0" cy="849.6" r="1.02"/><circle cx="84.6" cy="849.7" r="1.02"/><circle cx="101.6" cy="849.7" r="1.02"/><circle cx="113.8" cy="849.9" r="1.02"/><circle cx="102.3" cy="849.9" r="1.02"/><circle cx="101.1" cy="850.0" r="1.02"/><circle cx="93.2" cy="850.0" r="1.02"/><circle cx="98.4" cy="850.1" r="1.02"/><circle cx="90.3" cy="850.2" r="1.02"/><circle cx="81.4" cy="850.3" r="1.02"/><circle cx="96.9" cy="850.3" r="1.02"/><circle cx="103.9" cy="850.4" r="1.02"/><circle cx="114.1" cy="850.5" r="1.02"/><circle cx="98.9" cy="850.6" r="1.02"/><circle cx="88.5" cy="850.7" r="1.02"/><circle cx="113.3" cy="850.8" r="1.02"/><circle cx="103.9" cy="850.8" r="1.02"/><circle cx="107.1" cy="850.9" r="1.02"/><circle cx="101.9" cy="851.0" r="1.02"/><circle cx="100.1" cy="851.0" r="1.02"/><circle cx="73.3" cy="851.1" r="1.02"/><circle cx="97.7" cy="851.2" r="1.02"/><circle cx="104.7" cy="851.3" r="1.02"/><circle cx="82.7" cy="851.4" r="1.02"/><circle cx="105.8" cy="851.4" r="1.02"/><circle cx="80.0" cy="851.5" r="1.02"/><circle cx="96.4" cy="851.6" r="1.02"/><circle cx="88.2" cy="851.6" r="1.02"/><circle cx="88.9" cy="851.7" r="1.02"/><circle cx="89.6" cy="851.8" r="1.02"/><circle cx="112.6" cy="851.9" r="1.02"/><circle cx="112.8" cy="852.0" r="1.02"/><circle cx="81.3" cy="852.1" r="1.02"/><circle cx="104.3" cy="852.1" r="1.02"/><circle cx="87.6" cy="852.2" r="1.02"/><circle cx="105.9" cy="852.3" r="1.02"/><circle cx="89.0" cy="852.3" r="1.02"/><circle cx="109.4" cy="852.4" r="1.02"/><circle cx="97.3" cy="852.5" r="1.02"/><circle cx="107.0" cy="852.5" r="1.02"/><circle cx="76.6" cy="852.7" r="1.02"/><circle cx="88.6" cy="852.7" r="1.02"/><circle cx="113.0" cy="852.8" r="1.02"/><circle cx="90.0" cy="852.9" r="1.02"/><circle cx="81.0" cy="852.9" r="1.02"/><circle cx="106.4" cy="853.0" r="1.02"/><circle cx="102.2" cy="853.1" r="1.02"/><circle cx="100.9" cy="853.2" r="1.02"/><circle cx="102.3" cy="853.2" r="1.02"/><circle cx="104.8" cy="853.3" r="1.02"/><circle cx="92.3" cy="853.4" r="1.02"/><circle cx="94.5" cy="853.5" r="1.02"/><circle cx="105.2" cy="853.5" r="1.02"/><circle cx="90.8" cy="853.6" r="1.02"/><circle cx="105.5" cy="853.7" r="1.02"/><circle cx="102.7" cy="853.7" r="1.02"/><circle cx="102.5" cy="853.8" r="1.02"/><circle cx="100.5" cy="853.9" r="1.02"/><circle cx="80.5" cy="854.0" r="1.02"/><circle cx="108.3" cy="854.0" r="1.02"/><circle cx="106.7" cy="854.2" r="1.02"/><circle cx="105.7" cy="854.2" r="1.02"/><circle cx="75.3" cy="854.3" r="1.02"/><circle cx="110.3" cy="854.3" r="1.02"/><circle cx="99.0" cy="854.4" r="1.02"/><circle cx="72.4" cy="854.5" r="1.02"/><circle cx="80.0" cy="854.6" r="1.02"/><circle cx="103.2" cy="854.7" r="1.02"/><circle cx="74.4" cy="854.7" r="1.02"/><circle cx="106.6" cy="854.8" r="1.02"/><circle cx="77.7" cy="854.9" r="1.02"/><circle cx="109.6" cy="854.9" r="1.02"/><circle cx="102.3" cy="855.0" r="1.02"/><circle cx="96.0" cy="855.1" r="1.02"/><circle cx="99.3" cy="855.2" r="1.02"/><circle cx="104.1" cy="855.3" r="1.02"/><circle cx="96.2" cy="855.4" r="1.02"/><circle cx="95.0" cy="855.4" r="1.02"/><circle cx="105.9" cy="855.5" r="1.02"/><circle cx="109.1" cy="855.6" r="1.02"/><circle cx="105.6" cy="855.7" r="1.02"/><circle cx="99.9" cy="855.7" r="1.02"/><circle cx="111.8" cy="855.8" r="1.02"/><circle cx="104.5" cy="855.8" r="1.02"/><circle cx="103.7" cy="855.9" r="1.02"/><circle cx="89.3" cy="856.0" r="1.02"/><circle cx="103.5" cy="856.1" r="1.02"/><circle cx="93.6" cy="856.2" r="1.02"/><circle cx="88.5" cy="856.3" r="1.02"/><circle cx="105.5" cy="856.3" r="1.02"/><circle cx="72.9" cy="856.4" r="1.02"/><circle cx="103.3" cy="856.5" r="1.02"/><circle cx="91.6" cy="856.5" r="1.02"/><circle cx="93.2" cy="856.7" r="1.02"/><circle cx="104.3" cy="856.7" r="1.02"/><circle cx="104.6" cy="856.8" r="1.02"/><circle cx="96.0" cy="856.8" r="1.02"/><circle cx="92.3" cy="856.9" r="1.02"/><circle cx="78.2" cy="857.0" r="1.02"/><circle cx="84.7" cy="857.1" r="1.02"/><circle cx="110.9" cy="857.2" r="1.02"/><circle cx="98.2" cy="857.3" r="1.02"/><circle cx="85.2" cy="857.3" r="1.02"/><circle cx="106.2" cy="857.4" r="1.02"/><circle cx="81.4" cy="857.5" r="1.02"/><circle cx="97.8" cy="857.5" r="1.02"/><circle cx="103.7" cy="857.6" r="1.02"/><circle cx="100.3" cy="857.7" r="1.02"/><circle cx="91.3" cy="857.8" r="1.02"/><circle cx="89.2" cy="857.8" r="1.02"/><circle cx="97.8" cy="858.0" r="1.02"/><circle cx="110.1" cy="858.0" r="1.02"/><circle cx="69.0" cy="858.1" r="1.02"/><circle cx="93.2" cy="858.1" r="1.02"/><circle cx="88.8" cy="858.2" r="1.02"/><circle cx="107.8" cy="858.3" r="1.02"/><circle cx="108.9" cy="858.3" r="1.02"/><circle cx="102.1" cy="858.5" r="1.02"/><circle cx="107.1" cy="858.6" r="1.02"/><circle cx="95.0" cy="858.6" r="1.02"/><circle cx="73.1" cy="858.6" r="1.02"/><circle cx="86.7" cy="858.8" r="1.02"/><circle cx="66.0" cy="858.8" r="1.02"/><circle cx="97.2" cy="858.9" r="1.02"/><circle cx="96.9" cy="859.0" r="1.02"/><circle cx="53.2" cy="859.0" r="1.02"/><circle cx="101.9" cy="859.1" r="1.02"/><circle cx="106.8" cy="859.2" r="1.02"/><circle cx="94.7" cy="859.3" r="1.02"/><circle cx="77.5" cy="859.3" r="1.02"/><circle cx="107.0" cy="859.4" r="1.02"/><circle cx="95.4" cy="859.5" r="1.02"/><circle cx="93.6" cy="859.6" r="1.02"/><circle cx="89.2" cy="859.6" r="1.02"/><circle cx="104.3" cy="859.8" r="1.02"/><circle cx="104.0" cy="859.8" r="1.02"/><circle cx="101.8" cy="859.9" r="1.02"/><circle cx="60.0" cy="859.9" r="1.02"/><circle cx="90.4" cy="860.0" r="1.02"/><circle cx="98.3" cy="860.1" r="1.02"/><circle cx="101.8" cy="860.2" r="1.02"/><circle cx="98.3" cy="860.3" r="1.02"/><circle cx="84.0" cy="860.3" r="1.02"/><circle cx="94.1" cy="860.4" r="1.02"/><circle cx="90.1" cy="860.5" r="1.02"/><circle cx="99.2" cy="860.5" r="1.02"/><circle cx="90.4" cy="860.7" r="1.02"/><circle cx="91.8" cy="860.7" r="1.02"/><circle cx="97.8" cy="860.8" r="1.02"/><circle cx="100.9" cy="860.9" r="1.02"/><circle cx="102.1" cy="861.0" r="1.02"/><circle cx="90.6" cy="861.0" r="1.02"/><circle cx="67.9" cy="861.1" r="1.02"/><circle cx="103.2" cy="861.2" r="1.02"/><circle cx="72.2" cy="861.3" r="1.02"/><circle cx="98.5" cy="861.3" r="1.02"/><circle cx="77.2" cy="861.4" r="1.02"/><circle cx="81.8" cy="861.4" r="1.02"/><circle cx="106.0" cy="861.5" r="1.02"/><circle cx="98.2" cy="861.6" r="1.02"/><circle cx="75.8" cy="861.7" r="1.02"/><circle cx="106.5" cy="861.8" r="1.02"/><circle cx="95.3" cy="861.8" r="1.02"/><circle cx="95.2" cy="861.9" r="1.02"/><circle cx="73.0" cy="862.0" r="1.02"/><circle cx="90.3" cy="862.1" r="1.02"/><circle cx="94.5" cy="862.2" r="1.02"/><circle cx="68.5" cy="862.2" r="1.02"/><circle cx="80.1" cy="862.3" r="1.02"/><circle cx="90.2" cy="862.4" r="1.02"/><circle cx="108.6" cy="862.4" r="1.02"/><circle cx="98.0" cy="862.5" r="1.02"/><circle cx="105.7" cy="862.6" r="1.02"/><circle cx="98.8" cy="862.7" r="1.02"/><circle cx="53.5" cy="862.8" r="1.02"/><circle cx="101.4" cy="862.8" r="1.02"/><circle cx="71.9" cy="862.9" r="1.02"/><circle cx="90.8" cy="863.0" r="1.02"/><circle cx="91.8" cy="863.1" r="1.02"/><circle cx="77.0" cy="863.1" r="1.02"/><circle cx="106.5" cy="863.2" r="1.02"/><circle cx="103.1" cy="863.3" r="1.02"/><circle cx="88.9" cy="863.4" r="1.02"/><circle cx="105.1" cy="863.5" r="1.02"/><circle cx="77.3" cy="863.5" r="1.02"/><circle cx="85.6" cy="863.6" r="1.02"/><circle cx="89.3" cy="863.6" r="1.02"/><circle cx="96.8" cy="863.8" r="1.02"/><circle cx="86.5" cy="863.8" r="1.02"/><circle cx="97.1" cy="863.9" r="1.02"/><circle cx="87.2" cy="864.0" r="1.02"/><circle cx="102.2" cy="864.1" r="1.02"/><circle cx="89.8" cy="864.1" r="1.02"/><circle cx="99.0" cy="864.2" r="1.02"/><circle cx="84.6" cy="864.3" r="1.02"/><circle cx="103.3" cy="864.4" r="1.02"/><circle cx="106.1" cy="864.5" r="1.02"/><circle cx="73.0" cy="864.5" r="1.02"/><circle cx="94.9" cy="864.6" r="1.02"/><circle cx="94.1" cy="864.6" r="1.02"/><circle cx="100.9" cy="864.7" r="1.02"/><circle cx="104.6" cy="864.8" r="1.02"/><circle cx="72.5" cy="864.9" r="1.02"/><circle cx="96.5" cy="865.0" r="1.02"/><circle cx="68.6" cy="865.0" r="1.02"/><circle cx="99.7" cy="865.1" r="1.02"/><circle cx="91.5" cy="865.2" r="1.02"/><circle cx="91.4" cy="865.3" r="1.02"/><circle cx="78.5" cy="865.3" r="1.02"/><circle cx="81.7" cy="865.4" r="1.02"/><circle cx="95.8" cy="865.5" r="1.02"/><circle cx="82.0" cy="865.6" r="1.02"/><circle cx="90.7" cy="865.7" r="1.02"/><circle cx="87.6" cy="865.7" r="1.02"/><circle cx="80.9" cy="865.8" r="1.02"/><circle cx="101.2" cy="865.9" r="1.02"/><circle cx="95.3" cy="866.0" r="1.02"/><circle cx="93.5" cy="866.0" r="1.02"/><circle cx="79.0" cy="866.1" r="1.02"/><circle cx="78.6" cy="866.2" r="1.02"/><circle cx="80.8" cy="866.3" r="1.02"/><circle cx="92.3" cy="866.3" r="1.02"/><circle cx="91.1" cy="866.4" r="1.02"/><circle cx="63.6" cy="866.5" r="1.02"/><circle cx="78.9" cy="866.6" r="1.02"/><circle cx="99.3" cy="866.6" r="1.02"/><circle cx="93.4" cy="866.7" r="1.02"/><circle cx="96.1" cy="866.7" r="1.02"/><circle cx="88.1" cy="866.8" r="1.02"/><circle cx="82.9" cy="866.9" r="1.02"/><circle cx="76.3" cy="867.0" r="1.02"/><circle cx="83.2" cy="867.1" r="1.02"/><circle cx="103.9" cy="867.2" r="1.02"/><circle cx="92.3" cy="867.2" r="1.02"/><circle cx="88.5" cy="867.3" r="1.02"/><circle cx="105.0" cy="867.4" r="1.02"/><circle cx="90.5" cy="867.5" r="1.02"/><circle cx="67.8" cy="867.5" r="1.02"/><circle cx="90.6" cy="867.6" r="1.02"/><circle cx="84.0" cy="867.7" r="1.02"/><circle cx="85.5" cy="867.8" r="1.02"/><circle cx="96.1" cy="867.8" r="1.02"/><circle cx="99.9" cy="867.9" r="1.02"/><circle cx="99.6" cy="868.0" r="1.02"/><circle cx="82.9" cy="868.0" r="1.02"/><circle cx="81.5" cy="868.2" r="1.02"/><circle cx="97.4" cy="868.2" r="1.02"/><circle cx="82.6" cy="868.3" r="1.02"/><circle cx="90.5" cy="868.4" r="1.02"/><circle cx="100.3" cy="868.4" r="1.02"/><circle cx="90.7" cy="868.5" r="1.02"/><circle cx="90.8" cy="868.6" r="1.02"/><circle cx="86.5" cy="868.7" r="1.02"/><circle cx="92.6" cy="868.7" r="1.02"/><circle cx="87.9" cy="868.9" r="1.02"/><circle cx="94.7" cy="868.9" r="1.02"/><circle cx="63.5" cy="869.0" r="1.02"/><circle cx="85.1" cy="869.0" r="1.02"/><circle cx="95.9" cy="869.1" r="1.02"/><circle cx="84.9" cy="869.2" r="1.02"/><circle cx="91.5" cy="869.3" r="1.02"/><circle cx="102.6" cy="869.4" r="1.02"/><circle cx="100.4" cy="869.4" r="1.02"/><circle cx="74.3" cy="869.5" r="1.02"/><circle cx="76.1" cy="869.6" r="1.02"/><circle cx="93.0" cy="869.6" r="1.02"/><circle cx="75.3" cy="869.7" r="1.02"/><circle cx="79.3" cy="869.8" r="1.02"/><circle cx="94.0" cy="869.9" r="1.02"/><circle cx="71.5" cy="870.0" r="1.02"/><circle cx="104.3" cy="870.1" r="1.02"/><circle cx="87.1" cy="870.1" r="1.02"/><circle cx="70.6" cy="870.2" r="1.02"/><circle cx="101.7" cy="870.3" r="1.02"/><circle cx="78.2" cy="870.3" r="1.02"/><circle cx="94.4" cy="870.4" r="1.02"/><circle cx="79.1" cy="870.5" r="1.02"/><circle cx="94.5" cy="870.5" r="1.02"/><circle cx="93.8" cy="870.6" r="1.02"/><circle cx="81.0" cy="870.7" r="1.02"/><circle cx="90.0" cy="870.8" r="1.02"/><circle cx="67.6" cy="870.9" r="1.02"/><circle cx="88.7" cy="871.0" r="1.02"/><circle cx="73.4" cy="871.0" r="1.02"/><circle cx="100.1" cy="871.1" r="1.02"/><circle cx="81.2" cy="871.1" r="1.02"/><circle cx="83.7" cy="871.3" r="1.02"/><circle cx="82.7" cy="871.3" r="1.02"/><circle cx="100.9" cy="871.4" r="1.02"/><circle cx="90.2" cy="871.5" r="1.02"/><circle cx="104.1" cy="871.5" r="1.02"/><circle cx="77.7" cy="871.6" r="1.02"/><circle cx="92.2" cy="871.7" r="1.02"/><circle cx="76.6" cy="871.8" r="1.02"/><circle cx="82.7" cy="871.9" r="1.02"/><circle cx="67.0" cy="871.9" r="1.02"/><circle cx="87.0" cy="872.0" r="1.02"/><circle cx="87.3" cy="872.1" r="1.02"/><circle cx="77.7" cy="872.1" r="1.02"/><circle cx="80.0" cy="872.3" r="1.02"/><circle cx="87.7" cy="872.3" r="1.02"/><circle cx="75.3" cy="872.4" r="1.02"/><circle cx="81.1" cy="872.5" r="1.02"/><circle cx="87.9" cy="872.5" r="1.02"/><circle cx="80.6" cy="872.6" r="1.02"/><circle cx="102.0" cy="872.7" r="1.02"/><circle cx="90.7" cy="872.8" r="1.02"/><circle cx="80.4" cy="872.9" r="1.02"/><circle cx="90.8" cy="872.9" r="1.02"/><circle cx="93.8" cy="873.0" r="1.02"/><circle cx="78.3" cy="873.0" r="1.02"/><circle cx="92.0" cy="873.2" r="1.02"/><circle cx="85.5" cy="873.2" r="1.02"/><circle cx="94.9" cy="873.3" r="1.02"/><circle cx="95.8" cy="873.4" r="1.02"/><circle cx="81.0" cy="873.4" r="1.02"/><circle cx="81.2" cy="873.5" r="1.02"/><circle cx="91.6" cy="873.6" r="1.02"/><circle cx="96.7" cy="873.7" r="1.02"/><circle cx="89.8" cy="873.7" r="1.02"/><circle cx="95.1" cy="873.8" r="1.02"/><circle cx="77.3" cy="873.9" r="1.02"/><circle cx="88.2" cy="873.9" r="1.02"/><circle cx="86.1" cy="874.0" r="1.02"/><circle cx="101.8" cy="874.1" r="1.02"/><circle cx="96.1" cy="874.2" r="1.02"/><circle cx="92.2" cy="874.3" r="1.02"/><circle cx="82.6" cy="874.4" r="1.02"/><circle cx="95.1" cy="874.4" r="1.02"/><circle cx="89.0" cy="874.5" r="1.02"/><circle cx="72.8" cy="874.6" r="1.02"/><circle cx="100.7" cy="874.7" r="1.02"/><circle cx="100.0" cy="874.7" r="1.02"/><circle cx="90.5" cy="874.8" r="1.02"/><circle cx="91.8" cy="874.9" r="1.02"/><circle cx="86.3" cy="874.9" r="1.02"/><circle cx="97.6" cy="875.0" r="1.02"/><circle cx="76.7" cy="875.1" r="1.02"/><circle cx="101.1" cy="875.2" r="1.02"/><circle cx="96.7" cy="875.2" r="1.02"/><circle cx="86.7" cy="875.3" r="1.02"/><circle cx="100.4" cy="875.4" r="1.02"/><circle cx="91.7" cy="875.5" r="1.02"/><circle cx="98.2" cy="875.6" r="1.02"/><circle cx="100.4" cy="875.6" r="1.02"/><circle cx="98.2" cy="875.7" r="1.02"/><circle cx="81.7" cy="875.8" r="1.02"/><circle cx="96.8" cy="875.8" r="1.02"/><circle cx="92.9" cy="875.9" r="1.02"/><circle cx="96.8" cy="876.0" r="1.02"/><circle cx="97.0" cy="876.1" r="1.02"/><circle cx="89.6" cy="876.1" r="1.02"/><circle cx="94.1" cy="876.2" r="1.02"/><circle cx="89.5" cy="876.3" r="1.02"/><circle cx="93.2" cy="876.4" r="1.02"/><circle cx="92.8" cy="876.5" r="1.02"/><circle cx="91.1" cy="876.6" r="1.02"/><circle cx="94.0" cy="876.6" r="1.02"/><circle cx="83.4" cy="876.7" r="1.02"/><circle cx="101.7" cy="876.8" r="1.02"/><circle cx="81.6" cy="876.9" r="1.02"/><circle cx="89.2" cy="877.0" r="1.02"/><circle cx="93.4" cy="877.0" r="1.02"/><circle cx="75.4" cy="877.0" r="1.02"/><circle cx="76.4" cy="877.1" r="1.02"/><circle cx="52.2" cy="877.2" r="1.02"/><circle cx="67.4" cy="877.3" r="1.02"/><circle cx="83.3" cy="877.4" r="1.02"/><circle cx="96.2" cy="877.4" r="1.02"/><circle cx="96.4" cy="877.5" r="1.02"/><circle cx="87.1" cy="877.6" r="1.02"/><circle cx="69.9" cy="877.7" r="1.02"/><circle cx="74.9" cy="877.7" r="1.02"/><circle cx="68.6" cy="877.8" r="1.02"/><circle cx="55.2" cy="877.9" r="1.02"/><circle cx="84.0" cy="878.0" r="1.02"/><circle cx="69.6" cy="878.0" r="1.02"/><circle cx="71.6" cy="878.1" r="1.02"/><circle cx="97.5" cy="878.2" r="1.02"/><circle cx="89.4" cy="878.2" r="1.02"/><circle cx="94.7" cy="878.4" r="1.02"/><circle cx="69.6" cy="878.4" r="1.02"/><circle cx="87.7" cy="878.5" r="1.02"/><circle cx="82.1" cy="878.6" r="1.02"/><circle cx="80.4" cy="878.6" r="1.02"/><circle cx="89.8" cy="878.7" r="1.02"/><circle cx="81.2" cy="878.8" r="1.02"/><circle cx="98.9" cy="878.9" r="1.02"/><circle cx="95.7" cy="878.9" r="1.02"/><circle cx="78.5" cy="879.1" r="1.02"/><circle cx="93.2" cy="879.1" r="1.02"/><circle cx="86.2" cy="879.2" r="1.02"/><circle cx="67.6" cy="879.3" r="1.02"/><circle cx="89.8" cy="879.3" r="1.02"/><circle cx="87.8" cy="879.4" r="1.02"/><circle cx="79.1" cy="879.5" r="1.02"/><circle cx="92.7" cy="879.6" r="1.02"/><circle cx="75.0" cy="879.7" r="1.02"/><circle cx="85.4" cy="879.8" r="1.02"/><circle cx="87.5" cy="879.8" r="1.02"/><circle cx="68.6" cy="879.9" r="1.02"/><circle cx="72.7" cy="880.0" r="1.02"/><circle cx="93.0" cy="880.0" r="1.02"/><circle cx="74.2" cy="880.1" r="1.02"/><circle cx="70.8" cy="880.2" r="1.02"/><circle cx="99.4" cy="880.3" r="1.02"/><circle cx="78.6" cy="880.4" r="1.02"/><circle cx="63.3" cy="880.4" r="1.02"/><circle cx="90.2" cy="880.5" r="1.02"/><circle cx="98.6" cy="880.6" r="1.02"/><circle cx="70.0" cy="880.6" r="1.02"/><circle cx="60.7" cy="880.7" r="1.02"/><circle cx="63.0" cy="880.8" r="1.02"/><circle cx="67.5" cy="880.9" r="1.02"/><circle cx="78.2" cy="880.9" r="1.02"/><circle cx="80.9" cy="881.0" r="1.02"/><circle cx="94.7" cy="881.1" r="1.02"/><circle cx="87.3" cy="881.1" r="1.02"/><circle cx="87.9" cy="881.2" r="1.02"/><circle cx="83.6" cy="881.3" r="1.02"/><circle cx="79.8" cy="881.4" r="1.02"/><circle cx="83.2" cy="881.5" r="1.02"/><circle cx="77.6" cy="881.6" r="1.02"/><circle cx="75.4" cy="881.6" r="1.02"/><circle cx="90.1" cy="881.7" r="1.02"/><circle cx="58.9" cy="881.8" r="1.02"/><circle cx="96.3" cy="881.8" r="1.02"/><circle cx="100.0" cy="882.0" r="1.02"/><circle cx="72.1" cy="882.0" r="1.02"/><circle cx="81.8" cy="882.1" r="1.02"/><circle cx="82.6" cy="882.2" r="1.02"/><circle cx="67.5" cy="882.2" r="1.02"/><circle cx="88.0" cy="882.3" r="1.02"/><circle cx="80.9" cy="882.4" r="1.02"/><circle cx="87.8" cy="882.4" r="1.02"/><circle cx="82.8" cy="882.5" r="1.02"/><circle cx="89.8" cy="882.6" r="1.02"/><circle cx="97.3" cy="882.7" r="1.02"/><circle cx="87.8" cy="882.7" r="1.02"/><circle cx="62.2" cy="882.8" r="1.02"/><circle cx="100.4" cy="882.9" r="1.02"/><circle cx="82.5" cy="883.0" r="1.02"/><circle cx="65.3" cy="883.0" r="1.02"/><circle cx="70.2" cy="883.1" r="1.02"/><circle cx="90.9" cy="883.2" r="1.02"/><circle cx="95.0" cy="883.3" r="1.02"/><circle cx="72.3" cy="883.3" r="1.02"/><circle cx="89.3" cy="883.4" r="1.02"/><circle cx="91.3" cy="883.5" r="1.02"/><circle cx="82.2" cy="883.6" r="1.02"/><circle cx="86.6" cy="883.6" r="1.02"/><circle cx="99.8" cy="883.7" r="1.02"/><circle cx="77.7" cy="883.8" r="1.02"/><circle cx="86.2" cy="883.9" r="1.02"/><circle cx="81.6" cy="884.0" r="1.02"/><circle cx="65.3" cy="884.1" r="1.02"/><circle cx="65.6" cy="884.1" r="1.02"/><circle cx="88.6" cy="884.2" r="1.02"/><circle cx="89.8" cy="884.3" r="1.02"/><circle cx="94.2" cy="884.4" r="1.02"/><circle cx="89.9" cy="884.4" r="1.02"/><circle cx="88.3" cy="884.5" r="1.02"/><circle cx="62.3" cy="884.6" r="1.02"/><circle cx="90.4" cy="884.6" r="1.02"/><circle cx="70.1" cy="884.7" r="1.02"/><circle cx="91.0" cy="884.8" r="1.02"/><circle cx="93.7" cy="884.9" r="1.02"/><circle cx="59.4" cy="885.0" r="1.02"/><circle cx="88.9" cy="885.0" r="1.02"/><circle cx="97.3" cy="885.1" r="1.02"/><circle cx="74.1" cy="885.2" r="1.02"/><circle cx="97.5" cy="885.2" r="1.02"/><circle cx="86.2" cy="885.3" r="1.02"/><circle cx="91.2" cy="885.4" r="1.02"/><circle cx="80.5" cy="885.5" r="1.02"/><circle cx="84.0" cy="885.6" r="1.02"/><circle cx="94.8" cy="885.6" r="1.02"/><circle cx="95.2" cy="885.7" r="1.02"/><circle cx="88.2" cy="885.8" r="1.02"/><circle cx="95.3" cy="885.8" r="1.02"/><circle cx="88.7" cy="886.0" r="1.02"/><circle cx="63.4" cy="886.0" r="1.02"/><circle cx="85.9" cy="886.1" r="1.02"/><circle cx="77.3" cy="886.1" r="1.02"/><circle cx="73.2" cy="886.2" r="1.02"/><circle cx="84.8" cy="886.3" r="1.02"/><circle cx="73.5" cy="886.4" r="1.02"/><circle cx="84.0" cy="886.4" r="1.02"/><circle cx="63.8" cy="886.5" r="1.02"/><circle cx="88.9" cy="886.6" r="1.02"/><circle cx="89.6" cy="886.7" r="1.02"/><circle cx="90.0" cy="886.8" r="1.02"/><circle cx="81.2" cy="886.8" r="1.02"/><circle cx="82.2" cy="886.9" r="1.02"/><circle cx="51.2" cy="887.0" r="1.02"/><circle cx="98.5" cy="887.1" r="1.02"/><circle cx="47.7" cy="887.1" r="1.02"/><circle cx="57.7" cy="887.2" r="1.02"/><circle cx="76.7" cy="887.3" r="1.02"/><circle cx="83.3" cy="887.3" r="1.02"/><circle cx="83.3" cy="887.5" r="1.02"/><circle cx="60.8" cy="887.5" r="1.02"/><circle cx="83.7" cy="887.6" r="1.02"/><circle cx="90.5" cy="887.7" r="1.02"/><circle cx="94.3" cy="887.8" r="1.02"/><circle cx="90.6" cy="887.8" r="1.02"/><circle cx="91.5" cy="887.9" r="1.02"/><circle cx="93.5" cy="887.9" r="1.02"/><circle cx="94.8" cy="888.1" r="1.02"/><circle cx="95.8" cy="888.1" r="1.02"/><circle cx="91.5" cy="888.2" r="1.02"/><circle cx="97.5" cy="888.3" r="1.02"/><circle cx="80.0" cy="888.4" r="1.02"/><circle cx="64.6" cy="888.4" r="1.02"/><circle cx="88.6" cy="888.5" r="1.02"/><circle cx="66.7" cy="888.6" r="1.02"/><circle cx="72.1" cy="888.7" r="1.02"/><circle cx="76.2" cy="888.7" r="1.02"/><circle cx="89.6" cy="888.8" r="1.02"/><circle cx="58.6" cy="888.9" r="1.02"/><circle cx="93.5" cy="888.9" r="1.02"/><circle cx="62.9" cy="889.0" r="1.02"/><circle cx="56.0" cy="889.1" r="1.02"/><circle cx="88.3" cy="889.2" r="1.02"/><circle cx="79.6" cy="889.3" r="1.02"/><circle cx="95.8" cy="889.4" r="1.02"/><circle cx="81.4" cy="889.4" r="1.02"/><circle cx="97.0" cy="889.5" r="1.02"/><circle cx="82.8" cy="889.5" r="1.02"/><circle cx="91.0" cy="889.6" r="1.02"/><circle cx="82.7" cy="889.7" r="1.02"/><circle cx="65.7" cy="889.8" r="1.02"/><circle cx="94.0" cy="889.9" r="1.02"/><circle cx="81.5" cy="890.0" r="1.02"/><circle cx="82.5" cy="890.0" r="1.02"/><circle cx="95.7" cy="890.1" r="1.02"/><circle cx="88.3" cy="890.1" r="1.02"/><circle cx="96.5" cy="890.3" r="1.02"/><circle cx="58.9" cy="890.3" r="1.02"/><circle cx="92.3" cy="890.4" r="1.02"/><circle cx="81.9" cy="890.4" r="1.02"/><circle cx="93.0" cy="890.6" r="1.02"/><circle cx="73.7" cy="890.6" r="1.02"/><circle cx="96.7" cy="890.7" r="1.02"/><circle cx="83.9" cy="890.8" r="1.02"/><circle cx="95.5" cy="890.8" r="1.02"/><circle cx="81.6" cy="890.9" r="1.02"/><circle cx="91.1" cy="891.0" r="1.02"/><circle cx="79.2" cy="891.1" r="1.02"/><circle cx="89.2" cy="891.2" r="1.02"/><circle cx="77.0" cy="891.2" r="1.02"/><circle cx="82.1" cy="891.3" r="1.02"/><circle cx="62.9" cy="891.4" r="1.02"/><circle cx="73.1" cy="891.5" r="1.02"/><circle cx="96.0" cy="891.5" r="1.02"/><circle cx="73.6" cy="891.6" r="1.02"/><circle cx="93.4" cy="891.6" r="1.02"/><circle cx="90.3" cy="891.8" r="1.02"/><circle cx="78.0" cy="891.8" r="1.02"/><circle cx="83.8" cy="891.9" r="1.02"/><circle cx="88.0" cy="891.9" r="1.02"/><circle cx="84.4" cy="892.0" r="1.02"/><circle cx="88.5" cy="892.2" r="1.02"/><circle cx="89.7" cy="892.2" r="1.02"/><circle cx="90.0" cy="892.3" r="1.02"/><circle cx="86.0" cy="892.3" r="1.02"/><circle cx="86.5" cy="892.4" r="1.02"/><circle cx="87.3" cy="892.5" r="1.02"/><circle cx="80.9" cy="892.6" r="1.02"/><circle cx="83.4" cy="892.6" r="1.02"/><circle cx="89.6" cy="892.7" r="1.02"/><circle cx="73.2" cy="892.8" r="1.02"/><circle cx="63.7" cy="892.9" r="1.02"/><circle cx="69.5" cy="893.0" r="1.02"/><circle cx="77.3" cy="893.1" r="1.02"/><circle cx="81.9" cy="893.1" r="1.02"/><circle cx="83.1" cy="893.2" r="1.02"/><circle cx="68.7" cy="893.3" r="1.02"/><circle cx="84.2" cy="893.3" r="1.02"/><circle cx="70.3" cy="893.5" r="1.02"/><circle cx="71.8" cy="893.5" r="1.02"/><circle cx="77.3" cy="893.6" r="1.02"/><circle cx="93.9" cy="893.7" r="1.02"/><circle cx="82.1" cy="893.7" r="1.02"/><circle cx="60.5" cy="893.8" r="1.02"/><circle cx="59.7" cy="893.9" r="1.02"/><circle cx="71.0" cy="894.0" r="1.02"/><circle cx="83.1" cy="894.0" r="1.02"/><circle cx="83.3" cy="894.1" r="1.02"/><circle cx="85.6" cy="894.2" r="1.02"/><circle cx="81.0" cy="894.3" r="1.02"/><circle cx="54.7" cy="894.4" r="1.02"/><circle cx="90.1" cy="894.4" r="1.02"/><circle cx="91.8" cy="894.5" r="1.02"/><circle cx="75.7" cy="894.6" r="1.02"/><circle cx="75.3" cy="894.6" r="1.02"/><circle cx="88.5" cy="894.7" r="1.02"/><circle cx="89.6" cy="894.8" r="1.02"/><circle cx="90.6" cy="894.8" r="1.02"/><circle cx="87.4" cy="894.9" r="1.02"/><circle cx="91.7" cy="895.0" r="1.02"/><circle cx="86.2" cy="895.1" r="1.02"/><circle cx="73.4" cy="895.1" r="1.02"/><circle cx="75.3" cy="895.3" r="1.02"/><circle cx="93.4" cy="895.3" r="1.02"/><circle cx="92.2" cy="895.4" r="1.02"/><circle cx="73.9" cy="895.4" r="1.02"/><circle cx="87.3" cy="895.6" r="1.02"/><circle cx="93.1" cy="895.6" r="1.02"/><circle cx="88.3" cy="895.7" r="1.02"/><circle cx="91.1" cy="895.7" r="1.02"/><circle cx="73.9" cy="895.8" r="1.02"/><circle cx="92.2" cy="895.9" r="1.02"/><circle cx="84.8" cy="896.0" r="1.02"/><circle cx="76.6" cy="896.1" r="1.02"/><circle cx="74.9" cy="896.2" r="1.02"/><circle cx="82.7" cy="896.2" r="1.02"/><circle cx="60.6" cy="896.3" r="1.02"/><circle cx="72.5" cy="896.4" r="1.02"/><circle cx="81.8" cy="896.5" r="1.02"/><circle cx="61.1" cy="896.5" r="1.02"/><circle cx="86.8" cy="896.6" r="1.02"/><circle cx="87.6" cy="896.7" r="1.02"/><circle cx="51.9" cy="896.8" r="1.02"/><circle cx="74.1" cy="896.9" r="1.02"/><circle cx="73.7" cy="896.9" r="1.02"/><circle cx="83.4" cy="897.0" r="1.02"/><circle cx="66.3" cy="897.0" r="1.02"/><circle cx="62.1" cy="897.1" r="1.02"/><circle cx="86.6" cy="897.2" r="1.02"/><circle cx="88.3" cy="897.3" r="1.02"/><circle cx="65.6" cy="897.4" r="1.02"/><circle cx="52.2" cy="897.5" r="1.02"/><circle cx="90.4" cy="897.5" r="1.02"/><circle cx="66.7" cy="897.6" r="1.02"/><circle cx="92.3" cy="897.7" r="1.02"/><circle cx="92.5" cy="897.8" r="1.02"/><circle cx="63.6" cy="897.8" r="1.02"/><circle cx="87.6" cy="897.9" r="1.02"/><circle cx="71.8" cy="898.0" r="1.02"/><circle cx="83.5" cy="898.0" r="1.02"/><circle cx="77.7" cy="898.1" r="1.02"/><circle cx="71.0" cy="898.2" r="1.02"/><circle cx="93.1" cy="898.3" r="1.02"/><circle cx="76.3" cy="898.4" r="1.02"/><circle cx="53.0" cy="898.4" r="1.02"/><circle cx="55.3" cy="898.5" r="1.02"/><circle cx="85.8" cy="898.6" r="1.02"/><circle cx="69.7" cy="898.7" r="1.02"/><circle cx="69.2" cy="898.7" r="1.02"/><circle cx="88.9" cy="898.8" r="1.02"/><circle cx="82.7" cy="898.9" r="1.02"/><circle cx="79.2" cy="899.0" r="1.02"/><circle cx="63.0" cy="899.0" r="1.02"/><circle cx="87.3" cy="899.1" r="1.02"/><circle cx="71.0" cy="899.2" r="1.02"/><circle cx="48.5" cy="899.3" r="1.02"/><circle cx="64.0" cy="899.3" r="1.02"/><circle cx="70.4" cy="899.4" r="1.02"/><circle cx="85.1" cy="899.5" r="1.02"/><circle cx="54.2" cy="899.5" r="1.02"/><circle cx="82.5" cy="899.7" r="1.02"/><circle cx="64.7" cy="899.7" r="1.02"/><circle cx="89.2" cy="899.8" r="1.02"/><circle cx="89.7" cy="899.9" r="1.02"/><circle cx="92.3" cy="899.9" r="1.02"/><circle cx="59.3" cy="900.0" r="1.02"/><circle cx="76.8" cy="900.1" r="1.02"/><circle cx="92.6" cy="900.1" r="1.02"/><circle cx="69.6" cy="900.2" r="1.02"/><circle cx="50.7" cy="900.3" r="1.02"/><circle cx="66.1" cy="900.4" r="1.02"/><circle cx="77.9" cy="900.4" r="1.02"/><circle cx="82.7" cy="900.5" r="1.02"/><circle cx="67.5" cy="900.6" r="1.02"/><circle cx="67.0" cy="900.7" r="1.02"/><circle cx="86.2" cy="900.7" r="1.02"/><circle cx="81.7" cy="900.8" r="1.02"/><circle cx="62.0" cy="900.9" r="1.02"/><circle cx="88.7" cy="901.0" r="1.02"/><circle cx="77.1" cy="901.1" r="1.02"/><circle cx="78.9" cy="901.1" r="1.02"/><circle cx="78.0" cy="901.2" r="1.02"/><circle cx="83.3" cy="901.3" r="1.02"/><circle cx="84.3" cy="901.4" r="1.02"/><circle cx="85.1" cy="901.4" r="1.02"/><circle cx="82.8" cy="901.5" r="1.02"/><circle cx="71.5" cy="901.6" r="1.02"/><circle cx="68.3" cy="901.7" r="1.02"/><circle cx="70.7" cy="901.8" r="1.02"/><circle cx="57.1" cy="901.8" r="1.02"/><circle cx="77.5" cy="901.9" r="1.02"/><circle cx="88.2" cy="902.0" r="1.02"/><circle cx="74.0" cy="902.0" r="1.02"/><circle cx="83.9" cy="902.1" r="1.02"/><circle cx="50.4" cy="902.2" r="1.02"/><circle cx="74.0" cy="902.3" r="1.02"/><circle cx="70.6" cy="902.3" r="1.02"/><circle cx="77.5" cy="902.4" r="1.02"/><circle cx="49.6" cy="902.5" r="1.02"/><circle cx="60.1" cy="902.6" r="1.02"/><circle cx="43.5" cy="902.7" r="1.02"/><circle cx="79.3" cy="902.7" r="1.02"/><circle cx="67.6" cy="902.8" r="1.02"/><circle cx="81.6" cy="902.9" r="1.02"/><circle cx="56.6" cy="903.0" r="1.02"/><circle cx="65.9" cy="903.0" r="1.02"/><circle cx="77.3" cy="903.1" r="1.02"/><circle cx="63.9" cy="903.2" r="1.02"/><circle cx="86.0" cy="903.3" r="1.02"/><circle cx="76.2" cy="903.3" r="1.02"/><circle cx="55.7" cy="903.4" r="1.02"/><circle cx="68.2" cy="903.5" r="1.02"/><circle cx="80.5" cy="903.5" r="1.02"/><circle cx="65.4" cy="903.6" r="1.02"/><circle cx="86.2" cy="903.7" r="1.02"/><circle cx="70.1" cy="903.8" r="1.02"/><circle cx="76.6" cy="903.9" r="1.02"/><circle cx="86.4" cy="903.9" r="1.02"/><circle cx="88.9" cy="904.0" r="1.02"/><circle cx="69.7" cy="904.1" r="1.02"/><circle cx="80.7" cy="904.1" r="1.02"/><circle cx="74.0" cy="904.2" r="1.02"/><circle cx="72.2" cy="904.3" r="1.02"/><circle cx="44.8" cy="904.4" r="1.02"/><circle cx="51.1" cy="904.5" r="1.02"/><circle cx="88.0" cy="904.5" r="1.02"/><circle cx="52.7" cy="904.6" r="1.02"/><circle cx="85.2" cy="904.7" r="1.02"/><circle cx="66.7" cy="904.8" r="1.02"/><circle cx="59.1" cy="904.8" r="1.02"/><circle cx="61.8" cy="904.9" r="1.02"/><circle cx="85.1" cy="905.0" r="1.02"/><circle cx="66.7" cy="905.1" r="1.02"/><circle cx="50.4" cy="905.2" r="1.02"/><circle cx="83.4" cy="905.2" r="1.02"/><circle cx="56.4" cy="905.3" r="1.02"/><circle cx="52.4" cy="905.4" r="1.02"/><circle cx="71.9" cy="905.5" r="1.02"/><circle cx="83.4" cy="905.5" r="1.02"/><circle cx="58.8" cy="905.6" r="1.02"/><circle cx="88.8" cy="905.7" r="1.02"/><circle cx="74.0" cy="905.8" r="1.02"/><circle cx="75.0" cy="905.9" r="1.02"/><circle cx="77.1" cy="905.9" r="1.02"/><circle cx="57.4" cy="906.0" r="1.02"/><circle cx="77.8" cy="906.1" r="1.02"/><circle cx="61.2" cy="906.1" r="1.02"/><circle cx="56.7" cy="906.2" r="1.02"/><circle cx="83.7" cy="906.3" r="1.02"/><circle cx="81.2" cy="906.3" r="1.02"/><circle cx="67.8" cy="906.5" r="1.02"/><circle cx="88.1" cy="906.5" r="1.02"/><circle cx="62.2" cy="906.6" r="1.02"/><circle cx="66.2" cy="906.7" r="1.02"/><circle cx="56.4" cy="906.7" r="1.02"/><circle cx="45.6" cy="906.8" r="1.02"/><circle cx="54.8" cy="906.9" r="1.02"/><circle cx="79.9" cy="907.0" r="1.02"/><circle cx="56.1" cy="907.1" r="1.02"/><circle cx="66.7" cy="907.1" r="1.02"/><circle cx="55.0" cy="907.2" r="1.02"/><circle cx="69.1" cy="907.3" r="1.02"/><circle cx="83.0" cy="907.3" r="1.02"/><circle cx="78.3" cy="907.5" r="1.02"/><circle cx="73.2" cy="907.5" r="1.02"/><circle cx="84.2" cy="907.6" r="1.02"/><circle cx="77.1" cy="907.7" r="1.02"/><circle cx="59.6" cy="907.8" r="1.02"/><circle cx="76.4" cy="907.8" r="1.02"/><circle cx="78.6" cy="907.9" r="1.02"/><circle cx="43.5" cy="908.0" r="1.02"/><circle cx="51.8" cy="908.0" r="1.02"/><circle cx="70.7" cy="908.1" r="1.02"/><circle cx="69.2" cy="908.2" r="1.02"/><circle cx="45.7" cy="908.2" r="1.02"/><circle cx="65.2" cy="908.3" r="1.02"/><circle cx="37.2" cy="908.4" r="1.02"/><circle cx="69.7" cy="908.5" r="1.02"/><circle cx="81.1" cy="908.6" r="1.02"/><circle cx="72.1" cy="908.6" r="1.02"/><circle cx="82.5" cy="908.7" r="1.02"/><circle cx="46.1" cy="908.8" r="1.02"/><circle cx="78.2" cy="908.9" r="1.02"/><circle cx="50.4" cy="908.9" r="1.02"/><circle cx="59.7" cy="909.0" r="1.02"/><circle cx="52.6" cy="909.1" r="1.02"/><circle cx="79.6" cy="909.2" r="1.02"/><circle cx="56.0" cy="909.2" r="1.02"/><circle cx="76.9" cy="909.3" r="1.02"/><circle cx="79.3" cy="909.4" r="1.02"/><circle cx="49.7" cy="909.4" r="1.02"/><circle cx="46.1" cy="909.5" r="1.02"/><circle cx="59.4" cy="909.6" r="1.02"/><circle cx="75.4" cy="909.7" r="1.02"/><circle cx="75.2" cy="909.8" r="1.02"/><circle cx="74.5" cy="909.8" r="1.02"/><circle cx="61.3" cy="910.0" r="1.02"/><circle cx="59.9" cy="910.0" r="1.02"/><circle cx="81.4" cy="910.1" r="1.02"/><circle cx="79.1" cy="910.1" r="1.02"/><circle cx="67.3" cy="910.2" r="1.02"/><circle cx="57.8" cy="910.3" r="1.02"/><circle cx="39.7" cy="910.4" r="1.02"/><circle cx="48.9" cy="910.4" r="1.02"/><circle cx="47.5" cy="910.6" r="1.02"/><circle cx="73.3" cy="910.6" r="1.02"/><circle cx="58.4" cy="910.7" r="1.02"/><circle cx="73.1" cy="910.7" r="1.02"/><circle cx="77.4" cy="910.9" r="1.02"/><circle cx="68.5" cy="910.9" r="1.02"/><circle cx="56.1" cy="911.0" r="1.02"/><circle cx="82.8" cy="911.1" r="1.02"/><circle cx="69.4" cy="911.2" r="1.02"/><circle cx="66.0" cy="911.2" r="1.02"/><circle cx="41.4" cy="911.3" r="1.02"/><circle cx="73.4" cy="911.4" r="1.02"/><circle cx="54.1" cy="911.4" r="1.02"/><circle cx="69.2" cy="911.5" r="1.02"/><circle cx="70.8" cy="911.6" r="1.02"/><circle cx="46.3" cy="911.7" r="1.02"/><circle cx="81.5" cy="911.8" r="1.02"/><circle cx="84.3" cy="911.8" r="1.02"/><circle cx="75.2" cy="911.9" r="1.02"/><circle cx="63.7" cy="912.0" r="1.02"/><circle cx="69.6" cy="912.1" r="1.02"/><circle cx="63.4" cy="912.2" r="1.02"/><circle cx="82.3" cy="912.2" r="1.02"/><circle cx="47.6" cy="912.2" r="1.02"/><circle cx="66.2" cy="912.3" r="1.02"/><circle cx="79.1" cy="912.4" r="1.02"/><circle cx="62.2" cy="912.5" r="1.02"/><circle cx="55.7" cy="912.6" r="1.02"/><circle cx="69.9" cy="912.7" r="1.02"/><circle cx="68.5" cy="912.7" r="1.02"/><circle cx="67.7" cy="912.8" r="1.02"/><circle cx="77.6" cy="912.9" r="1.02"/><circle cx="82.1" cy="912.9" r="1.02"/><circle cx="63.1" cy="913.0" r="1.02"/><circle cx="69.7" cy="913.1" r="1.02"/><circle cx="31.7" cy="913.2" r="1.02"/><circle cx="81.9" cy="913.3" r="1.02"/><circle cx="67.9" cy="913.3" r="1.02"/><circle cx="56.4" cy="913.4" r="1.02"/><circle cx="77.1" cy="913.4" r="1.02"/><circle cx="73.9" cy="913.6" r="1.02"/><circle cx="66.4" cy="913.7" r="1.02"/><circle cx="69.7" cy="913.7" r="1.02"/><circle cx="43.3" cy="913.8" r="1.02"/><circle cx="76.7" cy="913.9" r="1.02"/><circle cx="73.7" cy="914.0" r="1.02"/><circle cx="45.4" cy="914.0" r="1.02"/><circle cx="64.1" cy="914.1" r="1.02"/><circle cx="73.5" cy="914.2" r="1.02"/><circle cx="82.5" cy="914.2" r="1.02"/><circle cx="71.2" cy="914.3" r="1.02"/><circle cx="83.9" cy="914.4" r="1.02"/><circle cx="72.3" cy="914.4" r="1.02"/><circle cx="69.2" cy="914.5" r="1.02"/><circle cx="58.3" cy="914.6" r="1.02"/><circle cx="41.9" cy="914.7" r="1.02"/><circle cx="62.6" cy="914.8" r="1.02"/><circle cx="60.3" cy="914.9" r="1.02"/><circle cx="61.5" cy="914.9" r="1.02"/><circle cx="57.8" cy="915.0" r="1.02"/><circle cx="65.8" cy="915.1" r="1.02"/><circle cx="69.6" cy="915.1" r="1.02"/><circle cx="83.2" cy="915.2" r="1.02"/><circle cx="70.6" cy="915.3" r="1.02"/><circle cx="67.5" cy="915.4" r="1.02"/><circle cx="50.2" cy="915.4" r="1.02"/><circle cx="82.7" cy="915.6" r="1.02"/><circle cx="76.8" cy="915.6" r="1.02"/><circle cx="84.5" cy="915.7" r="1.02"/><circle cx="84.5" cy="915.7" r="1.02"/><circle cx="67.1" cy="915.8" r="1.02"/><circle cx="66.3" cy="915.9" r="1.02"/><circle cx="71.2" cy="916.0" r="1.02"/><circle cx="78.2" cy="916.0" r="1.02"/><circle cx="67.2" cy="916.2" r="1.02"/><circle cx="73.1" cy="916.2" r="1.02"/><circle cx="46.7" cy="916.3" r="1.02"/><circle cx="53.5" cy="916.4" r="1.02"/><circle cx="77.8" cy="916.4" r="1.02"/><circle cx="82.5" cy="916.5" r="1.02"/><circle cx="54.6" cy="916.6" r="1.02"/><circle cx="46.2" cy="916.6" r="1.02"/><circle cx="84.1" cy="916.8" r="1.02"/><circle cx="53.5" cy="916.8" r="1.02"/><circle cx="82.6" cy="916.9" r="1.02"/><circle cx="69.9" cy="917.0" r="1.02"/><circle cx="48.9" cy="917.0" r="1.02"/><circle cx="60.3" cy="917.1" r="1.02"/><circle cx="53.8" cy="917.2" r="1.02"/><circle cx="73.4" cy="917.3" r="1.02"/><circle cx="42.8" cy="917.4" r="1.02"/><circle cx="55.0" cy="917.4" r="1.02"/><circle cx="58.1" cy="917.5" r="1.02"/><circle cx="71.4" cy="917.6" r="1.02"/><circle cx="57.0" cy="917.6" r="1.02"/><circle cx="84.4" cy="917.7" r="1.02"/><circle cx="72.3" cy="917.8" r="1.02"/><circle cx="76.1" cy="917.9" r="1.02"/><circle cx="70.9" cy="917.9" r="1.02"/><circle cx="59.7" cy="918.0" r="1.02"/><circle cx="59.0" cy="918.1" r="1.02"/><circle cx="83.7" cy="918.2" r="1.02"/><circle cx="74.8" cy="918.2" r="1.02"/><circle cx="53.6" cy="918.3" r="1.02"/><circle cx="60.0" cy="918.4" r="1.02"/><circle cx="67.4" cy="918.5" r="1.02"/><circle cx="67.3" cy="918.6" r="1.02"/><circle cx="68.2" cy="918.6" r="1.02"/><circle cx="65.2" cy="918.7" r="1.02"/><circle cx="82.0" cy="918.8" r="1.02"/><circle cx="77.5" cy="918.8" r="1.02"/><circle cx="66.8" cy="918.9" r="1.02"/><circle cx="73.9" cy="919.0" r="1.02"/><circle cx="63.4" cy="919.1" r="1.02"/><circle cx="50.5" cy="919.2" r="1.02"/><circle cx="72.5" cy="919.2" r="1.02"/><circle cx="74.0" cy="919.3" r="1.02"/><circle cx="56.9" cy="919.4" r="1.02"/><circle cx="77.4" cy="919.4" r="1.02"/><circle cx="73.8" cy="919.6" r="1.02"/><circle cx="77.3" cy="919.6" r="1.02"/><circle cx="76.6" cy="919.7" r="1.02"/><circle cx="60.9" cy="919.8" r="1.02"/><circle cx="42.2" cy="919.9" r="1.02"/><circle cx="75.3" cy="919.9" r="1.02"/><circle cx="71.5" cy="920.0" r="1.02"/><circle cx="79.2" cy="920.0" r="1.02"/><circle cx="63.2" cy="920.1" r="1.02"/><circle cx="56.0" cy="920.2" r="1.02"/><circle cx="69.2" cy="920.3" r="1.02"/><circle cx="42.3" cy="920.3" r="1.02"/><circle cx="57.0" cy="920.4" r="1.02"/><circle cx="48.1" cy="920.5" r="1.02"/><circle cx="69.4" cy="920.6" r="1.02"/><circle cx="61.1" cy="920.7" r="1.02"/><circle cx="58.7" cy="920.7" r="1.02"/><circle cx="43.4" cy="920.9" r="1.02"/><circle cx="45.7" cy="920.9" r="1.02"/><circle cx="64.5" cy="921.0" r="1.02"/><circle cx="64.8" cy="921.0" r="1.02"/><circle cx="79.9" cy="921.1" r="1.02"/><circle cx="47.2" cy="921.2" r="1.02"/><circle cx="63.8" cy="921.3" r="1.02"/><circle cx="63.5" cy="921.4" r="1.02"/><circle cx="71.1" cy="921.5" r="1.02"/><circle cx="58.2" cy="921.5" r="1.02"/><circle cx="73.8" cy="921.6" r="1.02"/><circle cx="63.8" cy="921.7" r="1.02"/><circle cx="38.8" cy="921.8" r="1.02"/><circle cx="54.7" cy="921.8" r="1.02"/><circle cx="60.6" cy="921.9" r="1.02"/><circle cx="59.8" cy="921.9" r="1.02"/><circle cx="79.8" cy="922.0" r="1.02"/><circle cx="66.4" cy="922.1" r="1.02"/><circle cx="63.1" cy="922.2" r="1.02"/><circle cx="78.9" cy="922.3" r="1.02"/><circle cx="69.1" cy="922.3" r="1.02"/><circle cx="50.0" cy="922.4" r="1.02"/><circle cx="58.7" cy="922.5" r="1.02"/><circle cx="41.5" cy="922.6" r="1.02"/><circle cx="41.9" cy="922.7" r="1.02"/><circle cx="65.4" cy="922.7" r="1.02"/><circle cx="69.7" cy="922.8" r="1.02"/><circle cx="54.7" cy="922.8" r="1.02"/><circle cx="73.0" cy="923.0" r="1.02"/><circle cx="70.2" cy="923.0" r="1.02"/><circle cx="43.1" cy="923.1" r="1.02"/><circle cx="55.8" cy="923.2" r="1.02"/><circle cx="81.7" cy="923.3" r="1.02"/><circle cx="59.0" cy="923.3" r="1.02"/><circle cx="75.0" cy="923.4" r="1.02"/><circle cx="69.2" cy="923.5" r="1.02"/><circle cx="51.1" cy="923.6" r="1.02"/><circle cx="58.4" cy="923.6" r="1.02"/><circle cx="68.8" cy="923.7" r="1.02"/><circle cx="41.0" cy="923.8" r="1.02"/><circle cx="47.8" cy="923.9" r="1.02"/><circle cx="60.8" cy="923.9" r="1.02"/><circle cx="36.9" cy="924.0" r="1.02"/><circle cx="71.4" cy="924.1" r="1.02"/><circle cx="42.2" cy="924.2" r="1.02"/><circle cx="36.8" cy="924.2" r="1.02"/><circle cx="51.8" cy="924.3" r="1.02"/><circle cx="77.5" cy="924.4" r="1.02"/><circle cx="57.2" cy="924.4" r="1.02"/><circle cx="60.7" cy="924.5" r="1.02"/><circle cx="79.5" cy="924.6" r="1.02"/><circle cx="61.3" cy="924.7" r="1.02"/><circle cx="63.4" cy="924.8" r="1.02"/><circle cx="56.7" cy="924.8" r="1.02"/><circle cx="52.8" cy="924.9" r="1.02"/><circle cx="66.8" cy="925.0" r="1.02"/><circle cx="52.2" cy="925.0" r="1.02"/><circle cx="71.1" cy="925.1" r="1.02"/><circle cx="60.4" cy="925.2" r="1.02"/><circle cx="71.6" cy="925.3" r="1.02"/><circle cx="74.4" cy="925.4" r="1.02"/><circle cx="61.2" cy="925.5" r="1.02"/><circle cx="73.9" cy="925.5" r="1.02"/><circle cx="72.4" cy="925.6" r="1.02"/><circle cx="69.4" cy="925.7" r="1.02"/><circle cx="66.7" cy="925.7" r="1.02"/><circle cx="60.4" cy="925.8" r="1.02"/><circle cx="58.5" cy="925.9" r="1.02"/><circle cx="65.5" cy="926.0" r="1.02"/><circle cx="58.5" cy="926.0" r="1.02"/><circle cx="58.7" cy="926.1" r="1.02"/><circle cx="65.3" cy="926.2" r="1.02"/><circle cx="70.2" cy="926.3" r="1.02"/><circle cx="67.6" cy="926.3" r="1.02"/><circle cx="65.6" cy="926.4" r="1.02"/><circle cx="44.0" cy="926.5" r="1.02"/><circle cx="63.0" cy="926.6" r="1.02"/><circle cx="73.2" cy="926.7" r="1.02"/><circle cx="44.6" cy="926.8" r="1.02"/><circle cx="78.0" cy="926.8" r="1.02"/><circle cx="58.2" cy="926.9" r="1.02"/><circle cx="67.7" cy="926.9" r="1.02"/><circle cx="70.8" cy="927.0" r="1.02"/><circle cx="68.9" cy="927.1" r="1.02"/><circle cx="33.8" cy="927.2" r="1.02"/><circle cx="53.6" cy="927.3" r="1.02"/><circle cx="45.6" cy="927.3" r="1.02"/><circle cx="45.2" cy="927.4" r="1.02"/><circle cx="64.6" cy="927.5" r="1.02"/><circle cx="52.5" cy="927.6" r="1.02"/><circle cx="159.5" cy="776.0" r="1.02"/><circle cx="112.6" cy="879.8" r="1.02"/><circle cx="168.7" cy="771.1" r="1.02"/><circle cx="99.0" cy="905.8" r="1.02"/><circle cx="112.9" cy="869.2" r="1.02"/><circle cx="103.3" cy="899.4" r="1.02"/><circle cx="150.2" cy="791.0" r="1.02"/><circle cx="136.2" cy="832.4" r="1.02"/><circle cx="142.0" cy="797.8" r="1.02"/><circle cx="127.2" cy="828.1" r="1.02"/><circle cx="123.8" cy="854.6" r="1.02"/><circle cx="183.7" cy="763.0" r="1.02"/><circle cx="115.8" cy="858.9" r="1.02"/><circle cx="177.7" cy="760.8" r="1.02"/><circle cx="115.2" cy="865.5" r="1.02"/><circle cx="146.6" cy="801.2" r="1.02"/><circle cx="106.0" cy="896.4" r="1.02"/><circle cx="110.1" cy="892.0" r="1.02"/><circle cx="123.2" cy="855.6" r="1.02"/><circle cx="144.3" cy="791.4" r="1.02"/><circle cx="131.9" cy="838.9" r="1.02"/><circle cx="140.8" cy="797.5" r="1.02"/><circle cx="127.6" cy="835.4" r="1.02"/><circle cx="168.3" cy="771.8" r="1.02"/><circle cx="115.9" cy="855.4" r="1.02"/><circle cx="105.1" cy="903.2" r="1.02"/><circle cx="129.9" cy="823.7" r="1.02"/><circle cx="171.4" cy="768.7" r="1.02"/><circle cx="157.5" cy="777.1" r="1.02"/><circle cx="135.4" cy="821.2" r="1.02"/><circle cx="124.9" cy="854.4" r="1.02"/><circle cx="128.0" cy="830.3" r="1.02"/><circle cx="127.3" cy="852.2" r="1.02"/><circle cx="126.2" cy="839.6" r="1.02"/><circle cx="122.1" cy="861.6" r="1.02"/><circle cx="173.2" cy="767.6" r="1.02"/><circle cx="110.1" cy="869.0" r="1.02"/><circle cx="93.0" cy="911.7" r="1.02"/><circle cx="125.5" cy="848.8" r="1.02"/><circle cx="148.5" cy="787.2" r="1.02"/><circle cx="178.7" cy="762.9" r="1.02"/><circle cx="102.7" cy="906.2" r="1.02"/></g>
<rect x="30.50" y="752.50" width="172.00" height="176.10" fill="none" stroke="#444" stroke-width="0.9"/>
<rect x="220.20" y="751.30" width="183.40" height="177.20" fill="#fff" stroke="#111" stroke-width="1.8"/>
<polyline points="240.00,924.40 241.46,924.26 243.56,924.07 245.88,923.82 248.00,923.50 249.81,923.11 251.53,922.64 253.23,922.11 255.00,921.50 256.86,920.82 258.77,920.08 260.70,919.24 262.60,918.30 264.47,917.24 266.33,916.07 268.17,914.82 270.00,913.50 271.86,912.11 273.73,910.64 275.54,909.10 277.20,907.50 278.67,905.83 279.99,904.10 281.25,902.32 282.50,900.50 283.75,898.74 284.96,897.01 286.17,895.12 287.40,892.90 288.66,890.25 289.94,887.28 291.22,884.15 292.50,881.00 293.79,877.83 295.09,874.56 296.37,871.29 297.60,868.10 298.75,865.00 299.84,861.95 300.92,858.95 302.00,856.00 303.10,853.13 304.20,850.32 305.30,847.53 306.40,844.70 307.50,841.80 308.61,838.87 309.71,835.93 310.80,833.00 311.88,830.08 312.95,827.15 314.02,824.25 315.10,821.40 316.19,818.60 317.29,815.83 318.40,813.12 319.50,810.50 320.58,808.03 321.66,805.67 322.75,803.33 323.90,800.90 325.13,798.31 326.41,795.64 327.71,792.99 329.00,790.50 330.28,788.15 331.56,785.89 332.84,783.78 334.10,781.90 335.33,780.31 336.54,778.96 337.75,777.73 339.00,776.50 340.26,775.27 341.54,774.09 342.87,772.91 344.30,771.70 345.85,770.42 347.49,769.11 349.21,767.80 351.00,766.50 352.96,765.17 355.05,763.82 357.09,762.56 358.90,761.50 360.34,760.72 361.53,760.13 362.69,759.66 364.00,759.20 365.53,758.76 367.16,758.38 368.86,758.03 370.60,757.70 372.40,757.39 374.26,757.10 376.15,756.84 378.00,756.60 379.98,756.38 382.06,756.18 383.91,756.02 385.20,755.90" fill="none" stroke="#db4632" stroke-width="2.2" stroke-linecap="round"/>
<polyline points="224.6,925 240,924.4" fill="none" stroke="#d9452f" stroke-width="1.1" stroke-dasharray="2.5,2"/>
<polyline points="385.2,755.9 402.7,754.8" fill="none" stroke="#d9452f" stroke-width="1.3" stroke-dasharray="2.5,1.6"/>
<text x="400.30" y="717.60" font-size="14.00" fill="#2a1a18" font-weight="bold">j</text>
<text x="471.60" y="717.20" font-size="11.71" fill="#1c3366" font-weight="bold" textLength="154.20" lengthAdjust="spacingAndGlyphs">Enabling direct comparison</text>
<text x="424.2" y="832.0" font-size="7.2" fill="#333" text-anchor="middle" transform="rotate(-90 424.2 832.0)" textLength="118.5" lengthAdjust="spacingAndGlyphs">Log<tspan font-size="5" dy="1">2</tspan><tspan dy="-1"> gene expressions (copies/μL)</tspan></text>
<defs><linearGradient id="gb1" x1="0" x2="1" y1="0" y2="0"><stop offset="0" stop-color="#8f9393"/><stop offset="0.25" stop-color="#c9cdcf"/><stop offset="0.55" stop-color="#d4d7d8"/><stop offset="0.85" stop-color="#b2b6b7"/><stop offset="1" stop-color="#8f9393"/></linearGradient><linearGradient id="gb2" x1="0" x2="1" y1="0" y2="0"><stop offset="0" stop-color="#a9abab"/><stop offset="0.25" stop-color="#eceeee"/><stop offset="0.55" stop-color="#f4f5f5"/><stop offset="0.85" stop-color="#d2d4d4"/><stop offset="1" stop-color="#a9abab"/></linearGradient><linearGradient id="gb3" x1="0" x2="1" y1="0" y2="0"><stop offset="0" stop-color="#e8c4a0"/><stop offset="0.3" stop-color="#f8d6b3"/><stop offset="0.7" stop-color="#f8d6b3"/><stop offset="1" stop-color="#e3bf9c"/></linearGradient></defs>
<rect x="455.90" y="791.36" width="1.26" height="26.54" fill="#a3a7a7" stroke="none" stroke-width="1"/>
<rect x="451.20" y="790.36" width="4.70" height="27.54" fill="url(#gb1)" stroke="#5f6363" stroke-width="0.7"/>
<rect x="461.86" y="787.18" width="1.26" height="30.72" fill="#a3a7a7" stroke="none" stroke-width="1"/>
<rect x="457.16" y="786.18" width="4.70" height="31.72" fill="url(#gb1)" stroke="#5f6363" stroke-width="0.7"/>
<rect x="467.82" y="786.26" width="1.26" height="31.64" fill="#a3a7a7" stroke="none" stroke-width="1"/>
<rect x="463.12" y="785.26" width="4.70" height="32.64" fill="url(#gb1)" stroke="#5f6363" stroke-width="0.7"/>
<rect x="473.78" y="785.98" width="1.26" height="31.92" fill="#a3a7a7" stroke="none" stroke-width="1"/>
<rect x="469.08" y="784.98" width="4.70" height="32.92" fill="url(#gb1)" stroke="#5f6363" stroke-width="0.7"/>
<rect x="479.74" y="785.58" width="1.26" height="32.32" fill="#a3a7a7" stroke="none" stroke-width="1"/>
<rect x="475.04" y="784.58" width="4.70" height="33.32" fill="url(#gb1)" stroke="#5f6363" stroke-width="0.7"/>
<rect x="485.70" y="785.58" width="1.26" height="32.32" fill="#a3a7a7" stroke="none" stroke-width="1"/>
<rect x="481.00" y="784.58" width="4.70" height="33.32" fill="url(#gb1)" stroke="#5f6363" stroke-width="0.7"/>
<rect x="491.66" y="785.58" width="1.26" height="32.32" fill="#a3a7a7" stroke="none" stroke-width="1"/>
<rect x="486.96" y="784.58" width="4.70" height="33.32" fill="url(#gb1)" stroke="#5f6363" stroke-width="0.7"/>
<rect x="497.62" y="785.17" width="1.26" height="32.73" fill="#a3a7a7" stroke="none" stroke-width="1"/>
<rect x="492.92" y="784.17" width="4.70" height="33.73" fill="url(#gb1)" stroke="#5f6363" stroke-width="0.7"/>
<rect x="503.58" y="782.76" width="1.26" height="35.13" fill="#a3a7a7" stroke="none" stroke-width="1"/>
<rect x="498.88" y="781.76" width="4.70" height="36.13" fill="url(#gb1)" stroke="#5f6363" stroke-width="0.7"/>
<rect x="509.54" y="781.16" width="1.26" height="36.74" fill="#a3a7a7" stroke="none" stroke-width="1"/>
<rect x="504.84" y="780.16" width="4.70" height="37.74" fill="url(#gb1)" stroke="#5f6363" stroke-width="0.7"/>
<rect x="515.50" y="780.36" width="1.26" height="37.54" fill="#a3a7a7" stroke="none" stroke-width="1"/>
<rect x="510.80" y="779.36" width="4.70" height="38.54" fill="url(#gb1)" stroke="#5f6363" stroke-width="0.7"/>
<rect x="521.46" y="778.95" width="1.26" height="38.95" fill="#a3a7a7" stroke="none" stroke-width="1"/>
<rect x="516.76" y="777.95" width="4.70" height="39.95" fill="url(#gb1)" stroke="#5f6363" stroke-width="0.7"/>
<rect x="527.42" y="777.55" width="1.26" height="40.35" fill="#a3a7a7" stroke="none" stroke-width="1"/>
<rect x="522.72" y="776.55" width="4.70" height="41.35" fill="url(#gb1)" stroke="#5f6363" stroke-width="0.7"/>
<rect x="533.38" y="776.74" width="1.26" height="41.16" fill="#a3a7a7" stroke="none" stroke-width="1"/>
<rect x="528.68" y="775.74" width="4.70" height="42.16" fill="url(#gb1)" stroke="#5f6363" stroke-width="0.7"/>
<rect x="539.34" y="776.34" width="1.26" height="41.56" fill="#a3a7a7" stroke="none" stroke-width="1"/>
<rect x="534.64" y="775.34" width="4.70" height="42.56" fill="url(#gb1)" stroke="#5f6363" stroke-width="0.7"/>
<rect x="545.30" y="774.49" width="1.26" height="43.41" fill="#a3a7a7" stroke="none" stroke-width="1"/>
<rect x="540.60" y="773.49" width="4.70" height="44.41" fill="url(#gb1)" stroke="#5f6363" stroke-width="0.7"/>
<rect x="551.26" y="768.31" width="1.26" height="49.59" fill="#a3a7a7" stroke="none" stroke-width="1"/>
<rect x="546.56" y="767.31" width="4.70" height="50.59" fill="url(#gb1)" stroke="#5f6363" stroke-width="0.7"/>
<rect x="557.22" y="766.46" width="1.26" height="51.44" fill="#a3a7a7" stroke="none" stroke-width="1"/>
<rect x="552.52" y="765.46" width="4.70" height="52.44" fill="url(#gb1)" stroke="#5f6363" stroke-width="0.7"/>
<rect x="563.18" y="764.30" width="1.26" height="53.60" fill="#a3a7a7" stroke="none" stroke-width="1"/>
<rect x="558.48" y="763.30" width="4.70" height="54.60" fill="url(#gb1)" stroke="#5f6363" stroke-width="0.7"/>
<rect x="569.14" y="764.30" width="1.26" height="53.60" fill="#a3a7a7" stroke="none" stroke-width="1"/>
<rect x="564.44" y="763.30" width="4.70" height="54.60" fill="url(#gb1)" stroke="#5f6363" stroke-width="0.7"/>
<rect x="575.10" y="763.89" width="1.26" height="54.01" fill="#a3a7a7" stroke="none" stroke-width="1"/>
<rect x="570.40" y="762.89" width="4.70" height="55.01" fill="url(#gb1)" stroke="#5f6363" stroke-width="0.7"/>
<rect x="581.06" y="762.89" width="1.26" height="55.01" fill="#a3a7a7" stroke="none" stroke-width="1"/>
<rect x="576.36" y="761.89" width="4.70" height="56.01" fill="url(#gb1)" stroke="#5f6363" stroke-width="0.7"/>
<rect x="587.02" y="762.29" width="1.26" height="55.61" fill="#a3a7a7" stroke="none" stroke-width="1"/>
<rect x="582.32" y="761.29" width="4.70" height="56.61" fill="url(#gb1)" stroke="#5f6363" stroke-width="0.7"/>
<rect x="592.98" y="761.08" width="1.26" height="56.82" fill="#a3a7a7" stroke="none" stroke-width="1"/>
<rect x="588.28" y="760.08" width="4.70" height="57.82" fill="url(#gb1)" stroke="#5f6363" stroke-width="0.7"/>
<rect x="598.94" y="759.68" width="1.26" height="58.22" fill="#a3a7a7" stroke="none" stroke-width="1"/>
<rect x="594.24" y="758.68" width="4.70" height="59.22" fill="url(#gb1)" stroke="#5f6363" stroke-width="0.7"/>
<rect x="604.90" y="758.84" width="1.26" height="59.06" fill="#a3a7a7" stroke="none" stroke-width="1"/>
<rect x="600.20" y="757.84" width="4.70" height="60.06" fill="url(#gb1)" stroke="#5f6363" stroke-width="0.7"/>
<rect x="610.86" y="758.84" width="1.26" height="59.06" fill="#a3a7a7" stroke="none" stroke-width="1"/>
<rect x="606.16" y="757.84" width="4.70" height="60.06" fill="url(#gb1)" stroke="#5f6363" stroke-width="0.7"/>
<rect x="616.82" y="758.84" width="1.26" height="59.06" fill="#a3a7a7" stroke="none" stroke-width="1"/>
<rect x="612.12" y="757.84" width="4.70" height="60.06" fill="url(#gb1)" stroke="#5f6363" stroke-width="0.7"/>
<rect x="622.78" y="757.07" width="1.26" height="60.83" fill="#a3a7a7" stroke="none" stroke-width="1"/>
<rect x="618.08" y="756.07" width="4.70" height="61.83" fill="url(#gb1)" stroke="#5f6363" stroke-width="0.7"/>
<rect x="628.74" y="757.07" width="1.26" height="60.83" fill="#a3a7a7" stroke="none" stroke-width="1"/>
<rect x="624.04" y="756.07" width="4.70" height="61.83" fill="url(#gb1)" stroke="#5f6363" stroke-width="0.7"/>
<rect x="634.70" y="755.86" width="1.26" height="62.04" fill="#a3a7a7" stroke="none" stroke-width="1"/>
<rect x="630.00" y="754.86" width="4.70" height="63.04" fill="url(#gb1)" stroke="#5f6363" stroke-width="0.7"/>
<rect x="640.66" y="750.64" width="1.26" height="67.25" fill="#a3a7a7" stroke="none" stroke-width="1"/>
<rect x="635.96" y="749.64" width="4.70" height="68.25" fill="url(#gb1)" stroke="#5f6363" stroke-width="0.7"/>
<line x1="448.60" y1="736.80" x2="448.60" y2="818.70" stroke="#333" stroke-width="1.0"/>
<line x1="448.10" y1="818.10" x2="643.60" y2="818.10" stroke="#707070" stroke-width="1.6"/>
<line x1="446.80" y1="817.90" x2="448.60" y2="817.90" stroke="#333" stroke-width="0.7"/>
<text x="446.00" y="820.50" font-size="7.40" fill="#333" text-anchor="end">10</text>
<line x1="446.80" y1="797.82" x2="448.60" y2="797.82" stroke="#333" stroke-width="0.7"/>
<text x="446.00" y="800.42" font-size="7.40" fill="#333" text-anchor="end">15</text>
<line x1="446.80" y1="777.75" x2="448.60" y2="777.75" stroke="#333" stroke-width="0.7"/>
<text x="446.00" y="780.35" font-size="7.40" fill="#333" text-anchor="end">20</text>
<line x1="446.80" y1="757.67" x2="448.60" y2="757.67" stroke="#333" stroke-width="0.7"/>
<text x="446.00" y="760.27" font-size="7.40" fill="#333" text-anchor="end">25</text>
<line x1="446.80" y1="737.60" x2="448.60" y2="737.60" stroke="#333" stroke-width="0.7"/>
<text x="446.00" y="740.20" font-size="7.40" fill="#333" text-anchor="end">30</text>
<text x="455.15" y="821.50" font-size="5.0" fill="#3c3c3c" text-anchor="end" transform="rotate(-45 455.15 821.50)">TBP</text>
<text x="461.11" y="821.50" font-size="5.0" fill="#3c3c3c" text-anchor="end" transform="rotate(-45 461.11 821.50)">GPI</text>
<text x="467.07" y="821.50" font-size="5.0" fill="#3c3c3c" text-anchor="end" transform="rotate(-45 467.07 821.50)">PPIA</text>
<text x="473.03" y="821.50" font-size="5.0" fill="#3c3c3c" text-anchor="end" transform="rotate(-45 473.03 821.50)">ALAS1</text>
<text x="478.99" y="821.50" font-size="5.0" fill="#3c3c3c" text-anchor="end" transform="rotate(-45 478.99 821.50)">RPS18</text>
<text x="484.95" y="821.50" font-size="5.0" fill="#3c3c3c" text-anchor="end" transform="rotate(-45 484.95 821.50)">UBB</text>
<text x="490.91" y="821.50" font-size="5.0" fill="#3c3c3c" text-anchor="end" transform="rotate(-45 490.91 821.50)">REEP5</text>
<text x="496.87" y="821.50" font-size="5.0" fill="#3c3c3c" text-anchor="end" transform="rotate(-45 496.87 821.50)">VPS29</text>
<text x="502.83" y="821.50" font-size="5.0" fill="#3c3c3c" text-anchor="end" transform="rotate(-45 502.83 821.50)">YWHAZ</text>
<text x="508.79" y="821.50" font-size="5.0" fill="#3c3c3c" text-anchor="end" transform="rotate(-45 508.79 821.50)">IPO8</text>
<text x="514.75" y="821.50" font-size="5.0" fill="#3c3c3c" text-anchor="end" transform="rotate(-45 514.75 821.50)">CASC3</text>
<text x="520.71" y="821.50" font-size="5.0" fill="#3c3c3c" text-anchor="end" transform="rotate(-45 520.71 821.50)">TBP</text>
<text x="526.67" y="821.50" font-size="5.0" fill="#3c3c3c" text-anchor="end" transform="rotate(-45 526.67 821.50)">VCP</text>
<text x="532.63" y="821.50" font-size="5.0" fill="#3c3c3c" text-anchor="end" transform="rotate(-45 532.63 821.50)">HPRT1</text>
<text x="538.59" y="821.50" font-size="5.0" fill="#3c3c3c" text-anchor="end" transform="rotate(-45 538.59 821.50)">HMBS</text>
<text x="544.55" y="821.50" font-size="5.0" fill="#3c3c3c" text-anchor="end" transform="rotate(-45 544.55 821.50)">EEF1A1</text>
<text x="550.51" y="821.50" font-size="5.0" fill="#3c3c3c" text-anchor="end" transform="rotate(-45 550.51 821.50)">MRPL19</text>
<text x="556.47" y="821.50" font-size="5.0" fill="#3c3c3c" text-anchor="end" transform="rotate(-45 556.47 821.50)">CHMP2A</text>
<text x="562.43" y="821.50" font-size="5.0" fill="#3c3c3c" text-anchor="end" transform="rotate(-45 562.43 821.50)">C1orf43</text>
<text x="568.39" y="821.50" font-size="5.0" fill="#3c3c3c" text-anchor="end" transform="rotate(-45 568.39 821.50)">GUSB</text>
<text x="574.35" y="821.50" font-size="5.0" fill="#3c3c3c" text-anchor="end" transform="rotate(-45 574.35 821.50)">TFRC</text>
<text x="580.31" y="821.50" font-size="5.0" fill="#3c3c3c" text-anchor="end" transform="rotate(-45 580.31 821.50)">GAPDH</text>
<text x="586.27" y="821.50" font-size="5.0" fill="#3c3c3c" text-anchor="end" transform="rotate(-45 586.27 821.50)">SF3A1</text>
<text x="592.23" y="821.50" font-size="5.0" fill="#3c3c3c" text-anchor="end" transform="rotate(-45 592.23 821.50)">RAB7A</text>
<text x="598.19" y="821.50" font-size="5.0" fill="#3c3c3c" text-anchor="end" transform="rotate(-45 598.19 821.50)">PSMB4</text>
<text x="604.15" y="821.50" font-size="5.0" fill="#3c3c3c" text-anchor="end" transform="rotate(-45 604.15 821.50)">SDHA</text>
<text x="610.11" y="821.50" font-size="5.0" fill="#3c3c3c" text-anchor="end" transform="rotate(-45 610.11 821.50)">POLR2A</text>
<text x="616.07" y="821.50" font-size="5.0" fill="#3c3c3c" text-anchor="end" transform="rotate(-45 616.07 821.50)">NONO</text>
<text x="622.03" y="821.50" font-size="5.0" fill="#3c3c3c" text-anchor="end" transform="rotate(-45 622.03 821.50)">ZNF207</text>
<text x="627.99" y="821.50" font-size="5.0" fill="#3c3c3c" text-anchor="end" transform="rotate(-45 627.99 821.50)">SNRPD3</text>
<text x="633.95" y="821.50" font-size="5.0" fill="#3c3c3c" text-anchor="end" transform="rotate(-45 633.95 821.50)">B2M</text>
<text x="639.91" y="821.50" font-size="5.0" fill="#3c3c3c" text-anchor="end" transform="rotate(-45 639.91 821.50)">EEF1A1</text>
<rect x="455.60" y="910.82" width="1.07" height="17.18" fill="#b5b7b7" stroke="none" stroke-width="1"/>
<rect x="451.00" y="909.82" width="4.60" height="18.18" fill="url(#gb3)" stroke="#9a8470" stroke-width="0.7"/>
<rect x="461.27" y="908.44" width="1.07" height="19.56" fill="#b5b7b7" stroke="none" stroke-width="1"/>
<rect x="456.67" y="907.44" width="4.60" height="20.56" fill="url(#gb2)" stroke="#6d7070" stroke-width="0.7"/>
<rect x="466.93" y="900.33" width="1.07" height="27.67" fill="#b5b7b7" stroke="none" stroke-width="1"/>
<rect x="462.33" y="899.33" width="4.60" height="28.67" fill="url(#gb2)" stroke="#6d7070" stroke-width="0.7"/>
<rect x="472.60" y="895.46" width="1.07" height="32.54" fill="#b5b7b7" stroke="none" stroke-width="1"/>
<rect x="468.00" y="894.46" width="4.60" height="33.54" fill="url(#gb2)" stroke="#6d7070" stroke-width="0.7"/>
<rect x="478.27" y="894.38" width="1.07" height="33.62" fill="#b5b7b7" stroke="none" stroke-width="1"/>
<rect x="473.67" y="893.38" width="4.60" height="34.62" fill="url(#gb2)" stroke="#6d7070" stroke-width="0.7"/>
<rect x="483.94" y="893.29" width="1.07" height="34.71" fill="#b5b7b7" stroke="none" stroke-width="1"/>
<rect x="479.33" y="892.29" width="4.60" height="35.71" fill="url(#gb2)" stroke="#6d7070" stroke-width="0.7"/>
<rect x="489.60" y="892.21" width="1.07" height="35.79" fill="#b5b7b7" stroke="none" stroke-width="1"/>
<rect x="485.00" y="891.21" width="4.60" height="36.79" fill="url(#gb2)" stroke="#6d7070" stroke-width="0.7"/>
<rect x="495.27" y="891.67" width="1.07" height="36.33" fill="#b5b7b7" stroke="none" stroke-width="1"/>
<rect x="490.67" y="890.67" width="4.60" height="37.33" fill="url(#gb2)" stroke="#6d7070" stroke-width="0.7"/>
<rect x="500.94" y="890.59" width="1.07" height="37.41" fill="#b5b7b7" stroke="none" stroke-width="1"/>
<rect x="496.34" y="889.59" width="4.60" height="38.41" fill="url(#gb2)" stroke="#6d7070" stroke-width="0.7"/>
<rect x="506.60" y="890.05" width="1.07" height="37.95" fill="#b5b7b7" stroke="none" stroke-width="1"/>
<rect x="502.00" y="889.05" width="4.60" height="38.95" fill="url(#gb2)" stroke="#6d7070" stroke-width="0.7"/>
<rect x="512.27" y="888.97" width="1.07" height="39.03" fill="#b5b7b7" stroke="none" stroke-width="1"/>
<rect x="507.67" y="887.97" width="4.60" height="40.03" fill="url(#gb2)" stroke="#6d7070" stroke-width="0.7"/>
<rect x="517.94" y="887.88" width="1.07" height="40.12" fill="#b5b7b7" stroke="none" stroke-width="1"/>
<rect x="513.34" y="886.88" width="4.60" height="41.12" fill="url(#gb2)" stroke="#6d7070" stroke-width="0.7"/>
<rect x="523.60" y="886.26" width="1.07" height="41.74" fill="#b5b7b7" stroke="none" stroke-width="1"/>
<rect x="519.00" y="885.26" width="4.60" height="42.74" fill="url(#gb2)" stroke="#6d7070" stroke-width="0.7"/>
<rect x="529.27" y="885.45" width="1.07" height="42.55" fill="#b5b7b7" stroke="none" stroke-width="1"/>
<rect x="524.67" y="884.45" width="4.60" height="43.55" fill="url(#gb2)" stroke="#6d7070" stroke-width="0.7"/>
<rect x="534.94" y="885.45" width="1.07" height="42.55" fill="#b5b7b7" stroke="none" stroke-width="1"/>
<rect x="530.34" y="884.45" width="4.60" height="43.55" fill="url(#gb2)" stroke="#6d7070" stroke-width="0.7"/>
<rect x="540.61" y="884.64" width="1.07" height="43.36" fill="#b5b7b7" stroke="none" stroke-width="1"/>
<rect x="536.00" y="883.64" width="4.60" height="44.36" fill="url(#gb2)" stroke="#6d7070" stroke-width="0.7"/>
<rect x="546.27" y="884.64" width="1.07" height="43.36" fill="#b5b7b7" stroke="none" stroke-width="1"/>
<rect x="541.67" y="883.64" width="4.60" height="44.36" fill="url(#gb2)" stroke="#6d7070" stroke-width="0.7"/>
<rect x="551.94" y="884.37" width="1.07" height="43.63" fill="#b5b7b7" stroke="none" stroke-width="1"/>
<rect x="547.34" y="883.37" width="4.60" height="44.63" fill="url(#gb2)" stroke="#6d7070" stroke-width="0.7"/>
<rect x="557.61" y="883.83" width="1.07" height="44.17" fill="#b5b7b7" stroke="none" stroke-width="1"/>
<rect x="553.01" y="882.83" width="4.60" height="45.17" fill="url(#gb2)" stroke="#6d7070" stroke-width="0.7"/>
<rect x="563.27" y="883.29" width="1.07" height="44.71" fill="#b5b7b7" stroke="none" stroke-width="1"/>
<rect x="558.67" y="882.29" width="4.60" height="45.71" fill="url(#gb2)" stroke="#6d7070" stroke-width="0.7"/>
<rect x="568.94" y="883.01" width="1.07" height="44.99" fill="#b5b7b7" stroke="none" stroke-width="1"/>
<rect x="564.34" y="882.01" width="4.60" height="45.99" fill="url(#gb2)" stroke="#6d7070" stroke-width="0.7"/>
<rect x="574.61" y="883.01" width="1.07" height="44.99" fill="#b5b7b7" stroke="none" stroke-width="1"/>
<rect x="570.01" y="882.01" width="4.60" height="45.99" fill="url(#gb2)" stroke="#6d7070" stroke-width="0.7"/>
<rect x="580.27" y="883.01" width="1.07" height="44.99" fill="#b5b7b7" stroke="none" stroke-width="1"/>
<rect x="575.67" y="882.01" width="4.60" height="45.99" fill="url(#gb2)" stroke="#6d7070" stroke-width="0.7"/>
<rect x="585.94" y="881.93" width="1.07" height="46.07" fill="#b5b7b7" stroke="none" stroke-width="1"/>
<rect x="581.34" y="880.93" width="4.60" height="47.07" fill="url(#gb2)" stroke="#6d7070" stroke-width="0.7"/>
<rect x="591.61" y="880.31" width="1.07" height="47.69" fill="#b5b7b7" stroke="none" stroke-width="1"/>
<rect x="587.01" y="879.31" width="4.60" height="48.69" fill="url(#gb2)" stroke="#6d7070" stroke-width="0.7"/>
<rect x="597.27" y="877.06" width="1.07" height="50.94" fill="#b5b7b7" stroke="none" stroke-width="1"/>
<rect x="592.67" y="876.06" width="4.60" height="51.94" fill="url(#gb2)" stroke="#6d7070" stroke-width="0.7"/>
<rect x="602.94" y="877.06" width="1.07" height="50.94" fill="#b5b7b7" stroke="none" stroke-width="1"/>
<rect x="598.34" y="876.06" width="4.60" height="51.94" fill="url(#gb2)" stroke="#6d7070" stroke-width="0.7"/>
<rect x="608.61" y="875.44" width="1.07" height="52.56" fill="#b5b7b7" stroke="none" stroke-width="1"/>
<rect x="604.01" y="874.44" width="4.60" height="53.56" fill="url(#gb2)" stroke="#6d7070" stroke-width="0.7"/>
<rect x="614.28" y="873.82" width="1.07" height="54.18" fill="#b5b7b7" stroke="none" stroke-width="1"/>
<rect x="609.68" y="872.82" width="4.60" height="55.18" fill="url(#gb2)" stroke="#6d7070" stroke-width="0.7"/>
<rect x="619.94" y="873.82" width="1.07" height="54.18" fill="#b5b7b7" stroke="none" stroke-width="1"/>
<rect x="615.34" y="872.82" width="4.60" height="55.18" fill="url(#gb2)" stroke="#6d7070" stroke-width="0.7"/>
<rect x="625.61" y="872.20" width="1.07" height="55.80" fill="#b5b7b7" stroke="none" stroke-width="1"/>
<rect x="621.01" y="871.20" width="4.60" height="56.80" fill="url(#gb3)" stroke="#9a8470" stroke-width="0.7"/>
<rect x="631.28" y="864.62" width="1.07" height="63.38" fill="#b5b7b7" stroke="none" stroke-width="1"/>
<rect x="626.68" y="863.62" width="4.60" height="64.38" fill="url(#gb2)" stroke="#6d7070" stroke-width="0.7"/>
<rect x="636.94" y="863.54" width="1.07" height="64.46" fill="#b5b7b7" stroke="none" stroke-width="1"/>
<rect x="632.34" y="862.54" width="4.60" height="65.46" fill="url(#gb2)" stroke="#6d7070" stroke-width="0.7"/>
<rect x="642.61" y="858.67" width="1.07" height="69.33" fill="#b5b7b7" stroke="none" stroke-width="1"/>
<rect x="638.01" y="857.67" width="4.60" height="70.33" fill="url(#gb2)" stroke="#6d7070" stroke-width="0.7"/>
<line x1="448.60" y1="846.20" x2="448.60" y2="928.80" stroke="#333" stroke-width="1.0"/>
<line x1="448.10" y1="928.20" x2="644.80" y2="928.20" stroke="#707070" stroke-width="1.6"/>
<line x1="446.80" y1="928.00" x2="448.60" y2="928.00" stroke="#333" stroke-width="0.7"/>
<text x="446.00" y="930.60" font-size="7.40" fill="#333" text-anchor="end">10</text>
<line x1="446.80" y1="900.95" x2="448.60" y2="900.95" stroke="#333" stroke-width="0.7"/>
<text x="446.00" y="903.55" font-size="7.40" fill="#333" text-anchor="end">15</text>
<line x1="446.80" y1="873.90" x2="448.60" y2="873.90" stroke="#333" stroke-width="0.7"/>
<text x="446.00" y="876.50" font-size="7.40" fill="#333" text-anchor="end">20</text>
<line x1="446.80" y1="846.85" x2="448.60" y2="846.85" stroke="#333" stroke-width="0.7"/>
<text x="446.00" y="849.45" font-size="7.40" fill="#333" text-anchor="end">25</text>
<text x="454.50" y="931.60" font-size="5.0" fill="#3c3c3c" text-anchor="end" transform="rotate(-45 454.50 931.60)">REEP5</text>
<text x="460.17" y="931.60" font-size="5.0" fill="#3c3c3c" text-anchor="end" transform="rotate(-45 460.17 931.60)">GUSB</text>
<text x="465.83" y="931.60" font-size="5.0" fill="#3c3c3c" text-anchor="end" transform="rotate(-45 465.83 931.60)">PUM1</text>
<text x="471.50" y="931.60" font-size="5.0" fill="#3c3c3c" text-anchor="end" transform="rotate(-45 471.50 931.60)">UBB</text>
<text x="477.17" y="931.60" font-size="5.0" fill="#3c3c3c" text-anchor="end" transform="rotate(-45 477.17 931.60)">C1orf43</text>
<text x="482.83" y="931.60" font-size="5.0" fill="#3c3c3c" text-anchor="end" transform="rotate(-45 482.83 931.60)">UBC</text>
<text x="488.50" y="931.60" font-size="5.0" fill="#3c3c3c" text-anchor="end" transform="rotate(-45 488.50 931.60)">RPS18</text>
<text x="494.17" y="931.60" font-size="5.0" fill="#3c3c3c" text-anchor="end" transform="rotate(-45 494.17 931.60)">CHMP2A</text>
<text x="499.84" y="931.60" font-size="5.0" fill="#3c3c3c" text-anchor="end" transform="rotate(-45 499.84 931.60)">B2M</text>
<text x="505.50" y="931.60" font-size="5.0" fill="#3c3c3c" text-anchor="end" transform="rotate(-45 505.50 931.60)">ALAS1</text>
<text x="511.17" y="931.60" font-size="5.0" fill="#3c3c3c" text-anchor="end" transform="rotate(-45 511.17 931.60)">MRPL19</text>
<text x="516.84" y="931.60" font-size="5.0" fill="#3c3c3c" text-anchor="end" transform="rotate(-45 516.84 931.60)">SNRPD3</text>
<text x="522.50" y="931.60" font-size="5.0" fill="#3c3c3c" text-anchor="end" transform="rotate(-45 522.50 931.60)">PPIA</text>
<text x="528.17" y="931.60" font-size="5.0" fill="#3c3c3c" text-anchor="end" transform="rotate(-45 528.17 931.60)">EEF1A1</text>
<text x="533.84" y="931.60" font-size="5.0" fill="#3c3c3c" text-anchor="end" transform="rotate(-45 533.84 931.60)">ZNF207</text>
<text x="539.50" y="931.60" font-size="5.0" fill="#3c3c3c" text-anchor="end" transform="rotate(-45 539.50 931.60)">GPI</text>
<text x="545.17" y="931.60" font-size="5.0" fill="#3c3c3c" text-anchor="end" transform="rotate(-45 545.17 931.60)">HMBS</text>
<text x="550.84" y="931.60" font-size="5.0" fill="#3c3c3c" text-anchor="end" transform="rotate(-45 550.84 931.60)">NONO</text>
<text x="556.51" y="931.60" font-size="5.0" fill="#3c3c3c" text-anchor="end" transform="rotate(-45 556.51 931.60)">PSMB2</text>
<text x="562.17" y="931.60" font-size="5.0" fill="#3c3c3c" text-anchor="end" transform="rotate(-45 562.17 931.60)">HPRT1</text>
<text x="567.84" y="931.60" font-size="5.0" fill="#3c3c3c" text-anchor="end" transform="rotate(-45 567.84 931.60)">POLR2A</text>
<text x="573.51" y="931.60" font-size="5.0" fill="#3c3c3c" text-anchor="end" transform="rotate(-45 573.51 931.60)">PSMC4</text>
<text x="579.17" y="931.60" font-size="5.0" fill="#3c3c3c" text-anchor="end" transform="rotate(-45 579.17 931.60)">VCP</text>
<text x="584.84" y="931.60" font-size="5.0" fill="#3c3c3c" text-anchor="end" transform="rotate(-45 584.84 931.60)">SDHA</text>
<text x="590.51" y="931.60" font-size="5.0" fill="#3c3c3c" text-anchor="end" transform="rotate(-45 590.51 931.60)">RPL13A</text>
<text x="596.17" y="931.60" font-size="5.0" fill="#3c3c3c" text-anchor="end" transform="rotate(-45 596.17 931.60)">TBP</text>
<text x="601.84" y="931.60" font-size="5.0" fill="#3c3c3c" text-anchor="end" transform="rotate(-45 601.84 931.60)">PSMB4</text>
<text x="607.51" y="931.60" font-size="5.0" fill="#3c3c3c" text-anchor="end" transform="rotate(-45 607.51 931.60)">PGK1</text>
<text x="613.18" y="931.60" font-size="5.0" fill="#3c3c3c" text-anchor="end" transform="rotate(-45 613.18 931.60)">CASC3</text>
<text x="618.84" y="931.60" font-size="5.0" fill="#3c3c3c" text-anchor="end" transform="rotate(-45 618.84 931.60)">RAB7A</text>
<text x="624.51" y="931.60" font-size="5.0" fill="#3c3c3c" text-anchor="end" transform="rotate(-45 624.51 931.60)">RPLP0</text>
<text x="630.18" y="931.60" font-size="5.0" fill="#3c3c3c" text-anchor="end" transform="rotate(-45 630.18 931.60)">IPO8</text>
<text x="635.84" y="931.60" font-size="5.0" fill="#3c3c3c" text-anchor="end" transform="rotate(-45 635.84 931.60)">SF3A1</text>
<text x="641.51" y="931.60" font-size="5.0" fill="#3c3c3c" text-anchor="end" transform="rotate(-45 641.51 931.60)">EMC7</text>
</svg></body></html>
